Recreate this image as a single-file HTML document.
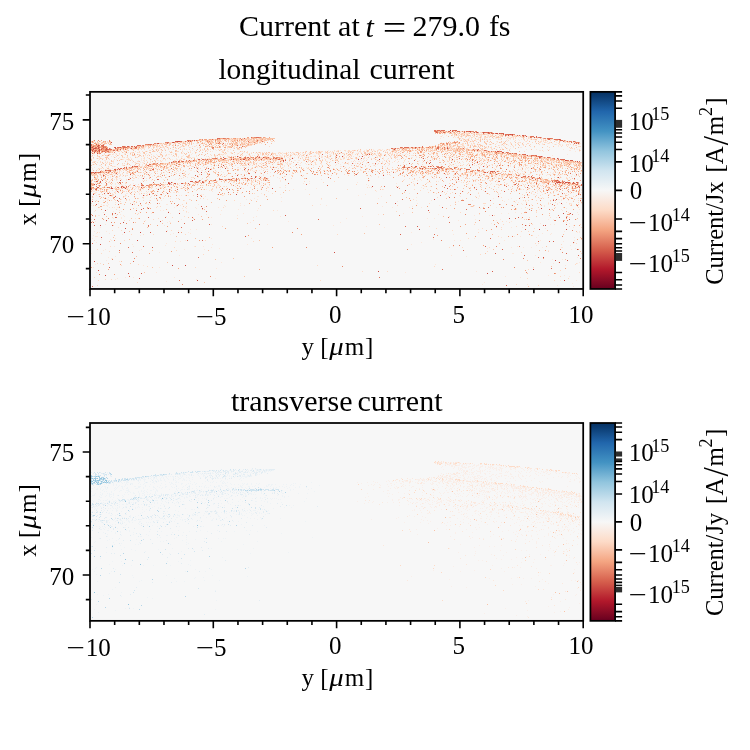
<!DOCTYPE html>
<html lang="en"><head><meta charset="utf-8"><title>Current at t = 279.0 fs</title>
<style>html,body{margin:0;padding:0;background:#fff}body{width:750px;height:750px;overflow:hidden}</style></head>
<body>
<svg width="750" height="750" viewBox="0 0 750 750" style="display:block;font-family:'Liberation Serif', 'DejaVu Serif', serif">
<rect width="750" height="750" fill="#fff"/>
<defs><linearGradient id="rdbu" x1="0" y1="1" x2="0" y2="0">
<stop offset="0.0" stop-color="#67001f"/>
<stop offset="0.1" stop-color="#b2182b"/>
<stop offset="0.2" stop-color="#d6604d"/>
<stop offset="0.3" stop-color="#f4a582"/>
<stop offset="0.4" stop-color="#fddbc7"/>
<stop offset="0.5" stop-color="#f7f7f7"/>
<stop offset="0.6" stop-color="#d1e5f0"/>
<stop offset="0.7" stop-color="#92c5de"/>
<stop offset="0.8" stop-color="#4393c3"/>
<stop offset="0.9" stop-color="#2166ac"/>
<stop offset="1.0" stop-color="#053061"/>
</linearGradient></defs>
<text><tspan x="238.97" y="36.00" font-size="30.00">Current at</tspan> <tspan x="365.58" y="36.70" font-size="30.00" font-style="italic">t</tspan> <tspan x="382.72" y="39.40" font-size="33.00" textLength="23.51" lengthAdjust="spacingAndGlyphs">=</tspan> <tspan x="412.38" y="36.00" font-size="30.00">279.0</tspan> <tspan x="488.88" y="36.00" font-size="30.00">fs</tspan></text>
<g>
<rect x="90.00" y="91.85" width="493.20" height="197.10" fill="#f7f7f7"/>
<path d="M165 143.5h1M190 140.5h1.5M134 146.5h3M187 140.5h3M181 141.5h1M150 145.5h3M135 146.5h2M131 147.5h1M180 141.5h1M198 140.5h1M126 147.5h3M163 143.5h3M112 149.5h1M155 144.5h1M150 144.5h2M165 143.5h2M109 150.5h1M170 142.5h3M131 146.5h2.5M188 141.5h2M175 141.5h2M115 148.5h3M157 143.5h1.5M153 144.5h3M187 140.5h2.5M142 145.5h1M161 143.5h3M129 147.5h3M144 145.5h2.5M169 142.5h1.5M185 141.5h1M191 140.5h1M120 148.5h2M158 143.5h2M141 145.5h3M129 147.5h2.5M187 141.5h2.5M157 143.5h2.5M176 142.5h2.5M110 150.5h1M141 145.5h3M162 143.5h1M190 140.5h3M193 140.5h2M107 150.5h3M109 150.5h1M155 143.5h1M138 146.5h2M195 140.5h1.5M189 141.5h3M114 149.5h1M155 144.5h2.5M195 140.5h1.5M126 147.5h2.5M191 140.5h2.5M184 141.5h2.5M118 148.5h1M151 144.5h3M168 142.5h1.5M231 138.5h1M252 138.5h1.5M237 138.5h3M262 138.5h2M205 140.5h3M228 139.5h1.5M219 138.5h3M234 138.5h1.5M215 139.5h3M242 139.5h1.5M204 139.5h1M244 138.5h1.5M239 138.5h1M219 139.5h2.5M260 138.5h1M135 147.5h1M120 149.5h2.5M118 150.5h1.5M115 150.5h1M127 148.5h2M107 151.5h1.5M129 147.5h2.5M115 150.5h2.5M132 146.5h2M119 149.5h1M106 151.5h2M106 152.5h3M114 150.5h3M122 149.5h3M117 149.5h1.5M108 150.5h1.5M138 146.5h2M127 146.5h2.5M123 147.5h1M133 147.5h2.5M136 147.5h1M136 147.5h2M138 146.5h2M132 148.5h2M137 146.5h1M118 148.5h2.5M122 149.5h1.5M125 149.5h1M102 151.5h1M91 145.5h1M95 148.5h1M97 145.5h1M98 147.5h1M93 148.5h1M92 148.5h1M106 151.5h1M97 149.5h1M94 149.5h1M101 146.5h1M103 147.5h1M91 145.5h1M98 146.5h1M93 146.5h1M93 148.5h1M93 152.5h1M95 150.5h1M106 149.5h1M97 147.5h1M103 145.5h1M98 146.5h1M103 149.5h1M106 150.5h1M93 145.5h1M101 149.5h1M106 147.5h1M105 151.5h1M93 149.5h1M99 145.5h1M105 147.5h1M95 147.5h1M97 146.5h1M103 150.5h1M97 147.5h1M102 149.5h1M104 150.5h1M96 144.5h1M103 147.5h1M101 151.5h1M91 146.5h1M93 149.5h1M105 149.5h1M91 152.5h1M97 152.5h1M96 150.5h1M95 151.5h1M94 149.5h1M92 149.5h1M105 151.5h1M98 146.5h1M106 149.5h1M94 149.5h1M96 148.5h1M95 146.5h1M96 146.5h1M111 142.5h1M115 149.5h3M123 147.5h1.5M114 149.5h2M113 150.5h2M121 148.5h1.5M124 149.5h1M104 149.5h2M117 147.5h1.5M113 150.5h1M125 149.5h1.5M124 147.5h1M120 148.5h2M121 149.5h1M104 151.5h1M114 147.5h2M107 151.5h1.5M116 150.5h2M105 150.5h2M103 151.5h2M121 148.5h1M112 149.5h1M114 149.5h2M107 149.5h1.5M109 151.5h2.5M113 149.5h1M127 147.5h2.5M122 149.5h1.5M107 151.5h1M120 147.5h3M136 166.5h2M100 171.5h1M125 168.5h1.5M93 173.5h3M132 168.5h1M132 166.5h2M117 170.5h1M118 169.5h2.5M125 167.5h1M94 173.5h2M129 167.5h2M122 169.5h1M101 172.5h3M108 170.5h2.5M132 167.5h2.5M104 171.5h3M136 166.5h2.5M95 172.5h2M92 174.5h1M125 167.5h1M93 172.5h1.5M123 168.5h1M114 169.5h3M118 169.5h1.5M133 166.5h3M269 158.5h3M165 164.5h1M266 157.5h2M187 161.5h1M254 158.5h3M269 158.5h3M198 159.5h2.5M211 159.5h1M223 159.5h3M259 157.5h1.5M142 166.5h1M281 158.5h1.5M206 159.5h1M164 163.5h3M188 160.5h2M240 157.5h1M249 158.5h3M244 157.5h2.5M183 161.5h3M220 158.5h1M187 161.5h2M251 157.5h2M265 158.5h3M207 159.5h2.5M196 160.5h1M223 159.5h2M148 165.5h2M245 158.5h1M176 162.5h2.5M185 161.5h1M171 162.5h1.5M193 160.5h2M276 157.5h1M251 158.5h1M192 160.5h1M192 161.5h3M232 158.5h1M249 157.5h1M255 157.5h1M280 158.5h1.5M271 158.5h1M280 158.5h1.5M281 159.5h1M249 159.5h2M257 158.5h1M252 159.5h2M243 158.5h2.5M258 158.5h1M273 158.5h1M260 158.5h3M261 158.5h1M261 158.5h2M242 159.5h2.5M258 158.5h2M255 159.5h1M238 158.5h3M257 156.5h2.5M253 159.5h2.5M247 158.5h3M253 158.5h1M255 159.5h3M249 158.5h2M253 158.5h1.5M266 158.5h2.5M262 158.5h2M262 158.5h2.5M248 158.5h2M275 159.5h1.5M266 159.5h3M255 159.5h1M263 158.5h2M268 158.5h2.5M249 159.5h3M239 158.5h2M261 158.5h1M241 158.5h1M240 159.5h2.5M240 159.5h3M257 158.5h1M267 158.5h1M255 158.5h1.5M278 159.5h2M255 159.5h1.5M247 158.5h2M265 158.5h1M250 158.5h2.5M264 158.5h2.5M260 158.5h2.5M245 159.5h2.5M278 159.5h1M267 159.5h3M255 159.5h3M273 158.5h1.5M240 158.5h3M253 157.5h1M247 160.5h1M282 159.5h1M270 159.5h1M240 158.5h3M259 158.5h2M266 158.5h1M280 159.5h2M278 159.5h1M274 159.5h1M278 158.5h1M269 159.5h2.5M256 157.5h1M274 159.5h2M238 158.5h2M268 158.5h3M245 159.5h2.5M240 158.5h2M244 159.5h1M253 159.5h1M230 179.5h3M173 183.5h3M98 188.5h1M118 189.5h1.5M259 178.5h2.5M264 177.5h1.5M209 181.5h1M181 183.5h2.5M198 181.5h1M221 179.5h1M188 183.5h1M265 178.5h2.5M109 187.5h1M190 181.5h3M102 187.5h1M228 179.5h2M168 183.5h1M202 182.5h2M245 178.5h3M230 180.5h3M97 187.5h2M168 182.5h1.5M156 185.5h2.5M199 180.5h1.5M96 188.5h1M224 179.5h1.5M195 181.5h1.5M96 189.5h1M91 189.5h1M96 181.5h1M100 182.5h1M490 132.5h1M488 132.5h2M452 131.5h1.5M547 138.5h2M571 142.5h2M480 132.5h1.5M522 135.5h2.5M578 142.5h1.5M488 133.5h1.5M542 138.5h1.5M491 133.5h1M490 133.5h1M502 134.5h2.5M501 133.5h3M536 137.5h1M578 143.5h1M562 140.5h2.5M561 140.5h2.5M535 137.5h1M549 139.5h2.5M515 135.5h1.5M516 135.5h3M556 139.5h1M439 130.5h1M551 139.5h1.5M489 133.5h2.5M492 133.5h1M453 131.5h2.5M554 139.5h2.5M530 137.5h2M505 135.5h1.5M510 134.5h3M456 131.5h2M435 130.5h3M513 135.5h2.5M435 130.5h2.5M498 133.5h1M540 137.5h1.5M531 136.5h2M556 139.5h1M511 135.5h2M544 138.5h1.5M513 135.5h1.5M553 139.5h1M529 136.5h3M561 140.5h3M466 131.5h2.5M480 132.5h2.5M509 134.5h3M526 136.5h1M533 137.5h3M537 137.5h1.5M484 132.5h1.5M496 133.5h2M465 132.5h1M560 140.5h2M536 136.5h1M513 135.5h2.5M438 130.5h2.5M498 133.5h2M438 130.5h2M515 135.5h2M511 134.5h3M506 134.5h2M454 130.5h3M574 143.5h2M515 135.5h2M484 132.5h1.5M496 133.5h2M439 131.5h1M526 136.5h2M517 135.5h2M517 135.5h1M474 132.5h2.5M566 141.5h2.5M519 135.5h1M443 131.5h1M455 131.5h1M439 132.5h1M446 131.5h1M437 132.5h1M434 131.5h1M455 132.5h1M444 132.5h1M437 132.5h1M442 133.5h1M443 131.5h1M437 131.5h1M435 131.5h1M436 132.5h1M437 131.5h1M436 131.5h1M435 130.5h1M450 131.5h1M454 132.5h1M455 132.5h1M434 130.5h1M440 131.5h1M439 133.5h1M440 132.5h1M452 131.5h1M456 131.5h1M439 133.5h1M448 131.5h1M434 131.5h1M453 131.5h1M441 130.5h1M445 147.5h1M569 161.5h2M555 159.5h2M540 157.5h2.5M402 148.5h1M564 160.5h2.5M397 148.5h1M554 158.5h1M508 153.5h1.5M422 147.5h1M495 151.5h1M442 147.5h1M578 162.5h1M562 160.5h1M418 147.5h2M454 148.5h2M550 158.5h3M460 148.5h3M536 156.5h1M547 157.5h2M449 148.5h1M523 154.5h3M543 157.5h1M463 149.5h1M570 160.5h3M512 153.5h2.5M441 148.5h1M540 156.5h1.5M443 147.5h1.5M470 149.5h1M503 152.5h1M458 148.5h3M454 148.5h3M579 162.5h1M574 161.5h1M459 149.5h1M408 147.5h2.5M434 148.5h2.5M469 149.5h3M526 155.5h1M476 149.5h1.5M455 148.5h1.5M565 160.5h2.5M431 147.5h1M404 147.5h1M502 152.5h1M457 148.5h1M411 148.5h2M400 148.5h2M449 148.5h2M403 148.5h1M449 148.5h2.5M404 147.5h1M451 148.5h3M529 156.5h2.5M501 152.5h1M578 162.5h1M528 156.5h1.5M546 158.5h3M462 149.5h3M564 160.5h2M520 154.5h1M496 152.5h1M480 150.5h2.5M506 152.5h1M571 161.5h2.5M446 148.5h2.5M431 147.5h2M483 150.5h1.5M549 158.5h1M514 153.5h1M572 161.5h3M497 151.5h3M456 148.5h2M547 157.5h2M395 148.5h3M574 161.5h2M455 148.5h2M414 147.5h1.5M442 148.5h1M551 158.5h2M491 151.5h2.5M439 147.5h1M552 181.5h3M403 167.5h2.5M484 172.5h1M419 168.5h2.5M491 171.5h2.5M481 170.5h1M507 174.5h1M565 182.5h2.5M416 167.5h1M508 174.5h1M482 170.5h1M527 177.5h1M521 177.5h3M531 176.5h1M434 168.5h3M570 184.5h2M573 183.5h3M570 184.5h3M493 171.5h2M466 169.5h1M439 167.5h3M428 166.5h3M485 172.5h3M507 174.5h3M496 174.5h1.5M482 172.5h2.5M455 168.5h1M421 166.5h2.5M528 176.5h1.5M543 179.5h1M415 166.5h2M440 168.5h1M430 168.5h1M567 182.5h3M566 183.5h1M554 180.5h3M568 184.5h2M554 181.5h2M576 184.5h2M557 181.5h1M558 181.5h1M561 182.5h3M565 182.5h2M564 184.5h1M578 186.5h1M557 182.5h2M576 182.5h2.5M560 182.5h1M578 186.5h1.5M568 183.5h1M559 183.5h2.5M573 184.5h1M560 183.5h2.5M528 185.5h1M208 171.5h1M115 213.5h1M149 202.5h1M285 215.5h1M270 157.5h1M444 173.5h1M104 214.5h1M153 182.5h1M574 178.5h1M504 191.5h1M360 208.5h1M116 173.5h1M577 205.5h1M492 271.5h1M573 242.5h1M94 225.5h1M229 189.5h1M226 158.5h1M569 219.5h1M536 183.5h1M244 169.5h1M197 176.5h1M112 225.5h1M485 246.5h1M526 212.5h1M100 181.5h1M400 234.5h1M201 172.5h1M402 181.5h1M440 195.5h1M104 193.5h1M553 241.5h1M449 197.5h1M141 183.5h1M178 232.5h1M167 167.5h1M115 217.5h1M166 231.5h1M566 253.5h1M195 175.5h1M275 171.5h1M409 163.5h1M150 170.5h1M512 175.5h1M209 224.5h1M197 171.5h1M566 174.5h1M417 226.5h1M496 226.5h1M547 190.5h1M197 168.5h1M407 168.5h1M474 187.5h1M227 158.5h1M208 168.5h1M525 229.5h1M506 285.5h1M423 158.5h1M111 187.5h1M502 177.5h1M245 236.5h1M379 156.5h1M175 174.5h1M249 173.5h1M273 167.5h1M536 174.5h1M502 249.5h1M559 217.5h1M157 179.5h1M218 175.5h1M430 162.5h1M562 193.5h1M117 191.5h1M117 200.5h1M118 191.5h1M153 169.5h1M279 159.5h1M119 182.5h1M531 168.5h1M540 178.5h1M524 255.5h1M285 160.5h1M516 175.5h1M175 168.5h1M580 200.5h1M500 164.5h1M455 173.5h1M93 184.5h1M145 171.5h1M141 273.5h1M152 247.5h1M296 164.5h1M485 191.5h1M525 176.5h1M495 253.5h1M177 205.5h1M105 174.5h1M120 180.5h1M567 260.5h1M518 217.5h1M578 194.5h1M480 182.5h1M438 170.5h1M201 206.5h1M579 187.5h1M110 195.5h1M414 160.5h1M216 160.5h1M115 196.5h1M141 209.5h1M444 167.5h1M358 152.5h1M472 164.5h1M150 232.5h1M375 163.5h1M538 170.5h1M160 221.5h1M109 267.5h1M442 207.5h1M539 177.5h1M192 220.5h1M128 179.5h1M565 196.5h1M223 157.5h1M105 224.5h1M447 188.5h1M231 159.5h1M101 237.5h1M336 155.5h1M335 162.5h1" stroke="#d6604d" stroke-width="1" fill="none"/>
<path d="M178 141.5h2.5M108 150.5h1M158 143.5h1M164 143.5h1.5M122 148.5h2M111 150.5h1M152 144.5h3M124 147.5h2.5M141 145.5h1M183 141.5h2.5M122 148.5h1M166 143.5h1.5M121 147.5h1M162 143.5h3M165 142.5h3M147 144.5h2.5M196 140.5h2.5M167 142.5h3M119 148.5h2.5M194 140.5h2.5M124 147.5h1M166 143.5h1.5M159 143.5h3M118 148.5h2.5M139 146.5h1M178 141.5h1.5M120 148.5h3M177 141.5h1M181 141.5h3M124 148.5h1.5M154 143.5h2M147 144.5h1M145 145.5h1M192 140.5h2.5M130 147.5h1.5M169 142.5h1.5M173 142.5h1M143 145.5h2.5M126 147.5h1M112 149.5h1M163 143.5h2M196 140.5h1.5M107 152.5h1M114 149.5h1.5M115 149.5h2.5M128 148.5h2.5M124 149.5h1.5M110 149.5h2.5M123 149.5h1M108 150.5h2M137 146.5h2.5M131 147.5h2.5M120 148.5h1M109 150.5h1M131 148.5h1M109 151.5h2M132 148.5h2M135 147.5h1M121 149.5h2M129 147.5h3M121 149.5h1M121 148.5h1M126 147.5h2.5M117 149.5h1.5M108 152.5h1.5M116 149.5h1M106 151.5h1M111 150.5h2M135 147.5h1M133 148.5h1M92 147.5h1M101 150.5h1M99 147.5h1M91 144.5h1M98 148.5h1M91 149.5h1M94 151.5h1M91 148.5h1M101 151.5h1M91 148.5h1M96 145.5h1M104 149.5h1M95 149.5h1M94 147.5h1M95 147.5h1M100 147.5h1M91 149.5h1M94 150.5h1M93 147.5h1M94 151.5h1M101 147.5h1M98 145.5h1M105 151.5h1M91 146.5h1M92 152.5h1M106 147.5h1M99 148.5h1M99 151.5h1M92 152.5h1M104 147.5h1M92 152.5h1M104 146.5h1M104 148.5h1M101 151.5h1M98 153.5h1M107 151.5h1M101 149.5h1M102 145.5h1M97 153.5h1M106 148.5h1M105 148.5h1M92 150.5h1M100 150.5h1M97 152.5h1M92 150.5h1M103 146.5h1M100 147.5h1M99 146.5h1M98 151.5h1M98 148.5h1M95 148.5h1M106 147.5h1M96 146.5h1M93 149.5h1M96 151.5h1M99 149.5h1M92 144.5h1M98 149.5h1M94 148.5h1M104 146.5h1M93 150.5h1M92 150.5h1M91 149.5h1M95 146.5h1M92 152.5h1M91 147.5h1M98 149.5h1M105 149.5h1M94 151.5h1M94 152.5h1M95 149.5h1M99 150.5h1M96 152.5h1M104 151.5h1M105 149.5h1M105 147.5h1M100 152.5h1M99 148.5h1M101 150.5h1M100 152.5h1M111 142.5h1M107 150.5h1M120 147.5h1M115 147.5h1M114 150.5h1M119 149.5h1M132 166.5h2.5M130 167.5h2.5M121 168.5h3M127 168.5h1M117 169.5h1M95 172.5h1M108 171.5h2M129 168.5h1.5M92 173.5h1M122 168.5h1M124 168.5h1M118 169.5h2.5M109 170.5h1M105 170.5h1M106 171.5h1M109 170.5h1M113 171.5h1.5M122 168.5h2.5M126 167.5h1M128 167.5h1.5M134 166.5h2.5M95 172.5h1M133 167.5h1M157 164.5h2M264 157.5h3M163 164.5h1M255 158.5h2M262 158.5h2.5M258 157.5h1.5M244 157.5h3M146 164.5h1M152 164.5h1M274 158.5h1.5M242 158.5h1M278 159.5h3M258 158.5h1.5M258 158.5h1M247 158.5h1M265 158.5h2M265 158.5h2M268 158.5h1M247 159.5h1.5M274 158.5h1M280 159.5h2M266 159.5h3M274 159.5h1M245 158.5h2.5M280 159.5h1M257 158.5h1M254 158.5h2M280 158.5h1M270 158.5h1.5M241 159.5h1.5M271 158.5h2.5M265 158.5h1M275 158.5h3M278 158.5h1M259 157.5h2.5M247 158.5h1M248 158.5h2M259 158.5h2.5M275 158.5h3M271 158.5h2.5M240 158.5h3M278 158.5h1M248 158.5h2M275 159.5h1M243 159.5h2.5M275 158.5h1.5M243 159.5h2M243 159.5h1M282 160.5h2M245 158.5h3M258 157.5h1M243 158.5h2.5M246 158.5h2M247 158.5h1M267 158.5h2M263 157.5h1M280 159.5h3M259 157.5h1M254 158.5h1M242 159.5h2M265 158.5h2M254 158.5h1M258 158.5h1M265 158.5h1M245 159.5h2M269 158.5h2M281 158.5h2M259 159.5h3M280 159.5h2.5M279 158.5h1M270 158.5h1.5M275 157.5h3M260 157.5h2M263 158.5h2M252 158.5h3M272 158.5h2M256 158.5h2M246 158.5h2.5M238 159.5h2M279 158.5h2M255 158.5h2.5M250 159.5h1M272 158.5h2M238 158.5h2.5M251 158.5h1.5M245 158.5h3M277 158.5h1M255 159.5h2M249 158.5h2M277 158.5h1M252 157.5h2M252 158.5h1M249 158.5h1M268 159.5h1.5M133 185.5h1M171 182.5h2M121 187.5h3M255 177.5h1M111 188.5h3M168 183.5h2.5M234 180.5h1M170 184.5h1.5M193 182.5h2M147 185.5h1.5M159 185.5h2M260 177.5h1M141 187.5h1M250 178.5h2.5M125 188.5h1M480 132.5h1.5M471 131.5h2.5M508 134.5h1M570 141.5h1M531 137.5h1M529 136.5h2.5M501 134.5h1M517 135.5h1M527 136.5h2M523 136.5h1M445 131.5h1M556 139.5h1.5M574 142.5h1M477 132.5h1.5M487 132.5h2.5M499 133.5h1M489 133.5h2.5M435 130.5h3M558 139.5h2.5M557 139.5h2.5M466 132.5h2.5M537 137.5h1.5M492 133.5h2M462 131.5h2.5M556 139.5h2M450 130.5h1M531 137.5h1.5M486 132.5h1.5M455 131.5h1.5M528 136.5h1M512 134.5h2.5M510 134.5h1M519 135.5h1M529 136.5h2.5M534 137.5h1.5M458 131.5h1.5M508 135.5h3M524 136.5h2.5M527 136.5h1M550 138.5h1M489 133.5h1.5M533 137.5h1M483 132.5h1M576 143.5h2.5M471 132.5h1.5M456 131.5h2.5M488 133.5h1M552 139.5h3M491 133.5h2M525 136.5h1M497 133.5h3M460 131.5h1.5M573 142.5h1.5M564 140.5h1M470 132.5h1.5M492 133.5h3M466 132.5h1M483 133.5h3M564 141.5h2M526 136.5h3M527 136.5h1.5M439 131.5h2M539 137.5h1M469 131.5h2.5M555 139.5h1M455 131.5h2M507 134.5h2.5M564 141.5h3M575 142.5h2M496 133.5h3M480 132.5h1M545 138.5h3M493 133.5h3M579 143.5h1M557 139.5h1.5M554 139.5h2.5M506 134.5h1M496 133.5h1.5M506 134.5h2M556 140.5h2M440 133.5h1M437 132.5h1M448 132.5h1M451 132.5h1M440 133.5h1M443 131.5h1M454 132.5h1M441 131.5h1M443 132.5h1M532 155.5h1M560 159.5h3M510 153.5h2M565 160.5h1.5M484 151.5h2.5M392 148.5h2.5M543 157.5h1.5M400 148.5h1M496 151.5h1M495 151.5h1M392 149.5h3M415 147.5h1.5M557 158.5h1.5M533 156.5h1.5M537 157.5h2.5M566 161.5h1M575 161.5h1M500 152.5h1M410 147.5h1.5M445 148.5h1M502 152.5h1M426 147.5h1M422 148.5h1M472 149.5h3M539 157.5h1M527 155.5h2M428 148.5h1M510 153.5h1.5M458 148.5h2M576 161.5h2M537 157.5h2M458 148.5h1M422 147.5h2M501 152.5h1M550 158.5h1M496 151.5h3M429 147.5h1.5M535 156.5h1M416 147.5h1.5M518 154.5h2M543 158.5h1M435 147.5h2M412 147.5h2.5M441 148.5h3M447 148.5h1M473 149.5h1.5M571 161.5h2M531 156.5h1.5M410 148.5h1M567 160.5h2M417 147.5h2M435 147.5h1.5M519 155.5h3M538 157.5h2M522 155.5h2M558 159.5h1M396 148.5h2.5M573 161.5h3M540 156.5h2.5M417 147.5h2M536 156.5h2.5M501 152.5h1M406 147.5h2M576 162.5h1M477 150.5h1M530 155.5h1M536 156.5h3M462 148.5h2M480 150.5h3M472 149.5h2M404 147.5h2.5M476 150.5h1.5M417 147.5h1M484 150.5h1.5M553 158.5h1.5M543 158.5h3M557 180.5h1.5M532 178.5h3M524 176.5h1M422 168.5h1.5M570 185.5h1M557 181.5h1M559 182.5h1M577 185.5h1.5M560 182.5h1M566 182.5h1M563 183.5h1M565 182.5h1M574 184.5h1M561 182.5h1.5M567 182.5h1.5M574 184.5h1M577 185.5h2M569 184.5h1M567 181.5h1M562 183.5h2.5M574 184.5h3M555 183.5h2.5M573 182.5h1M569 182.5h1.5M556 182.5h3M577 249.5h1M570 213.5h1M103 175.5h1M520 197.5h1M106 220.5h1M342 156.5h1M378 271.5h1M553 200.5h1M105 275.5h1M541 208.5h1M564 181.5h1M456 167.5h1M272 188.5h1M225 168.5h1M137 240.5h1M566 217.5h1M514 167.5h1M149 194.5h1M525 225.5h1M539 229.5h1M202 208.5h1M498 196.5h1M130 174.5h1M334 252.5h1M559 262.5h1M446 170.5h1M445 185.5h1M379 159.5h1M94 261.5h1M358 159.5h1M140 232.5h1M98 270.5h1M533 269.5h1M139 278.5h1M143 195.5h1M292 158.5h1M237 175.5h1M94 184.5h1M237 156.5h1M125 170.5h1M100 225.5h1M336 159.5h1M433 158.5h1M123 222.5h1M108 193.5h1M434 199.5h1M236 194.5h1M563 213.5h1M172 265.5h1M362 156.5h1M568 191.5h1M452 159.5h1M558 177.5h1M233 159.5h1M419 229.5h1M545 225.5h1M195 184.5h1M477 162.5h1M124 232.5h1M197 194.5h1M132 204.5h1M515 184.5h1M96 204.5h1M561 203.5h1M561 196.5h1M556 199.5h1M543 257.5h1M483 166.5h1M564 280.5h1M501 207.5h1M429 163.5h1M168 212.5h1M223 165.5h1M125 228.5h1M117 174.5h1M100 244.5h1M93 194.5h1M210 169.5h1M270 166.5h1M405 190.5h1M533 194.5h1M281 153.5h1M566 229.5h1M92 201.5h1M575 186.5h1M128 273.5h1M178 161.5h1M112 215.5h1M509 218.5h1M527 187.5h1M369 154.5h1M143 178.5h1M458 179.5h1M148 208.5h1M239 160.5h1M149 170.5h1M397 187.5h1M492 215.5h1M105 210.5h1M395 203.5h1M356 174.5h1M452 179.5h1M158 189.5h1M487 273.5h1M555 260.5h1M236 158.5h1M270 159.5h1M162 167.5h1M291 155.5h1M428 210.5h1M132 177.5h1M372 186.5h1M167 193.5h1M446 177.5h1M274 159.5h1M197 280.5h1M226 161.5h1M179 213.5h1M383 175.5h1M185 265.5h1" stroke="#cc4c42" stroke-width="1" fill="none"/>
<path d="M128 147.5h1M182 141.5h3M133 146.5h1M154 143.5h2.5M116 149.5h1M188 140.5h3M145 144.5h1M156 144.5h1M139 146.5h2.5M165 142.5h2M174 142.5h1M127 147.5h3M139 146.5h2.5M160 143.5h1M132 147.5h2.5M148 144.5h2.5M188 140.5h1.5M146 144.5h3M165 143.5h1M138 146.5h2M135 146.5h1.5M263 138.5h1.5M255 137.5h2.5M224 138.5h2.5M205 139.5h1.5M213 139.5h1M222 139.5h1.5M264 137.5h1M259 138.5h1M210 139.5h1M259 137.5h2.5M260 138.5h1.5M202 139.5h1M246 138.5h2.5M233 138.5h3M227 138.5h3M201 140.5h2M254 137.5h1M221 138.5h1.5M254 137.5h2M268 138.5h1.5M235 138.5h1.5M234 138.5h2M164 143.5h1M201 140.5h1M234 141.5h1M240 138.5h1M210 140.5h1M175 145.5h1M252 138.5h1M159 145.5h1M138 149.5h1M161 144.5h1M254 144.5h1M162 144.5h1M124 148.5h1M208 140.5h1M266 138.5h1M245 140.5h1M216 139.5h1M136 146.5h1M199 145.5h1M197 141.5h1M246 138.5h1M143 146.5h1M142 145.5h1M109 151.5h1M150 145.5h1M228 141.5h1M265 140.5h1M171 143.5h1M274 141.5h1M175 143.5h1M184 141.5h1M241 140.5h1M250 141.5h1M114 152.5h1M247 143.5h1M108 155.5h1M126 152.5h1M251 139.5h1M134 154.5h1M143 147.5h1M239 143.5h1M209 144.5h1M228 139.5h1M247 140.5h1M273 138.5h1M237 140.5h1M244 143.5h1M237 141.5h1M259 138.5h1M252 140.5h1M264 138.5h1M273 138.5h1M224 145.5h1M253 140.5h1M244 144.5h1M263 141.5h1M216 145.5h1M269 138.5h1M207 140.5h1M268 138.5h1M257 141.5h1M240 141.5h1M235 143.5h1M219 146.5h1M225 141.5h1M223 139.5h1M256 139.5h1M244 143.5h1M225 144.5h1M243 144.5h1M216 145.5h1M274 138.5h1M255 143.5h1M209 141.5h1M254 140.5h1M210 146.5h1M214 139.5h1M268 140.5h1M233 143.5h1M233 142.5h1M265 140.5h1M238 145.5h1M225 143.5h1M239 140.5h1M269 139.5h1M235 140.5h1M243 138.5h1M269 139.5h1M239 143.5h1M207 141.5h1M250 143.5h1M272 138.5h1M225 141.5h1M255 143.5h1M262 141.5h1M270 138.5h1M239 147.5h1M208 142.5h1M212 148.5h1M255 140.5h1M231 145.5h1M222 144.5h1M243 143.5h1M266 139.5h1M212 147.5h1M252 143.5h1M242 139.5h1M218 142.5h1M266 138.5h1M252 139.5h1M262 139.5h1M213 142.5h1M208 141.5h1M257 139.5h1M262 140.5h1M254 142.5h1M273 138.5h1M250 143.5h1M220 147.5h1M248 144.5h1M258 139.5h1M234 144.5h1M233 140.5h1M206 145.5h1M272 138.5h1M215 140.5h1M222 146.5h1M257 141.5h1M264 140.5h1M221 141.5h1M273 138.5h1M211 146.5h1M232 144.5h1M215 147.5h1M215 141.5h1M135 148.5h3M117 148.5h1M93 147.5h1M101 146.5h1M100 153.5h1M96 146.5h1M96 152.5h1M96 149.5h1M100 152.5h1M101 147.5h1M93 148.5h1M93 147.5h1M94 151.5h1M98 149.5h1M100 147.5h1M105 147.5h1M92 146.5h1M96 152.5h1M94 150.5h1M93 152.5h1M105 147.5h1M102 147.5h1M103 146.5h1M95 147.5h1M107 150.5h1M104 147.5h1M101 145.5h1M91 145.5h1M102 150.5h1M97 145.5h1M105 149.5h1M101 145.5h1M104 147.5h1M91 148.5h1M102 147.5h1M91 145.5h1M105 147.5h1M99 153.5h1M95 147.5h1M99 148.5h1M105 151.5h1M92 146.5h1M92 152.5h1M101 147.5h1M91 144.5h1M93 144.5h1M98 150.5h1M92 149.5h1M103 148.5h1M104 146.5h1M97 148.5h1M103 148.5h1M106 146.5h1M104 149.5h1M99 152.5h1M99 152.5h1M101 148.5h1M103 149.5h1M91 144.5h1M105 146.5h1M97 151.5h1M103 148.5h1M110 141.5h1M95 142.5h1M103 144.5h1M91 144.5h1M107 142.5h1M98 144.5h1M108 142.5h1M92 144.5h1M98 142.5h1M105 143.5h1M95 142.5h1M109 142.5h1M106 143.5h1M109 140.5h1M109 141.5h1M94 141.5h1M94 140.5h1M96 143.5h1M95 143.5h1M98 140.5h1M101 143.5h1M99 141.5h1M108 142.5h1M108 143.5h1M92 141.5h1M91 142.5h1M108 149.5h3M116 149.5h1M105 151.5h1.5M126 148.5h3M103 151.5h2.5M108 151.5h1.5M121 149.5h3M117 149.5h1.5M103 150.5h2M123 147.5h3M106 150.5h1M121 148.5h2.5M124 149.5h1.5M113 149.5h1M115 149.5h2M108 149.5h1.5M106 150.5h3M119 149.5h1M125 147.5h3M122 147.5h1M122 148.5h1M113 149.5h3M109 149.5h2M104 150.5h2M120 150.5h1M108 149.5h2M119 148.5h2M110 151.5h3M112 151.5h2M115 149.5h1M122 148.5h2M116 149.5h1M126 168.5h1.5M96 172.5h3M93 174.5h2M96 172.5h1.5M138 166.5h2M111 170.5h2.5M106 170.5h2.5M101 172.5h2.5M91 173.5h1.5M132 167.5h1.5M128 167.5h2M113 170.5h2M130 167.5h1.5M108 169.5h2.5M131 168.5h1M131 167.5h1M99 172.5h1M177 162.5h2M201 160.5h1M212 158.5h3M149 165.5h2M274 158.5h3M175 162.5h1M190 161.5h3M234 158.5h2.5M245 158.5h1M276 157.5h3M153 163.5h2.5M181 161.5h2M246 157.5h2M271 158.5h2.5M177 162.5h1.5M235 158.5h1M153 164.5h2M277 158.5h1M206 160.5h2.5M273 157.5h2.5M151 164.5h1.5M175 161.5h1M246 157.5h1.5M186 160.5h2M160 163.5h3M220 158.5h2M235 158.5h3M192 161.5h3M176 161.5h1M182 161.5h1M225 158.5h1.5M243 157.5h1M156 164.5h1M277 158.5h2.5M145 166.5h1M244 158.5h2M270 158.5h2M230 157.5h3M264 157.5h2.5M227 159.5h2.5M264 159.5h1M135 171.5h1M176 163.5h1M185 161.5h1M237 163.5h1M197 162.5h1M120 170.5h1M234 161.5h1M267 159.5h1M211 159.5h1M186 162.5h1M205 162.5h1M280 161.5h1M146 172.5h1M134 172.5h1M142 166.5h1M205 159.5h1M228 159.5h1M222 162.5h1M274 160.5h1M255 158.5h1M262 158.5h1M263 158.5h1M240 158.5h1M167 164.5h1M127 168.5h1M109 170.5h1M129 171.5h1M246 159.5h1M214 160.5h1M244 162.5h1M108 187.5h1.5M126 187.5h1.5M164 184.5h1.5M103 187.5h2M160 183.5h1M146 185.5h2M223 180.5h1M222 179.5h1M211 180.5h1M151 184.5h3M106 187.5h1M128 186.5h1M161 184.5h1M92 187.5h2M214 180.5h1M109 188.5h1.5M241 178.5h2.5M219 178.5h1M106 184.5h1M101 183.5h1M102 180.5h1M92 187.5h1M96 186.5h1M91 183.5h1M99 183.5h1M120 182.5h1M400 173.5h1M422 169.5h1M314 174.5h1M328 167.5h1M437 172.5h1M365 169.5h1M354 173.5h1M286 171.5h1M316 172.5h1M312 173.5h1M407 175.5h1M417 171.5h1M425 168.5h1M330 170.5h1M296 171.5h1M303 170.5h1M431 170.5h1M301 175.5h1M349 170.5h1M371 171.5h1M280 170.5h1M354 171.5h1M379 173.5h1M366 173.5h1M343 166.5h1M372 170.5h1M324 171.5h1M347 172.5h1M365 171.5h1M352 171.5h1M425 172.5h1M318 168.5h1M372 172.5h1M439 169.5h1M370 175.5h1M324 171.5h1M274 169.5h1M410 171.5h1M313 171.5h1M332 173.5h1M422 172.5h1M283 172.5h1M347 173.5h1M310 170.5h1M422 171.5h1M338 163.5h1M410 172.5h1M348 173.5h1M367 175.5h1M333 169.5h1M416 172.5h1M403 172.5h1M428 170.5h1M470 132.5h2M568 141.5h3M564 140.5h1.5M510 135.5h1.5M546 138.5h1.5M435 130.5h2.5M437 130.5h1M513 134.5h1.5M480 132.5h2.5M485 132.5h1M545 138.5h3M515 135.5h2.5M551 138.5h1.5M577 143.5h1M515 135.5h3M514 135.5h1M574 142.5h2M553 139.5h1M475 131.5h2M499 134.5h3M528 137.5h2.5M531 137.5h1M530 136.5h1M455 131.5h2M491 132.5h1.5M544 138.5h1M451 131.5h1M480 132.5h2.5M514 134.5h1M506 134.5h3M576 142.5h2.5M454 131.5h2.5M458 131.5h2M471 131.5h3M554 139.5h2M551 139.5h1M550 138.5h3M570 141.5h2M492 133.5h1M436 130.5h3M493 133.5h1.5M462 131.5h2M489 132.5h2.5M453 131.5h1.5M455 134.5h1M453 132.5h1M444 131.5h1M442 133.5h1M453 132.5h1M447 132.5h1M450 131.5h1M453 131.5h1M438 131.5h1M453 132.5h1M443 132.5h1M448 131.5h1M438 130.5h1M442 131.5h1M437 131.5h1M455 133.5h1M447 132.5h1M434 131.5h1M434 131.5h1M444 131.5h1M437 132.5h1M450 132.5h1M440 131.5h1M454 132.5h1M454 132.5h1M452 133.5h1M444 131.5h1M465 141.5h1M455 142.5h1M447 143.5h1M429 146.5h1M454 142.5h1M434 146.5h1M435 146.5h1M437 146.5h1M442 144.5h1M458 143.5h1M466 140.5h1M459 142.5h1M447 144.5h1M450 143.5h1M438 145.5h1M468 140.5h1M440 144.5h1M468 139.5h1M438 146.5h1M449 144.5h1M443 143.5h1M457 141.5h1M446 143.5h1M399 148.5h3M460 148.5h1M549 158.5h1.5M491 151.5h1M455 149.5h2.5M416 148.5h2.5M514 153.5h1M513 153.5h3M523 154.5h1M514 153.5h1.5M534 156.5h1M431 147.5h2.5M562 160.5h1M513 153.5h1M563 160.5h1M474 149.5h2M525 155.5h1M552 158.5h2.5M532 155.5h3M573 161.5h1M568 160.5h1M480 150.5h3M428 147.5h1M428 147.5h2.5M517 154.5h2M550 158.5h2M457 148.5h2M549 158.5h3M499 151.5h3M559 160.5h1M483 149.5h1M430 147.5h1M518 154.5h1.5M532 155.5h2M495 152.5h1M450 147.5h1.5M481 150.5h1.5M416 147.5h1M561 159.5h1.5M542 157.5h3M486 151.5h1M423 147.5h1M456 148.5h2.5M538 156.5h1.5M562 160.5h2.5M415 148.5h1M544 157.5h1.5M485 150.5h1.5M548 158.5h2M400 148.5h1M553 159.5h2.5M554 159.5h1M420 147.5h1M554 159.5h3M447 147.5h1.5M506 152.5h3M407 148.5h2.5M570 162.5h2.5M489 151.5h1M529 155.5h1.5M455 148.5h3M404 148.5h1M400 147.5h3M491 151.5h1M393 149.5h1M436 147.5h3M439 146.5h2M446 147.5h1.5M426 147.5h3M442 148.5h2.5M507 153.5h1M442 147.5h2.5M514 155.5h1M464 151.5h1M511 155.5h1M449 148.5h1M406 148.5h1M554 161.5h1M420 151.5h1M569 161.5h1M424 160.5h1M461 149.5h1M444 149.5h1M486 152.5h1M523 157.5h1M406 148.5h1M466 150.5h1M459 150.5h1M520 158.5h1M536 157.5h1M569 164.5h1M471 159.5h1M543 157.5h1M486 152.5h1M414 147.5h1M529 158.5h1M495 152.5h1M455 150.5h1M514 154.5h1M426 149.5h1M496 154.5h1M531 158.5h1M428 148.5h1M413 150.5h1M580 164.5h1M439 148.5h1M578 164.5h1M430 148.5h1M438 148.5h1M516 155.5h1M516 157.5h1M477 153.5h1M456 152.5h1M436 149.5h1M491 172.5h2.5M511 174.5h1M553 181.5h3M475 170.5h1M537 178.5h2M497 173.5h3M477 171.5h2.5M466 170.5h1M474 171.5h1M493 171.5h1M451 168.5h1M454 167.5h3M579 185.5h1M509 174.5h3M470 171.5h3M441 168.5h2.5M472 170.5h2.5M477 169.5h1M430 168.5h3M414 167.5h2M549 181.5h1.5M538 178.5h3M489 172.5h2.5M441 166.5h2M436 166.5h3M408 167.5h2M522 177.5h2.5M531 177.5h3M560 183.5h2M575 185.5h1M561 182.5h2M453 169.5h1M402 167.5h1.5M477 171.5h2M564 181.5h1M558 181.5h1.5M577 183.5h1.5M541 181.5h1M572 190.5h2.5M561 186.5h1M559 186.5h3M571 188.5h2.5M564 188.5h3M483 208.5h2M468 204.5h3M461 200.5h3M515 208.5h1M499 204.5h1.5M558 215.5h1M531 210.5h1M153 212.5h1M455 193.5h1M92 196.5h1M529 209.5h1M297 228.5h1M159 197.5h1M456 182.5h1M575 219.5h1M156 198.5h1M221 160.5h1M330 178.5h1M479 220.5h1M519 181.5h1M158 168.5h1M259 224.5h1M99 274.5h1M540 200.5h1M559 188.5h1M132 172.5h1M120 190.5h1M506 177.5h1M375 153.5h1M232 176.5h1M460 193.5h1M504 179.5h1M130 175.5h1M117 187.5h1M174 203.5h1M99 185.5h1M514 167.5h1M271 154.5h1M148 174.5h1M402 173.5h1M134 258.5h1M512 236.5h1M306 247.5h1M513 174.5h1M475 160.5h1M458 177.5h1M188 188.5h1M293 170.5h1M101 191.5h1M398 165.5h1M214 165.5h1M312 161.5h1M529 205.5h1M182 284.5h1M306 155.5h1M449 186.5h1M560 249.5h1M578 193.5h1M489 165.5h1M496 246.5h1M519 246.5h1M264 177.5h1M254 162.5h1M254 188.5h1M130 209.5h1M554 205.5h1M157 191.5h1M407 249.5h1M450 168.5h1M112 259.5h1M162 175.5h1M562 252.5h1M120 223.5h1M485 211.5h1M150 174.5h1M206 206.5h1M451 162.5h1M547 192.5h1M179 164.5h1M111 222.5h1M420 155.5h1M526 219.5h1M230 162.5h1M578 175.5h1M469 165.5h1M514 184.5h1M156 168.5h1M264 162.5h1M503 259.5h1M221 166.5h1M580 258.5h1M467 159.5h1M384 155.5h1M174 174.5h1M362 164.5h1M518 184.5h1M554 273.5h1M522 217.5h1M568 191.5h1M407 185.5h1M375 157.5h1M169 172.5h1M554 220.5h1M178 221.5h1M120 243.5h1M224 156.5h1M148 226.5h1M572 230.5h1M256 160.5h1M136 167.5h1M262 187.5h1M567 220.5h1M577 187.5h1M188 169.5h1M453 169.5h1M522 224.5h1M244 157.5h1M514 267.5h1M91 267.5h1M182 173.5h1M160 170.5h1M249 191.5h1M487 166.5h1M200 160.5h1M563 198.5h1M367 162.5h1M454 197.5h1M118 201.5h1M459 245.5h1M342 266.5h1M562 236.5h1M566 187.5h1M249 193.5h1M492 180.5h1M580 194.5h1M510 171.5h1M194 219.5h1M516 183.5h1M500 168.5h1M133 222.5h1M534 189.5h1M324 173.5h1M132 229.5h1M452 179.5h1M479 207.5h1M572 189.5h1M114 240.5h1M548 189.5h1M454 161.5h1M341 152.5h1M125 182.5h1M453 245.5h1M472 159.5h1M278 157.5h1M178 204.5h1M417 193.5h1M434 178.5h1M150 177.5h1M150 170.5h1M94 177.5h1M233 185.5h1M173 167.5h1M210 276.5h1M399 215.5h1M306 178.5h1M537 171.5h1M126 223.5h1M108 218.5h1M503 171.5h1M572 187.5h1M143 170.5h1M421 157.5h1M164 166.5h1M492 178.5h1M292 232.5h1M242 178.5h1M516 190.5h1M148 189.5h1M502 165.5h1M460 175.5h1M197 185.5h1M244 175.5h1M498 181.5h1M444 187.5h1M503 207.5h1M486 183.5h1M465 214.5h1M237 190.5h1M291 153.5h1M179 175.5h1M106 184.5h1M218 165.5h1M441 240.5h1M523 258.5h1M526 272.5h1M559 199.5h1" stroke="#e88a6b" stroke-width="1" fill="none"/>
<path d="M148 144.5h1.5M153 144.5h2.5M199 140.5h2M191 140.5h3M155 144.5h1.5M130 147.5h1M126 147.5h1M107 151.5h2M185 141.5h2M141 145.5h1M162 143.5h3M113 149.5h1.5M143 145.5h1M137 145.5h1M182 141.5h1.5M197 140.5h2M170 142.5h1M121 148.5h1M127 147.5h2M135 146.5h1.5M187 140.5h2M160 143.5h1.5M124 147.5h3M193 140.5h1M110 150.5h2.5M150 144.5h3M136 146.5h3M110 150.5h2.5M195 140.5h3M167 142.5h2.5M147 145.5h1.5M188 140.5h1M170 142.5h2.5M155 144.5h1M119 148.5h3M146 145.5h2M183 141.5h1M180 141.5h1M126 148.5h1.5M140 145.5h2M195 140.5h1M197 140.5h2.5M155 144.5h2.5M176 142.5h1M161 143.5h1.5M181 141.5h2.5M196 140.5h2M161 143.5h2.5M251 137.5h2.5M208 139.5h3M232 138.5h3M267 138.5h1M251 138.5h1M229 138.5h3M217 138.5h2.5M251 139.5h1M215 139.5h1M269 138.5h3M241 139.5h1.5M256 137.5h3M245 138.5h2M223 138.5h1.5M255 138.5h3M252 138.5h2.5M264 137.5h1M212 139.5h2.5M238 139.5h1M204 140.5h2.5M209 139.5h1M260 138.5h1.5M264 137.5h1M264 138.5h1.5M204 139.5h2.5M223 143.5h1M224 147.5h1M223 139.5h1M225 146.5h1M269 138.5h1M255 143.5h1M256 141.5h1M233 143.5h1M240 144.5h1M269 138.5h1M242 146.5h1M252 143.5h1M218 143.5h1M223 145.5h1M228 140.5h1M252 138.5h1M234 143.5h1M225 141.5h1M219 144.5h1M270 138.5h1M233 145.5h1M210 142.5h1M257 140.5h1M224 144.5h1M266 138.5h1M219 142.5h1M260 140.5h1M273 138.5h1M259 142.5h1M243 142.5h1M237 145.5h1M259 139.5h1M230 139.5h1M235 142.5h1M212 145.5h1M248 141.5h1M205 144.5h1M261 141.5h1M262 141.5h1M259 138.5h1M218 139.5h1M225 144.5h1M244 146.5h1M229 146.5h1M265 139.5h1M256 141.5h1M213 147.5h1M214 144.5h1M246 146.5h1M257 141.5h1M229 147.5h1M242 140.5h1M225 146.5h1M266 138.5h1M108 151.5h2M132 146.5h1.5M118 149.5h2M118 148.5h2.5M105 152.5h2.5M130 147.5h2.5M126 148.5h3M116 149.5h1M124 148.5h3M138 146.5h1M125 148.5h2.5M109 151.5h1M118 148.5h3M106 150.5h1M118 149.5h1.5M109 150.5h2M115 150.5h2.5M124 147.5h3M111 150.5h1M136 147.5h3M129 148.5h1M111 151.5h3M122 148.5h1M119 149.5h1M108 149.5h1M138 145.5h2.5M125 148.5h1M107 150.5h1M123 147.5h1M122 148.5h1M112 149.5h2.5M109 151.5h2M96 148.5h1M99 145.5h1M96 150.5h1M100 152.5h1M105 151.5h1M91 145.5h1M97 152.5h1M106 151.5h1M105 149.5h1M105 149.5h1M102 145.5h1M91 149.5h1M92 153.5h1M101 145.5h1M91 147.5h1M100 147.5h1M99 148.5h1M100 152.5h1M95 145.5h1M99 147.5h1M102 146.5h1M102 148.5h1M97 147.5h1M95 144.5h1M93 148.5h1M96 151.5h1M97 151.5h1M91 150.5h1M91 150.5h1M101 151.5h1M92 151.5h1M106 146.5h1M100 150.5h1M106 151.5h1M91 144.5h1M96 149.5h1M105 150.5h1M97 147.5h1M91 149.5h1M93 148.5h1M107 150.5h1M106 147.5h1M96 147.5h1M95 149.5h1M98 152.5h1M102 147.5h1M91 149.5h1M97 151.5h1M97 152.5h1M92 151.5h1M105 147.5h1M103 146.5h1M106 146.5h1M98 146.5h1M102 148.5h1M95 147.5h1M93 144.5h1M94 145.5h1M101 151.5h1M92 152.5h1M104 151.5h1M92 144.5h1M107 147.5h1M93 151.5h1M97 151.5h1M98 150.5h1M110 142.5h1M122 146.5h3M115 149.5h1M109 148.5h1.5M115 149.5h1M105 152.5h2M124 147.5h3M113 150.5h2.5M122 148.5h1M110 149.5h3M108 150.5h1M117 147.5h3M123 148.5h2.5M119 148.5h3M105 150.5h3M123 148.5h3M117 149.5h1M123 147.5h2.5M106 151.5h1.5M105 151.5h3M107 151.5h2.5M124 148.5h3M122 147.5h1M112 149.5h2M111 152.5h1.5M104 151.5h1M109 150.5h1.5M124 149.5h2M119 148.5h2M114 149.5h3M116 149.5h1M121 148.5h1M126 148.5h1M109 149.5h1M117 169.5h2M134 166.5h3M109 170.5h3M91 172.5h2M134 166.5h3M134 167.5h3M118 168.5h3M124 168.5h1.5M121 168.5h2.5M124 167.5h2.5M138 166.5h3M118 168.5h1.5M133 167.5h2M126 168.5h1M116 169.5h1M138 166.5h1M98 172.5h3M108 171.5h3M106 172.5h3M98 172.5h1.5M106 171.5h1.5M107 171.5h2.5M105 171.5h2.5M120 168.5h1.5M248 157.5h1.5M236 158.5h1.5M280 159.5h1.5M235 158.5h1M253 158.5h1M179 161.5h1M237 158.5h3M259 158.5h2M268 157.5h1.5M182 161.5h3M240 158.5h1M202 159.5h2.5M239 157.5h2.5M212 159.5h2M269 157.5h1M157 163.5h1M149 164.5h3M166 163.5h1.5M173 161.5h1.5M227 158.5h1M225 158.5h2M229 158.5h1.5M145 165.5h3M215 158.5h2.5M224 158.5h2M245 157.5h1M239 158.5h2.5M145 166.5h1M280 158.5h1M241 158.5h1M282 158.5h1M260 158.5h1M247 159.5h1M278 158.5h1M253 158.5h1.5M280 158.5h1.5M277 159.5h2.5M243 157.5h1M244 158.5h2M262 158.5h1.5M245 158.5h3M258 158.5h1M277 159.5h2.5M252 158.5h2.5M262 157.5h1M281 158.5h1M241 158.5h3M255 158.5h1M252 158.5h1M266 158.5h3M250 158.5h3M241 159.5h2M257 159.5h1M248 158.5h2M259 159.5h1.5M253 158.5h2M259 158.5h2M259 158.5h1M242 158.5h1.5M259 159.5h2.5M249 159.5h3M268 157.5h1M273 158.5h3M239 158.5h3M274 158.5h2.5M278 159.5h1M250 159.5h3M273 158.5h1.5M271 158.5h2.5M276 158.5h2M250 159.5h3M261 158.5h1M270 159.5h1M270 158.5h1.5M245 157.5h1M246 158.5h1.5M272 159.5h1.5M270 158.5h1.5M250 158.5h1M279 158.5h2M246 157.5h1.5M272 159.5h2M267 158.5h1M279 159.5h1M268 158.5h1.5M267 158.5h2.5M271 159.5h1M266 159.5h3M268 159.5h2M248 159.5h2.5M241 158.5h1M268 159.5h1M254 158.5h1M257 159.5h1.5M261 158.5h2M252 158.5h2M251 157.5h3M264 158.5h3M279 158.5h2M101 189.5h1.5M219 179.5h2.5M259 178.5h2M236 178.5h1M202 181.5h1.5M152 185.5h1M148 186.5h1M141 185.5h3M265 180.5h3M223 180.5h3M133 185.5h2M260 178.5h2.5M230 180.5h3M126 186.5h1M235 179.5h2.5M169 184.5h1M155 184.5h1M121 186.5h2M163 184.5h1M228 178.5h1M121 186.5h2.5M124 187.5h1M158 184.5h1M247 179.5h2M214 180.5h2M196 182.5h2.5M91 188.5h1M251 178.5h1M107 187.5h1M91 183.5h1M97 180.5h1M94 188.5h1M118 187.5h1M106 183.5h1M91 183.5h1M91 188.5h1M102 180.5h1M95 189.5h1M93 184.5h1M97 180.5h1M95 183.5h1M92 180.5h1M96 184.5h1M97 181.5h1M93 189.5h1M90 188.5h1M100 185.5h1M435 130.5h3M439 130.5h1M475 132.5h1.5M484 133.5h1M483 133.5h1.5M494 133.5h1M549 138.5h2.5M546 138.5h2M485 132.5h3M547 138.5h1M472 132.5h1.5M547 139.5h2.5M452 130.5h3M536 137.5h2M517 136.5h1.5M464 131.5h1M434 130.5h2.5M455 131.5h1M532 136.5h1.5M523 136.5h1.5M456 131.5h1M552 139.5h1M456 131.5h2M566 141.5h2M531 136.5h1M500 133.5h1M460 131.5h1.5M554 139.5h2.5M528 136.5h1M555 139.5h1M490 133.5h1M490 133.5h2.5M442 131.5h1.5M437 130.5h2M519 135.5h1M493 133.5h1M573 141.5h2.5M563 141.5h1M548 138.5h1M488 133.5h2M528 136.5h2.5M527 136.5h1M442 130.5h3M533 136.5h1M467 131.5h2M493 133.5h3M516 135.5h1.5M517 135.5h3M528 136.5h1.5M556 139.5h3M560 139.5h1M547 138.5h1M485 133.5h2.5M561 140.5h2.5M441 130.5h1.5M504 134.5h3M458 131.5h2M476 132.5h1M548 138.5h3M449 131.5h2M505 134.5h1M515 135.5h2.5M471 132.5h2M491 132.5h1M489 133.5h1M446 131.5h2M539 137.5h1.5M492 133.5h1M507 134.5h2.5M525 135.5h1M516 135.5h3M562 140.5h1.5M464 132.5h3M447 131.5h2.5M571 142.5h3M448 132.5h1M450 133.5h1M445 133.5h1M446 131.5h1M445 131.5h1M443 132.5h1M435 130.5h1M441 131.5h1M455 131.5h1M450 131.5h1M453 131.5h1M436 131.5h1M455 131.5h1M453 132.5h1M439 131.5h1M442 132.5h1M437 132.5h1M445 131.5h1M444 131.5h1M439 132.5h1M442 131.5h1M449 132.5h1M434 130.5h1M438 130.5h1M454 133.5h1M450 132.5h1M455 131.5h1M435 132.5h1M446 131.5h1M440 131.5h1M439 147.5h1M522 154.5h2.5M526 155.5h1M428 147.5h1M417 148.5h1.5M505 152.5h1M437 147.5h1.5M443 147.5h3M553 159.5h1M575 161.5h2M573 161.5h1.5M508 153.5h2M498 152.5h3M490 151.5h3M567 160.5h1.5M499 152.5h2M536 156.5h2M437 147.5h2.5M483 150.5h1M464 148.5h2M530 156.5h2M404 147.5h3M470 149.5h2M470 149.5h2M458 148.5h1M567 161.5h1M474 150.5h3M548 157.5h2.5M493 151.5h1.5M411 147.5h1M421 147.5h2.5M535 155.5h2M576 162.5h1.5M478 149.5h1M462 148.5h2.5M486 151.5h3M471 149.5h1M528 155.5h2M579 162.5h1.5M485 151.5h2.5M391 148.5h2M478 150.5h1M485 150.5h1.5M422 148.5h1M459 148.5h3M479 150.5h1M486 151.5h2M531 155.5h2.5M412 147.5h1M556 159.5h2.5M457 148.5h2M562 159.5h1M515 153.5h2M579 161.5h1M510 153.5h1M495 152.5h1.5M540 157.5h3M473 149.5h1M455 148.5h1M457 148.5h1.5M422 146.5h1M438 147.5h1.5M400 147.5h2M558 159.5h1M513 154.5h1.5M551 159.5h1.5M538 156.5h3M506 152.5h1.5M570 161.5h2.5M492 151.5h2.5M404 147.5h1M499 152.5h2M446 147.5h2M483 150.5h2.5M483 151.5h2M509 153.5h2M413 148.5h2.5M533 155.5h1M406 147.5h3M559 159.5h3M452 148.5h1.5M459 148.5h2.5M446 147.5h1.5M559 159.5h3M499 152.5h1M536 156.5h1M410 148.5h1M523 154.5h1M491 151.5h2.5M545 158.5h1M563 159.5h2M494 151.5h2M571 161.5h1M500 151.5h2M531 155.5h2M436 148.5h3M502 174.5h3M408 167.5h2.5M517 175.5h2.5M432 168.5h1.5M581 185.5h1M474 170.5h1M458 169.5h3M526 177.5h1.5M499 173.5h1.5M479 172.5h1M566 183.5h2.5M510 175.5h2.5M437 167.5h2.5M546 179.5h1M495 172.5h1M526 177.5h1M452 169.5h1.5M454 168.5h1M448 169.5h2M490 171.5h1M541 179.5h1M556 181.5h2.5M446 169.5h2M423 167.5h2.5M558 181.5h2M547 179.5h1M467 169.5h3M562 183.5h1.5M523 176.5h3M533 177.5h1M569 184.5h1.5M477 170.5h3M411 166.5h2M562 183.5h2.5M493 173.5h1.5M529 177.5h2M554 180.5h2.5M571 183.5h1M572 184.5h1.5M575 184.5h2M556 182.5h1M579 185.5h1M555 180.5h2M571 183.5h3M567 184.5h3M561 181.5h2.5M562 180.5h1M568 183.5h1M573 184.5h1M570 183.5h1M581 184.5h1M568 185.5h1.5M561 181.5h1M561 181.5h1M567 182.5h1M563 183.5h2.5M567 187.5h1M543 182.5h1M548 183.5h1M561 185.5h2M535 179.5h2.5M544 181.5h2.5M552 184.5h2M405 226.5h1M499 181.5h1M484 169.5h1M415 159.5h1M322 154.5h1M169 189.5h1M169 191.5h1M222 176.5h1M417 183.5h1M551 268.5h1M283 161.5h1M360 159.5h1M514 165.5h1M222 188.5h1M233 157.5h1M416 175.5h1M555 220.5h1M157 203.5h1M282 165.5h1M179 280.5h1M144 173.5h1M218 167.5h1M459 158.5h1M250 158.5h1M515 218.5h1M368 180.5h1M318 219.5h1M112 214.5h1M552 204.5h1M202 240.5h1M476 189.5h1M236 180.5h1M578 255.5h1M472 160.5h1M524 197.5h1M156 195.5h1M255 176.5h1M361 158.5h1M363 161.5h1M286 174.5h1M273 158.5h1M177 189.5h1M272 159.5h1M561 181.5h1M248 164.5h1M92 243.5h1M197 196.5h1M368 162.5h1M91 222.5h1M508 165.5h1M105 198.5h1M119 250.5h1M248 173.5h1M560 189.5h1M404 165.5h1M94 219.5h1M209 174.5h1M367 154.5h1M166 167.5h1M120 183.5h1M143 208.5h1M540 169.5h1M256 165.5h1M433 166.5h1M285 179.5h1M181 227.5h1M92 286.5h1M400 153.5h1M115 170.5h1M442 269.5h1M194 167.5h1M218 194.5h1M158 179.5h1M572 214.5h1M148 217.5h1M201 174.5h1M448 217.5h1M490 200.5h1M255 172.5h1M192 217.5h1M92 215.5h1M205 169.5h1M169 176.5h1M352 163.5h1M506 169.5h1M129 276.5h1M506 186.5h1M490 173.5h1M119 184.5h1M136 210.5h1M125 198.5h1M93 222.5h1M176 165.5h1M165 217.5h1M490 238.5h1M206 211.5h1M112 213.5h1M512 205.5h1M306 161.5h1M176 162.5h1M526 204.5h1M549 209.5h1M187 240.5h1M272 169.5h1M336 157.5h1M128 247.5h1M570 173.5h1M404 166.5h1M153 193.5h1M327 185.5h1M119 198.5h1M288 183.5h1M137 171.5h1M449 222.5h1M384 186.5h1M566 224.5h1M117 177.5h1M240 188.5h1M138 166.5h1M161 170.5h1M201 196.5h1M189 184.5h1M555 174.5h1M576 174.5h1M504 185.5h1M247 160.5h1M466 209.5h1M143 246.5h1M519 198.5h1M543 225.5h1M433 237.5h1M529 225.5h1M171 168.5h1M470 194.5h1M116 217.5h1M458 165.5h1M306 184.5h1M257 158.5h1M402 199.5h1M527 194.5h1M140 203.5h1M564 193.5h1M549 241.5h1M152 169.5h1M528 219.5h1M285 162.5h1M130 178.5h1M497 171.5h1M462 191.5h1M434 234.5h1M463 250.5h1M556 191.5h1M241 159.5h1M499 165.5h1M251 176.5h1M264 172.5h1M538 257.5h1M471 174.5h1M294 154.5h1M248 169.5h1M393 172.5h1M538 241.5h1M319 158.5h1M260 177.5h1M161 194.5h1M132 252.5h1M328 177.5h1M245 168.5h1M563 221.5h1M442 191.5h1M198 257.5h1M148 225.5h1M426 162.5h1M133 261.5h1M470 167.5h1M118 204.5h1M454 189.5h1M228 192.5h1M95 181.5h1M488 207.5h1M291 168.5h1M114 197.5h1M379 277.5h1M184 223.5h1" stroke="#de6f58" stroke-width="1" fill="none"/>
<path d="M269 137.5h1M220 138.5h2.5M199 140.5h3M219 139.5h3M220 139.5h1M208 139.5h3M208 139.5h2M220 139.5h1.5M263 137.5h2.5M221 138.5h2M247 137.5h2M255 138.5h1M253 138.5h2.5M252 137.5h1.5M271 138.5h2.5M214 139.5h3M233 138.5h1M222 139.5h1M204 139.5h3M216 139.5h1.5M219 139.5h3M204 139.5h1.5M234 138.5h1.5M219 139.5h2.5M266 138.5h1.5M199 139.5h2.5M227 139.5h1M257 138.5h1M119 148.5h1M186 141.5h1M142 147.5h1M132 148.5h1M127 148.5h1M132 147.5h1M177 142.5h1M252 138.5h1M249 143.5h1M272 139.5h1M115 150.5h1M258 139.5h1M239 140.5h1M267 142.5h1M216 142.5h1M218 139.5h1M219 140.5h1M269 138.5h1M264 139.5h1M133 147.5h1M207 140.5h1M265 144.5h1M200 141.5h1M233 138.5h1M169 143.5h1M204 142.5h1M187 142.5h1M252 139.5h1M226 139.5h1M121 148.5h1M244 143.5h1M129 147.5h1M215 141.5h1M120 150.5h1M116 149.5h1M142 146.5h1M112 151.5h1M116 150.5h1M156 144.5h1M128 147.5h1M160 144.5h1M156 145.5h1M155 144.5h1M134 148.5h1M155 144.5h1M176 142.5h1M232 138.5h1M198 142.5h1M239 139.5h1M269 139.5h1M127 148.5h1M134 148.5h1M122 148.5h1M161 143.5h1M215 139.5h1M125 148.5h1M212 143.5h1M108 152.5h1M139 147.5h1M273 140.5h1M232 141.5h1M149 152.5h1M175 143.5h1M244 139.5h1M170 144.5h1M202 143.5h1M230 139.5h1M150 145.5h1M171 143.5h1M177 142.5h1M126 148.5h1M179 142.5h1M233 140.5h1M129 147.5h1M182 144.5h1M217 141.5h1M197 142.5h1M192 141.5h1M183 141.5h1M267 138.5h1M148 147.5h1M202 140.5h1M242 142.5h1M191 141.5h1M219 144.5h1M186 145.5h1M175 142.5h1M255 142.5h1M268 138.5h1M223 142.5h1M246 139.5h1M234 138.5h1M267 138.5h1M132 147.5h1M261 138.5h1M133 147.5h1M210 141.5h1M259 138.5h1M197 140.5h1M261 140.5h1M197 141.5h1M165 149.5h1M141 147.5h1M156 147.5h1M129 147.5h1M164 144.5h1M231 139.5h1M217 147.5h1M254 140.5h1M219 143.5h1M210 141.5h1M255 143.5h1M220 143.5h1M232 143.5h1M244 141.5h1M207 145.5h1M256 141.5h1M244 146.5h1M255 142.5h1M254 140.5h1M262 139.5h1M272 138.5h1M242 140.5h1M264 141.5h1M217 141.5h1M244 144.5h1M264 140.5h1M205 147.5h1M244 141.5h1M244 144.5h1M264 140.5h1M272 138.5h1M254 144.5h1M250 139.5h1M251 142.5h1M231 147.5h1M270 138.5h1M249 142.5h1M249 145.5h1M248 144.5h1M207 148.5h1M253 139.5h1M271 139.5h1M270 138.5h1M261 138.5h1M215 139.5h1M231 141.5h1M228 142.5h1M273 138.5h1M263 139.5h1M205 146.5h1M218 145.5h1M211 144.5h1M259 140.5h1M208 142.5h1M250 139.5h1M214 144.5h1M239 140.5h1M217 146.5h1M220 139.5h1M255 141.5h1M243 144.5h1M224 147.5h1M209 146.5h1M271 138.5h1M255 143.5h1M236 142.5h1M234 140.5h1M258 139.5h1M262 139.5h1M213 148.5h1M219 147.5h1M265 138.5h1M249 138.5h1M220 139.5h1M248 143.5h1M241 147.5h1M257 138.5h1M262 140.5h1M245 140.5h1M231 145.5h1M272 138.5h1M232 146.5h1M257 143.5h1M263 139.5h1M273 138.5h1M259 140.5h1M219 141.5h1M205 142.5h1M261 140.5h1M250 144.5h1M257 141.5h1M219 140.5h1M247 138.5h1M234 144.5h1M216 143.5h1M226 139.5h1M267 140.5h1M271 138.5h1M210 143.5h1M225 147.5h1M240 144.5h1M225 140.5h1M250 140.5h1M231 145.5h1M96 146.5h1M96 145.5h1M98 149.5h1M102 149.5h1M97 152.5h1M97 147.5h1M96 146.5h1M93 150.5h1M102 147.5h1M101 151.5h1M93 152.5h1M93 151.5h1M98 152.5h1M95 149.5h1M96 149.5h1M95 152.5h1M106 146.5h1M104 149.5h1M101 152.5h1M99 148.5h1M102 149.5h1M107 150.5h1M100 149.5h1M97 145.5h1M97 152.5h1M101 147.5h1M104 148.5h1M94 146.5h1M91 146.5h1M104 150.5h1M99 146.5h1M98 151.5h1M95 146.5h1M101 150.5h1M97 152.5h1M100 147.5h1M93 147.5h1M97 147.5h1M97 149.5h1M97 147.5h1M105 148.5h1M107 147.5h1M100 149.5h1M95 145.5h1M107 148.5h1M101 151.5h1M94 145.5h1M97 150.5h1M97 152.5h1M97 150.5h1M100 150.5h1M103 150.5h1M102 150.5h1M92 148.5h1M93 144.5h1M94 145.5h1M106 147.5h1M91 148.5h1M93 150.5h1M93 145.5h1M104 148.5h1M91 146.5h1M91 150.5h1M97 141.5h1M94 143.5h1M91 142.5h1M95 144.5h1M104 143.5h1M104 141.5h1M98 144.5h1M101 140.5h1M105 141.5h1M97 143.5h1M95 143.5h1M91 142.5h1M97 141.5h1M100 144.5h1M110 143.5h1M94 141.5h1M104 144.5h1M92 142.5h1M98 143.5h1M108 143.5h1M99 143.5h1M103 141.5h1M99 141.5h1M101 142.5h1M108 150.5h3M116 148.5h3M121 147.5h2M105 151.5h2M109 150.5h1.5M105 151.5h1M122 149.5h2.5M109 150.5h3M125 146.5h1M107 150.5h3M127 147.5h1M278 157.5h3M232 158.5h3M151 164.5h2M250 157.5h1.5M180 162.5h2.5M179 160.5h1M279 158.5h2M231 158.5h2.5M173 162.5h3M255 157.5h1.5M159 164.5h2M146 164.5h1M173 162.5h2M235 158.5h1.5M203 160.5h1.5M191 160.5h2M262 158.5h2.5M265 157.5h3M167 163.5h1.5M261 158.5h3M274 158.5h1M146 165.5h1.5M186 161.5h2.5M162 163.5h2M253 158.5h2M246 158.5h3M169 162.5h1M201 160.5h1M258 157.5h1M154 164.5h3M194 160.5h1M252 157.5h1.5M209 159.5h2.5M233 161.5h1M120 184.5h1M227 170.5h1M218 160.5h1M93 175.5h1M104 175.5h1M147 168.5h1M136 171.5h1M155 173.5h1M191 168.5h1M238 162.5h1M195 164.5h1M266 163.5h1M113 197.5h1M225 161.5h1M122 182.5h1M235 173.5h1M172 171.5h1M120 187.5h1M265 162.5h1M149 175.5h1M242 160.5h1M108 175.5h1M207 176.5h1M201 162.5h1M101 177.5h1M145 167.5h1M103 172.5h1M153 168.5h1M97 183.5h1M183 166.5h1M184 166.5h1M272 162.5h1M138 168.5h1M116 176.5h1M244 158.5h1M221 164.5h1M169 166.5h1M173 169.5h1M206 162.5h1M133 169.5h1M265 167.5h1M267 166.5h1M138 168.5h1M225 161.5h1M205 160.5h1M263 165.5h1M198 162.5h1M117 174.5h1M136 177.5h1M234 159.5h1M195 165.5h1M122 174.5h1M153 170.5h1M126 175.5h1M208 159.5h1M143 168.5h1M231 164.5h1M112 176.5h1M234 163.5h1M274 160.5h1M232 168.5h1M277 162.5h1M271 159.5h1M280 158.5h1M96 179.5h1M212 160.5h1M195 161.5h1M166 163.5h1M164 167.5h1M189 161.5h1M93 183.5h1M246 160.5h1M217 174.5h1M189 168.5h1M278 161.5h1M251 169.5h1M265 171.5h1M105 176.5h1M206 168.5h1M222 162.5h1M112 174.5h1M274 172.5h1M218 175.5h1M256 170.5h1M187 163.5h1M254 167.5h1M242 163.5h1M151 168.5h1M150 165.5h1M265 159.5h1M103 176.5h1M245 165.5h1M236 160.5h1M112 180.5h1M168 170.5h1M105 178.5h1M156 166.5h1M221 161.5h1M183 165.5h1M114 173.5h1M207 160.5h1M161 167.5h1M210 161.5h1M148 168.5h1M122 169.5h1M224 160.5h1M272 167.5h1M162 164.5h1M200 164.5h1M190 170.5h1M93 185.5h1M233 158.5h1M163 163.5h1M255 167.5h1M161 168.5h1M227 162.5h1M144 167.5h1M138 178.5h1M226 162.5h1M135 172.5h1M127 169.5h1M161 166.5h1M157 165.5h1M92 179.5h1M282 173.5h1M179 162.5h1M218 164.5h1M130 170.5h1M206 177.5h1M101 172.5h1M106 191.5h1M133 173.5h1M99 173.5h1M210 160.5h1M261 173.5h1M134 168.5h1M109 171.5h1M167 179.5h1M265 158.5h1M220 160.5h1M178 171.5h1M209 159.5h1M130 173.5h1M156 165.5h1M245 171.5h1M144 169.5h1M235 169.5h1M119 170.5h1M171 163.5h1M183 163.5h1M278 164.5h1M110 174.5h1M119 170.5h1M216 160.5h1M270 158.5h1M152 167.5h1M158 166.5h1M112 172.5h1M161 163.5h1M211 159.5h1M187 162.5h1M117 172.5h1M163 164.5h1M168 162.5h1M150 166.5h1M219 161.5h1M138 167.5h1M175 164.5h1M234 159.5h1M137 167.5h1M261 158.5h1M107 179.5h1M141 167.5h1M155 164.5h1M177 162.5h1M169 162.5h1M161 164.5h1M194 161.5h1M260 158.5h1M201 160.5h1M249 160.5h1M266 159.5h1M211 161.5h1M244 165.5h1M178 164.5h1M256 160.5h1M105 171.5h1M102 171.5h1M181 162.5h1M129 172.5h1M236 159.5h1M114 170.5h1M109 181.5h1M248 158.5h1M137 167.5h1M156 164.5h1M280 160.5h1M260 159.5h1M205 164.5h1M232 164.5h1M154 164.5h1M161 167.5h1M114 172.5h1M270 161.5h1M193 161.5h1M240 163.5h1M151 165.5h1M243 158.5h1M244 163.5h1M271 159.5h1M221 160.5h1M155 165.5h1M111 172.5h1M150 166.5h1M189 162.5h1M232 158.5h1M183 162.5h1M126 169.5h1M240 161.5h1M115 174.5h1M178 166.5h1M146 165.5h1M124 168.5h1M165 163.5h1M241 159.5h1M265 158.5h1M218 159.5h1M214 162.5h1M213 162.5h1M280 160.5h1M196 161.5h1M222 161.5h1M278 162.5h1M134 167.5h1M222 159.5h1M216 161.5h1M249 178.5h1M244 178.5h1M238 178.5h1M141 184.5h2M215 179.5h1M149 186.5h1M208 182.5h2M197 181.5h3M263 178.5h2M204 180.5h3M154 184.5h3M156 184.5h2.5M206 179.5h1.5M210 180.5h1.5M211 180.5h3M226 179.5h1.5M150 185.5h2M133 185.5h1M150 185.5h2M149 184.5h2M232 178.5h2.5M160 194.5h1M164 187.5h1M210 183.5h1M114 188.5h1M104 202.5h1M130 193.5h1M101 189.5h1M184 185.5h1M140 212.5h1M98 194.5h1M106 190.5h1M120 191.5h1M261 189.5h1M200 195.5h1M106 191.5h1M160 188.5h1M152 191.5h1M215 182.5h1M163 191.5h1M233 181.5h1M204 180.5h1M194 183.5h1M99 196.5h1M175 190.5h1M214 182.5h1M235 180.5h1M192 185.5h1M220 186.5h1M102 191.5h1M176 195.5h1M162 186.5h1M206 184.5h1M243 182.5h1M115 188.5h1M186 195.5h1M171 203.5h1M226 189.5h1M199 181.5h1M131 192.5h1M232 180.5h1M230 183.5h1M149 185.5h1M192 191.5h1M257 190.5h1M262 178.5h1M113 198.5h1M185 190.5h1M96 190.5h1M101 209.5h1M247 180.5h1M129 192.5h1M122 192.5h1M185 183.5h1M173 185.5h1M219 199.5h1M177 187.5h1M221 190.5h1M107 193.5h1M106 191.5h1M128 191.5h1M135 188.5h1M268 180.5h1M100 206.5h1M267 199.5h1M222 193.5h1M144 187.5h1M160 187.5h1M208 183.5h1M263 179.5h1M263 185.5h1M230 194.5h1M153 190.5h1M142 188.5h1M152 185.5h1M259 183.5h1M224 181.5h1M171 187.5h1M141 191.5h1M185 182.5h1M116 188.5h1M126 188.5h1M101 206.5h1M253 179.5h1M241 187.5h1M220 194.5h1M118 192.5h1M201 183.5h1M227 188.5h1M232 180.5h1M230 179.5h1M244 196.5h1M132 188.5h1M152 212.5h1M239 179.5h1M159 185.5h1M146 187.5h1M264 179.5h1M115 191.5h1M183 187.5h1M234 180.5h1M255 180.5h1M194 185.5h1M219 192.5h1M162 192.5h1M168 196.5h1M140 189.5h1M134 201.5h1M143 187.5h1M254 186.5h1M138 188.5h1M268 180.5h1M106 189.5h1M201 183.5h1M100 188.5h1M106 205.5h1M151 185.5h1M157 200.5h1M233 190.5h1M216 188.5h1M265 178.5h1M168 186.5h1M149 186.5h1M256 181.5h1M174 186.5h1M241 183.5h1M232 189.5h1M138 205.5h1M216 182.5h1M245 184.5h1M264 178.5h1M246 191.5h1M201 189.5h1M237 188.5h1M167 184.5h1M237 185.5h1M196 200.5h1M242 192.5h1M154 195.5h1M92 184.5h1M100 185.5h1M91 184.5h1M99 186.5h1M103 188.5h1M91 183.5h1M93 185.5h1M91 187.5h1M92 187.5h1M98 179.5h1M103 188.5h1M93 184.5h1M106 185.5h1M92 185.5h1M101 179.5h1M289 171.5h1M412 171.5h1M392 169.5h1M320 171.5h1M387 172.5h1M282 177.5h1M389 172.5h1M421 169.5h1M277 170.5h1M408 173.5h1M319 170.5h1M341 171.5h1M329 168.5h1M408 173.5h1M413 171.5h1M317 170.5h1M280 173.5h1M337 169.5h1M284 173.5h1M278 172.5h1M299 167.5h1M320 172.5h1M346 169.5h1M357 173.5h1M277 171.5h1M278 170.5h1M419 170.5h1M361 167.5h1M403 166.5h1M354 167.5h1M349 173.5h1M348 171.5h1M435 174.5h1M417 171.5h1M399 170.5h1M289 170.5h1M379 169.5h1M434 174.5h1M280 174.5h1M329 166.5h1M296 170.5h1M327 170.5h1M300 171.5h1M363 172.5h1M380 171.5h1M418 170.5h1M375 169.5h1M315 174.5h1M375 174.5h1M317 174.5h1M382 168.5h1M400 174.5h1M369 169.5h1M355 174.5h1M411 170.5h1M294 170.5h1M354 165.5h1M382 170.5h1M327 167.5h1M285 170.5h1M302 169.5h1M442 131.5h1M456 134.5h1M455 133.5h1M439 133.5h1M451 131.5h1M450 131.5h1M435 132.5h1M450 131.5h1M439 131.5h1M455 132.5h1M454 133.5h1M441 132.5h1M446 131.5h1M455 131.5h1M442 131.5h1M439 132.5h1M453 131.5h1M445 132.5h1M450 131.5h1M450 131.5h1M450 131.5h1M451 132.5h1M441 131.5h1M437 133.5h1M454 132.5h1M440 133.5h1M444 131.5h1M443 131.5h1M438 132.5h1M445 132.5h1M439 132.5h1M443 131.5h1M443 131.5h1M449 132.5h1M446 132.5h1M436 130.5h1M466 141.5h1M429 146.5h1M449 144.5h1M457 142.5h1M456 142.5h1M437 146.5h1M450 144.5h1M442 144.5h1M441 145.5h1M429 146.5h1M432 146.5h1M453 142.5h1M450 142.5h1M440 143.5h1M431 147.5h1M467 140.5h1M454 143.5h1M433 146.5h1M465 140.5h1M455 143.5h1M467 140.5h1M457 142.5h1M443 144.5h1M448 142.5h1M457 141.5h1M454 141.5h1M441 143.5h1M535 161.5h1M565 172.5h1M481 153.5h1M427 147.5h1M455 151.5h1M457 159.5h1M432 157.5h1M537 163.5h1M543 163.5h1M561 163.5h1M471 154.5h1M507 157.5h1M568 164.5h1M423 152.5h1M556 166.5h1M533 167.5h1M431 166.5h1M530 158.5h1M492 157.5h1M402 152.5h1M521 165.5h1M491 152.5h1M570 161.5h1M482 169.5h1M454 161.5h1M551 163.5h1M421 151.5h1M528 161.5h1M497 158.5h1M505 155.5h1M515 155.5h1M474 151.5h1M423 154.5h1M574 171.5h1M502 153.5h1M530 158.5h1M562 166.5h1M532 175.5h1M540 162.5h1M573 164.5h1M522 155.5h1M472 150.5h1M571 169.5h1M518 158.5h1M562 171.5h1M537 160.5h1M472 156.5h1M489 165.5h1M469 152.5h1M487 151.5h1M409 151.5h1M542 166.5h1M548 160.5h1M548 159.5h1M450 157.5h1M535 171.5h1M568 167.5h1M537 167.5h1M528 163.5h1M547 159.5h1M449 148.5h1M527 156.5h1M453 154.5h1M562 168.5h1M396 148.5h1M580 180.5h1M508 163.5h1M445 153.5h1M419 150.5h1M556 165.5h1M422 148.5h1M434 152.5h1M542 164.5h1M539 168.5h1M558 165.5h1M481 154.5h1M548 159.5h1M426 163.5h1M568 161.5h1M473 159.5h1M575 173.5h1M514 161.5h1M552 161.5h1M489 151.5h1M580 168.5h1M566 170.5h1M537 157.5h1M538 163.5h1M568 172.5h1M573 162.5h1M472 154.5h1M561 166.5h1M436 148.5h1M519 165.5h1M561 163.5h1M463 159.5h1M483 174.5h1M447 151.5h1M551 164.5h1M521 157.5h1M487 153.5h1M405 154.5h1M481 155.5h1M488 152.5h1M544 160.5h1M434 152.5h1M535 163.5h1M568 162.5h1M429 181.5h1M522 161.5h1M535 158.5h1M576 161.5h1M538 162.5h1M459 152.5h1M572 171.5h1M531 162.5h1M529 160.5h1M521 162.5h1M471 152.5h1M484 154.5h1M457 149.5h1M477 161.5h1M525 161.5h1M490 151.5h1M549 161.5h1M472 162.5h1M488 159.5h1M472 153.5h1M460 152.5h1M574 169.5h1M578 162.5h1M515 155.5h1M398 155.5h1M424 152.5h1M470 158.5h1M469 150.5h1M537 161.5h1M568 163.5h1M579 164.5h1M467 152.5h1M397 149.5h1M475 155.5h1M448 152.5h1M439 151.5h1M444 154.5h1M474 163.5h1M399 152.5h1M575 164.5h1M489 153.5h1M578 171.5h1M471 156.5h1M406 153.5h1M560 164.5h1M441 152.5h1M488 157.5h1M519 163.5h1M545 161.5h1M525 172.5h1M570 161.5h1M558 164.5h1M466 177.5h1M415 155.5h1M421 152.5h1M468 150.5h1M546 161.5h1M491 174.5h1M470 154.5h1M460 149.5h1M508 154.5h1M469 153.5h1M554 163.5h1M544 167.5h1M496 156.5h1M470 150.5h1M556 167.5h1M476 154.5h1M487 152.5h1M474 149.5h1M467 149.5h1M393 149.5h1M467 150.5h1M549 168.5h1M508 153.5h1M561 160.5h1M452 152.5h1M443 151.5h1M514 154.5h1M489 155.5h1M562 160.5h1M422 150.5h1M569 180.5h1M460 152.5h1M494 163.5h1M559 160.5h1M551 178.5h1M545 158.5h1M447 153.5h1M576 165.5h1M426 150.5h1M466 158.5h1M519 164.5h1M401 158.5h1M459 156.5h1M444 156.5h1M501 156.5h1M395 149.5h1M431 148.5h1M558 162.5h1M513 158.5h1M484 155.5h1M401 158.5h1M525 160.5h1M404 155.5h1M419 157.5h1M552 160.5h1M429 160.5h1M492 158.5h1M533 160.5h1M482 154.5h1M402 149.5h1M515 159.5h1M557 169.5h1M510 163.5h1M500 152.5h1M515 160.5h1M545 159.5h1M410 150.5h1M521 164.5h1M522 156.5h1M577 167.5h1M448 152.5h1M493 156.5h1M504 161.5h1M504 156.5h1M466 151.5h1M498 152.5h1M427 149.5h1M505 153.5h1M573 161.5h1M545 166.5h1M452 156.5h1M580 168.5h1M479 151.5h1M456 152.5h1M442 149.5h1M536 160.5h1M545 162.5h1M519 162.5h1M571 167.5h1M428 149.5h1M438 149.5h1M553 165.5h1M519 162.5h1M524 156.5h1M472 155.5h1M457 157.5h1M399 149.5h1M576 166.5h1M516 154.5h1M581 170.5h1M479 161.5h1M539 161.5h1M483 154.5h1M537 157.5h1M495 152.5h1M505 171.5h1M476 155.5h1M556 159.5h1M487 162.5h1M576 169.5h1M560 162.5h1M525 158.5h1M423 148.5h1M426 149.5h1M564 163.5h1M537 156.5h1M417 149.5h1M434 159.5h1M513 159.5h1M520 155.5h1M570 162.5h1M484 152.5h1M485 151.5h1M453 150.5h1M445 164.5h1M540 158.5h1M495 153.5h1M571 164.5h1M469 153.5h1M419 155.5h1M496 153.5h1M418 152.5h1M554 174.5h1M392 151.5h1M551 162.5h1M535 169.5h1M493 159.5h1M494 159.5h1M482 180.5h1M408 158.5h1M575 163.5h1M471 152.5h1M438 156.5h1M483 155.5h1M570 162.5h1M474 156.5h1M423 156.5h1M433 147.5h1M564 165.5h1M539 170.5h1M394 156.5h1M522 159.5h1M472 155.5h1M578 165.5h1M567 175.5h1M540 161.5h1M482 153.5h1M532 156.5h1M461 151.5h1M576 168.5h1M472 153.5h1M459 153.5h1M435 148.5h1M545 162.5h1M490 160.5h1M463 151.5h1M493 157.5h1M432 158.5h1M472 150.5h1M561 160.5h1M520 156.5h1M421 149.5h1M444 148.5h1M521 154.5h1M497 156.5h1M566 166.5h1M518 158.5h1M422 149.5h1M528 158.5h1M548 163.5h1M458 148.5h1M494 161.5h1M484 153.5h1M535 158.5h1M541 167.5h1M402 148.5h1M556 160.5h1M545 159.5h1M518 157.5h1M510 158.5h1M521 160.5h1M412 148.5h1M559 172.5h1M486 152.5h1M541 172.5h1M496 157.5h1M479 154.5h1M569 163.5h1M520 164.5h1M535 156.5h1M570 166.5h1M474 160.5h1M548 159.5h1M549 161.5h1M461 159.5h1M430 148.5h1M457 150.5h1M517 156.5h1M576 164.5h1M450 148.5h1M516 174.5h1M443 160.5h1M568 162.5h1M537 167.5h1M580 173.5h1M507 165.5h1M467 150.5h1M426 147.5h1M471 152.5h1M418 153.5h1M549 163.5h1M579 165.5h1M481 153.5h1M501 168.5h1M511 161.5h1M402 157.5h1M470 157.5h1M554 167.5h1M485 156.5h1M507 158.5h1M428 153.5h1M410 151.5h1M545 167.5h1M427 157.5h1M444 153.5h1M540 166.5h1M409 158.5h1M426 150.5h1M554 162.5h1M424 155.5h1M572 162.5h1M567 168.5h1M537 158.5h1M401 156.5h1M459 151.5h1M565 162.5h1M414 148.5h1M419 149.5h1M393 148.5h1M491 152.5h1M572 161.5h1M478 151.5h1M553 159.5h1M445 157.5h1M445 149.5h1M531 158.5h1M513 159.5h1M458 151.5h1M579 163.5h1M421 148.5h1M556 160.5h1M529 158.5h1M429 148.5h1M476 150.5h1M514 154.5h1M520 160.5h1M397 149.5h1M510 155.5h1M517 156.5h1M420 152.5h1M458 149.5h1M429 148.5h1M530 156.5h1M488 153.5h1M455 152.5h1M499 153.5h1M528 156.5h1M407 151.5h1M397 148.5h1M499 152.5h1M446 148.5h1M445 148.5h1M483 151.5h1M407 148.5h1M525 157.5h1M450 148.5h1M513 156.5h1M562 160.5h1M442 149.5h1M463 154.5h1M433 147.5h1M499 152.5h1M446 148.5h1M525 155.5h1M530 155.5h1M565 161.5h1M418 147.5h1M539 158.5h1M537 160.5h1M419 150.5h1M511 154.5h1M460 154.5h1M514 156.5h1M507 154.5h1M527 156.5h1M452 149.5h1M424 150.5h1M546 158.5h1M420 147.5h1M571 162.5h1M576 164.5h1M456 148.5h1M524 156.5h1M543 159.5h1M571 163.5h1M552 158.5h1M521 156.5h1M460 148.5h1M498 153.5h1M551 159.5h1M433 153.5h1M563 160.5h1M534 157.5h1M553 169.5h1M520 156.5h1M432 150.5h1M483 154.5h1M392 149.5h1M497 154.5h1M448 149.5h1M440 149.5h1M418 152.5h1M565 164.5h1M480 151.5h1M412 150.5h1M556 160.5h1M541 161.5h1M436 147.5h1M545 159.5h1M547 159.5h1M564 164.5h1M406 148.5h1M435 149.5h1M454 150.5h1M489 151.5h1M466 150.5h1M468 149.5h1M408 150.5h1M453 150.5h1M430 148.5h1M424 148.5h1M399 148.5h1M432 150.5h1M545 158.5h1M516 155.5h1M506 155.5h1M525 156.5h1M535 158.5h1M558 160.5h1M469 150.5h1M421 150.5h1M493 151.5h1M481 170.5h2.5M573 184.5h3M542 179.5h1.5M438 168.5h2.5M567 184.5h2.5M553 180.5h1.5M546 179.5h1.5M440 168.5h1M564 184.5h2.5M460 168.5h2.5M516 175.5h1.5M443 167.5h1M458 168.5h1M530 177.5h3M450 169.5h2M510 174.5h1.5M444 167.5h1M442 169.5h2M471 170.5h2.5M413 168.5h1.5M497 173.5h1M525 177.5h1.5M547 181.5h2.5M572 184.5h2M518 174.5h1.5M535 178.5h1.5M428 168.5h2.5M438 168.5h3M569 183.5h3M423 166.5h2.5M464 168.5h1.5M526 177.5h2.5M447 168.5h3M419 167.5h1.5M457 169.5h3M471 170.5h1M578 187.5h1M562 190.5h1M561 182.5h1M527 189.5h1M547 180.5h1M509 177.5h1M575 185.5h1M515 181.5h1M439 173.5h1M576 195.5h1M413 171.5h1M571 186.5h1M543 191.5h1M491 183.5h1M491 176.5h1M569 184.5h1M407 169.5h1M527 195.5h1M478 177.5h1M519 188.5h1M429 168.5h1M455 189.5h1M540 180.5h1M536 181.5h1M489 173.5h1M417 168.5h1M548 180.5h1M516 177.5h1M567 184.5h1M513 182.5h1M546 190.5h1M574 188.5h1M547 183.5h1M575 185.5h1M511 177.5h1M549 187.5h1M429 169.5h1M579 190.5h1M564 198.5h1M442 170.5h1M519 193.5h1M515 177.5h1M553 181.5h1M522 180.5h1M551 189.5h1M463 182.5h1M466 170.5h1M546 185.5h1M576 204.5h1M449 168.5h1M576 190.5h1M422 173.5h1M462 173.5h1M555 184.5h1M507 176.5h1M450 169.5h1M551 180.5h1M529 179.5h1M451 169.5h1M558 194.5h1M533 180.5h1M466 174.5h1M524 181.5h1M445 169.5h1M536 182.5h1M517 204.5h1M436 188.5h1M466 171.5h1M487 193.5h1M534 182.5h1M488 176.5h1M432 177.5h1M507 176.5h1M510 178.5h1M563 184.5h1M540 179.5h1M485 182.5h1M568 189.5h1M442 180.5h1M494 177.5h1M549 181.5h1M472 185.5h1M575 187.5h1M558 193.5h1M434 168.5h1M408 170.5h1M488 178.5h1M475 173.5h1M473 175.5h1M556 184.5h1M420 173.5h1M504 179.5h1M486 172.5h1M449 177.5h1M483 171.5h1M478 177.5h1M507 175.5h1M430 171.5h1M528 197.5h1M419 171.5h1M439 177.5h1M564 207.5h1M508 174.5h1M529 192.5h1M500 184.5h1M550 181.5h1M473 180.5h1M466 186.5h1M412 208.5h1M474 173.5h1M416 172.5h1M553 199.5h1M531 183.5h1M517 187.5h1M543 190.5h1M454 173.5h1M457 173.5h1M531 180.5h1M455 174.5h1M434 169.5h1M480 179.5h1M548 184.5h1M536 184.5h1M428 170.5h1M460 175.5h1M530 179.5h1M532 199.5h1M579 190.5h1M450 185.5h1M466 172.5h1M568 199.5h1M453 171.5h1M512 175.5h1M502 178.5h1M509 176.5h1M511 178.5h1M455 177.5h1M512 178.5h1M561 183.5h1M517 185.5h1M456 172.5h1M515 180.5h1M502 174.5h1M448 171.5h1M443 170.5h1M560 196.5h1M520 188.5h1M471 170.5h1M424 176.5h1M540 181.5h1M467 174.5h1M539 188.5h1M571 204.5h1M486 176.5h1M578 191.5h1M511 209.5h1M485 182.5h1M431 170.5h1M527 177.5h1M492 176.5h1M511 178.5h1M502 177.5h1M495 174.5h1M485 188.5h1M453 175.5h1M515 177.5h1M541 179.5h1M575 188.5h1M521 185.5h1M474 172.5h1M447 168.5h1M572 190.5h1M452 183.5h1M519 189.5h1M437 173.5h1M427 179.5h1M481 182.5h1M557 188.5h1M571 198.5h1M518 181.5h1M503 176.5h1M419 168.5h1M554 185.5h2.5M544 182.5h3M543 182.5h2M572 186.5h1M536 180.5h2.5M579 188.5h1M567 187.5h1M576 191.5h1M567 214.5h3M506 204.5h1M514 209.5h2.5M524 212.5h2.5M542 214.5h1M215 179.5h1M269 182.5h1M397 157.5h1M445 171.5h1M123 209.5h1M543 188.5h1M135 172.5h1M225 228.5h1M445 157.5h1M163 179.5h1M160 198.5h1M545 250.5h1M104 189.5h1M211 157.5h1M103 219.5h1M548 195.5h1M574 225.5h1M555 273.5h1M577 239.5h1M196 161.5h1M437 235.5h1M202 170.5h1M328 165.5h1M554 195.5h1M150 208.5h1M511 180.5h1M198 163.5h1M114 274.5h1M256 176.5h1M339 156.5h1M529 234.5h1M571 192.5h1M467 175.5h1M102 218.5h1M557 177.5h1M226 200.5h1M427 206.5h1M91 214.5h1M311 164.5h1M212 159.5h1M275 191.5h1M178 268.5h1M273 159.5h1M454 184.5h1M135 198.5h1M257 157.5h1M134 194.5h1M497 222.5h1M208 161.5h1M218 172.5h1M401 155.5h1M202 219.5h1M236 181.5h1M104 194.5h1M132 173.5h1M368 178.5h1M275 161.5h1M493 189.5h1M105 182.5h1M149 253.5h1M170 201.5h1M173 167.5h1M486 230.5h1M436 184.5h1M460 226.5h1M171 251.5h1M572 198.5h1M272 247.5h1M249 203.5h1M187 187.5h1M409 198.5h1M154 184.5h1M402 193.5h1M147 207.5h1M148 186.5h1M430 160.5h1M555 200.5h1M416 205.5h1M91 267.5h1M552 180.5h1M228 173.5h1M479 175.5h1M469 188.5h1M208 217.5h1M371 154.5h1M239 180.5h1M581 238.5h1M233 192.5h1M345 162.5h1M431 156.5h1M163 169.5h1M259 269.5h1M465 224.5h1M151 165.5h1M379 156.5h1M566 183.5h1M129 170.5h1M433 192.5h1M525 270.5h1M311 171.5h1M120 264.5h1M573 209.5h1M508 236.5h1M570 172.5h1M164 175.5h1M492 167.5h1M548 186.5h1M531 178.5h1M423 177.5h1M397 159.5h1M493 220.5h1M568 185.5h1M137 168.5h1M174 164.5h1M330 171.5h1M450 180.5h1M339 153.5h1M565 268.5h1M109 200.5h1M199 240.5h1M568 180.5h1M475 236.5h1M167 226.5h1M579 225.5h1M511 191.5h1M501 207.5h1M329 170.5h1M129 179.5h1M522 168.5h1M146 168.5h1M400 155.5h1M411 175.5h1M194 159.5h1M404 175.5h1M483 245.5h1M434 158.5h1M466 233.5h1M171 164.5h1M409 155.5h1M110 193.5h1M566 211.5h1M119 207.5h1M491 229.5h1M146 212.5h1M531 223.5h1M558 180.5h1M377 203.5h1M98 201.5h1M111 195.5h1M399 188.5h1M566 218.5h1M498 223.5h1M119 252.5h1M233 170.5h1M469 159.5h1M181 232.5h1M509 171.5h1M152 193.5h1M114 222.5h1M521 181.5h1M134 196.5h1M530 179.5h1M105 201.5h1M168 176.5h1M483 207.5h1M149 187.5h1M517 234.5h1M301 234.5h1M142 175.5h1M528 195.5h1M218 174.5h1M248 235.5h1M151 192.5h1M255 181.5h1M311 168.5h1M207 173.5h1M232 166.5h1M463 182.5h1M247 171.5h1M285 159.5h1M543 258.5h1M110 177.5h1M563 220.5h1M566 174.5h1M111 182.5h1M157 225.5h1M126 182.5h1M529 219.5h1M448 166.5h1M259 166.5h1M529 177.5h1M534 177.5h1M438 192.5h1M547 172.5h1M222 167.5h1M498 171.5h1M545 179.5h1M393 177.5h1M245 183.5h1M454 208.5h1M518 186.5h1M432 165.5h1M498 163.5h1M562 180.5h1M381 163.5h1M139 218.5h1M410 200.5h1M494 224.5h1M205 163.5h1M559 184.5h1M553 210.5h1M537 186.5h1M540 204.5h1M108 269.5h1M132 228.5h1M95 205.5h1M578 249.5h1M508 162.5h1M548 187.5h1M547 180.5h1" stroke="#f4a582" stroke-width="1" fill="none"/>
<path d="M122 164.5h1M96 158.5h1M247 139.5h1M135 163.5h1M147 161.5h1M91 159.5h1M126 150.5h1M221 142.5h1M250 139.5h1M148 145.5h1M141 160.5h1M263 138.5h1M183 148.5h1M273 138.5h1M184 158.5h1M183 155.5h1M265 140.5h1M265 139.5h1M205 154.5h1M225 153.5h1M196 143.5h1M92 164.5h1M125 153.5h1M177 159.5h1M100 157.5h1M100 165.5h1M160 155.5h1M183 141.5h1M144 163.5h1M257 138.5h1M181 146.5h1M143 160.5h1M223 150.5h1M261 138.5h1M100 168.5h1M239 148.5h1M190 151.5h1M160 161.5h1M154 156.5h1M102 162.5h1M213 142.5h1M254 138.5h1M122 152.5h1M269 139.5h1M127 162.5h1M252 142.5h1M127 153.5h1M143 163.5h1M113 151.5h1M116 159.5h1M92 168.5h1M197 147.5h1M168 154.5h1M128 160.5h1M212 142.5h1M143 158.5h1M175 148.5h1M162 155.5h1M214 156.5h1M107 152.5h1M115 166.5h1M273 138.5h1M267 139.5h1M105 160.5h1M115 157.5h1M190 150.5h1M206 156.5h1M249 145.5h1M162 160.5h1M231 141.5h1M225 149.5h1M137 149.5h1M223 141.5h1M234 154.5h1M208 150.5h1M142 165.5h1M260 140.5h1M265 139.5h1M273 138.5h1M103 158.5h1M181 156.5h1M99 168.5h1M191 154.5h1M158 160.5h1M146 153.5h1M263 140.5h1M195 146.5h1M91 158.5h1M158 146.5h1M267 138.5h1M250 142.5h1M255 142.5h1M105 165.5h1M112 168.5h1M173 147.5h1M117 167.5h1M227 139.5h1M248 145.5h1M199 148.5h1M271 139.5h1M232 157.5h1M251 139.5h1M100 152.5h1M139 156.5h1M230 141.5h1M211 139.5h1M143 148.5h1M106 156.5h1M175 148.5h1M197 158.5h1M265 140.5h1M152 151.5h1M203 144.5h1M177 159.5h1M240 140.5h1M179 142.5h1M142 162.5h1M113 154.5h1M145 155.5h1M102 152.5h1M252 140.5h1M146 146.5h1M113 166.5h1M253 144.5h1M178 156.5h1M113 153.5h1M135 155.5h1M165 152.5h1M259 143.5h1M119 153.5h1M181 142.5h1M184 142.5h1M138 150.5h1M192 153.5h1M261 138.5h1M221 151.5h1M263 138.5h1M137 148.5h1M268 139.5h1M259 141.5h1M222 142.5h1M245 143.5h1M108 167.5h1M115 168.5h1M161 155.5h1M274 138.5h1M193 149.5h1M258 140.5h1M113 162.5h1M124 153.5h1M225 145.5h1M106 155.5h1M99 158.5h1M183 143.5h1M211 158.5h1M133 146.5h1M188 152.5h1M222 154.5h1M263 139.5h1M226 141.5h1M154 146.5h1M122 165.5h1M203 150.5h1M273 138.5h1M217 146.5h1M222 146.5h1M166 145.5h1M157 148.5h1M181 157.5h1M134 162.5h1M144 146.5h1M246 143.5h1M204 155.5h1M156 144.5h1M172 145.5h1M267 140.5h1M213 149.5h1M251 144.5h1M220 157.5h1M138 160.5h1M239 143.5h1M196 141.5h1M172 149.5h1M175 160.5h1M157 160.5h1M106 157.5h1M138 154.5h1M218 140.5h1M160 146.5h1M218 142.5h1M161 150.5h1M215 144.5h1M194 151.5h1M182 153.5h1M103 170.5h1M255 138.5h1M155 151.5h1M109 164.5h1M113 160.5h1M111 156.5h1M148 147.5h1M140 162.5h1M221 143.5h1M272 138.5h1M197 143.5h1M242 140.5h1M228 149.5h1M114 157.5h1M273 138.5h1M251 139.5h1M227 155.5h1M130 152.5h1M163 159.5h1M94 164.5h1M218 141.5h1M172 159.5h1M237 142.5h1M212 140.5h1M214 146.5h1M124 148.5h1M175 147.5h1M238 145.5h1M241 141.5h1M224 145.5h1M228 151.5h1M219 144.5h1M145 151.5h1M214 139.5h1M150 160.5h1M158 162.5h1M247 145.5h1M216 150.5h1M215 149.5h1M272 138.5h1M130 157.5h1M183 148.5h1M162 146.5h1M230 152.5h1M237 153.5h1M183 152.5h1M126 157.5h1M146 151.5h1M272 138.5h1M263 138.5h1M115 155.5h1M169 154.5h1M165 156.5h1M223 146.5h1M117 151.5h1M192 146.5h1M119 154.5h1M97 169.5h1M264 139.5h1M152 145.5h1M125 160.5h1M92 169.5h1M222 155.5h1M234 145.5h1M180 142.5h1M174 143.5h1M215 155.5h1M102 163.5h1M126 148.5h1M135 149.5h1M227 148.5h1M148 154.5h1M171 154.5h1M167 147.5h1M232 138.5h1M104 160.5h1M178 148.5h1M273 138.5h1M216 150.5h1M96 171.5h1M145 155.5h1M238 144.5h1M200 150.5h1M155 149.5h1M153 155.5h1M115 153.5h1M205 141.5h1M102 158.5h1M157 149.5h1M164 149.5h1M124 154.5h1M222 146.5h1M188 155.5h1M104 153.5h1M157 149.5h1M241 145.5h1M93 161.5h1M190 147.5h1M145 164.5h1M211 145.5h1M245 144.5h1M244 140.5h1M141 158.5h1M148 158.5h1M132 149.5h1M193 140.5h1M230 138.5h1M160 149.5h1M165 149.5h1M151 148.5h1M182 145.5h1M237 154.5h1M247 138.5h1M240 141.5h1M223 142.5h1M119 168.5h1M219 153.5h1M233 147.5h1M113 162.5h1M139 146.5h1M175 142.5h1M153 145.5h1M211 155.5h1M188 146.5h1M216 155.5h1M135 156.5h1M220 149.5h1M225 145.5h1M223 150.5h1M102 155.5h1M265 138.5h1M196 156.5h1M135 151.5h1M139 163.5h1M92 156.5h1M270 139.5h1M144 160.5h1M99 154.5h1M256 142.5h1M124 150.5h1M167 145.5h1M212 145.5h1M230 149.5h1M93 154.5h1M132 148.5h1M161 161.5h1M94 164.5h1M273 138.5h1M98 158.5h1M210 154.5h1M245 142.5h1M126 164.5h1M220 150.5h1M127 150.5h1M107 168.5h1M182 156.5h1M234 152.5h1M119 150.5h1M144 159.5h1M135 146.5h1M234 147.5h1M111 156.5h1M134 149.5h1M159 152.5h1M182 150.5h1M214 139.5h1M269 138.5h1M247 140.5h1M173 145.5h1M134 165.5h1M266 139.5h1M127 161.5h1M212 151.5h1M141 145.5h1M263 141.5h1M200 142.5h1M254 141.5h1M162 147.5h1M253 144.5h1M243 142.5h1M95 152.5h1M173 153.5h1M101 158.5h1M182 158.5h1M104 154.5h1M204 142.5h1M154 151.5h1M250 140.5h1M194 157.5h1M126 159.5h1M97 154.5h1M153 150.5h1M91 158.5h1M144 148.5h1M261 141.5h1M116 153.5h1M192 150.5h1M161 151.5h1M144 149.5h1M141 147.5h1M268 139.5h1M141 159.5h1M186 145.5h1M129 160.5h1M171 143.5h1M234 156.5h1M93 162.5h1M144 147.5h1M255 143.5h1M151 145.5h1M238 149.5h1M176 159.5h1M188 143.5h1M202 154.5h1M264 141.5h1M113 156.5h1M221 139.5h1M189 158.5h1M99 165.5h1M258 141.5h1M235 143.5h1M251 144.5h1M155 149.5h1M165 160.5h1M151 159.5h1M91 167.5h1M132 162.5h1M151 163.5h1M142 164.5h1M156 154.5h1M229 138.5h1M168 157.5h1M193 157.5h1M106 152.5h1M182 149.5h1M230 140.5h1M206 143.5h1M259 140.5h1M227 156.5h1M259 142.5h1M208 158.5h1M195 152.5h1M192 157.5h1M257 138.5h1M226 153.5h1M260 138.5h1M229 147.5h1M143 162.5h1M252 142.5h1M252 142.5h1M136 157.5h1M256 143.5h1M178 157.5h1M259 141.5h1M198 143.5h1M227 151.5h1M258 138.5h1M182 146.5h1M157 145.5h1M172 147.5h1M160 144.5h1M218 149.5h1M253 141.5h1M256 139.5h1M172 156.5h1M187 151.5h1M243 145.5h1M94 155.5h1M145 147.5h1M196 159.5h1M247 138.5h1M224 156.5h1M186 154.5h1M205 142.5h1M98 170.5h1M191 143.5h1M138 152.5h1M231 138.5h1M128 152.5h1M164 143.5h1M244 142.5h1M193 143.5h1M123 152.5h1M213 143.5h1M225 154.5h1M147 151.5h1M249 141.5h1M128 163.5h1M168 145.5h1M209 157.5h1M202 150.5h1M219 155.5h1M172 161.5h1M227 150.5h1M186 141.5h1M262 142.5h1M224 144.5h1M210 140.5h1M143 156.5h1M205 154.5h1M252 138.5h1M113 163.5h1M217 155.5h1M152 146.5h1M270 138.5h1M207 158.5h1M102 162.5h1M247 146.5h1M227 140.5h1M196 155.5h1M151 148.5h1M212 143.5h1M129 148.5h1M94 167.5h1M106 167.5h1M123 157.5h1M248 140.5h1M222 150.5h1M172 152.5h1M109 164.5h1M176 158.5h1M249 143.5h1M184 149.5h1M178 142.5h1M222 143.5h1M161 144.5h1M255 141.5h1M211 143.5h1M243 144.5h1M225 148.5h1M272 138.5h1M238 139.5h1M116 154.5h1M134 155.5h1M267 139.5h1M274 138.5h1M229 144.5h1M157 147.5h1M107 161.5h1M206 145.5h1M157 155.5h1M144 163.5h1M263 138.5h1M259 141.5h1M249 140.5h1M220 154.5h1M183 142.5h1M119 157.5h1M232 157.5h1M124 149.5h1M150 153.5h1M233 148.5h1M179 142.5h1M201 158.5h1M121 149.5h1M231 139.5h1M121 149.5h1M260 138.5h1M252 139.5h1M101 156.5h1M272 138.5h1M131 147.5h1M179 159.5h1M155 144.5h1M135 146.5h1M144 146.5h1M235 143.5h1M164 147.5h1M180 146.5h1M269 139.5h1M140 153.5h1M264 138.5h1M209 142.5h1M255 143.5h1M271 138.5h1M188 158.5h1M125 151.5h1M247 141.5h1M105 161.5h1M273 138.5h1M222 151.5h1M203 144.5h1M106 169.5h1M153 156.5h1M239 145.5h1M108 169.5h1M133 149.5h1M268 139.5h1M248 139.5h1M144 159.5h1M272 138.5h1M168 147.5h1M131 152.5h1M109 155.5h1M226 140.5h1M182 142.5h1M150 161.5h1M205 147.5h1M166 147.5h1M115 155.5h1M265 138.5h1M92 164.5h1M246 142.5h1M211 157.5h1M261 138.5h1M98 160.5h1M136 157.5h1M123 159.5h1M131 158.5h1M268 138.5h1M231 140.5h1M173 145.5h1M223 151.5h1M93 152.5h1M144 152.5h1M249 138.5h1M216 139.5h1M155 160.5h1M256 138.5h1M233 142.5h1M144 148.5h1M162 143.5h1M141 148.5h1M93 152.5h1M231 153.5h1M245 141.5h1M177 146.5h1M200 159.5h1M250 141.5h1M256 143.5h1M251 143.5h1M241 160.5h1M253 163.5h1M178 171.5h1M96 174.5h1M121 171.5h1M157 164.5h1M97 182.5h1M126 180.5h1M217 159.5h1M213 172.5h1M268 162.5h1M235 160.5h1M116 170.5h1M126 183.5h1M259 170.5h1M265 165.5h1M95 174.5h1M191 166.5h1M148 168.5h1M139 176.5h1M116 174.5h1M151 173.5h1M173 163.5h1M139 169.5h1M175 179.5h1M182 171.5h1M110 174.5h1M103 178.5h1M169 169.5h1M137 169.5h1M258 178.5h1M103 179.5h1M274 167.5h1M115 186.5h1M175 172.5h1M224 167.5h1M126 172.5h1M100 174.5h1M122 174.5h1M268 160.5h1M238 167.5h1M107 171.5h1M234 160.5h1M152 183.5h1M214 166.5h1M173 163.5h1M220 166.5h1M261 162.5h1M251 163.5h1M94 191.5h1M272 164.5h1M212 159.5h1M257 162.5h1M282 168.5h1M190 170.5h1M272 158.5h1M262 165.5h1M242 179.5h1M117 176.5h1M277 163.5h1M180 168.5h1M227 167.5h1M114 173.5h1M156 169.5h1M274 158.5h1M133 183.5h1M119 175.5h1M142 166.5h1M246 159.5h1M239 161.5h1M94 178.5h1M142 180.5h1M164 172.5h1M266 167.5h1M248 163.5h1M166 167.5h1M117 174.5h1M158 167.5h1M163 165.5h1M240 165.5h1M196 163.5h1M189 161.5h1M243 167.5h1M241 164.5h1M282 163.5h1M199 161.5h1M144 171.5h1M257 158.5h1M133 176.5h1M152 170.5h1M98 188.5h1M162 170.5h1M134 167.5h1M277 159.5h1M113 170.5h1M280 160.5h1M181 195.5h1M174 163.5h1M166 174.5h1M123 170.5h1M257 188.5h1M94 175.5h1M166 163.5h1M165 166.5h1M120 178.5h1M185 163.5h1M208 163.5h1M267 160.5h1M179 185.5h1M109 173.5h1M224 164.5h1M183 166.5h1M164 189.5h1M134 178.5h1M171 166.5h1M225 162.5h1M262 178.5h1M189 165.5h1M282 162.5h1M260 163.5h1M189 173.5h1M120 169.5h1M256 165.5h1M206 163.5h1M135 171.5h1M221 163.5h1M207 166.5h1M119 173.5h1M196 163.5h1M147 167.5h1M120 184.5h1M176 164.5h1M226 158.5h1M119 172.5h1M128 172.5h1M157 170.5h1M252 159.5h1M165 168.5h1M279 187.5h1M240 162.5h1M272 159.5h1M252 165.5h1M205 160.5h1M175 167.5h1M242 160.5h1M108 175.5h1M191 170.5h1M185 162.5h1M246 164.5h1M169 166.5h1M271 159.5h1M184 162.5h1M115 183.5h1M110 177.5h1M184 161.5h1M241 158.5h1M95 182.5h1M138 178.5h1M244 162.5h1M280 163.5h1M106 180.5h1M234 160.5h1M156 168.5h1M147 173.5h1M95 178.5h1M220 169.5h1M236 158.5h1M266 162.5h1M271 158.5h1M156 167.5h1M234 162.5h1M261 160.5h1M206 164.5h1M201 162.5h1M206 163.5h1M229 164.5h1M234 162.5h1M267 159.5h1M273 163.5h1M158 175.5h1M116 180.5h1M278 161.5h1M96 177.5h1M166 171.5h1M161 168.5h1M221 165.5h1M214 160.5h1M273 176.5h1M211 166.5h1M242 170.5h1M256 177.5h1M170 164.5h1M163 167.5h1M274 160.5h1M212 159.5h1M227 159.5h1M252 158.5h1M91 175.5h1M157 164.5h1M184 165.5h1M279 164.5h1M222 161.5h1M164 174.5h1M160 170.5h1M117 171.5h1M105 171.5h1M161 173.5h1M264 169.5h1M148 167.5h1M169 166.5h1M132 189.5h1M171 163.5h1M95 177.5h1M118 173.5h1M140 170.5h1M143 172.5h1M199 163.5h1M245 171.5h1M94 175.5h1M166 177.5h1M232 158.5h1M234 158.5h1M262 159.5h1M168 164.5h1M96 182.5h1M197 163.5h1M228 178.5h1M127 168.5h1M136 170.5h1M265 159.5h1M207 168.5h1M112 178.5h1M102 173.5h1M197 167.5h1M168 172.5h1M251 169.5h1M182 164.5h1M243 176.5h1M227 174.5h1M272 160.5h1M256 166.5h1M248 163.5h1M130 175.5h1M204 172.5h1M269 160.5h1M141 177.5h1M280 160.5h1M195 161.5h1M264 162.5h1M209 162.5h1M154 167.5h1M107 184.5h1M95 175.5h1M258 159.5h1M272 158.5h1M192 188.5h1M204 167.5h1M252 170.5h1M140 166.5h1M248 162.5h1M135 176.5h1M225 161.5h1M97 173.5h1M179 168.5h1M275 159.5h1M179 166.5h1M135 188.5h1M141 186.5h1M202 187.5h1M206 181.5h1M107 206.5h1M201 185.5h1M246 182.5h1M268 191.5h1M97 190.5h1M161 187.5h1M118 189.5h1M128 188.5h1M226 188.5h1M264 180.5h1M181 186.5h1M186 188.5h1M106 198.5h1M119 189.5h1M139 193.5h1M108 199.5h1M267 187.5h1M187 190.5h1M113 195.5h1M205 196.5h1M199 188.5h1M131 194.5h1M212 189.5h1M197 185.5h1M267 180.5h1M103 200.5h1M139 191.5h1M101 189.5h1M104 205.5h1M95 192.5h1M268 178.5h1M103 212.5h1M158 188.5h1M152 194.5h1M267 186.5h1M174 190.5h1M128 187.5h1M107 189.5h1M174 192.5h1M126 189.5h1M258 196.5h1M138 189.5h1M186 183.5h1M261 193.5h1M189 189.5h1M120 189.5h1M115 192.5h1M224 194.5h1M177 186.5h1M265 183.5h1M161 195.5h1M187 192.5h1M112 193.5h1M138 192.5h1M115 191.5h1M178 184.5h1M91 190.5h1M143 198.5h1M259 182.5h1M188 185.5h1M108 189.5h1M143 188.5h1M226 181.5h1M254 198.5h1M106 198.5h1M155 186.5h1M120 191.5h1M266 190.5h1M162 187.5h1M253 179.5h1M166 184.5h1M253 182.5h1M209 190.5h1M175 188.5h1M151 187.5h1M264 184.5h1M139 190.5h1M96 195.5h1M231 181.5h1M127 188.5h1M178 192.5h1M261 187.5h1M107 190.5h1M234 179.5h1M166 204.5h1M157 193.5h1M251 179.5h1M257 184.5h1M223 180.5h1M250 183.5h1M223 195.5h1M173 183.5h1M203 194.5h1M141 191.5h1M95 193.5h1M93 191.5h1M190 187.5h1M236 187.5h1M182 188.5h1M159 186.5h1M241 193.5h1M119 210.5h1M204 181.5h1M143 186.5h1M219 180.5h1M232 179.5h1M235 179.5h1M211 183.5h1M192 182.5h1M143 189.5h1M134 197.5h1M250 199.5h1M234 182.5h1M249 178.5h1M223 186.5h1M134 193.5h1M208 182.5h1M107 203.5h1M247 185.5h1M102 194.5h1M224 182.5h1M230 180.5h1M216 180.5h1M151 188.5h1M163 198.5h1M162 186.5h1M163 190.5h1M179 195.5h1M157 189.5h1M221 189.5h1M224 180.5h1M229 180.5h1M96 192.5h1M143 193.5h1M91 191.5h1M199 188.5h1M98 203.5h1M269 185.5h1M113 188.5h1M241 182.5h1M245 180.5h1M190 199.5h1M260 179.5h1M127 187.5h1M124 196.5h1M211 181.5h1M261 178.5h1M122 187.5h1M250 187.5h1M188 195.5h1M295 160.5h1M300 175.5h1M313 156.5h1M303 183.5h1M293 154.5h1M380 187.5h1M379 152.5h1M262 160.5h1M332 152.5h1M266 154.5h1M380 153.5h1M369 156.5h1M346 156.5h1M256 156.5h1M377 151.5h1M382 161.5h1M399 154.5h1M372 169.5h1M366 163.5h1M373 150.5h1M267 156.5h1M304 156.5h1M260 157.5h1M361 170.5h1M297 168.5h1M244 151.5h1M306 167.5h1M306 164.5h1M321 163.5h1M336 156.5h1M309 153.5h1M282 155.5h1M272 164.5h1M246 157.5h1M257 154.5h1M356 159.5h1M347 153.5h1M375 153.5h1M251 158.5h1M378 149.5h1M322 156.5h1M337 150.5h1M346 163.5h1M392 150.5h1M263 175.5h1M286 155.5h1M301 155.5h1M261 164.5h1M391 154.5h1M392 150.5h1M385 151.5h1M240 151.5h1M246 172.5h1M314 156.5h1M284 157.5h1M244 152.5h1M260 153.5h1M380 157.5h1M393 155.5h1M279 154.5h1M357 151.5h1M330 154.5h1M397 157.5h1M290 157.5h1M278 152.5h1M369 156.5h1M329 158.5h1M285 187.5h1M255 156.5h1M338 154.5h1M301 156.5h1M287 153.5h1M386 150.5h1M250 156.5h1M290 163.5h1M353 172.5h1M396 152.5h1M395 151.5h1M321 155.5h1M331 152.5h1M347 151.5h1M360 152.5h1M276 167.5h1M271 158.5h1M326 152.5h1M394 151.5h1M293 152.5h1M348 162.5h1M248 154.5h1M337 151.5h1M340 153.5h1M278 163.5h1M392 150.5h1M283 162.5h1M373 149.5h1M238 153.5h1M241 160.5h1M256 171.5h1M278 168.5h1M385 169.5h1M308 156.5h1M353 163.5h1M258 158.5h1M382 149.5h1M372 153.5h1M243 152.5h1M397 155.5h1M399 174.5h1M338 150.5h1M302 152.5h1M288 168.5h1M366 151.5h1M369 152.5h1M292 172.5h1M348 163.5h1M238 153.5h1M325 153.5h1M309 154.5h1M377 164.5h1M282 165.5h1M353 156.5h1M269 152.5h1M314 160.5h1M254 155.5h1M252 182.5h1M396 154.5h1M257 167.5h1M388 160.5h1M319 154.5h1M389 160.5h1M364 160.5h1M315 152.5h1M353 171.5h1M264 155.5h1M347 153.5h1M298 160.5h1M368 181.5h1M351 155.5h1M332 152.5h1M255 153.5h1M280 216.5h1M282 155.5h1M321 152.5h1M320 151.5h1M373 163.5h1M318 152.5h1M351 151.5h1M340 152.5h1M255 185.5h1M257 153.5h1M345 170.5h1M294 160.5h1M328 158.5h1M313 165.5h1M374 154.5h1M275 155.5h1M375 166.5h1M377 153.5h1M326 152.5h1M333 160.5h1M266 169.5h1M251 153.5h1M295 152.5h1M383 158.5h1M386 156.5h1M330 161.5h1M273 156.5h1M358 158.5h1M303 155.5h1M267 156.5h1M363 159.5h1M256 164.5h1M242 161.5h1M294 157.5h1M243 157.5h1M258 155.5h1M369 164.5h1M306 159.5h1M388 165.5h1M270 172.5h1M331 152.5h1M346 154.5h1M338 151.5h1M262 154.5h1M358 149.5h1M382 162.5h1M280 155.5h1M316 151.5h1M285 158.5h1M250 164.5h1M302 153.5h1M280 180.5h1M300 165.5h1M270 157.5h1M315 155.5h1M255 163.5h1M300 154.5h1M388 149.5h1M316 164.5h1M357 153.5h1M248 167.5h1M302 153.5h1M378 150.5h1M383 159.5h1M347 151.5h1M346 157.5h1M329 152.5h1M314 162.5h1M325 153.5h1M319 155.5h1M343 156.5h1M350 152.5h1M358 152.5h1M360 170.5h1M309 152.5h1M357 155.5h1M239 181.5h1M377 152.5h1M381 153.5h1M340 164.5h1M341 166.5h1M303 152.5h1M396 152.5h1M378 177.5h1M329 152.5h1M241 163.5h1M322 157.5h1M336 164.5h1M277 166.5h1M387 162.5h1M329 156.5h1M325 156.5h1M340 150.5h1M334 151.5h1M355 163.5h1M268 152.5h1M331 153.5h1M298 162.5h1M321 151.5h1M311 151.5h1M371 152.5h1M324 158.5h1M282 154.5h1M241 156.5h1M374 150.5h1M298 156.5h1M247 152.5h1M337 153.5h1M344 166.5h1M348 158.5h1M371 176.5h1M289 161.5h1M240 174.5h1M261 169.5h1M336 154.5h1M369 153.5h1M240 205.5h1M391 157.5h1M280 155.5h1M261 157.5h1M329 164.5h1M290 155.5h1M376 159.5h1M324 156.5h1M265 164.5h1M302 158.5h1M377 156.5h1M386 150.5h1M285 155.5h1M396 153.5h1M360 149.5h1M328 157.5h1M284 166.5h1M293 166.5h1M249 165.5h1M270 167.5h1M257 154.5h1M365 165.5h1M272 153.5h1M394 152.5h1M325 152.5h1M298 158.5h1M387 167.5h1M344 155.5h1M339 157.5h1M310 154.5h1M356 165.5h1M342 162.5h1M249 153.5h1M327 161.5h1M367 152.5h1M353 161.5h1M368 185.5h1M300 154.5h1M372 153.5h1M386 152.5h1M239 152.5h1M383 157.5h1M358 163.5h1M242 155.5h1M338 152.5h1M340 158.5h1M282 152.5h1M361 152.5h1M353 151.5h1M326 170.5h1M359 151.5h1M377 160.5h1M387 153.5h1M329 170.5h1M394 151.5h1M380 150.5h1M388 154.5h1M328 150.5h1M356 158.5h1M299 160.5h1M378 198.5h1M319 153.5h1M291 158.5h1M241 162.5h1M348 150.5h1M241 151.5h1M362 154.5h1M286 155.5h1M257 155.5h1M342 157.5h1M272 154.5h1M367 159.5h1M327 161.5h1M347 151.5h1M247 153.5h1M278 168.5h1M321 199.5h1M383 170.5h1M239 152.5h1M280 153.5h1M370 154.5h1M273 154.5h1M371 149.5h1M291 163.5h1M249 174.5h1M386 149.5h1M308 158.5h1M291 153.5h1M357 158.5h1M267 155.5h1M269 153.5h1M388 163.5h1M291 153.5h1M368 171.5h1M321 156.5h1M396 151.5h1M342 157.5h1M399 159.5h1M248 170.5h1M242 154.5h1M295 155.5h1M249 163.5h1M289 164.5h1M361 160.5h1M366 153.5h1M307 157.5h1M289 163.5h1M336 154.5h1M343 159.5h1M337 162.5h1M306 156.5h1M356 153.5h1M314 155.5h1M358 161.5h1M365 155.5h1M339 157.5h1M340 166.5h1M238 153.5h1M281 163.5h1M366 149.5h1M399 150.5h1M371 150.5h1M282 159.5h1M321 151.5h1M277 177.5h1M266 164.5h1M270 157.5h1M288 157.5h1M366 150.5h1M368 165.5h1M280 164.5h1M299 156.5h1M367 153.5h1M349 150.5h1M308 153.5h1M271 153.5h1M239 152.5h1M260 172.5h1M289 174.5h1M251 152.5h1M331 152.5h1M344 153.5h1M331 155.5h1M280 156.5h1M384 154.5h1M293 189.5h1M247 161.5h1M329 154.5h1M380 149.5h1M240 154.5h1M385 151.5h1M359 161.5h1M306 159.5h1M332 158.5h1M263 180.5h1M298 164.5h1M343 157.5h1M283 159.5h1M297 155.5h1M377 151.5h1M397 162.5h1M338 151.5h1M352 154.5h1M310 158.5h1M335 159.5h1M244 168.5h1M372 163.5h1M257 154.5h1M262 157.5h1M322 151.5h1M300 152.5h1M317 153.5h1M298 160.5h1M249 157.5h1M284 165.5h1M288 170.5h1M361 156.5h1M349 153.5h1M368 155.5h1M245 170.5h1M258 156.5h1M246 159.5h1M260 154.5h1M328 152.5h1M396 155.5h1M343 155.5h1M293 158.5h1M350 158.5h1M325 174.5h1M337 173.5h1M246 155.5h1M345 151.5h1M373 165.5h1M303 169.5h1M280 152.5h1M358 165.5h1M397 169.5h1M337 151.5h1M280 181.5h1M347 159.5h1M295 154.5h1M344 154.5h1M364 150.5h1M335 165.5h1M270 155.5h1M373 150.5h1M252 165.5h1M392 149.5h1M285 153.5h1M351 161.5h1M393 151.5h1M284 156.5h1M387 151.5h1M314 155.5h1M567 154.5h1M497 136.5h1M490 135.5h1M535 141.5h1M516 136.5h1M547 141.5h1M518 139.5h1M453 133.5h1M504 134.5h1M579 144.5h1M504 134.5h1M546 142.5h1M485 133.5h1M529 138.5h1M567 144.5h1M466 134.5h1M492 136.5h1M499 139.5h1M515 137.5h1M493 138.5h1M498 134.5h1M482 138.5h1M522 137.5h1M464 133.5h1M477 134.5h1M519 142.5h1M498 133.5h1M450 133.5h1M569 143.5h1M446 135.5h1M455 132.5h1M447 131.5h1M573 145.5h1M440 132.5h1M532 139.5h1M508 136.5h1M485 133.5h1M493 134.5h1M519 137.5h1M488 136.5h1M560 141.5h1M466 132.5h1M525 136.5h1M446 132.5h1M540 138.5h1M459 133.5h1M542 138.5h1M453 132.5h1M508 145.5h1M482 134.5h1M497 134.5h1M530 138.5h1M489 134.5h1M440 136.5h1M568 145.5h1M576 145.5h1M454 131.5h1M555 140.5h1M552 143.5h1M527 139.5h1M466 139.5h1M449 132.5h1M527 136.5h1M531 138.5h1M476 134.5h1M541 138.5h1M569 150.5h1M460 131.5h1M441 142.5h1M550 139.5h1M521 137.5h1M487 135.5h1M512 137.5h1M579 151.5h1M564 141.5h1M556 140.5h1M556 140.5h1M544 144.5h1M546 138.5h1M544 142.5h1M473 133.5h1M552 139.5h1M556 142.5h1M573 144.5h1M461 137.5h1M494 136.5h1M534 138.5h1M465 132.5h1M504 146.5h1M535 140.5h1M444 134.5h1M498 138.5h1M468 132.5h1M492 136.5h1M534 138.5h1M529 136.5h1M455 133.5h1M562 144.5h1M524 140.5h1M518 136.5h1M471 132.5h1M528 137.5h1M580 143.5h1M568 142.5h1M452 134.5h1M549 143.5h1M558 146.5h1M486 133.5h1M513 135.5h1M560 144.5h1M572 142.5h1M510 137.5h1M552 155.5h1M485 138.5h1M507 141.5h1M467 132.5h1M469 138.5h1M533 137.5h1M488 134.5h1M574 149.5h1M472 132.5h1M487 134.5h1M495 138.5h1M460 134.5h1M466 139.5h1M454 133.5h1M523 139.5h1M509 136.5h1M553 139.5h1M479 140.5h1M541 140.5h1M529 136.5h1M450 131.5h1M534 138.5h1M512 137.5h1M504 138.5h1M530 138.5h1M560 145.5h1M554 144.5h1M469 132.5h1M451 131.5h1M492 135.5h1M526 138.5h1M573 142.5h1M542 138.5h1M556 142.5h1M536 140.5h1M506 138.5h1M517 136.5h1M500 134.5h1M454 131.5h1M440 138.5h1M442 135.5h1M559 143.5h1M532 137.5h1M518 135.5h1M488 136.5h1M481 133.5h1M510 137.5h1M478 134.5h1M453 132.5h1M535 142.5h1M496 138.5h1M485 137.5h1M508 138.5h1M521 136.5h1M544 140.5h1M459 132.5h1M496 135.5h1M514 136.5h1M501 138.5h1M550 142.5h1M443 137.5h1M507 135.5h1M484 133.5h1M499 134.5h1M547 143.5h1M474 133.5h1M487 139.5h1M528 136.5h1M455 133.5h1M534 147.5h1M465 135.5h1M467 139.5h1M519 140.5h1M457 144.5h1M485 148.5h1M510 146.5h1M468 134.5h1M487 148.5h1M499 145.5h1M449 133.5h1M472 145.5h1M485 143.5h1M513 147.5h1M497 150.5h1M462 136.5h1M444 146.5h1M476 139.5h1M456 144.5h1M507 150.5h1M457 146.5h1M455 133.5h1M480 135.5h1M473 147.5h1M542 144.5h1M454 146.5h1M486 141.5h1M577 149.5h1M466 140.5h1M481 148.5h1M467 141.5h1M476 134.5h1M442 145.5h1M547 149.5h1M469 137.5h1M501 138.5h1M451 146.5h1M496 141.5h1M540 150.5h1M482 138.5h1M463 138.5h1M463 141.5h1M481 137.5h1M469 140.5h1M489 136.5h1M487 136.5h1M458 136.5h1M488 136.5h1M467 147.5h1M484 147.5h1M523 142.5h1M479 135.5h1M563 149.5h1M478 138.5h1M493 148.5h1M570 150.5h1M491 148.5h1M539 150.5h1M463 144.5h1M485 136.5h1M474 144.5h1M501 144.5h1M460 136.5h1M462 146.5h1M522 144.5h1M507 148.5h1M473 136.5h1M445 145.5h1M501 145.5h1M454 136.5h1M517 143.5h1M507 139.5h1M460 144.5h1M545 141.5h1M471 138.5h1M478 137.5h1M496 136.5h1M458 147.5h1M477 139.5h1M458 138.5h1M473 142.5h1M465 133.5h1M456 144.5h1M445 145.5h1M465 139.5h1M501 147.5h1M497 147.5h1M471 141.5h1M526 149.5h1M507 144.5h1M474 136.5h1M470 135.5h1M452 147.5h1M487 134.5h1M448 146.5h1M504 144.5h1M520 147.5h1M502 148.5h1M452 133.5h1M469 133.5h1M503 141.5h1M444 146.5h1M510 148.5h1M497 142.5h1M495 137.5h1M500 139.5h1M477 147.5h1M498 136.5h1M477 143.5h1M478 133.5h1M496 137.5h1M465 141.5h1M501 144.5h1M462 135.5h1M549 149.5h1M478 144.5h1M448 147.5h1M501 145.5h1M466 139.5h1M471 144.5h1M466 133.5h1M478 146.5h1M463 140.5h1M543 151.5h1M463 134.5h1M501 145.5h1M496 143.5h1M504 151.5h1M521 147.5h1M466 133.5h1M481 136.5h1M496 149.5h1M482 134.5h1M470 147.5h1M536 149.5h1M530 139.5h1M510 143.5h1M491 146.5h1M525 141.5h1M457 133.5h1M460 136.5h1M451 145.5h1M468 138.5h1M486 146.5h1M472 145.5h1M483 149.5h1M453 146.5h1M455 137.5h1M474 145.5h1M467 139.5h1M465 148.5h1M496 146.5h1M556 144.5h1M472 144.5h1M464 135.5h1M475 139.5h1M465 139.5h1M486 146.5h1M478 134.5h1M462 144.5h1M529 137.5h1M449 132.5h1M479 133.5h1M447 146.5h1M478 142.5h1M463 144.5h1M441 146.5h1M474 137.5h1M446 146.5h1M467 140.5h1M461 139.5h1M462 145.5h1M518 143.5h1M467 147.5h1M491 144.5h1M510 137.5h1M446 145.5h1M449 146.5h1M451 147.5h1M462 144.5h1M469 142.5h1M457 144.5h1M531 149.5h1M454 133.5h1M458 135.5h1M477 135.5h1M454 145.5h1M468 136.5h1M499 147.5h1M491 142.5h1M460 144.5h1M457 135.5h1M495 138.5h1M516 136.5h1M452 148.5h1M462 135.5h1M491 149.5h1M455 135.5h1M510 151.5h1M496 146.5h1M564 142.5h1M498 137.5h1M469 135.5h1M443 146.5h1M448 146.5h1M510 139.5h1M576 145.5h1M446 147.5h1M521 139.5h1M542 143.5h1M575 151.5h1M503 149.5h1M482 138.5h1M571 148.5h1M558 145.5h1M496 137.5h1M548 162.5h1M494 157.5h1M501 157.5h1M476 150.5h1M565 165.5h1M477 153.5h1M566 163.5h1M479 150.5h1M532 161.5h1M466 160.5h1M478 157.5h1M562 161.5h1M427 149.5h1M462 161.5h1M569 161.5h1M517 157.5h1M467 150.5h1M544 163.5h1M497 166.5h1M568 167.5h1M555 169.5h1M557 168.5h1M506 162.5h1M575 165.5h1M422 151.5h1M561 166.5h1M514 155.5h1M471 151.5h1M473 150.5h1M538 157.5h1M491 158.5h1M571 164.5h1M570 171.5h1M493 154.5h1M575 173.5h1M514 154.5h1M568 165.5h1M523 155.5h1M514 155.5h1M433 152.5h1M553 173.5h1M539 161.5h1M546 166.5h1M531 161.5h1M564 162.5h1M518 164.5h1M579 169.5h1M401 155.5h1M430 186.5h1M504 154.5h1M554 162.5h1M436 154.5h1M542 160.5h1M451 158.5h1M561 166.5h1M478 152.5h1M479 184.5h1M571 168.5h1M551 160.5h1M474 158.5h1M569 165.5h1M453 155.5h1M578 164.5h1M454 155.5h1M519 155.5h1M555 166.5h1M483 154.5h1M463 162.5h1M547 158.5h1M563 162.5h1M580 171.5h1M411 148.5h1M523 173.5h1M450 148.5h1M521 155.5h1M515 159.5h1M475 179.5h1M522 183.5h1M543 160.5h1M514 155.5h1M504 155.5h1M485 152.5h1M495 165.5h1M452 152.5h1M490 151.5h1M472 151.5h1M521 154.5h1M546 160.5h1M552 164.5h1M514 157.5h1M542 157.5h1M488 153.5h1M506 156.5h1M502 157.5h1M424 149.5h1M468 155.5h1M492 153.5h1M458 163.5h1M544 162.5h1M577 165.5h1M416 157.5h1M491 152.5h1M417 151.5h1M579 167.5h1M458 165.5h1M507 160.5h1M464 149.5h1M434 150.5h1M571 163.5h1M469 157.5h1M561 170.5h1M509 160.5h1M438 151.5h1M522 156.5h1M479 155.5h1M503 158.5h1M517 158.5h1M476 165.5h1M508 166.5h1M484 163.5h1M395 160.5h1M530 165.5h1M515 159.5h1M554 164.5h1M495 157.5h1M510 155.5h1M443 148.5h1M546 161.5h1M551 158.5h1M418 163.5h1M536 159.5h1M536 158.5h1M514 156.5h1M519 160.5h1M525 163.5h1M526 158.5h1M538 170.5h1M397 154.5h1M474 157.5h1M537 185.5h1M536 200.5h1M546 161.5h1M552 161.5h1M537 157.5h1M544 170.5h1M446 155.5h1M558 170.5h1M439 147.5h1M545 172.5h1M475 162.5h1M545 162.5h1M479 157.5h1M547 163.5h1M574 170.5h1M480 165.5h1M510 165.5h1M434 148.5h1M566 166.5h1M492 155.5h1M428 162.5h1M451 149.5h1M401 151.5h1M545 158.5h1M395 149.5h1M464 154.5h1M419 154.5h1M504 164.5h1M574 182.5h1M521 155.5h1M517 155.5h1M514 155.5h1M497 153.5h1M540 158.5h1M521 179.5h1M576 171.5h1M532 161.5h1M554 175.5h1M479 158.5h1M416 156.5h1M404 150.5h1M576 165.5h1M525 171.5h1M490 152.5h1M552 169.5h1M408 170.5h1M434 157.5h1M447 160.5h1M568 162.5h1M403 150.5h1M529 156.5h1M472 153.5h1M450 148.5h1M409 152.5h1M503 153.5h1M407 154.5h1M422 149.5h1M525 166.5h1M418 152.5h1M572 169.5h1M536 164.5h1M497 152.5h1M467 155.5h1M410 148.5h1M557 172.5h1M418 149.5h1M439 148.5h1M533 164.5h1M422 151.5h1M519 160.5h1M411 150.5h1M492 154.5h1M575 164.5h1M466 178.5h1M399 152.5h1M581 163.5h1M479 154.5h1M541 158.5h1M536 157.5h1M480 151.5h1M460 163.5h1M476 150.5h1M480 158.5h1M536 158.5h1M431 152.5h1M511 154.5h1M568 170.5h1M565 173.5h1M522 171.5h1M577 179.5h1M418 161.5h1M581 165.5h1M436 150.5h1M446 159.5h1M538 164.5h1M470 149.5h1M553 165.5h1M455 148.5h1M568 164.5h1M580 170.5h1M472 158.5h1M423 148.5h1M481 150.5h1M466 150.5h1M540 161.5h1M533 161.5h1M464 155.5h1M562 160.5h1M469 155.5h1M520 158.5h1M419 148.5h1M523 166.5h1M439 148.5h1M440 162.5h1M451 156.5h1M566 165.5h1M503 155.5h1M547 160.5h1M419 148.5h1M541 157.5h1M417 147.5h1M498 152.5h1M529 163.5h1M570 162.5h1M513 157.5h1M538 162.5h1M574 166.5h1M501 161.5h1M528 174.5h1M538 163.5h1M536 157.5h1M538 157.5h1M531 160.5h1M412 155.5h1M508 153.5h1M451 150.5h1M416 200.5h1M505 153.5h1M542 173.5h1M407 154.5h1M528 157.5h1M546 175.5h1M404 148.5h1M483 160.5h1M486 159.5h1M554 160.5h1M476 151.5h1M462 149.5h1M557 164.5h1M411 157.5h1M497 156.5h1M528 155.5h1M577 166.5h1M526 157.5h1M414 147.5h1M472 152.5h1M480 153.5h1M508 160.5h1M419 154.5h1M493 159.5h1M458 151.5h1M545 159.5h1M513 158.5h1M494 170.5h1M542 159.5h1M564 171.5h1M558 173.5h1M520 169.5h1M493 157.5h1M445 150.5h1M406 153.5h1M422 148.5h1M561 165.5h1M574 175.5h1M459 159.5h1M569 171.5h1M431 153.5h1M487 154.5h1M552 173.5h1M532 159.5h1M522 155.5h1M420 150.5h1M553 161.5h1M448 169.5h1M520 166.5h1M418 148.5h1M422 162.5h1M473 150.5h1M503 153.5h1M510 166.5h1M527 168.5h1M423 148.5h1M424 149.5h1M578 167.5h1M564 160.5h1M430 148.5h1M526 156.5h1M399 149.5h1M414 152.5h1M462 150.5h1M513 159.5h1M471 159.5h1M436 150.5h1M480 163.5h1M518 154.5h1M545 160.5h1M557 167.5h1M468 157.5h1M461 165.5h1M502 157.5h1M426 149.5h1M400 151.5h1M519 166.5h1M491 157.5h1M489 161.5h1M443 148.5h1M471 149.5h1M444 150.5h1M560 164.5h1M446 152.5h1M557 160.5h1M470 156.5h1M534 157.5h1M521 167.5h1M436 155.5h1M500 156.5h1M525 159.5h1M478 151.5h1M544 166.5h1M544 166.5h1M557 175.5h1M446 153.5h1M510 161.5h1M485 151.5h1M561 181.5h1M570 168.5h1M565 174.5h1M522 156.5h1M490 153.5h1M540 174.5h1M554 163.5h1M419 154.5h1M536 174.5h1M556 167.5h1M486 155.5h1M567 166.5h1M507 159.5h1M404 148.5h1M451 152.5h1M476 151.5h1M486 193.5h1M550 174.5h1M570 172.5h1M568 169.5h1M532 164.5h1M559 159.5h1M553 162.5h1M544 166.5h1M468 152.5h1M559 163.5h1M456 159.5h1M456 156.5h1M404 161.5h1M433 164.5h1M488 152.5h1M512 173.5h1M401 149.5h1M541 189.5h1M562 166.5h1M519 158.5h1M541 176.5h1M465 150.5h1M521 170.5h1M500 152.5h1M535 157.5h1M563 163.5h1M512 172.5h1M510 161.5h1M562 168.5h1M432 159.5h1M444 153.5h1M563 164.5h1M468 183.5h1M472 173.5h1M517 178.5h1M508 179.5h1M544 193.5h1M578 187.5h1M563 186.5h1M476 172.5h1M556 190.5h1M533 179.5h1M522 178.5h1M427 189.5h1M458 181.5h1M568 184.5h1M567 183.5h1M430 182.5h1M557 181.5h1M568 194.5h1M520 188.5h1M490 180.5h1M456 169.5h1M491 183.5h1M536 180.5h1M519 178.5h1M503 175.5h1M545 228.5h1M424 186.5h1M419 169.5h1M429 169.5h1M568 184.5h1M547 185.5h1M449 173.5h1M426 170.5h1M491 172.5h1M498 177.5h1M536 179.5h1M473 171.5h1M550 193.5h1M543 184.5h1M475 175.5h1M447 191.5h1M561 199.5h1M480 176.5h1M575 191.5h1M453 169.5h1M511 175.5h1M489 175.5h1M530 182.5h1M494 173.5h1M542 182.5h1M506 183.5h1M556 187.5h1M537 183.5h1M548 182.5h1M485 179.5h1M496 176.5h1M509 175.5h1M534 194.5h1M445 174.5h1M542 183.5h1M541 186.5h1M514 191.5h1M518 183.5h1M468 172.5h1M537 183.5h1M495 173.5h1M528 187.5h1M454 171.5h1M492 174.5h1M539 187.5h1M492 173.5h1M416 175.5h1M410 167.5h1M525 181.5h1M548 181.5h1M427 171.5h1M480 175.5h1M510 177.5h1M520 197.5h1M448 172.5h1M546 180.5h1M477 173.5h1M511 176.5h1M512 175.5h1M551 182.5h1M561 183.5h1M460 171.5h1M461 182.5h1M510 181.5h1M496 177.5h1M522 178.5h1M546 184.5h1M581 189.5h1M459 169.5h1M564 186.5h1M510 187.5h1M529 177.5h1M537 190.5h1M552 184.5h1M438 181.5h1M436 176.5h1M507 183.5h1M461 176.5h1M437 170.5h1M498 180.5h1M494 172.5h1M537 193.5h1M581 190.5h1M523 189.5h1M556 183.5h1M540 180.5h1M493 178.5h1M539 181.5h1M559 185.5h1M561 188.5h1M521 189.5h1M579 188.5h1M489 194.5h1M474 170.5h1M454 179.5h1M573 200.5h1M551 193.5h1M470 170.5h1M482 172.5h1M491 179.5h1M526 182.5h1M571 187.5h1M431 169.5h1M410 173.5h1M463 174.5h1M427 174.5h1M426 167.5h1M537 191.5h1M493 179.5h1M555 185.5h1M472 172.5h1M512 178.5h1M469 172.5h1M432 169.5h1M439 173.5h1M526 177.5h1M427 182.5h1M520 181.5h1M570 185.5h1M549 189.5h1M549 190.5h1M423 173.5h1M562 196.5h1M467 184.5h1M546 180.5h1M574 184.5h1M548 186.5h1M475 184.5h1M513 190.5h1M432 170.5h1M420 179.5h1M478 183.5h1M561 184.5h1M425 186.5h1M512 179.5h1M538 180.5h1M567 187.5h1M551 186.5h1M440 170.5h1M451 171.5h1M491 172.5h1M482 180.5h1M573 186.5h1M566 183.5h1M489 172.5h1M555 182.5h1M515 176.5h1M498 179.5h1M565 196.5h1M477 172.5h1M413 181.5h1M434 178.5h1M531 184.5h1M570 203.5h1M494 177.5h1M539 209.5h1M558 193.5h1M506 175.5h1M556 191.5h1M545 184.5h1M448 168.5h1M538 185.5h1M565 194.5h1M494 175.5h1M514 175.5h1M422 172.5h1M475 180.5h1M554 188.5h1M505 174.5h1M422 174.5h1M406 169.5h1M412 179.5h1M580 195.5h1M484 180.5h1M547 181.5h1M528 189.5h1M467 170.5h1M456 169.5h1M420 167.5h1M516 181.5h1M474 174.5h1M510 175.5h1M566 222.5h1M425 170.5h1M559 199.5h1M466 176.5h1M449 169.5h1M533 179.5h1M453 170.5h1M427 172.5h1M512 175.5h1M474 180.5h1M484 205.5h1M576 188.5h1M415 173.5h1M566 184.5h1M461 173.5h1M494 175.5h1M489 174.5h1M501 177.5h1M505 174.5h1M533 178.5h1M581 192.5h1M531 183.5h1M493 175.5h1M484 173.5h1M251 238.5h1M446 157.5h1M256 184.5h1M561 200.5h1M206 179.5h1M151 213.5h1M122 168.5h1M501 174.5h1M168 162.5h1M513 201.5h1M109 191.5h1M454 159.5h1M201 170.5h1M549 194.5h1M250 222.5h1M165 168.5h1M563 241.5h1M181 188.5h1M521 208.5h1M144 177.5h1M103 173.5h1M542 181.5h1M335 172.5h1M550 210.5h1M419 160.5h1M221 262.5h1M110 180.5h1M292 154.5h1M255 170.5h1M471 169.5h1M91 253.5h1M573 286.5h1M558 174.5h1M579 180.5h1M240 168.5h1M149 176.5h1M267 224.5h1M557 285.5h1M539 181.5h1M99 173.5h1M129 275.5h1M484 173.5h1M185 240.5h1M566 197.5h1M96 175.5h1M522 167.5h1M309 183.5h1M206 189.5h1M455 163.5h1M215 278.5h1M369 187.5h1M186 208.5h1M181 160.5h1M459 181.5h1M561 209.5h1M268 155.5h1M174 207.5h1M577 257.5h1M474 165.5h1M557 203.5h1M548 204.5h1M371 152.5h1M151 196.5h1M498 185.5h1M569 223.5h1M321 179.5h1M530 166.5h1M201 179.5h1M535 197.5h1M235 157.5h1M203 246.5h1M561 192.5h1M518 202.5h1M466 256.5h1M568 200.5h1M110 176.5h1M460 196.5h1M486 186.5h1M533 191.5h1M103 250.5h1M184 167.5h1M93 267.5h1M246 199.5h1M476 271.5h1M566 208.5h1M196 279.5h1M99 232.5h1M524 173.5h1M228 168.5h1M340 222.5h1M470 206.5h1M335 156.5h1M562 247.5h1M134 203.5h1M548 250.5h1M170 187.5h1M550 224.5h1M477 171.5h1M178 230.5h1M348 164.5h1M186 212.5h1M360 163.5h1M403 180.5h1M197 159.5h1M122 176.5h1M351 153.5h1M486 164.5h1M496 189.5h1M490 184.5h1M170 198.5h1M196 168.5h1M105 187.5h1M309 164.5h1M99 215.5h1M180 188.5h1M170 234.5h1M256 216.5h1M305 189.5h1M147 174.5h1M196 229.5h1M463 159.5h1M577 212.5h1M214 163.5h1M118 207.5h1M182 208.5h1M139 194.5h1M190 165.5h1M577 263.5h1M246 167.5h1M516 191.5h1M224 205.5h1M441 192.5h1M400 170.5h1M512 253.5h1M184 200.5h1M259 160.5h1M215 159.5h1M437 189.5h1M120 187.5h1M417 203.5h1M97 175.5h1M261 178.5h1M362 216.5h1M527 208.5h1M460 240.5h1M404 179.5h1M250 162.5h1M190 170.5h1M247 244.5h1M95 183.5h1M107 209.5h1M575 176.5h1M529 223.5h1M409 207.5h1M238 209.5h1M363 155.5h1M315 159.5h1M502 171.5h1M211 247.5h1M403 213.5h1M216 186.5h1M560 176.5h1M152 170.5h1M360 162.5h1M176 206.5h1M187 160.5h1M97 201.5h1M541 182.5h1M210 164.5h1M165 182.5h1M503 165.5h1M566 193.5h1M232 170.5h1M539 171.5h1M300 163.5h1M160 210.5h1M536 211.5h1M412 206.5h1M305 163.5h1M404 175.5h1M116 215.5h1M558 199.5h1M503 179.5h1M243 164.5h1M209 177.5h1M117 179.5h1M215 259.5h1M575 248.5h1M125 175.5h1M513 253.5h1M175 174.5h1M479 214.5h1M179 183.5h1M579 231.5h1M211 217.5h1M200 160.5h1M427 189.5h1M94 231.5h1M280 164.5h1M409 159.5h1M264 195.5h1M111 240.5h1M159 184.5h1M348 168.5h1M517 175.5h1M405 272.5h1M123 215.5h1M269 185.5h1M245 179.5h1M109 174.5h1M192 177.5h1M488 193.5h1M463 177.5h1M192 184.5h1M554 190.5h1M517 178.5h1M541 178.5h1M553 193.5h1M164 225.5h1M135 218.5h1M396 183.5h1M105 195.5h1M487 185.5h1M237 215.5h1M477 179.5h1M451 255.5h1M506 176.5h1M458 220.5h1M383 189.5h1M201 194.5h1M474 215.5h1M288 154.5h1M581 203.5h1M167 222.5h1M133 180.5h1M497 165.5h1M474 173.5h1M548 219.5h1M547 174.5h1M155 165.5h1M96 236.5h1M480 186.5h1M510 164.5h1M147 192.5h1M233 181.5h1M392 162.5h1M137 175.5h1M321 164.5h1M243 213.5h1M520 277.5h1M169 163.5h1M212 244.5h1M346 218.5h1M457 162.5h1M494 168.5h1M427 218.5h1M483 190.5h1M569 192.5h1M505 276.5h1M515 212.5h1M93 235.5h1M565 196.5h1M387 159.5h1M455 201.5h1M531 204.5h1M504 171.5h1M180 205.5h1M416 197.5h1M404 191.5h1M475 179.5h1M571 186.5h1M562 259.5h1M142 187.5h1M571 204.5h1M531 192.5h1M151 180.5h1M554 224.5h1M427 159.5h1M421 187.5h1M480 208.5h1M484 175.5h1M572 283.5h1M255 166.5h1M538 235.5h1M293 169.5h1M452 189.5h1M195 207.5h1M105 187.5h1M510 172.5h1M540 240.5h1M569 276.5h1M433 239.5h1M95 179.5h1M125 277.5h1M468 187.5h1M115 238.5h1M135 184.5h1M472 200.5h1M101 175.5h1M560 180.5h1M503 176.5h1M115 256.5h1M265 165.5h1M557 172.5h1M222 164.5h1M491 172.5h1M100 227.5h1M188 232.5h1M487 178.5h1M101 188.5h1M174 168.5h1M318 171.5h1M280 194.5h1M127 193.5h1M553 263.5h1M522 227.5h1M114 213.5h1M403 155.5h1M208 162.5h1M562 204.5h1M566 202.5h1M163 210.5h1M260 166.5h1M333 225.5h1M97 236.5h1M412 172.5h1M501 237.5h1M530 173.5h1M245 159.5h1M268 163.5h1M106 221.5h1M144 186.5h1M391 154.5h1M107 191.5h1M271 168.5h1M140 235.5h1M91 203.5h1M133 172.5h1M574 237.5h1M167 180.5h1M531 204.5h1M315 158.5h1M123 170.5h1M484 165.5h1M550 201.5h1M500 219.5h1M232 161.5h1M289 159.5h1M202 170.5h1M151 173.5h1M291 168.5h1M471 161.5h1M525 211.5h1M484 282.5h1M105 249.5h1M201 163.5h1M98 215.5h1M125 182.5h1M562 210.5h1M112 175.5h1M157 195.5h1M454 240.5h1M428 182.5h1M517 246.5h1M464 158.5h1M133 201.5h1M117 170.5h1M109 233.5h1M532 185.5h1M574 242.5h1M180 241.5h1M560 280.5h1M203 185.5h1M144 221.5h1M193 164.5h1M129 200.5h1M355 161.5h1M320 161.5h1M409 193.5h1M228 157.5h1M111 258.5h1M120 214.5h1M478 198.5h1M125 196.5h1M250 161.5h1M288 221.5h1M482 177.5h1M241 187.5h1M521 218.5h1M173 233.5h1M405 159.5h1M559 189.5h1M464 181.5h1M208 180.5h1M242 158.5h1M525 201.5h1M263 158.5h1M145 220.5h1M530 185.5h1M184 172.5h1M558 262.5h1M187 183.5h1M479 164.5h1M392 207.5h1M164 191.5h1M95 236.5h1M545 168.5h1M553 172.5h1M165 163.5h1M261 176.5h1M544 191.5h1M573 243.5h1M146 193.5h1M548 194.5h1M124 216.5h1M305 158.5h1M434 218.5h1M139 201.5h1M149 200.5h1M297 162.5h1M550 189.5h1M119 178.5h1M515 202.5h1M476 187.5h1M548 181.5h1M240 203.5h1M99 181.5h1M573 225.5h1M511 198.5h1M105 224.5h1M364 158.5h1M543 186.5h1M202 166.5h1M106 231.5h1M177 183.5h1M90 216.5h1M126 195.5h1M320 161.5h1M159 176.5h1M256 181.5h1M385 154.5h1M217 163.5h1M237 174.5h1M117 207.5h1M411 155.5h1M435 264.5h1M491 223.5h1M390 157.5h1M578 174.5h1M126 173.5h1M533 194.5h1M162 184.5h1M254 155.5h1M422 160.5h1M106 260.5h1M553 184.5h1M166 216.5h1M548 202.5h1M448 157.5h1M504 201.5h1M98 176.5h1M122 234.5h1M316 188.5h1M479 195.5h1M127 172.5h1M221 161.5h1M91 205.5h1M257 210.5h1M506 221.5h1M164 184.5h1M254 163.5h1M497 162.5h1M385 166.5h1M458 201.5h1M152 184.5h1M486 165.5h1M537 177.5h1M493 198.5h1M487 248.5h1M384 227.5h1M474 238.5h1M139 250.5h1M559 202.5h1M218 185.5h1M107 199.5h1M533 185.5h1M256 159.5h1M349 154.5h1M526 177.5h1M518 174.5h1M96 178.5h1M161 200.5h1M121 218.5h1M295 164.5h1M158 185.5h1M472 165.5h1M542 247.5h1M163 179.5h1M548 275.5h1M483 180.5h1M101 239.5h1M128 171.5h1M209 170.5h1M117 278.5h1M537 174.5h1M525 169.5h1M253 217.5h1M390 175.5h1M176 171.5h1M540 223.5h1M331 175.5h1M366 158.5h1M132 244.5h1M100 190.5h1M165 245.5h1M190 229.5h1M107 200.5h1M218 184.5h1M570 197.5h1M366 226.5h1M481 162.5h1M310 163.5h1M536 188.5h1M382 206.5h1M439 171.5h1M542 233.5h1M453 234.5h1M161 167.5h1M283 153.5h1M108 204.5h1M195 182.5h1M204 180.5h1M133 277.5h1M578 214.5h1M194 171.5h1M204 207.5h1M329 152.5h1M497 161.5h1M508 213.5h1M121 217.5h1M103 188.5h1M252 155.5h1M544 206.5h1M283 167.5h1M497 184.5h1M562 174.5h1M542 194.5h1M577 232.5h1M581 198.5h1M407 167.5h1M320 204.5h1M482 284.5h1M136 201.5h1M235 184.5h1M299 153.5h1M132 170.5h1M578 173.5h1M250 155.5h1M433 160.5h1M529 174.5h1M438 214.5h1M459 195.5h1M207 199.5h1M532 181.5h1M248 180.5h1M115 202.5h1M211 238.5h1M559 186.5h1M283 178.5h1M115 174.5h1M497 165.5h1M198 177.5h1M121 211.5h1M179 173.5h1M139 211.5h1M508 199.5h1M126 173.5h1M544 181.5h1M439 168.5h1M508 167.5h1M525 168.5h1M498 193.5h1M224 181.5h1M212 191.5h1M573 227.5h1M514 236.5h1M399 167.5h1M314 160.5h1M571 203.5h1M171 190.5h1M477 163.5h1M204 167.5h1M153 191.5h1M458 163.5h1M114 179.5h1M174 277.5h1M528 195.5h1M188 212.5h1M535 182.5h1M505 173.5h1M571 249.5h1M109 182.5h1M484 191.5h1M411 244.5h1M391 157.5h1M489 170.5h1M451 158.5h1M422 185.5h1M317 152.5h1M242 176.5h1M516 208.5h1M412 157.5h1M95 221.5h1M126 188.5h1M136 187.5h1M378 214.5h1M411 155.5h1M193 161.5h1M116 197.5h1M539 198.5h1M166 281.5h1M187 166.5h1M520 174.5h1M530 171.5h1M281 156.5h1M579 185.5h1M489 215.5h1M540 262.5h1M460 190.5h1M126 175.5h1M101 204.5h1M281 197.5h1M179 210.5h1M113 211.5h1M430 174.5h1M94 211.5h1M95 264.5h1M548 178.5h1M434 192.5h1M475 219.5h1M541 173.5h1M579 232.5h1M574 240.5h1M244 205.5h1M432 158.5h1M147 172.5h1M522 167.5h1M498 197.5h1M221 210.5h1M289 156.5h1M132 191.5h1M203 189.5h1M561 247.5h1M511 221.5h1M501 213.5h1M326 205.5h1M119 261.5h1M280 187.5h1M279 154.5h1M108 257.5h1M223 172.5h1M558 197.5h1M110 239.5h1M498 170.5h1M280 155.5h1M96 272.5h1M143 265.5h1M133 202.5h1M366 184.5h1M561 177.5h1M564 275.5h1M440 166.5h1M560 180.5h1M158 168.5h1M145 166.5h1M198 204.5h1M522 173.5h1M115 195.5h1M397 201.5h1M133 246.5h1M373 158.5h1M202 178.5h1M93 197.5h1M425 171.5h1M102 174.5h1M479 196.5h1M184 249.5h1M216 268.5h1M170 213.5h1M529 195.5h1M462 165.5h1M168 211.5h1M527 165.5h1M511 247.5h1M187 188.5h1M246 174.5h1M116 197.5h1M109 207.5h1M282 167.5h1M156 199.5h1M569 204.5h1M539 190.5h1M181 219.5h1M550 234.5h1M113 218.5h1M544 205.5h1M220 214.5h1M187 177.5h1M154 198.5h1M496 220.5h1M571 185.5h1M96 233.5h1M220 175.5h1M230 164.5h1M286 163.5h1M124 191.5h1M413 183.5h1M521 203.5h1M402 154.5h1M188 169.5h1M478 229.5h1M527 284.5h1M224 174.5h1M381 196.5h1M96 242.5h1M497 182.5h1M411 232.5h1M158 176.5h1M237 167.5h1M561 174.5h1M378 176.5h1M360 167.5h1M178 179.5h1M406 157.5h1M217 185.5h1M216 171.5h1M565 174.5h1M148 175.5h1M511 227.5h1M369 156.5h1M277 210.5h1M523 247.5h1M528 170.5h1M205 161.5h1M460 212.5h1M433 178.5h1M550 172.5h1M185 161.5h1M488 165.5h1M551 233.5h1M518 167.5h1M258 208.5h1M219 248.5h1M553 219.5h1M446 159.5h1M478 192.5h1M491 164.5h1M198 214.5h1M114 207.5h1M196 208.5h1M579 262.5h1M383 178.5h1M218 207.5h1M155 166.5h1M408 184.5h1M550 181.5h1M336 154.5h1M152 176.5h1M146 178.5h1M542 197.5h1M145 170.5h1M354 167.5h1M565 265.5h1M146 195.5h1M360 159.5h1M564 231.5h1M115 184.5h1M255 163.5h1M456 165.5h1M191 187.5h1M159 252.5h1M498 177.5h1M217 181.5h1M179 255.5h1M523 165.5h1M554 179.5h1M275 157.5h1M140 182.5h1M255 173.5h1M124 186.5h1M91 190.5h1M494 178.5h1M166 243.5h1M522 204.5h1M578 185.5h1M287 163.5h1M536 237.5h1M441 164.5h1M164 189.5h1M106 205.5h1M548 174.5h1M331 155.5h1M572 174.5h1M104 194.5h1M260 166.5h1M309 181.5h1M148 191.5h1M247 179.5h1M500 193.5h1M198 183.5h1M245 156.5h1M500 178.5h1M206 162.5h1M556 217.5h1M237 157.5h1M253 171.5h1M285 176.5h1M513 174.5h1M513 166.5h1M173 192.5h1M552 259.5h1M227 162.5h1M221 171.5h1M179 165.5h1M263 174.5h1M365 194.5h1M421 180.5h1M443 171.5h1M463 191.5h1M299 165.5h1M531 247.5h1M517 170.5h1M287 157.5h1M496 207.5h1M172 163.5h1M94 178.5h1M516 209.5h1M257 166.5h1M257 199.5h1M406 164.5h1M322 160.5h1M117 197.5h1M235 175.5h1M132 180.5h1M92 238.5h1M138 166.5h1M180 172.5h1M557 204.5h1M260 173.5h1M121 199.5h1M167 230.5h1M112 196.5h1M421 242.5h1M130 184.5h1M192 177.5h1M423 178.5h1M115 279.5h1M540 198.5h1M216 188.5h1M484 166.5h1M156 272.5h1M555 195.5h1M576 219.5h1M229 158.5h1M125 194.5h1M216 160.5h1M221 194.5h1M170 222.5h1M489 187.5h1M533 186.5h1M516 200.5h1M261 182.5h1M204 249.5h1M169 221.5h1M536 245.5h1M194 246.5h1M129 170.5h1M281 201.5h1M439 205.5h1M562 194.5h1M553 181.5h1M141 249.5h1M576 280.5h1M532 208.5h1M570 245.5h1M160 187.5h1M532 167.5h1M438 171.5h1M114 246.5h1M225 164.5h1M130 185.5h1M260 186.5h1M524 185.5h1M579 209.5h1M159 267.5h1M376 191.5h1M453 166.5h1M105 192.5h1M434 157.5h1M526 190.5h1M261 160.5h1M236 161.5h1M520 236.5h1M225 206.5h1M157 185.5h1M94 185.5h1M279 174.5h1M571 183.5h1M259 163.5h1M150 174.5h1M170 166.5h1M572 182.5h1M519 185.5h1M167 204.5h1M535 255.5h1M167 172.5h1M478 166.5h1M243 164.5h1M504 240.5h1M416 200.5h1M279 178.5h1M221 157.5h1M567 195.5h1M525 165.5h1M520 176.5h1M296 167.5h1M273 154.5h1M111 196.5h1M409 159.5h1M515 171.5h1M479 174.5h1M257 196.5h1M198 161.5h1M357 182.5h1M452 164.5h1M206 214.5h1M358 195.5h1M546 189.5h1M180 176.5h1M190 233.5h1M145 170.5h1M279 155.5h1M551 209.5h1M107 205.5h1M149 207.5h1M453 246.5h1M233 158.5h1M112 258.5h1M280 158.5h1M350 155.5h1M211 224.5h1M431 200.5h1M126 193.5h1M454 176.5h1M436 159.5h1M421 207.5h1M435 156.5h1M472 173.5h1" stroke="#fbe8dd" stroke-width="1" fill="none"/>
<path d="M270 138.5h1M250 145.5h1M164 148.5h1M171 151.5h1M182 144.5h1M255 140.5h1M107 162.5h1M100 161.5h1M113 161.5h1M118 150.5h1M244 144.5h1M128 163.5h1M219 154.5h1M270 139.5h1M169 151.5h1M189 154.5h1M267 139.5h1M249 139.5h1M238 141.5h1M151 157.5h1M137 152.5h1M268 138.5h1M271 138.5h1M239 141.5h1M205 150.5h1M186 144.5h1M113 149.5h1M238 149.5h1M260 141.5h1M114 166.5h1M257 143.5h1M222 152.5h1M252 142.5h1M145 151.5h1M119 160.5h1M129 159.5h1M177 145.5h1M148 147.5h1M110 165.5h1M240 139.5h1M238 138.5h1M193 143.5h1M184 148.5h1M111 151.5h1M273 138.5h1M168 149.5h1M166 145.5h1M122 159.5h1M222 143.5h1M176 155.5h1M148 147.5h1M218 149.5h1M263 139.5h1M95 161.5h1M124 157.5h1M201 141.5h1M150 150.5h1M210 144.5h1M233 156.5h1M143 156.5h1M184 148.5h1M144 163.5h1M191 142.5h1M197 143.5h1M254 141.5h1M235 145.5h1M222 139.5h1M150 159.5h1M199 147.5h1M206 150.5h1M262 140.5h1M92 152.5h1M125 151.5h1M241 140.5h1M184 149.5h1M252 140.5h1M200 149.5h1M99 159.5h1M171 142.5h1M161 147.5h1M165 155.5h1M220 147.5h1M268 138.5h1M243 138.5h1M202 149.5h1M184 143.5h1M268 140.5h1M182 143.5h1M208 156.5h1M238 148.5h1M178 151.5h1M273 138.5h1M259 138.5h1M163 147.5h1M105 162.5h1M128 159.5h1M144 157.5h1M256 140.5h1M161 145.5h1M231 142.5h1M101 158.5h1M269 138.5h1M249 144.5h1M274 138.5h1M157 144.5h1M254 143.5h1M97 156.5h1M182 144.5h1M226 153.5h1M204 140.5h1M112 150.5h1M263 138.5h1M121 151.5h1M165 155.5h1M220 149.5h1M269 138.5h1M233 145.5h1M175 150.5h1M186 156.5h1M142 151.5h1M117 167.5h1M153 148.5h1M192 141.5h1M210 149.5h1M115 150.5h1M268 138.5h1M237 144.5h1M150 162.5h1M184 141.5h1M216 140.5h1M127 157.5h1M236 139.5h1M213 145.5h1M149 150.5h1M105 155.5h1M212 142.5h1M131 159.5h1M190 152.5h1M260 139.5h1M100 162.5h1M180 160.5h1M188 160.5h1M93 162.5h1M130 165.5h1M161 161.5h1M211 155.5h1M144 149.5h1M203 140.5h1M209 140.5h1M158 146.5h1M227 147.5h1M264 139.5h1M245 144.5h1M209 140.5h1M124 163.5h1M242 144.5h1M243 139.5h1M185 142.5h1M152 151.5h1M167 158.5h1M107 156.5h1M250 141.5h1M171 142.5h1M155 162.5h1M146 160.5h1M152 144.5h1M247 138.5h1M209 158.5h1M126 148.5h1M109 163.5h1M109 159.5h1M154 156.5h1M189 142.5h1M210 154.5h1M189 149.5h1M273 138.5h1M237 149.5h1M181 146.5h1M133 149.5h1M267 138.5h1M141 156.5h1M209 142.5h1M224 153.5h1M109 163.5h1M123 165.5h1M142 148.5h1M229 156.5h1M154 147.5h1M207 145.5h1M249 145.5h1M237 146.5h1M207 151.5h1M217 142.5h1M173 144.5h1M176 148.5h1M101 166.5h1M125 152.5h1M166 155.5h1M109 162.5h1M239 149.5h1M171 151.5h1M139 161.5h1M130 147.5h1M248 139.5h1M242 143.5h1M149 163.5h1M237 147.5h1M138 165.5h1M178 143.5h1M231 153.5h1M116 156.5h1M120 159.5h1M160 147.5h1M175 143.5h1M266 140.5h1M264 138.5h1M215 156.5h1M104 154.5h1M223 154.5h1M255 141.5h1M131 149.5h1M251 144.5h1M184 141.5h1M151 156.5h1M126 151.5h1M184 146.5h1M174 143.5h1M137 163.5h1M163 146.5h1M208 149.5h1M245 138.5h1M189 147.5h1M140 148.5h1M185 145.5h1M157 146.5h1M234 141.5h1M170 159.5h1M173 146.5h1M189 156.5h1M156 146.5h1M263 141.5h1M159 146.5h1M234 146.5h1M214 139.5h1M220 141.5h1M139 165.5h1M143 160.5h1M132 152.5h1M225 141.5h1M245 146.5h1M137 161.5h1M175 144.5h1M181 152.5h1M180 142.5h1M174 160.5h1M165 159.5h1M128 158.5h1M147 157.5h1M166 154.5h1M109 164.5h1M133 147.5h1M267 138.5h1M91 156.5h1M92 155.5h1M256 143.5h1M158 149.5h1M245 144.5h1M261 141.5h1M256 138.5h1M264 138.5h1M260 139.5h1M153 148.5h1M273 138.5h1M130 147.5h1M174 156.5h1M269 139.5h1M244 143.5h1M134 165.5h1M122 155.5h1M257 143.5h1M156 159.5h1M180 147.5h1M145 146.5h1M239 142.5h1M225 143.5h1M221 154.5h1M270 138.5h1M135 151.5h1M244 143.5h1M255 141.5h1M161 157.5h1M228 156.5h1M208 139.5h1M151 154.5h1M189 143.5h1M110 163.5h1M273 138.5h1M268 139.5h1M241 144.5h1M242 142.5h1M218 149.5h1M110 169.5h1M231 146.5h1M168 148.5h1M195 153.5h1M200 147.5h1M139 154.5h1M186 149.5h1M135 162.5h1M240 147.5h1M106 163.5h1M201 140.5h1M144 158.5h1M176 156.5h1M180 159.5h1M139 151.5h1M242 140.5h1M210 151.5h1M227 146.5h1M113 151.5h1M146 163.5h1M116 154.5h1M138 161.5h1M250 142.5h1M181 158.5h1M132 160.5h1M119 148.5h1M177 151.5h1M210 144.5h1M271 139.5h1M200 144.5h1M183 145.5h1M147 155.5h1M93 153.5h1M134 155.5h1M122 157.5h1M137 147.5h1M220 139.5h1M233 143.5h1M112 166.5h1M102 155.5h1M132 153.5h1M264 141.5h1M194 146.5h1M218 154.5h1M152 163.5h1M107 152.5h1M127 159.5h1M234 141.5h1M207 142.5h1M160 160.5h1M261 138.5h1M199 144.5h1M119 153.5h1M103 155.5h1M112 161.5h1M92 162.5h1M274 138.5h1M147 145.5h1M273 138.5h1M156 158.5h1M247 139.5h1M93 158.5h1M214 144.5h1M106 155.5h1M123 150.5h1M231 152.5h1M212 142.5h1M126 166.5h1M139 152.5h1M109 169.5h1M210 151.5h1M162 144.5h1M197 158.5h1M97 162.5h1M258 138.5h1M178 145.5h1M94 161.5h1M98 168.5h1M227 144.5h1M182 151.5h1M112 154.5h1M244 142.5h1M196 152.5h1M225 144.5h1M176 151.5h1M228 157.5h1M206 141.5h1M205 158.5h1M137 157.5h1M148 145.5h1M138 149.5h1M226 145.5h1M152 145.5h1M272 138.5h1M190 157.5h1M179 147.5h1M257 142.5h1M263 139.5h1M118 155.5h1M189 157.5h1M250 143.5h1M256 138.5h1M140 148.5h1M196 145.5h1M141 149.5h1M108 166.5h1M99 157.5h1M247 143.5h1M173 149.5h1M256 139.5h1M190 160.5h1M137 152.5h1M91 165.5h1M224 139.5h1M213 140.5h1M225 146.5h1M125 167.5h1M102 162.5h1M217 157.5h1M220 141.5h1M212 145.5h1M227 143.5h1M103 168.5h1M105 169.5h1M138 163.5h1M188 143.5h1M181 153.5h1M193 140.5h1M160 153.5h1M264 139.5h1M101 168.5h1M143 153.5h1M98 156.5h1M130 154.5h1M183 145.5h1M220 140.5h1M104 153.5h1M176 154.5h1M122 163.5h1M271 138.5h1M242 145.5h1M145 154.5h1M210 144.5h1M222 151.5h1M218 140.5h1M244 139.5h1M255 138.5h1M251 141.5h1M137 149.5h1M115 151.5h1M139 148.5h1M271 138.5h1M159 152.5h1M144 161.5h1M114 159.5h1M254 141.5h1M228 147.5h1M126 149.5h1M171 154.5h1M262 140.5h1M274 138.5h1M211 142.5h1M176 153.5h1M218 147.5h1M118 158.5h1M263 139.5h1M127 156.5h1M267 139.5h1M273 138.5h1M265 139.5h1M171 142.5h1M249 138.5h1M160 143.5h1M122 149.5h1M182 141.5h1M124 148.5h1M139 146.5h1M195 140.5h1M200 140.5h1M153 146.5h1M131 147.5h1M240 139.5h1M173 145.5h1M135 146.5h1M108 154.5h1M112 149.5h1M265 139.5h1M143 148.5h1M156 147.5h1M110 154.5h1M203 143.5h1M216 139.5h1M203 143.5h1M258 139.5h1M229 139.5h1M122 149.5h1M230 139.5h1M113 151.5h1M132 148.5h1M233 140.5h1M139 146.5h1M203 143.5h1M210 141.5h1M232 140.5h1M154 144.5h1M269 146.5h1M135 146.5h1M155 144.5h1M135 151.5h1M131 149.5h1M230 141.5h1M202 142.5h1M272 141.5h1M183 141.5h1M159 143.5h1M161 147.5h1M268 138.5h1M142 147.5h1M176 142.5h1M127 150.5h1M146 145.5h1M205 141.5h1M169 142.5h1M176 142.5h1M252 138.5h1M144 145.5h1M259 139.5h1M133 147.5h1M233 139.5h1M206 141.5h1M124 148.5h1M170 142.5h1M216 139.5h1M259 139.5h1M148 148.5h1M166 146.5h1M127 149.5h1M250 140.5h1M188 143.5h1M156 145.5h1M112 151.5h1M111 150.5h1M126 151.5h1M117 151.5h1M271 141.5h1M200 142.5h1M274 141.5h1M168 143.5h1M189 144.5h1M219 140.5h1M166 144.5h1M119 151.5h1M268 140.5h1M246 138.5h1M145 146.5h1M251 140.5h1M270 140.5h1M187 143.5h1M117 151.5h1M222 140.5h1M211 140.5h1M231 139.5h1M187 141.5h1M194 141.5h1M218 142.5h1M122 149.5h1M261 143.5h1M111 152.5h1M180 144.5h1M255 138.5h1M256 143.5h1M249 138.5h1M210 146.5h1M268 139.5h1M250 141.5h1M253 139.5h1M248 140.5h1M212 141.5h1M273 138.5h1M236 140.5h1M241 141.5h1M210 140.5h1M215 146.5h1M268 139.5h1M252 143.5h1M251 138.5h1M270 138.5h1M210 141.5h1M220 139.5h1M231 139.5h1M250 140.5h1M243 143.5h1M242 144.5h1M271 139.5h1M243 143.5h1M223 145.5h1M243 139.5h1M269 139.5h1M241 144.5h1M268 139.5h1M252 138.5h1M242 145.5h1M266 138.5h1M264 138.5h1M236 138.5h1M239 138.5h1M246 145.5h1M250 140.5h1M252 141.5h1M223 139.5h1M246 143.5h1M251 145.5h1M267 138.5h1M251 140.5h1M223 146.5h1M259 140.5h1M250 142.5h1M251 140.5h1M237 142.5h1M266 138.5h1M240 147.5h1M246 139.5h1M249 140.5h1M245 145.5h1M251 139.5h1M216 147.5h1M215 144.5h1M222 139.5h1M243 140.5h1M257 139.5h1M245 146.5h1M269 138.5h1M245 142.5h1M250 140.5h1M216 142.5h1M228 142.5h1M252 144.5h1M235 144.5h1M259 139.5h1M215 143.5h1M242 138.5h1M229 146.5h1M237 141.5h1M269 139.5h1M264 139.5h1M249 144.5h1M222 139.5h1M218 145.5h1M249 144.5h1M109 144.5h1M97 143.5h1M99 144.5h1M108 143.5h1M98 143.5h1M94 141.5h1M98 143.5h1M91 142.5h1M102 144.5h1M104 143.5h1M104 142.5h1M100 141.5h1M102 143.5h1M107 142.5h1M103 142.5h1M110 144.5h1M99 143.5h1M101 142.5h1M95 144.5h1M93 141.5h1M104 142.5h1M110 144.5h1M98 142.5h1M101 142.5h1M95 142.5h1M107 141.5h1M109 142.5h1M108 142.5h1M93 140.5h1M138 184.5h1M214 168.5h1M101 176.5h1M191 160.5h1M136 170.5h1M203 164.5h1M100 175.5h1M200 168.5h1M136 171.5h1M167 165.5h1M134 167.5h1M107 175.5h1M233 162.5h1M169 170.5h1M127 175.5h1M235 165.5h1M129 171.5h1M273 161.5h1M228 161.5h1M247 159.5h1M128 169.5h1M172 163.5h1M247 161.5h1M106 171.5h1M147 168.5h1M112 174.5h1M245 163.5h1M261 158.5h1M93 173.5h1M244 167.5h1M124 169.5h1M276 160.5h1M271 158.5h1M274 158.5h1M188 174.5h1M239 160.5h1M251 168.5h1M259 159.5h1M199 163.5h1M122 173.5h1M239 158.5h1M156 166.5h1M134 168.5h1M218 164.5h1M242 183.5h1M220 161.5h1M191 162.5h1M179 163.5h1M135 171.5h1M223 162.5h1M154 172.5h1M240 165.5h1M128 171.5h1M93 175.5h1M182 162.5h1M116 177.5h1M270 162.5h1M230 159.5h1M211 168.5h1M111 184.5h1M181 165.5h1M245 165.5h1M104 179.5h1M228 163.5h1M119 172.5h1M132 168.5h1M120 174.5h1M184 165.5h1M248 160.5h1M138 175.5h1M246 158.5h1M213 165.5h1M234 161.5h1M181 178.5h1M202 162.5h1M190 162.5h1M151 165.5h1M214 160.5h1M228 172.5h1M139 187.5h1M125 176.5h1M108 171.5h1M253 164.5h1M280 160.5h1M200 161.5h1M270 176.5h1M210 163.5h1M227 168.5h1M108 177.5h1M146 166.5h1M236 158.5h1M164 168.5h1M148 169.5h1M240 158.5h1M163 164.5h1M146 168.5h1M133 178.5h1M202 178.5h1M169 164.5h1M237 170.5h1M129 168.5h1M263 163.5h1M197 181.5h1M131 170.5h1M264 165.5h1M176 173.5h1M171 164.5h1M280 162.5h1M101 191.5h1M109 181.5h1M166 167.5h1M250 170.5h1M201 162.5h1M117 177.5h1M150 168.5h1M264 167.5h1M94 179.5h1M226 161.5h1M120 175.5h1M268 159.5h1M194 161.5h1M161 164.5h1M236 162.5h1M105 185.5h1M215 170.5h1M221 163.5h1M281 161.5h1M247 158.5h1M120 170.5h1M119 176.5h1M187 166.5h1M185 162.5h1M135 167.5h1M232 163.5h1M115 177.5h1M275 159.5h1M226 164.5h1M204 167.5h1M95 179.5h1M213 163.5h1M273 161.5h1M125 175.5h1M112 175.5h1M263 159.5h1M146 169.5h1M139 172.5h1M256 164.5h1M197 175.5h1M198 169.5h1M95 175.5h1M238 159.5h1M247 163.5h1M128 168.5h1M125 168.5h1M244 162.5h1M113 173.5h1M153 170.5h1M173 166.5h1M247 159.5h1M267 173.5h1M175 165.5h1M226 167.5h1M171 165.5h1M171 173.5h1M123 170.5h1M186 165.5h1M256 164.5h1M209 173.5h1M133 171.5h1M134 168.5h1M199 161.5h1M208 176.5h1M101 175.5h1M191 162.5h1M257 158.5h1M206 172.5h1M96 178.5h1M230 162.5h1M250 158.5h1M181 167.5h1M232 159.5h1M164 163.5h1M177 162.5h1M276 159.5h1M247 159.5h1M220 159.5h1M111 174.5h1M202 161.5h1M197 162.5h1M225 159.5h1M216 159.5h1M206 164.5h1M115 171.5h1M168 169.5h1M188 162.5h1M150 165.5h1M182 162.5h1M152 167.5h1M117 170.5h1M156 166.5h1M128 167.5h1M193 161.5h1M244 165.5h1M274 162.5h1M254 167.5h1M146 169.5h1M196 170.5h1M92 173.5h1M116 179.5h1M203 163.5h1M219 159.5h1M177 166.5h1M162 167.5h1M198 176.5h1M104 179.5h1M97 178.5h1M272 167.5h1M168 167.5h1M266 161.5h1M101 183.5h1M143 172.5h1M216 165.5h1M149 178.5h1M237 158.5h1M272 164.5h1M188 166.5h1M179 166.5h1M137 167.5h1M161 172.5h1M240 162.5h1M157 169.5h1M125 170.5h1M129 177.5h1M227 160.5h1M265 159.5h1M266 159.5h1M227 171.5h1M181 162.5h1M146 168.5h1M110 174.5h1M91 182.5h1M167 168.5h1M159 165.5h1M186 165.5h1M165 166.5h1M242 163.5h1M145 173.5h1M199 160.5h1M163 165.5h1M256 158.5h1M226 164.5h1M113 176.5h1M134 169.5h1M172 169.5h1M133 172.5h1M252 167.5h1M180 170.5h1M112 183.5h1M194 161.5h1M192 160.5h1M119 170.5h1M241 158.5h1M177 170.5h1M125 185.5h1M151 166.5h1M254 171.5h1M280 167.5h1M244 177.5h1M107 172.5h1M227 158.5h1M191 179.5h1M259 158.5h1M189 163.5h1M237 159.5h1M247 170.5h1M278 162.5h1M203 165.5h1M233 162.5h1M161 177.5h1M248 160.5h1M140 169.5h1M117 176.5h1M242 161.5h1M146 180.5h1M135 177.5h1M144 176.5h1M211 162.5h1M241 164.5h1M166 171.5h1M278 168.5h1M161 164.5h1M144 176.5h1M104 171.5h1M170 169.5h1M104 172.5h1M190 164.5h1M146 165.5h1M239 158.5h1M235 159.5h1M269 163.5h1M184 173.5h1M105 180.5h1M138 167.5h1M214 160.5h1M252 165.5h1M108 175.5h1M248 158.5h1M187 161.5h1M225 159.5h1M255 161.5h1M169 164.5h1M237 161.5h1M214 159.5h1M93 174.5h1M217 159.5h1M242 159.5h1M277 162.5h1M103 171.5h1M212 160.5h1M264 158.5h1M104 173.5h1M198 160.5h1M149 165.5h1M164 164.5h1M259 159.5h1M253 158.5h1M254 159.5h1M205 160.5h1M135 168.5h1M263 159.5h1M203 160.5h1M143 167.5h1M177 162.5h1M127 168.5h1M151 164.5h1M166 163.5h1M141 166.5h1M100 173.5h1M175 164.5h1M130 167.5h1M260 158.5h1M148 166.5h1M96 173.5h1M94 174.5h1M205 161.5h1M118 169.5h1M274 159.5h1M278 158.5h1M129 169.5h1M92 174.5h1M116 169.5h1M233 160.5h1M259 158.5h1M99 174.5h1M247 159.5h1M146 167.5h1M173 164.5h1M186 162.5h1M265 158.5h1M269 161.5h1M185 162.5h1M257 159.5h1M177 162.5h1M224 161.5h1M125 169.5h1M152 165.5h1M125 168.5h1M157 173.5h1M238 161.5h1M129 169.5h1M137 167.5h1M192 163.5h1M245 160.5h1M228 159.5h1M277 159.5h1M203 163.5h1M183 162.5h1M271 158.5h1M130 172.5h1M228 160.5h1M193 166.5h1M234 161.5h1M144 167.5h1M115 172.5h1M122 169.5h1M141 166.5h1M207 160.5h1M230 158.5h1M105 171.5h1M241 158.5h1M259 158.5h1M278 158.5h1M198 167.5h1M239 159.5h1M159 184.5h1M140 188.5h1M143 197.5h1M235 186.5h1M93 205.5h1M179 185.5h1M92 197.5h1M139 186.5h1M92 190.5h1M264 179.5h1M255 179.5h1M115 188.5h1M146 187.5h1M245 180.5h1M164 185.5h1M213 181.5h1M104 191.5h1M247 179.5h1M194 183.5h1M269 180.5h1M177 184.5h1M266 190.5h1M134 189.5h1M123 191.5h1M142 197.5h1M254 184.5h1M151 186.5h1M118 191.5h1M247 185.5h1M124 188.5h1M129 192.5h1M138 218.5h1M145 186.5h1M133 187.5h1M258 180.5h1M160 187.5h1M238 179.5h1M165 184.5h1M139 189.5h1M226 186.5h1M211 190.5h1M257 180.5h1M150 197.5h1M233 182.5h1M130 187.5h1M238 188.5h1M165 187.5h1M135 192.5h1M125 195.5h1M182 188.5h1M134 204.5h1M134 191.5h1M184 189.5h1M114 188.5h1M163 186.5h1M111 200.5h1M108 197.5h1M162 185.5h1M185 195.5h1M176 187.5h1M212 189.5h1M185 186.5h1M176 198.5h1M126 189.5h1M168 193.5h1M261 188.5h1M195 183.5h1M177 184.5h1M166 189.5h1M107 192.5h1M202 185.5h1M251 183.5h1M123 197.5h1M121 188.5h1M231 185.5h1M212 188.5h1M163 185.5h1M107 202.5h1M195 184.5h1M204 182.5h1M212 180.5h1M219 185.5h1M147 194.5h1M234 200.5h1M218 184.5h1M259 184.5h1M156 188.5h1M224 182.5h1M94 188.5h1M253 180.5h1M112 195.5h1M170 184.5h1M146 191.5h1M193 218.5h1M217 183.5h1M152 187.5h1M121 193.5h1M100 196.5h1M137 191.5h1M216 186.5h1M149 193.5h1M142 186.5h1M131 194.5h1M140 204.5h1M122 191.5h1M163 193.5h1M251 182.5h1M193 195.5h1M124 191.5h1M184 183.5h1M109 188.5h1M252 181.5h1M203 198.5h1M118 188.5h1M95 190.5h1M217 181.5h1M187 184.5h1M126 200.5h1M152 190.5h1M126 191.5h1M213 183.5h1M184 187.5h1M152 186.5h1M116 189.5h1M157 189.5h1M186 183.5h1M212 186.5h1M227 190.5h1M115 200.5h1M112 194.5h1M251 181.5h1M249 179.5h1M241 187.5h1M211 189.5h1M187 188.5h1M138 187.5h1M161 188.5h1M268 187.5h1M167 186.5h1M150 191.5h1M121 203.5h1M120 189.5h1M235 179.5h1M150 200.5h1M125 187.5h1M98 194.5h1M158 191.5h1M141 188.5h1M114 192.5h1M254 187.5h1M185 184.5h1M267 182.5h1M153 219.5h1M163 184.5h1M263 178.5h1M187 185.5h1M223 207.5h1M165 186.5h1M95 181.5h1M247 151.5h1M315 162.5h1M289 158.5h1M280 153.5h1M299 155.5h1M278 153.5h1M292 157.5h1M315 156.5h1M390 153.5h1M391 171.5h1M240 155.5h1M338 150.5h1M335 157.5h1M280 153.5h1M265 158.5h1M315 163.5h1M258 152.5h1M282 159.5h1M350 151.5h1M330 155.5h1M288 152.5h1M376 157.5h1M245 177.5h1M251 153.5h1M387 174.5h1M350 157.5h1M260 152.5h1M377 157.5h1M349 156.5h1M391 151.5h1M364 155.5h1M309 152.5h1M273 153.5h1M287 162.5h1M260 163.5h1M339 170.5h1M336 160.5h1M322 151.5h1M285 180.5h1M372 155.5h1M316 153.5h1M377 151.5h1M260 153.5h1M376 161.5h1M306 173.5h1M362 162.5h1M284 153.5h1M263 168.5h1M254 162.5h1M288 171.5h1M257 157.5h1M315 162.5h1M267 153.5h1M389 174.5h1M313 161.5h1M359 151.5h1M333 168.5h1M315 159.5h1M391 155.5h1M251 162.5h1M313 167.5h1M255 179.5h1M298 152.5h1M246 183.5h1M351 151.5h1M319 160.5h1M244 170.5h1M353 152.5h1M257 153.5h1M292 173.5h1M325 159.5h1M378 163.5h1M385 155.5h1M254 159.5h1M325 152.5h1M397 153.5h1M279 174.5h1M370 152.5h1M334 150.5h1M297 162.5h1M242 151.5h1M389 150.5h1M300 154.5h1M243 165.5h1M303 160.5h1M345 167.5h1M286 152.5h1M364 157.5h1M336 159.5h1M344 150.5h1M321 157.5h1M344 150.5h1M281 153.5h1M309 160.5h1M389 149.5h1M377 150.5h1M396 150.5h1M264 156.5h1M381 150.5h1M363 158.5h1M369 180.5h1M301 168.5h1M303 154.5h1M359 156.5h1M266 154.5h1M291 155.5h1M264 160.5h1M363 151.5h1M267 158.5h1M305 178.5h1M399 174.5h1M262 155.5h1M308 160.5h1M383 174.5h1M316 152.5h1M344 158.5h1M350 155.5h1M355 154.5h1M284 176.5h1M273 154.5h1M375 171.5h1M258 152.5h1M392 152.5h1M348 150.5h1M242 155.5h1M273 166.5h1M284 157.5h1M262 163.5h1M318 152.5h1M383 151.5h1M382 173.5h1M321 167.5h1M332 151.5h1M321 198.5h1M396 157.5h1M247 152.5h1M355 150.5h1M324 170.5h1M288 154.5h1M241 157.5h1M373 154.5h1M366 160.5h1M374 158.5h1M378 154.5h1M387 171.5h1M278 153.5h1M327 155.5h1M378 153.5h1M238 170.5h1M380 153.5h1M389 164.5h1M288 155.5h1M363 161.5h1M260 157.5h1M267 159.5h1M378 160.5h1M315 152.5h1M276 155.5h1M290 154.5h1M269 161.5h1M294 153.5h1M272 156.5h1M320 163.5h1M347 159.5h1M351 156.5h1M321 151.5h1M390 152.5h1M349 150.5h1M293 153.5h1M379 149.5h1M305 153.5h1M348 157.5h1M380 155.5h1M246 157.5h1M334 181.5h1M284 155.5h1M342 153.5h1M269 157.5h1M311 156.5h1M310 151.5h1M285 162.5h1M374 151.5h1M348 151.5h1M399 154.5h1M344 163.5h1M310 152.5h1M357 170.5h1M307 154.5h1M372 163.5h1M310 152.5h1M238 153.5h1M259 152.5h1M256 152.5h1M345 150.5h1M377 150.5h1M275 153.5h1M356 166.5h1M375 154.5h1M387 162.5h1M371 152.5h1M275 157.5h1M335 153.5h1M352 150.5h1M391 154.5h1M337 151.5h1M292 172.5h1M307 155.5h1M296 154.5h1M310 156.5h1M326 157.5h1M319 159.5h1M304 170.5h1M354 160.5h1M395 149.5h1M360 149.5h1M352 153.5h1M376 155.5h1M349 159.5h1M387 153.5h1M267 169.5h1M371 187.5h1M255 160.5h1M349 167.5h1M380 150.5h1M384 160.5h1M371 153.5h1M394 155.5h1M275 154.5h1M286 156.5h1M309 160.5h1M285 153.5h1M303 168.5h1M308 160.5h1M348 155.5h1M294 154.5h1M248 172.5h1M302 155.5h1M310 161.5h1M252 158.5h1M246 165.5h1M390 156.5h1M395 158.5h1M353 150.5h1M313 160.5h1M272 155.5h1M344 157.5h1M336 151.5h1M277 158.5h1M304 181.5h1M304 154.5h1M329 152.5h1M378 155.5h1M351 165.5h1M239 160.5h1M356 165.5h1M282 167.5h1M249 162.5h1M329 166.5h1M353 161.5h1M292 175.5h1M327 162.5h1M357 170.5h1M336 159.5h1M381 155.5h1M327 173.5h1M368 150.5h1M273 159.5h1M300 152.5h1M368 150.5h1M266 154.5h1M391 154.5h1M288 166.5h1M287 170.5h1M360 151.5h1M387 149.5h1M307 168.5h1M305 151.5h1M351 151.5h1M310 160.5h1M377 150.5h1M370 152.5h1M290 156.5h1M375 190.5h1M335 156.5h1M254 187.5h1M381 154.5h1M327 152.5h1M338 158.5h1M366 160.5h1M292 152.5h1M272 152.5h1M243 180.5h1M370 152.5h1M389 153.5h1M305 158.5h1M349 151.5h1M269 158.5h1M355 158.5h1M359 164.5h1M338 151.5h1M320 153.5h1M270 166.5h1M265 183.5h1M261 164.5h1M249 155.5h1M323 182.5h1M308 167.5h1M337 155.5h1M275 161.5h1M396 155.5h1M280 157.5h1M250 169.5h1M266 179.5h1M262 152.5h1M266 153.5h1M256 159.5h1M260 166.5h1M277 155.5h1M280 164.5h1M325 160.5h1M267 182.5h1M244 167.5h1M340 159.5h1M374 165.5h1M250 159.5h1M343 158.5h1M347 155.5h1M367 168.5h1M284 156.5h1M265 154.5h1M318 151.5h1M303 159.5h1M256 152.5h1M249 165.5h1M393 148.5h1M318 157.5h1M384 150.5h1M341 159.5h1M263 160.5h1M247 152.5h1M312 152.5h1M371 150.5h1M289 159.5h1M272 193.5h1M371 158.5h1M366 175.5h1M335 154.5h1M389 163.5h1M388 158.5h1M364 151.5h1M351 155.5h1M245 162.5h1M368 151.5h1M338 163.5h1M360 150.5h1M351 151.5h1M386 150.5h1M267 155.5h1M242 159.5h1M280 162.5h1M305 153.5h1M344 168.5h1M264 152.5h1M386 160.5h1M277 162.5h1M301 162.5h1M375 151.5h1M318 154.5h1M249 153.5h1M319 155.5h1M316 151.5h1M322 159.5h1M382 163.5h1M308 161.5h1M246 152.5h1M373 154.5h1M299 153.5h1M304 160.5h1M287 164.5h1M303 175.5h1M274 153.5h1M325 151.5h1M352 158.5h1M318 153.5h1M280 165.5h1M348 152.5h1M331 175.5h1M374 153.5h1M330 151.5h1M379 156.5h1M258 158.5h1M328 171.5h1M279 152.5h1M354 167.5h1M333 154.5h1M364 152.5h1M392 154.5h1M371 149.5h1M298 153.5h1M329 156.5h1M393 169.5h1M322 165.5h1M439 171.5h1M421 172.5h1M308 168.5h1M275 167.5h1M387 171.5h1M397 171.5h1M407 170.5h1M417 171.5h1M336 168.5h1M414 175.5h1M360 169.5h1M392 167.5h1M366 169.5h1M417 171.5h1M320 168.5h1M300 172.5h1M431 168.5h1M300 170.5h1M353 168.5h1M382 167.5h1M362 167.5h1M327 174.5h1M389 169.5h1M325 173.5h1M323 170.5h1M398 169.5h1M436 172.5h1M297 172.5h1M393 171.5h1M388 169.5h1M274 169.5h1M396 171.5h1M279 171.5h1M339 170.5h1M434 167.5h1M431 171.5h1M419 171.5h1M395 172.5h1M335 170.5h1M291 175.5h1M434 170.5h1M540 142.5h1M510 138.5h1M562 145.5h1M445 133.5h1M564 141.5h1M545 139.5h1M473 134.5h1M574 148.5h1M547 139.5h1M500 136.5h1M499 135.5h1M535 137.5h1M547 141.5h1M484 136.5h1M454 143.5h1M465 131.5h1M524 136.5h1M485 136.5h1M475 132.5h1M444 143.5h1M506 140.5h1M500 135.5h1M518 136.5h1M475 140.5h1M548 143.5h1M463 135.5h1M523 139.5h1M528 137.5h1M553 139.5h1M567 146.5h1M550 140.5h1M498 145.5h1M524 137.5h1M540 141.5h1M524 140.5h1M460 134.5h1M458 133.5h1M570 148.5h1M574 142.5h1M460 132.5h1M477 134.5h1M479 134.5h1M466 135.5h1M545 142.5h1M511 137.5h1M462 134.5h1M539 142.5h1M518 135.5h1M451 135.5h1M463 132.5h1M463 133.5h1M549 142.5h1M526 141.5h1M513 146.5h1M494 133.5h1M565 141.5h1M481 135.5h1M462 134.5h1M480 136.5h1M478 133.5h1M567 146.5h1M568 142.5h1M486 134.5h1M472 140.5h1M575 145.5h1M514 135.5h1M484 133.5h1M468 132.5h1M580 146.5h1M466 134.5h1M500 137.5h1M568 142.5h1M477 133.5h1M572 148.5h1M516 135.5h1M481 132.5h1M480 134.5h1M555 140.5h1M460 132.5h1M541 139.5h1M442 132.5h1M537 138.5h1M509 135.5h1M575 143.5h1M507 137.5h1M490 133.5h1M444 131.5h1M472 135.5h1M441 136.5h1M566 145.5h1M550 139.5h1M510 142.5h1M493 136.5h1M491 135.5h1M573 142.5h1M459 135.5h1M565 142.5h1M476 133.5h1M490 134.5h1M543 140.5h1M569 147.5h1M472 137.5h1M561 146.5h1M485 134.5h1M559 144.5h1M515 135.5h1M474 133.5h1M449 132.5h1M578 146.5h1M553 139.5h1M520 135.5h1M531 138.5h1M576 145.5h1M539 144.5h1M536 143.5h1M472 133.5h1M513 136.5h1M466 135.5h1M578 144.5h1M513 137.5h1M501 142.5h1M569 142.5h1M533 137.5h1M490 136.5h1M456 141.5h1M507 135.5h1M487 140.5h1M568 141.5h1M479 135.5h1M462 133.5h1M510 135.5h1M543 144.5h1M570 144.5h1M474 133.5h1M498 134.5h1M466 133.5h1M514 141.5h1M566 144.5h1M543 141.5h1M470 135.5h1M500 134.5h1M551 139.5h1M448 132.5h1M568 144.5h1M453 137.5h1M567 142.5h1M501 134.5h1M563 140.5h1M524 139.5h1M469 135.5h1M463 131.5h1M497 134.5h1M480 132.5h1M465 136.5h1M466 132.5h1M451 132.5h1M580 150.5h1M577 143.5h1M569 142.5h1M456 131.5h1M509 138.5h1M545 140.5h1M515 138.5h1M449 141.5h1M555 144.5h1M579 146.5h1M498 139.5h1M515 140.5h1M543 139.5h1M527 140.5h1M502 134.5h1M464 135.5h1M462 134.5h1M533 139.5h1M534 139.5h1M579 149.5h1M491 136.5h1M500 136.5h1M461 131.5h1M471 137.5h1M513 139.5h1M493 136.5h1M522 137.5h1M579 143.5h1M493 138.5h1M478 134.5h1M490 139.5h1M486 134.5h1M467 144.5h1M464 146.5h1M460 134.5h1M461 146.5h1M519 151.5h1M465 136.5h1M464 146.5h1M447 145.5h1M512 145.5h1M480 144.5h1M511 137.5h1M459 139.5h1M460 136.5h1M442 147.5h1M489 137.5h1M467 133.5h1M470 141.5h1M473 147.5h1M473 141.5h1M487 137.5h1M440 147.5h1M530 144.5h1M464 147.5h1M460 140.5h1M454 133.5h1M477 136.5h1M515 137.5h1M522 144.5h1M486 147.5h1M514 136.5h1M454 148.5h1M462 134.5h1M528 143.5h1M446 145.5h1M505 143.5h1M528 138.5h1M467 145.5h1M489 144.5h1M467 141.5h1M464 141.5h1M454 136.5h1M474 148.5h1M526 144.5h1M515 145.5h1M470 136.5h1M488 135.5h1M487 150.5h1M457 144.5h1M462 143.5h1M463 139.5h1M462 133.5h1M484 137.5h1M476 146.5h1M555 140.5h1M485 142.5h1M471 133.5h1M515 136.5h1M461 135.5h1M520 142.5h1M460 136.5h1M524 151.5h1M460 138.5h1M468 133.5h1M476 141.5h1M452 146.5h1M454 136.5h1M497 141.5h1M486 137.5h1M457 137.5h1M549 147.5h1M476 134.5h1M473 143.5h1M511 143.5h1M462 138.5h1M462 133.5h1M485 136.5h1M465 140.5h1M496 149.5h1M451 147.5h1M463 139.5h1M517 143.5h1M443 146.5h1M478 145.5h1M457 133.5h1M482 145.5h1M446 145.5h1M495 144.5h1M479 137.5h1M450 145.5h1M464 148.5h1M445 147.5h1M480 146.5h1M484 139.5h1M463 146.5h1M492 151.5h1M467 135.5h1M501 142.5h1M500 142.5h1M457 144.5h1M457 148.5h1M463 132.5h1M511 137.5h1M452 135.5h1M467 148.5h1M467 139.5h1M463 133.5h1M530 146.5h1M457 132.5h1M460 146.5h1M472 149.5h1M457 145.5h1M541 141.5h1M452 146.5h1M496 151.5h1M442 145.5h1M465 143.5h1M475 145.5h1M480 145.5h1M464 133.5h1M473 136.5h1M503 145.5h1M454 135.5h1M469 147.5h1M491 148.5h1M463 133.5h1M493 138.5h1M450 146.5h1M484 138.5h1M558 143.5h1M546 140.5h1M527 143.5h1M501 136.5h1M461 144.5h1M509 149.5h1M466 134.5h1M452 134.5h1M472 141.5h1M515 148.5h1M441 146.5h1M532 142.5h1M493 143.5h1M456 147.5h1M445 145.5h1M472 137.5h1M492 143.5h1M457 148.5h1M499 137.5h1M466 148.5h1M480 144.5h1M468 144.5h1M515 144.5h1M492 149.5h1M503 135.5h1M518 142.5h1M485 137.5h1M547 146.5h1M469 135.5h1M472 145.5h1M489 142.5h1M490 147.5h1M462 145.5h1M443 147.5h1M462 138.5h1M478 139.5h1M489 139.5h1M488 147.5h1M493 138.5h1M542 150.5h1M463 143.5h1M491 147.5h1M462 147.5h1M463 145.5h1M523 144.5h1M470 147.5h1M471 143.5h1M518 144.5h1M440 146.5h1M501 139.5h1M512 136.5h1M463 133.5h1M450 147.5h1M461 133.5h1M480 146.5h1M463 143.5h1M461 148.5h1M508 137.5h1M482 134.5h1M457 146.5h1M513 138.5h1M477 139.5h1M508 140.5h1M504 143.5h1M544 142.5h1M454 136.5h1M471 139.5h1M458 134.5h1M486 139.5h1M455 134.5h1M470 135.5h1M464 139.5h1M449 133.5h1M465 137.5h1M481 136.5h1M484 139.5h1M499 137.5h1M464 135.5h1M480 138.5h1M484 137.5h1M480 141.5h1M477 139.5h1M462 144.5h1M449 132.5h1M479 137.5h1M458 136.5h1M481 134.5h1M523 145.5h1M499 150.5h1M519 145.5h1M468 145.5h1M480 148.5h1M474 143.5h1M439 146.5h1M448 143.5h1M444 144.5h1M439 144.5h1M450 143.5h1M455 144.5h1M465 140.5h1M458 142.5h1M465 140.5h1M467 139.5h1M440 144.5h1M431 146.5h1M434 146.5h1M430 146.5h1M453 143.5h1M484 160.5h1M506 155.5h1M558 168.5h1M457 159.5h1M526 165.5h1M558 168.5h1M422 158.5h1M510 156.5h1M399 148.5h1M414 148.5h1M562 167.5h1M450 164.5h1M513 169.5h1M520 173.5h1M424 152.5h1M432 149.5h1M442 151.5h1M501 155.5h1M542 164.5h1M560 170.5h1M396 148.5h1M515 156.5h1M493 159.5h1M491 160.5h1M496 151.5h1M487 152.5h1M464 174.5h1M435 148.5h1M554 166.5h1M458 153.5h1M414 148.5h1M549 165.5h1M502 157.5h1M499 153.5h1M410 148.5h1M497 154.5h1M505 155.5h1M519 158.5h1M571 176.5h1M426 148.5h1M557 162.5h1M549 174.5h1M447 151.5h1M566 161.5h1M482 152.5h1M508 155.5h1M482 163.5h1M403 151.5h1M506 155.5h1M470 160.5h1M487 160.5h1M564 164.5h1M428 150.5h1M423 152.5h1M524 160.5h1M544 158.5h1M545 158.5h1M486 164.5h1M576 162.5h1M463 156.5h1M519 155.5h1M550 160.5h1M512 156.5h1M456 152.5h1M431 164.5h1M414 148.5h1M432 151.5h1M489 157.5h1M487 151.5h1M581 166.5h1M437 154.5h1M450 153.5h1M535 161.5h1M518 155.5h1M485 155.5h1M565 163.5h1M479 163.5h1M463 154.5h1M418 150.5h1M463 164.5h1M483 169.5h1M484 151.5h1M541 167.5h1M412 166.5h1M408 148.5h1M537 160.5h1M550 160.5h1M448 149.5h1M522 161.5h1M436 150.5h1M519 158.5h1M524 171.5h1M450 157.5h1M555 164.5h1M548 162.5h1M503 159.5h1M574 165.5h1M551 162.5h1M531 163.5h1M493 154.5h1M475 150.5h1M515 155.5h1M549 166.5h1M536 160.5h1M574 164.5h1M423 153.5h1M573 163.5h1M457 161.5h1M499 160.5h1M474 149.5h1M572 162.5h1M515 155.5h1M495 157.5h1M451 152.5h1M484 151.5h1M567 166.5h1M427 148.5h1M513 154.5h1M441 148.5h1M424 154.5h1M551 160.5h1M470 150.5h1M524 174.5h1M497 165.5h1M480 158.5h1M561 166.5h1M510 158.5h1M526 157.5h1M486 167.5h1M430 148.5h1M481 155.5h1M434 153.5h1M539 170.5h1M556 159.5h1M419 148.5h1M497 155.5h1M442 159.5h1M517 163.5h1M556 160.5h1M514 162.5h1M433 152.5h1M397 150.5h1M517 154.5h1M569 165.5h1M399 149.5h1M485 157.5h1M453 154.5h1M468 171.5h1M514 155.5h1M406 148.5h1M412 150.5h1M509 158.5h1M446 154.5h1M484 152.5h1M494 158.5h1M460 155.5h1M480 153.5h1M494 153.5h1M424 148.5h1M409 147.5h1M573 164.5h1M425 147.5h1M540 158.5h1M458 153.5h1M483 154.5h1M469 149.5h1M577 166.5h1M466 153.5h1M549 161.5h1M479 159.5h1M566 177.5h1M548 165.5h1M461 156.5h1M459 148.5h1M467 160.5h1M442 160.5h1M552 159.5h1M558 164.5h1M453 149.5h1M580 164.5h1M573 167.5h1M555 171.5h1M403 150.5h1M409 155.5h1M567 181.5h1M559 175.5h1M492 152.5h1M407 148.5h1M402 150.5h1M509 159.5h1M563 161.5h1M511 156.5h1M470 153.5h1M510 154.5h1M567 163.5h1M473 150.5h1M532 156.5h1M479 151.5h1M466 156.5h1M401 150.5h1M492 165.5h1M542 171.5h1M543 158.5h1M451 148.5h1M476 157.5h1M486 151.5h1M525 159.5h1M489 180.5h1M446 148.5h1M479 154.5h1M579 162.5h1M547 158.5h1M464 170.5h1M403 164.5h1M547 160.5h1M543 158.5h1M434 149.5h1M515 164.5h1M470 156.5h1M565 165.5h1M489 153.5h1M471 155.5h1M408 161.5h1M512 155.5h1M397 159.5h1M537 160.5h1M394 161.5h1M507 165.5h1M503 171.5h1M552 160.5h1M433 152.5h1M555 165.5h1M579 166.5h1M466 165.5h1M565 174.5h1M550 158.5h1M463 151.5h1M570 164.5h1M576 162.5h1M548 158.5h1M547 162.5h1M454 151.5h1M448 152.5h1M580 165.5h1M507 154.5h1M534 156.5h1M488 161.5h1M469 164.5h1M569 163.5h1M529 158.5h1M474 160.5h1M537 159.5h1M520 159.5h1M540 163.5h1M577 170.5h1M412 150.5h1M571 188.5h1M430 150.5h1M495 158.5h1M507 162.5h1M548 168.5h1M574 166.5h1M470 152.5h1M417 153.5h1M534 168.5h1M481 160.5h1M501 155.5h1M424 152.5h1M416 150.5h1M466 161.5h1M577 168.5h1M562 167.5h1M469 153.5h1M555 161.5h1M558 161.5h1M434 149.5h1M532 156.5h1M451 158.5h1M501 158.5h1M556 160.5h1M551 167.5h1M516 156.5h1M486 158.5h1M446 151.5h1M471 154.5h1M563 161.5h1M557 162.5h1M430 151.5h1M429 160.5h1M544 160.5h1M497 157.5h1M397 156.5h1M432 150.5h1M556 167.5h1M557 162.5h1M537 160.5h1M418 152.5h1M517 154.5h1M568 166.5h1M559 166.5h1M501 152.5h1M565 164.5h1M488 152.5h1M567 178.5h1M579 167.5h1M536 163.5h1M557 167.5h1M531 161.5h1M467 154.5h1M456 159.5h1M554 171.5h1M465 158.5h1M580 167.5h1M518 155.5h1M482 156.5h1M445 149.5h1M509 159.5h1M423 152.5h1M565 168.5h1M503 156.5h1M457 166.5h1M456 150.5h1M444 150.5h1M508 163.5h1M561 160.5h1M570 184.5h1M479 150.5h1M454 149.5h1M533 156.5h1M468 157.5h1M548 158.5h1M492 164.5h1M551 161.5h1M429 154.5h1M553 159.5h1M393 151.5h1M476 162.5h1M430 149.5h1M496 167.5h1M560 162.5h1M488 153.5h1M482 150.5h1M448 155.5h1M405 159.5h1M561 164.5h1M527 158.5h1M566 163.5h1M580 168.5h1M517 172.5h1M447 172.5h1M574 161.5h1M515 158.5h1M550 163.5h1M543 165.5h1M454 157.5h1M488 152.5h1M472 155.5h1M570 169.5h1M534 161.5h1M451 165.5h1M449 148.5h1M448 161.5h1M481 159.5h1M433 150.5h1M405 154.5h1M519 156.5h1M536 163.5h1M463 151.5h1M514 156.5h1M429 151.5h1M425 151.5h1M473 153.5h1M538 164.5h1M430 154.5h1M538 160.5h1M555 174.5h1M504 155.5h1M509 161.5h1M575 172.5h1M447 149.5h1M578 175.5h1M477 153.5h1M483 151.5h1M523 156.5h1M512 163.5h1M512 160.5h1M392 153.5h1M477 154.5h1M546 159.5h1M422 148.5h1M527 156.5h1M534 163.5h1M395 157.5h1M435 149.5h1M435 150.5h1M578 174.5h1M574 161.5h1M499 171.5h1M524 158.5h1M458 150.5h1M432 159.5h1M557 159.5h1M513 157.5h1M531 157.5h1M528 162.5h1M411 151.5h1M412 149.5h1M571 162.5h1M524 162.5h1M477 155.5h1M458 149.5h1M565 161.5h1M545 164.5h1M500 154.5h1M462 158.5h1M500 162.5h1M536 169.5h1M454 160.5h1M570 163.5h1M517 156.5h1M508 166.5h1M479 150.5h1M413 153.5h1M487 159.5h1M516 157.5h1M542 166.5h1M459 152.5h1M514 156.5h1M542 157.5h1M515 154.5h1M581 171.5h1M515 154.5h1M460 153.5h1M545 163.5h1M573 168.5h1M579 176.5h1M532 168.5h1M462 165.5h1M427 149.5h1M401 148.5h1M456 151.5h1M543 159.5h1M474 171.5h1M481 154.5h1M433 147.5h1M537 165.5h1M421 150.5h1M436 147.5h1M545 159.5h1M483 159.5h1M534 161.5h1M544 165.5h1M543 179.5h1M419 157.5h1M481 152.5h1M405 156.5h1M542 161.5h1M518 173.5h1M413 155.5h1M554 161.5h1M447 161.5h1M531 163.5h1M466 149.5h1M515 156.5h1M552 165.5h1M576 161.5h1M428 151.5h1M405 150.5h1M565 170.5h1M484 159.5h1M505 161.5h1M457 151.5h1M482 152.5h1M429 148.5h1M492 157.5h1M538 162.5h1M574 170.5h1M452 153.5h1M422 154.5h1M552 165.5h1M465 153.5h1M519 160.5h1M575 162.5h1M449 156.5h1M534 166.5h1M559 160.5h1M442 156.5h1M415 150.5h1M472 153.5h1M427 161.5h1M500 155.5h1M403 150.5h1M439 160.5h1M537 157.5h1M552 164.5h1M559 164.5h1M559 164.5h1M522 160.5h1M501 161.5h1M526 167.5h1M565 162.5h1M432 153.5h1M454 150.5h1M524 157.5h1M566 164.5h1M442 154.5h1M439 151.5h1M556 159.5h1M419 149.5h1M483 150.5h1M561 160.5h1M453 149.5h1M428 148.5h1M440 148.5h1M397 149.5h1M520 156.5h1M432 148.5h1M492 152.5h1M492 152.5h1M512 156.5h1M432 149.5h1M478 151.5h1M491 152.5h1M392 149.5h1M418 149.5h1M549 158.5h1M493 155.5h1M445 151.5h1M392 150.5h1M500 156.5h1M463 149.5h1M542 158.5h1M430 148.5h1M458 149.5h1M498 152.5h1M446 148.5h1M453 148.5h1M577 163.5h1M455 149.5h1M549 158.5h1M416 148.5h1M473 150.5h1M505 152.5h1M490 152.5h1M421 148.5h1M413 150.5h1M535 157.5h1M454 151.5h1M436 152.5h1M426 151.5h1M417 148.5h1M513 157.5h1M480 153.5h1M422 149.5h1M527 156.5h1M424 148.5h1M517 156.5h1M492 151.5h1M541 157.5h1M572 161.5h1M487 154.5h1M440 148.5h1M570 163.5h1M492 152.5h1M428 148.5h1M423 148.5h1M395 150.5h1M450 150.5h1M417 147.5h1M461 152.5h1M478 150.5h1M551 158.5h1M523 156.5h1M431 147.5h1M476 150.5h1M548 159.5h1M492 153.5h1M443 149.5h1M453 148.5h1M509 154.5h1M392 149.5h1M459 149.5h1M574 161.5h1M559 160.5h1M555 159.5h1M399 155.5h1M412 149.5h1M444 150.5h1M467 150.5h1M578 163.5h1M446 148.5h1M448 150.5h1M562 160.5h1M442 149.5h1M480 150.5h1M494 153.5h1M410 147.5h1M520 155.5h1M529 156.5h1M484 153.5h1M429 148.5h1M416 148.5h1M408 148.5h1M551 158.5h1M428 151.5h1M450 149.5h1M459 148.5h1M519 155.5h1M403 149.5h1M449 148.5h1M432 149.5h1M472 176.5h1M460 170.5h1M538 185.5h1M410 171.5h1M445 170.5h1M556 187.5h1M481 175.5h1M428 171.5h1M414 185.5h1M563 197.5h1M518 176.5h1M450 180.5h1M445 168.5h1M492 179.5h1M512 180.5h1M450 169.5h1M520 185.5h1M449 169.5h1M563 184.5h1M496 180.5h1M573 196.5h1M502 200.5h1M464 173.5h1M543 183.5h1M433 169.5h1M579 193.5h1M565 184.5h1M525 178.5h1M443 173.5h1M466 174.5h1M425 175.5h1M419 177.5h1M461 173.5h1M479 172.5h1M547 182.5h1M421 168.5h1M471 174.5h1M501 179.5h1M426 168.5h1M487 178.5h1M534 180.5h1M469 178.5h1M532 191.5h1M544 181.5h1M412 176.5h1M550 184.5h1M555 186.5h1M486 172.5h1M467 193.5h1M502 175.5h1M428 172.5h1M441 171.5h1M438 171.5h1M528 178.5h1M531 178.5h1M543 180.5h1M571 188.5h1M414 178.5h1M531 193.5h1M429 173.5h1M499 185.5h1M501 176.5h1M536 181.5h1M472 184.5h1M470 174.5h1M555 186.5h1M544 183.5h1M418 170.5h1M543 198.5h1M518 178.5h1M440 168.5h1M577 206.5h1M441 178.5h1M415 169.5h1M548 190.5h1M475 172.5h1M556 186.5h1M573 196.5h1M513 176.5h1M576 185.5h1M573 185.5h1M511 175.5h1M480 176.5h1M449 170.5h1M531 180.5h1M508 175.5h1M495 176.5h1M536 180.5h1M531 179.5h1M516 189.5h1M467 172.5h1M512 188.5h1M420 190.5h1M436 175.5h1M505 185.5h1M490 181.5h1M565 185.5h1M455 169.5h1M463 175.5h1M531 183.5h1M443 169.5h1M456 171.5h1M544 179.5h1M523 189.5h1M528 188.5h1M518 189.5h1M578 198.5h1M481 173.5h1M482 180.5h1M556 189.5h1M575 191.5h1M550 203.5h1M448 168.5h1M572 189.5h1M552 182.5h1M498 184.5h1M421 169.5h1M555 207.5h1M464 172.5h1M497 173.5h1M474 172.5h1M487 179.5h1M446 172.5h1M578 207.5h1M579 191.5h1M431 176.5h1M534 178.5h1M460 176.5h1M453 175.5h1M448 174.5h1M487 175.5h1M466 174.5h1M480 171.5h1M443 169.5h1M466 175.5h1M537 185.5h1M571 185.5h1M416 172.5h1M492 180.5h1M548 187.5h1M570 191.5h1M471 170.5h1M425 169.5h1M426 183.5h1M437 171.5h1M559 183.5h1M531 199.5h1M441 169.5h1M480 180.5h1M526 178.5h1M492 173.5h1M436 193.5h1M459 169.5h1M543 186.5h1M421 174.5h1M482 171.5h1M522 176.5h1M449 173.5h1M563 199.5h1M563 183.5h1M475 181.5h1M454 171.5h1M528 178.5h1M491 188.5h1M471 173.5h1M502 176.5h1M538 187.5h1M577 185.5h1M412 169.5h1M525 184.5h1M565 188.5h1M556 190.5h1M484 171.5h1M470 173.5h1M503 174.5h1M549 180.5h1M476 173.5h1M560 183.5h1M531 182.5h1M465 178.5h1M471 173.5h1M508 175.5h1M578 202.5h1M489 177.5h1M416 167.5h1M464 170.5h1M522 181.5h1M570 205.5h1M542 179.5h1M498 179.5h1M525 200.5h1M417 180.5h1M447 173.5h1M470 172.5h1M481 185.5h1M534 185.5h1M547 181.5h1M457 176.5h1M505 174.5h1M580 201.5h1M519 180.5h1M556 184.5h1M542 180.5h1M573 189.5h1M413 170.5h1M542 185.5h1M506 184.5h1M550 181.5h1M573 192.5h1M541 192.5h1M527 182.5h1M463 174.5h1M547 182.5h1M577 185.5h1M535 180.5h1M494 173.5h1M428 192.5h1M504 175.5h1M561 186.5h1M462 199.5h1M420 169.5h1M570 193.5h1M579 192.5h1M447 169.5h1M537 187.5h1M575 185.5h1M469 172.5h1M509 176.5h1M511 178.5h1M504 182.5h1M501 175.5h1M549 182.5h1M413 167.5h1M429 168.5h1M409 173.5h1M459 169.5h1M518 178.5h1M465 172.5h1M441 170.5h1M559 183.5h1M578 200.5h1M422 172.5h1M472 179.5h1M454 173.5h1M455 180.5h1M507 174.5h1M402 175.5h1M436 176.5h1M421 171.5h1M413 199.5h1M483 203.5h3M560 187.5h1M138 213.5h1M90 242.5h1M515 171.5h1M380 156.5h1M434 266.5h1M100 263.5h1M113 194.5h1M552 189.5h1M538 243.5h1M106 187.5h1M581 239.5h1M284 173.5h1M523 166.5h1M553 185.5h1M231 176.5h1M286 153.5h1M436 173.5h1M131 234.5h1M449 247.5h1M138 168.5h1M579 194.5h1M523 181.5h1M97 285.5h1M98 280.5h1M470 187.5h1M246 178.5h1M305 157.5h1M522 194.5h1M568 278.5h1M494 178.5h1M218 161.5h1M185 207.5h1M520 189.5h1M132 189.5h1M532 224.5h1M478 232.5h1M95 210.5h1M220 167.5h1M267 155.5h1M494 215.5h1M397 205.5h1M496 227.5h1M195 246.5h1M367 187.5h1M489 194.5h1M418 164.5h1M450 205.5h1M559 186.5h1M495 175.5h1M144 180.5h1M510 171.5h1M460 212.5h1M160 206.5h1M576 243.5h1M539 170.5h1M120 201.5h1M452 186.5h1M396 211.5h1M528 167.5h1M467 164.5h1M480 254.5h1M91 219.5h1M129 220.5h1M309 194.5h1M403 180.5h1M512 171.5h1M459 175.5h1M121 179.5h1M555 202.5h1M435 158.5h1M529 178.5h1M155 171.5h1M157 171.5h1M505 179.5h1M124 220.5h1M560 270.5h1M186 202.5h1M482 228.5h1M513 184.5h1M406 164.5h1M398 161.5h1M144 195.5h1M470 188.5h1M126 179.5h1M468 163.5h1M254 193.5h1M496 184.5h1M344 174.5h1M576 188.5h1M512 177.5h1M158 218.5h1M429 180.5h1M485 183.5h1M249 155.5h1M111 279.5h1M487 251.5h1M302 176.5h1M112 207.5h1M267 169.5h1M528 231.5h1M425 166.5h1M110 186.5h1M501 229.5h1M201 195.5h1M407 171.5h1M536 195.5h1M116 178.5h1M193 177.5h1M449 163.5h1M119 206.5h1M94 277.5h1M567 179.5h1M426 172.5h1M222 226.5h1M115 204.5h1M121 230.5h1M144 193.5h1M183 210.5h1M356 184.5h1M121 184.5h1M176 205.5h1M165 170.5h1M428 174.5h1M195 267.5h1M171 230.5h1M223 189.5h1M422 164.5h1M560 276.5h1M530 173.5h1M561 244.5h1M534 228.5h1M444 192.5h1M179 178.5h1M528 200.5h1M521 213.5h1M462 247.5h1M95 174.5h1M155 194.5h1M481 187.5h1M358 166.5h1M217 194.5h1M105 197.5h1M536 200.5h1M565 195.5h1M157 206.5h1M456 179.5h1M232 157.5h1M554 177.5h1M581 253.5h1M196 166.5h1M404 160.5h1M223 161.5h1M149 177.5h1M550 217.5h1M164 196.5h1M137 214.5h1M222 195.5h1M273 210.5h1M548 188.5h1M551 179.5h1M449 216.5h1M153 234.5h1M548 203.5h1M498 236.5h1M539 174.5h1M524 164.5h1M151 188.5h1M149 172.5h1M130 184.5h1M526 225.5h1M93 189.5h1M315 164.5h1M186 211.5h1M127 173.5h1M554 280.5h1M472 165.5h1M570 179.5h1M226 175.5h1M502 221.5h1M115 193.5h1M307 162.5h1M176 250.5h1M142 178.5h1M121 265.5h1M524 186.5h1M189 199.5h1M111 173.5h1M502 177.5h1M448 196.5h1M575 196.5h1M524 219.5h1M347 189.5h1M579 188.5h1M548 251.5h1M302 157.5h1M115 173.5h1M261 157.5h1M501 197.5h1M558 170.5h1M234 162.5h1M468 238.5h1M518 169.5h1M147 266.5h1M495 169.5h1M327 174.5h1M260 179.5h1M184 216.5h1M452 192.5h1M485 160.5h1M237 218.5h1M579 272.5h1M535 243.5h1M351 156.5h1M476 179.5h1M450 193.5h1M409 178.5h1M451 160.5h1M200 198.5h1M259 182.5h1M345 163.5h1M521 231.5h1M119 188.5h1M433 158.5h1M569 217.5h1M541 180.5h1M266 156.5h1M523 184.5h1M205 171.5h1M97 263.5h1M253 220.5h1M446 193.5h1M96 200.5h1M514 206.5h1M429 203.5h1M180 168.5h1M146 203.5h1M477 175.5h1M362 271.5h1M99 207.5h1M403 162.5h1M514 185.5h1M437 197.5h1M199 174.5h1M563 207.5h1M568 192.5h1M360 166.5h1M260 178.5h1M291 178.5h1M449 183.5h1M195 164.5h1M138 198.5h1M528 269.5h1M436 228.5h1M102 187.5h1M212 181.5h1M317 265.5h1M234 169.5h1M186 206.5h1M337 234.5h1M148 204.5h1M182 204.5h1M559 178.5h1M157 199.5h1M174 172.5h1M116 209.5h1M537 171.5h1M396 169.5h1M403 158.5h1M500 163.5h1M536 212.5h1M453 184.5h1M112 215.5h1M263 163.5h1M222 176.5h1M119 171.5h1M203 254.5h1M275 154.5h1M282 157.5h1M289 190.5h1M132 170.5h1M452 160.5h1M492 180.5h1M245 161.5h1M479 177.5h1M220 160.5h1M571 204.5h1M97 249.5h1M170 189.5h1M445 194.5h1M337 159.5h1M224 186.5h1M170 192.5h1M162 220.5h1M162 166.5h1M185 171.5h1M112 230.5h1M423 185.5h1M261 185.5h1M576 263.5h1M229 163.5h1M478 193.5h1M298 157.5h1M124 240.5h1M580 224.5h1M440 179.5h1M143 234.5h1M285 185.5h1M196 190.5h1M171 173.5h1M496 171.5h1M248 170.5h1M112 179.5h1M578 184.5h1M424 166.5h1M414 189.5h1M343 153.5h1M199 160.5h1M365 166.5h1M538 189.5h1M457 167.5h1M501 227.5h1M150 169.5h1M113 225.5h1M395 157.5h1M97 177.5h1M129 199.5h1M569 203.5h1M566 178.5h1M503 171.5h1M474 224.5h1M387 271.5h1M569 226.5h1M150 203.5h1M190 184.5h1M539 183.5h1M509 170.5h1M533 183.5h1M132 187.5h1M384 160.5h1M104 178.5h1M132 175.5h1M136 208.5h1M183 177.5h1M525 179.5h1M512 181.5h1M191 177.5h1M511 205.5h1M105 279.5h1M348 175.5h1M553 195.5h1M475 196.5h1M101 253.5h1M436 181.5h1M225 176.5h1M532 235.5h1M485 176.5h1M143 200.5h1M414 184.5h1M266 165.5h1M489 247.5h1M116 186.5h1M194 189.5h1M97 232.5h1M452 230.5h1M320 280.5h1M122 185.5h1M538 285.5h1M243 188.5h1M268 163.5h1M479 168.5h1M581 227.5h1M451 160.5h1M119 184.5h1M125 183.5h1M463 182.5h1M144 221.5h1M526 202.5h1M515 174.5h1M445 156.5h1M103 191.5h1M138 188.5h1M183 200.5h1M527 278.5h1M253 241.5h1M574 182.5h1M483 203.5h1M481 171.5h1M521 252.5h1M154 171.5h1M109 251.5h1M143 167.5h1M141 172.5h1M156 207.5h1M459 170.5h1M548 169.5h1M112 217.5h1M461 174.5h1M138 186.5h1M498 187.5h1M326 161.5h1M429 166.5h1M137 282.5h1M237 160.5h1M429 226.5h1M226 158.5h1M281 159.5h1M498 194.5h1M203 183.5h1M530 177.5h1M219 160.5h1M571 197.5h1M509 222.5h1M523 200.5h1M432 157.5h1M217 176.5h1M108 182.5h1M503 224.5h1M290 164.5h1M149 188.5h1M525 207.5h1M425 158.5h1M449 165.5h1M542 178.5h1M174 247.5h1M175 241.5h1M482 169.5h1M112 179.5h1M204 164.5h1M172 217.5h1M493 203.5h1M394 156.5h1M147 195.5h1M382 189.5h1M355 157.5h1M192 166.5h1M557 179.5h1M211 164.5h1M423 188.5h1M312 205.5h1M568 212.5h1M359 156.5h1M529 217.5h1M129 189.5h1M168 176.5h1M540 185.5h1M229 165.5h1M110 246.5h1M414 179.5h1M422 166.5h1M182 188.5h1M481 170.5h1M91 203.5h1M540 195.5h1M358 153.5h1M171 188.5h1M112 190.5h1M118 227.5h1M526 203.5h1M398 186.5h1M185 234.5h1M575 264.5h1M529 180.5h1M197 164.5h1M575 191.5h1M491 180.5h1M205 240.5h1M569 177.5h1M330 165.5h1M103 205.5h1M178 198.5h1M94 240.5h1M516 226.5h1M568 194.5h1M199 164.5h1M135 175.5h1M389 169.5h1M138 264.5h1M263 170.5h1M449 160.5h1M533 267.5h1M502 170.5h1M522 197.5h1M516 284.5h1" stroke="#fddbc7" stroke-width="1" fill="none"/>
<path d="M183 146.5h1M98 153.5h1M197 149.5h1M170 143.5h1M165 150.5h1M241 143.5h1M189 155.5h1M212 141.5h1M136 163.5h1M93 153.5h1M211 146.5h1M122 152.5h1M176 150.5h1M143 155.5h1M201 143.5h1M205 144.5h1M108 158.5h1M250 142.5h1M186 156.5h1M138 156.5h1M124 151.5h1M169 145.5h1M163 158.5h1M135 157.5h1M147 145.5h1M255 138.5h1M183 159.5h1M95 163.5h1M92 155.5h1M199 140.5h1M169 158.5h1M194 158.5h1M185 143.5h1M251 144.5h1M176 155.5h1M165 146.5h1M201 154.5h1M242 140.5h1M111 150.5h1M144 152.5h1M228 139.5h1M100 158.5h1M175 144.5h1M107 157.5h1M250 144.5h1M126 149.5h1M156 163.5h1M191 158.5h1M198 140.5h1M253 140.5h1M246 145.5h1M106 157.5h1M235 142.5h1M106 152.5h1M149 145.5h1M105 164.5h1M255 142.5h1M219 154.5h1M156 150.5h1M224 150.5h1M186 153.5h1M265 140.5h1M142 146.5h1M150 159.5h1M259 142.5h1M91 159.5h1M200 146.5h1M214 154.5h1M98 152.5h1M256 143.5h1M99 156.5h1M191 140.5h1M103 163.5h1M93 157.5h1M162 155.5h1M176 154.5h1M171 152.5h1M244 144.5h1M256 140.5h1M207 146.5h1M101 170.5h1M211 143.5h1M204 148.5h1M224 149.5h1M227 143.5h1M205 154.5h1M254 140.5h1M232 139.5h1M149 155.5h1M208 141.5h1M215 147.5h1M153 158.5h1M202 152.5h1M175 151.5h1M204 143.5h1M254 138.5h1M112 152.5h1M156 149.5h1M181 142.5h1M157 158.5h1M236 147.5h1M115 149.5h1M170 152.5h1M143 147.5h1M241 143.5h1M272 138.5h1M205 151.5h1M261 141.5h1M145 145.5h1M133 161.5h1M175 150.5h1M124 165.5h1M164 158.5h1M106 158.5h1M133 166.5h1M118 151.5h1M180 149.5h1M265 138.5h1M105 157.5h1M184 143.5h1M132 155.5h1M268 139.5h1M260 142.5h1M273 138.5h1M108 158.5h1M175 142.5h1M137 146.5h1M108 168.5h1M247 140.5h1M219 140.5h1M162 156.5h1M144 153.5h1M215 157.5h1M147 162.5h1M261 138.5h1M125 161.5h1M247 145.5h1M273 138.5h1M212 146.5h1M102 159.5h1M268 138.5h1M133 152.5h1M127 163.5h1M149 145.5h1M188 152.5h1M94 162.5h1M254 139.5h1M248 139.5h1M249 140.5h1M180 142.5h1M175 154.5h1M152 161.5h1M243 139.5h1M268 138.5h1M225 145.5h1M140 155.5h1M158 150.5h1M149 158.5h1M91 160.5h1M248 145.5h1M206 144.5h1M119 149.5h1M129 164.5h1M101 164.5h1M173 155.5h1M143 152.5h1M161 152.5h1M159 143.5h1M204 149.5h1M221 149.5h1M229 147.5h1M213 149.5h1M137 154.5h1M112 150.5h1M93 170.5h1M211 147.5h1M228 140.5h1M96 152.5h1M125 154.5h1M121 159.5h1M170 148.5h1M185 154.5h1M97 155.5h1M127 164.5h1M120 150.5h1M185 144.5h1M173 147.5h1M245 139.5h1M167 147.5h1M118 163.5h1M119 160.5h1M253 139.5h1M198 155.5h1M178 148.5h1M139 161.5h1M187 157.5h1M169 144.5h1M102 162.5h1M199 151.5h1M165 144.5h1M106 159.5h1M264 139.5h1M257 142.5h1M150 146.5h1M127 155.5h1M217 155.5h1M237 148.5h1M150 152.5h1M246 145.5h1M155 161.5h1M105 155.5h1M212 146.5h1M132 154.5h1M147 162.5h1M241 143.5h1M107 155.5h1M199 154.5h1M218 140.5h1M146 151.5h1M254 140.5h1M218 140.5h1M154 160.5h1M153 147.5h1M197 141.5h1M264 139.5h1M111 163.5h1M239 139.5h1M244 140.5h1M270 138.5h1M105 165.5h1M223 152.5h1M264 140.5h1M243 144.5h1M226 141.5h1M175 147.5h1M156 149.5h1M234 152.5h1M96 164.5h1M188 157.5h1M170 144.5h1M243 144.5h1M139 155.5h1M176 142.5h1M256 139.5h1M217 140.5h1M267 139.5h1M187 142.5h1M161 154.5h1M243 139.5h1M102 152.5h1M232 139.5h1M175 153.5h1M242 138.5h1M96 170.5h1M247 144.5h1M135 164.5h1M146 151.5h1M192 148.5h1M207 153.5h1M161 149.5h1M233 141.5h1M120 148.5h1M231 156.5h1M181 152.5h1M116 149.5h1M229 144.5h1M238 148.5h1M122 156.5h1M101 171.5h1M270 139.5h1M207 149.5h1M237 141.5h1M142 147.5h1M235 140.5h1M264 139.5h1M160 154.5h1M130 153.5h1M181 158.5h1M237 139.5h1M256 138.5h1M241 148.5h1M205 140.5h1M214 155.5h1M201 158.5h1M155 157.5h1M114 157.5h1M178 143.5h1M184 159.5h1M128 148.5h1M236 144.5h1M97 158.5h1M133 150.5h1M149 152.5h1M235 139.5h1M102 155.5h1M111 165.5h1M182 145.5h1M225 139.5h1M111 160.5h1M111 161.5h1M158 156.5h1M128 150.5h1M273 138.5h1M154 151.5h1M242 139.5h1M109 154.5h1M246 143.5h1M234 144.5h1M217 143.5h1M187 156.5h1M183 143.5h1M188 155.5h1M181 160.5h1M159 156.5h1M117 164.5h1M179 143.5h1M153 145.5h1M218 154.5h1M196 150.5h1M229 157.5h1M159 148.5h1M261 141.5h1M245 140.5h1M113 149.5h1M196 150.5h1M231 143.5h1M117 155.5h1M153 151.5h1M106 159.5h1M233 150.5h1M219 150.5h1M245 147.5h1M157 151.5h1M126 151.5h1M134 153.5h1M93 153.5h1M144 163.5h1M257 139.5h1M273 138.5h1M178 145.5h1M162 150.5h1M184 153.5h1M218 145.5h1M99 169.5h1M266 140.5h1M200 147.5h1M130 160.5h1M220 156.5h1M250 139.5h1M195 152.5h1M216 145.5h1M143 155.5h1M109 164.5h1M110 151.5h1M231 138.5h1M160 147.5h1M152 151.5h1M248 143.5h1M94 162.5h1M228 146.5h1M232 153.5h1M91 165.5h1M228 141.5h1M107 168.5h1M234 139.5h1M216 145.5h1M152 145.5h1M225 152.5h1M207 142.5h1M133 155.5h1M263 138.5h1M210 142.5h1M241 142.5h1M138 148.5h1M121 155.5h1M93 164.5h1M260 139.5h1M230 146.5h1M188 145.5h1M261 139.5h1M188 156.5h1M117 160.5h1M204 155.5h1M102 155.5h1M153 150.5h1M234 148.5h1M203 145.5h1M139 164.5h1M161 143.5h1M122 148.5h1M94 153.5h1M230 143.5h1M236 145.5h1M102 167.5h1M220 146.5h1M272 138.5h1M175 142.5h1M133 161.5h1M200 150.5h1M165 143.5h1M138 146.5h1M235 156.5h1M225 139.5h1M213 142.5h1M258 140.5h1M132 149.5h1M242 144.5h1M265 138.5h1M232 139.5h1M133 148.5h1M163 143.5h1M115 149.5h1M221 141.5h1M224 140.5h1M166 143.5h1M239 138.5h1M202 142.5h1M253 142.5h1M118 149.5h1M186 144.5h1M191 142.5h1M160 143.5h1M141 147.5h1M114 149.5h1M237 139.5h1M205 144.5h1M162 145.5h1M189 141.5h1M215 142.5h1M164 144.5h1M110 151.5h1M169 143.5h1M218 139.5h1M186 141.5h1M138 147.5h1M243 141.5h1M148 145.5h1M241 140.5h1M239 139.5h1M160 143.5h1M206 140.5h1M131 147.5h1M237 141.5h1M189 143.5h1M220 141.5h1M152 149.5h1M148 146.5h1M212 142.5h1M109 150.5h1M166 143.5h1M250 139.5h1M157 145.5h1M184 143.5h1M211 139.5h1M159 145.5h1M170 144.5h1M191 143.5h1M149 147.5h1M197 142.5h1M259 138.5h1M261 141.5h1M264 142.5h1M261 138.5h1M110 152.5h1M176 142.5h1M180 144.5h1M166 144.5h1M140 146.5h1M132 147.5h1M224 139.5h1M250 139.5h1M228 140.5h1M109 151.5h1M237 143.5h1M251 139.5h1M189 142.5h1M235 140.5h1M271 138.5h1M183 142.5h1M191 144.5h1M156 146.5h1M219 141.5h1M229 138.5h1M128 148.5h1M138 149.5h1M134 147.5h1M252 138.5h1M154 145.5h1M259 138.5h1M220 139.5h1M263 138.5h1M112 150.5h1M172 145.5h1M176 142.5h1M271 143.5h1M206 141.5h1M213 139.5h1M139 146.5h1M114 149.5h1M229 138.5h1M237 139.5h1M233 142.5h1M256 138.5h1M155 145.5h1M220 140.5h1M251 144.5h1M274 138.5h1M235 143.5h1M260 140.5h1M218 141.5h1M252 141.5h1M244 140.5h1M229 143.5h1M248 142.5h1M229 139.5h1M240 145.5h1M261 141.5h1M270 139.5h1M220 147.5h1M207 142.5h1M272 138.5h1M269 139.5h1M230 147.5h1M258 140.5h1M267 138.5h1M246 145.5h1M211 141.5h1M272 138.5h1M251 138.5h1M211 140.5h1M229 144.5h1M265 139.5h1M246 141.5h1M266 140.5h1M208 140.5h1M270 138.5h1M259 142.5h1M235 141.5h1M226 145.5h1M272 138.5h1M231 145.5h1M235 141.5h1M272 138.5h1M231 140.5h1M230 144.5h1M265 140.5h1M251 142.5h1M219 144.5h1M263 141.5h1M234 143.5h1M241 142.5h1M269 138.5h1M251 139.5h1M262 138.5h1M268 138.5h1M246 139.5h1M242 143.5h1M215 146.5h1M271 138.5h1M253 141.5h1M264 140.5h1M257 142.5h1M235 141.5h1M260 138.5h1M223 145.5h1M232 143.5h1M254 138.5h1M237 138.5h1M254 138.5h1M244 143.5h1M261 138.5h1M235 144.5h1M217 141.5h1M270 139.5h1M255 143.5h1M236 143.5h1M247 138.5h1M221 141.5h1M244 141.5h1M269 139.5h1M232 145.5h1M266 138.5h1M273 138.5h1M243 146.5h1M253 141.5h1M274 138.5h1M212 142.5h1M208 145.5h1M246 146.5h1M250 142.5h1M216 139.5h1M229 146.5h1M207 148.5h1M226 145.5h1M208 143.5h1M206 146.5h1M207 142.5h1M97 147.5h1M96 146.5h1M92 145.5h1M94 147.5h1M91 152.5h1M97 150.5h1M100 146.5h1M96 151.5h1M91 152.5h1M94 149.5h1M104 144.5h1M110 141.5h1M110 144.5h1M97 144.5h1M105 143.5h1M95 142.5h1M104 141.5h1M105 142.5h1M104 143.5h1M92 144.5h1M97 141.5h1M103 142.5h1M91 141.5h1M101 143.5h1M110 144.5h1M109 144.5h1M108 143.5h1M111 144.5h1M104 144.5h1M97 142.5h1M110 142.5h1M93 142.5h1M102 142.5h1M110 141.5h1M93 142.5h1M96 143.5h1M97 142.5h1M106 143.5h1M102 142.5h1M93 144.5h1M98 143.5h1M159 164.5h1M237 158.5h1M115 187.5h1M245 164.5h1M160 167.5h1M180 164.5h1M251 180.5h1M248 160.5h1M155 168.5h1M176 169.5h1M177 168.5h1M137 170.5h1M111 172.5h1M177 191.5h1M224 160.5h1M159 169.5h1M126 169.5h1M131 170.5h1M144 166.5h1M245 159.5h1M203 165.5h1M223 160.5h1M227 162.5h1M245 164.5h1M239 163.5h1M236 162.5h1M139 168.5h1M196 167.5h1M238 160.5h1M198 165.5h1M206 167.5h1M254 164.5h1M190 165.5h1M142 176.5h1M170 165.5h1M207 174.5h1M237 170.5h1M118 183.5h1M175 162.5h1M220 160.5h1M108 173.5h1M263 160.5h1M96 173.5h1M115 173.5h1M136 177.5h1M230 160.5h1M160 165.5h1M242 163.5h1M251 159.5h1M163 163.5h1M249 180.5h1M173 167.5h1M158 164.5h1M213 171.5h1M151 170.5h1M158 176.5h1M273 160.5h1M229 173.5h1M208 163.5h1M131 168.5h1M192 161.5h1M191 161.5h1M117 182.5h1M209 161.5h1M282 159.5h1M270 167.5h1M151 168.5h1M265 158.5h1M149 166.5h1M199 162.5h1M91 174.5h1M106 174.5h1M240 163.5h1M180 169.5h1M256 170.5h1M230 173.5h1M145 171.5h1M132 177.5h1M138 169.5h1M274 158.5h1M214 159.5h1M255 159.5h1M114 175.5h1M244 174.5h1M117 174.5h1M99 182.5h1M261 160.5h1M147 167.5h1M140 172.5h1M110 174.5h1M166 168.5h1M258 158.5h1M247 160.5h1M163 168.5h1M175 162.5h1M123 172.5h1M136 167.5h1M191 161.5h1M215 162.5h1M227 162.5h1M208 162.5h1M174 170.5h1M267 158.5h1M96 174.5h1M231 165.5h1M265 167.5h1M184 175.5h1M92 175.5h1M272 159.5h1M170 166.5h1M208 159.5h1M213 171.5h1M124 169.5h1M275 159.5h1M203 161.5h1M180 162.5h1M163 172.5h1M185 176.5h1M281 164.5h1M241 163.5h1M238 169.5h1M252 158.5h1M214 161.5h1M253 163.5h1M167 167.5h1M204 160.5h1M250 158.5h1M253 162.5h1M281 160.5h1M241 160.5h1M105 174.5h1M268 161.5h1M262 167.5h1M140 169.5h1M93 174.5h1M280 159.5h1M130 173.5h1M95 173.5h1M219 159.5h1M250 162.5h1M259 176.5h1M187 162.5h1M166 167.5h1M273 160.5h1M116 172.5h1M205 163.5h1M107 173.5h1M242 165.5h1M215 173.5h1M280 163.5h1M226 166.5h1M113 171.5h1M94 175.5h1M98 183.5h1M127 171.5h1M231 164.5h1M95 178.5h1M146 174.5h1M134 174.5h1M195 164.5h1M133 174.5h1M114 170.5h1M244 167.5h1M135 167.5h1M241 163.5h1M211 160.5h1M228 160.5h1M166 166.5h1M154 175.5h1M274 162.5h1M171 175.5h1M225 164.5h1M207 163.5h1M206 162.5h1M143 181.5h1M116 172.5h1M256 166.5h1M94 176.5h1M94 179.5h1M242 158.5h1M151 166.5h1M103 174.5h1M271 158.5h1M237 159.5h1M245 159.5h1M231 163.5h1M242 158.5h1M91 180.5h1M97 175.5h1M228 163.5h1M207 163.5h1M208 174.5h1M160 165.5h1M100 174.5h1M117 172.5h1M143 170.5h1M238 159.5h1M153 170.5h1M198 172.5h1M248 172.5h1M195 160.5h1M282 164.5h1M103 179.5h1M242 165.5h1M230 159.5h1M176 168.5h1M214 160.5h1M144 173.5h1M209 161.5h1M123 175.5h1M259 166.5h1M221 160.5h1M194 178.5h1M165 164.5h1M224 160.5h1M146 169.5h1M95 174.5h1M156 166.5h1M221 159.5h1M139 166.5h1M279 164.5h1M130 173.5h1M221 174.5h1M162 164.5h1M258 160.5h1M261 166.5h1M130 167.5h1M146 166.5h1M249 160.5h1M129 171.5h1M111 174.5h1M275 159.5h1M152 179.5h1M273 161.5h1M175 168.5h1M224 166.5h1M111 179.5h1M266 165.5h1M202 163.5h1M126 169.5h1M270 162.5h1M152 166.5h1M224 162.5h1M190 163.5h1M197 164.5h1M169 163.5h1M256 159.5h1M160 174.5h1M97 176.5h1M212 162.5h1M238 174.5h1M219 163.5h1M195 163.5h1M265 164.5h1M109 172.5h1M171 163.5h1M259 160.5h1M254 160.5h1M95 177.5h1M220 175.5h1M165 163.5h1M102 172.5h1M277 159.5h1M129 171.5h1M175 184.5h1M129 170.5h1M104 173.5h1M138 169.5h1M94 176.5h1M114 175.5h1M213 159.5h1M183 170.5h1M95 179.5h1M232 161.5h1M242 159.5h1M96 173.5h1M226 158.5h1M276 159.5h1M140 167.5h1M160 164.5h1M145 165.5h1M182 162.5h1M180 164.5h1M96 174.5h1M149 170.5h1M112 170.5h1M199 160.5h1M126 170.5h1M145 165.5h1M114 171.5h1M185 162.5h1M250 161.5h1M182 162.5h1M269 158.5h1M129 168.5h1M146 166.5h1M199 161.5h1M234 158.5h1M260 159.5h1M185 161.5h1M196 160.5h1M230 160.5h1M270 158.5h1M167 163.5h1M163 167.5h1M111 170.5h1M218 159.5h1M269 159.5h1M108 171.5h1M222 160.5h1M137 167.5h1M234 158.5h1M157 169.5h1M246 158.5h1M225 160.5h1M253 158.5h1M232 161.5h1M184 165.5h1M175 167.5h1M249 160.5h1M115 171.5h1M93 174.5h1M206 161.5h1M268 158.5h1M98 173.5h1M234 159.5h1M120 169.5h1M177 163.5h1M204 160.5h1M233 158.5h1M172 164.5h1M160 166.5h1M217 159.5h1M275 159.5h1M141 167.5h1M211 164.5h1M282 160.5h1M211 160.5h1M215 159.5h1M159 165.5h1M207 162.5h1M133 167.5h1M176 162.5h1M122 169.5h1M254 158.5h1M148 166.5h1M113 170.5h1M264 159.5h1M149 168.5h1M235 159.5h1M131 169.5h1M133 169.5h1M171 163.5h1M206 159.5h1M238 158.5h1M105 172.5h1M112 178.5h1M98 173.5h1M156 166.5h1M194 161.5h1M163 163.5h1M193 161.5h1M92 173.5h1M256 163.5h1M158 164.5h1M226 158.5h1M200 182.5h1M103 197.5h1M135 186.5h1M151 185.5h1M266 180.5h1M206 185.5h1M166 192.5h1M193 184.5h1M171 190.5h1M229 181.5h1M220 186.5h1M101 188.5h1M93 193.5h1M221 181.5h1M137 191.5h1M150 187.5h1M92 196.5h1M170 196.5h1M122 188.5h1M224 179.5h1M109 192.5h1M92 199.5h1M90 191.5h1M148 187.5h1M94 188.5h1M263 183.5h1M177 183.5h1M226 180.5h1M187 185.5h1M115 189.5h1M202 187.5h1M224 181.5h1M264 194.5h1M251 184.5h1M163 184.5h1M214 184.5h1M117 189.5h1M234 180.5h1M213 186.5h1M239 179.5h1M176 191.5h1M141 193.5h1M231 180.5h1M221 194.5h1M256 201.5h1M238 183.5h1M116 188.5h1M191 187.5h1M253 185.5h1M244 184.5h1M185 188.5h1M195 183.5h1M173 184.5h1M252 189.5h1M251 200.5h1M101 197.5h1M234 181.5h1M135 213.5h1M101 192.5h1M126 199.5h1M209 183.5h1M205 181.5h1M236 183.5h1M124 204.5h1M173 185.5h1M193 185.5h1M179 199.5h1M155 186.5h1M219 187.5h1M176 192.5h1M247 181.5h1M127 189.5h1M197 184.5h1M216 181.5h1M265 184.5h1M252 193.5h1M200 185.5h1M230 180.5h1M237 192.5h1M154 191.5h1M223 180.5h1M121 193.5h1M151 191.5h1M140 190.5h1M136 202.5h1M233 190.5h1M168 195.5h1M239 186.5h1M94 188.5h1M200 187.5h1M260 179.5h1M98 190.5h1M254 178.5h1M99 194.5h1M129 190.5h1M239 182.5h1M238 190.5h1M261 180.5h1M257 182.5h1M94 193.5h1M116 189.5h1M199 188.5h1M265 178.5h1M128 190.5h1M216 187.5h1M131 189.5h1M241 183.5h1M137 186.5h1M100 189.5h1M193 182.5h1M163 188.5h1M217 198.5h1M122 190.5h1M214 185.5h1M104 190.5h1M228 182.5h1M266 188.5h1M206 185.5h1M269 184.5h1M98 207.5h1M195 182.5h1M99 188.5h1M267 179.5h1M233 180.5h1M210 185.5h1M102 194.5h1M97 188.5h1M177 184.5h1M100 198.5h1M118 189.5h1M198 188.5h1M137 198.5h1M260 205.5h1M176 186.5h1M185 184.5h1M210 183.5h1M231 184.5h1M263 180.5h1M187 189.5h1M104 198.5h1M248 183.5h1M228 194.5h1M116 190.5h1M265 179.5h1M95 188.5h1M183 183.5h1M194 182.5h1M100 191.5h1M146 195.5h1M111 186.5h1M91 185.5h1M92 179.5h1M102 187.5h1M92 183.5h1M93 185.5h1M94 181.5h1M98 185.5h1M98 180.5h1M91 186.5h1M91 181.5h1M107 189.5h1M91 185.5h1M104 186.5h1M92 180.5h1M92 188.5h1M93 188.5h1M103 187.5h1M106 181.5h1M93 183.5h1M293 162.5h1M288 165.5h1M359 156.5h1M320 160.5h1M240 158.5h1M309 154.5h1M335 160.5h1M301 167.5h1M304 160.5h1M290 159.5h1M365 152.5h1M372 153.5h1M321 175.5h1M249 159.5h1M250 157.5h1M348 152.5h1M297 152.5h1M269 152.5h1M263 153.5h1M240 155.5h1M306 151.5h1M335 153.5h1M238 162.5h1M310 152.5h1M375 164.5h1M388 154.5h1M290 167.5h1M338 177.5h1M310 153.5h1M269 163.5h1M385 163.5h1M327 155.5h1M303 152.5h1M398 150.5h1M305 152.5h1M261 167.5h1M350 154.5h1M245 156.5h1M306 157.5h1M393 148.5h1M379 155.5h1M244 151.5h1M365 153.5h1M256 152.5h1M383 151.5h1M371 159.5h1M242 153.5h1M281 160.5h1M336 198.5h1M330 156.5h1M313 152.5h1M337 160.5h1M336 154.5h1M308 159.5h1M349 156.5h1M319 151.5h1M316 160.5h1M368 150.5h1M284 156.5h1M366 168.5h1M338 151.5h1M247 158.5h1M270 155.5h1M331 158.5h1M253 161.5h1M281 163.5h1M283 169.5h1M290 152.5h1M266 154.5h1M371 149.5h1M327 153.5h1M258 165.5h1M379 152.5h1M330 159.5h1M310 151.5h1M289 160.5h1M238 156.5h1M348 159.5h1M354 150.5h1M276 167.5h1M272 153.5h1M368 157.5h1M271 162.5h1M322 166.5h1M377 160.5h1M370 166.5h1M377 171.5h1M266 152.5h1M255 180.5h1M286 153.5h1M326 163.5h1M368 153.5h1M298 153.5h1M304 178.5h1M319 166.5h1M337 153.5h1M325 156.5h1M247 171.5h1M349 154.5h1M347 159.5h1M380 154.5h1M360 163.5h1M393 150.5h1M395 156.5h1M338 161.5h1M303 155.5h1M241 163.5h1M298 154.5h1M367 150.5h1M275 160.5h1M327 156.5h1M313 152.5h1M280 166.5h1M366 154.5h1M361 153.5h1M273 175.5h1M307 159.5h1M371 170.5h1M290 155.5h1M357 154.5h1M335 156.5h1M243 161.5h1M347 163.5h1M394 157.5h1M326 152.5h1M362 154.5h1M240 151.5h1M277 164.5h1M332 160.5h1M298 157.5h1M333 152.5h1M380 189.5h1M350 152.5h1M258 155.5h1M268 152.5h1M347 159.5h1M375 151.5h1M295 165.5h1M247 158.5h1M262 153.5h1M258 154.5h1M386 161.5h1M253 152.5h1M384 164.5h1M286 154.5h1M280 158.5h1M256 163.5h1M248 160.5h1M364 153.5h1M379 161.5h1M265 156.5h1M320 169.5h1M369 153.5h1M263 160.5h1M385 152.5h1M262 154.5h1M273 156.5h1M241 164.5h1M250 157.5h1M322 160.5h1M374 153.5h1M250 156.5h1M357 150.5h1M379 153.5h1M265 153.5h1M344 154.5h1M250 159.5h1M259 181.5h1M346 153.5h1M288 165.5h1M329 162.5h1M316 159.5h1M311 162.5h1M252 168.5h1M259 152.5h1M311 153.5h1M389 161.5h1M366 155.5h1M327 151.5h1M367 162.5h1M369 149.5h1M305 159.5h1M300 158.5h1M268 154.5h1M367 150.5h1M351 158.5h1M389 155.5h1M277 158.5h1M366 154.5h1M281 157.5h1M356 158.5h1M360 149.5h1M352 152.5h1M321 162.5h1M381 186.5h1M318 151.5h1M333 153.5h1M246 159.5h1M249 154.5h1M382 166.5h1M245 160.5h1M267 159.5h1M308 157.5h1M367 151.5h1M399 155.5h1M271 153.5h1M327 157.5h1M386 202.5h1M296 167.5h1M319 156.5h1M335 156.5h1M391 158.5h1M387 149.5h1M268 182.5h1M294 171.5h1M263 163.5h1M281 160.5h1M327 164.5h1M296 152.5h1M357 163.5h1M372 151.5h1M241 154.5h1M266 161.5h1M319 152.5h1M365 154.5h1M335 158.5h1M396 186.5h1M321 161.5h1M364 152.5h1M242 184.5h1M313 172.5h1M408 169.5h1M436 170.5h1M427 170.5h1M402 169.5h1M422 177.5h1M320 171.5h1M320 173.5h1M402 172.5h1M309 169.5h1M373 170.5h1M284 170.5h1M307 173.5h1M367 175.5h1M370 175.5h1M415 172.5h1M277 173.5h1M355 168.5h1M277 171.5h1M340 168.5h1M364 171.5h1M292 176.5h1M281 168.5h1M383 172.5h1M281 171.5h1M365 171.5h1M301 168.5h1M403 171.5h1M363 171.5h1M358 172.5h1M438 173.5h1M428 171.5h1M317 172.5h1M397 170.5h1M427 172.5h1M338 170.5h1M397 167.5h1M371 169.5h1M346 171.5h1M378 172.5h1M328 171.5h1M293 173.5h1M336 174.5h1M348 170.5h1M397 170.5h1M295 170.5h1M428 173.5h1M295 172.5h1M345 170.5h1M317 170.5h1M387 168.5h1M413 172.5h1M372 171.5h1M386 170.5h1M334 172.5h1M334 169.5h1M336 173.5h1M372 171.5h1M279 171.5h1M317 172.5h1M416 171.5h1M399 168.5h1M412 174.5h1M536 139.5h1M447 132.5h1M453 131.5h1M573 144.5h1M494 136.5h1M487 133.5h1M469 135.5h1M511 135.5h1M576 147.5h1M566 141.5h1M540 138.5h1M440 132.5h1M564 141.5h1M501 134.5h1M535 141.5h1M476 136.5h1M557 140.5h1M522 136.5h1M492 135.5h1M571 147.5h1M531 139.5h1M556 140.5h1M545 140.5h1M468 135.5h1M538 143.5h1M559 140.5h1M444 133.5h1M451 135.5h1M547 139.5h1M493 136.5h1M445 131.5h1M485 136.5h1M483 134.5h1M456 135.5h1M537 137.5h1M559 141.5h1M523 138.5h1M553 146.5h1M451 135.5h1M448 136.5h1M497 137.5h1M559 142.5h1M466 136.5h1M495 135.5h1M535 139.5h1M523 137.5h1M456 135.5h1M529 141.5h1M515 142.5h1M454 133.5h1M445 131.5h1M448 132.5h1M453 132.5h1M447 132.5h1M447 132.5h1M450 133.5h1M442 131.5h1M436 130.5h1M439 131.5h1M442 131.5h1M438 131.5h1M438 131.5h1M442 133.5h1M441 131.5h1M438 132.5h1M435 133.5h1M461 136.5h1M455 145.5h1M456 132.5h1M447 146.5h1M455 145.5h1M479 147.5h1M484 139.5h1M464 147.5h1M506 144.5h1M554 141.5h1M509 150.5h1M500 149.5h1M453 145.5h1M501 135.5h1M453 145.5h1M471 133.5h1M462 133.5h1M490 136.5h1M470 145.5h1M484 142.5h1M444 145.5h1M459 146.5h1M457 146.5h1M478 142.5h1M474 145.5h1M450 133.5h1M501 138.5h1M450 144.5h1M486 144.5h1M480 140.5h1M503 143.5h1M474 140.5h1M474 134.5h1M496 137.5h1M482 146.5h1M487 141.5h1M499 142.5h1M542 147.5h1M464 134.5h1M485 147.5h1M516 136.5h1M459 139.5h1M490 141.5h1M480 139.5h1M492 137.5h1M458 147.5h1M444 145.5h1M470 146.5h1M442 147.5h1M459 147.5h1M470 147.5h1M522 143.5h1M495 146.5h1M475 146.5h1M531 149.5h1M579 150.5h1M474 146.5h1M525 146.5h1M481 149.5h1M461 140.5h1M505 136.5h1M459 143.5h1M468 135.5h1M476 149.5h1M502 135.5h1M502 136.5h1M505 141.5h1M473 146.5h1M496 149.5h1M536 143.5h1M458 143.5h1M506 148.5h1M450 146.5h1M451 133.5h1M461 134.5h1M467 142.5h1M457 145.5h1M459 138.5h1M493 143.5h1M529 145.5h1M548 150.5h1M503 149.5h1M498 136.5h1M505 141.5h1M518 144.5h1M485 136.5h1M470 145.5h1M449 145.5h1M480 140.5h1M458 146.5h1M480 137.5h1M476 134.5h1M449 147.5h1M464 139.5h1M505 147.5h1M480 148.5h1M474 135.5h1M469 133.5h1M519 145.5h1M477 144.5h1M482 139.5h1M479 144.5h1M440 145.5h1M475 149.5h1M491 142.5h1M504 142.5h1M454 134.5h1M473 141.5h1M520 136.5h1M440 147.5h1M511 135.5h1M454 134.5h1M449 133.5h1M531 149.5h1M470 141.5h1M515 148.5h1M544 144.5h1M538 141.5h1M466 141.5h1M480 141.5h1M484 148.5h1M485 143.5h1M511 144.5h1M467 134.5h1M481 145.5h1M468 139.5h1M461 148.5h1M480 145.5h1M468 145.5h1M459 132.5h1M441 146.5h1M454 145.5h1M534 146.5h1M459 146.5h1M458 137.5h1M484 141.5h1M519 151.5h1M551 142.5h1M502 144.5h1M482 148.5h1M453 146.5h1M494 148.5h1M457 144.5h1M490 144.5h1M463 135.5h1M484 146.5h1M468 145.5h1M467 135.5h1M478 146.5h1M502 149.5h1M488 146.5h1M455 133.5h1M501 141.5h1M451 148.5h1M482 149.5h1M467 143.5h1M465 143.5h1M518 147.5h1M492 134.5h1M455 145.5h1M459 133.5h1M484 134.5h1M499 147.5h1M498 137.5h1M475 138.5h1M486 143.5h1M457 142.5h1M452 142.5h1M466 141.5h1M446 144.5h1M442 143.5h1M452 143.5h1M464 141.5h1M442 145.5h1M446 142.5h1M464 139.5h1M442 145.5h1M451 143.5h1M449 143.5h1M438 144.5h1M450 142.5h1M429 147.5h1M429 147.5h1M441 145.5h1M433 146.5h1M438 145.5h1M468 140.5h1M465 140.5h1M437 146.5h1M444 144.5h1M435 145.5h1M465 159.5h1M542 174.5h1M415 159.5h1M550 158.5h1M564 163.5h1M531 157.5h1M442 154.5h1M460 165.5h1M568 165.5h1M466 149.5h1M567 163.5h1M467 151.5h1M398 152.5h1M428 149.5h1M474 161.5h1M410 170.5h1M562 160.5h1M406 150.5h1M550 160.5h1M526 157.5h1M562 160.5h1M558 168.5h1M436 159.5h1M437 151.5h1M541 159.5h1M543 157.5h1M561 162.5h1M501 155.5h1M515 155.5h1M491 175.5h1M526 160.5h1M469 161.5h1M473 150.5h1M576 166.5h1M543 164.5h1M403 150.5h1M555 172.5h1M490 154.5h1M445 149.5h1M408 148.5h1M495 160.5h1M431 150.5h1M516 155.5h1M448 149.5h1M513 155.5h1M436 158.5h1M508 153.5h1M575 163.5h1M466 152.5h1M534 156.5h1M526 155.5h1M496 161.5h1M489 152.5h1M449 150.5h1M479 167.5h1M531 162.5h1M503 153.5h1M566 165.5h1M440 162.5h1M407 148.5h1M467 152.5h1M542 165.5h1M529 163.5h1M467 149.5h1M535 158.5h1M405 169.5h1M547 162.5h1M518 155.5h1M505 153.5h1M566 164.5h1M561 165.5h1M487 167.5h1M423 147.5h1M499 152.5h1M441 149.5h1M439 162.5h1M517 172.5h1M515 173.5h1M402 181.5h1M516 161.5h1M551 163.5h1M485 157.5h1M480 160.5h1M469 150.5h1M504 157.5h1M542 162.5h1M456 150.5h1M461 149.5h1M557 160.5h1M466 156.5h1M453 155.5h1M539 169.5h1M533 171.5h1M508 153.5h1M409 153.5h1M401 148.5h1M536 158.5h1M502 160.5h1M579 162.5h1M429 148.5h1M468 154.5h1M574 165.5h1M440 149.5h1M564 161.5h1M488 160.5h1M455 153.5h1M396 155.5h1M404 148.5h1M476 157.5h1M504 157.5h1M579 169.5h1M459 162.5h1M482 155.5h1M567 163.5h1M494 152.5h1M567 162.5h1M512 156.5h1M394 150.5h1M458 156.5h1M415 153.5h1M527 158.5h1M525 165.5h1M396 151.5h1M460 168.5h1M505 160.5h1M562 165.5h1M540 164.5h1M537 160.5h1M451 148.5h1M474 157.5h1M534 169.5h1M422 156.5h1M501 172.5h1M508 173.5h1M451 154.5h1M471 155.5h1M503 173.5h1M453 151.5h1M459 154.5h1M572 161.5h1M462 156.5h1M430 151.5h1M564 161.5h1M464 185.5h1M437 153.5h1M431 157.5h1M484 160.5h1M442 150.5h1M468 156.5h1M570 182.5h1M514 170.5h1M578 164.5h1M412 150.5h1M562 168.5h1M447 149.5h1M491 154.5h1M504 153.5h1M453 150.5h1M560 164.5h1M449 158.5h1M403 152.5h1M456 155.5h1M569 161.5h1M465 174.5h1M424 152.5h1M500 165.5h1M450 157.5h1M452 149.5h1M511 155.5h1M497 161.5h1M403 150.5h1M455 168.5h1M442 150.5h1M406 174.5h1M501 154.5h1M553 167.5h1M413 148.5h1M442 151.5h1M496 161.5h1M453 154.5h1M579 166.5h1M545 165.5h1M460 152.5h1M561 162.5h1M433 154.5h1M508 157.5h1M412 163.5h1M426 149.5h1M462 148.5h1M401 148.5h1M537 161.5h1M535 159.5h1M552 159.5h1M559 161.5h1M404 149.5h1M518 157.5h1M400 165.5h1M450 153.5h1M506 157.5h1M575 183.5h1M535 170.5h1M506 157.5h1M455 151.5h1M544 161.5h1M501 154.5h1M456 157.5h1M506 158.5h1M443 151.5h1M560 165.5h1M394 154.5h1M417 152.5h1M481 152.5h1M530 158.5h1M469 154.5h1M450 155.5h1M408 148.5h1M481 164.5h1M558 160.5h1M556 166.5h1M506 158.5h1M466 177.5h1M436 150.5h1M499 153.5h1M513 159.5h1M533 168.5h1M565 162.5h1M478 164.5h1M507 159.5h1M540 160.5h1M574 165.5h1M483 152.5h1M462 154.5h1M437 155.5h1M413 147.5h1M556 161.5h1M560 167.5h1M579 176.5h1M514 160.5h1M464 151.5h1M542 161.5h1M469 181.5h1M482 158.5h1M512 155.5h1M575 165.5h1M552 159.5h1M550 175.5h1M528 156.5h1M409 149.5h1M440 150.5h1M540 158.5h1M579 169.5h1M560 164.5h1M439 158.5h1M530 155.5h1M439 147.5h1M518 162.5h1M489 165.5h1M398 175.5h1M562 160.5h1M531 157.5h1M478 180.5h1M406 156.5h1M506 155.5h1M407 152.5h1M400 153.5h1M533 162.5h1M524 157.5h1M570 161.5h1M579 168.5h1M492 151.5h1M560 177.5h1M487 154.5h1M570 161.5h1M568 187.5h1M433 156.5h1M574 168.5h1M521 158.5h1M560 166.5h1M514 166.5h1M392 169.5h1M426 149.5h1M480 150.5h1M551 162.5h1M419 148.5h1M459 149.5h1M554 170.5h1M400 151.5h1M548 159.5h1M571 162.5h1M499 153.5h1M423 173.5h1M523 155.5h1M578 169.5h1M442 151.5h1M421 148.5h1M500 167.5h1M491 154.5h1M567 166.5h1M522 159.5h1M535 178.5h1M553 162.5h1M547 163.5h1M479 157.5h1M486 151.5h1M548 160.5h1M530 163.5h1M497 152.5h1M519 159.5h1M395 152.5h1M562 173.5h1M464 149.5h1M404 151.5h1M500 164.5h1M513 155.5h1M419 157.5h1M541 171.5h1M394 155.5h1M564 174.5h1M548 160.5h1M497 155.5h1M510 154.5h1M567 186.5h1M529 155.5h1M568 173.5h1M467 149.5h1M575 168.5h1M534 159.5h1M548 158.5h1M513 162.5h1M513 160.5h1M454 154.5h1M525 164.5h1M567 186.5h1M543 165.5h1M543 159.5h1M528 160.5h1M454 151.5h1M547 160.5h1M473 155.5h1M523 158.5h1M409 172.5h1M479 157.5h1M449 150.5h1M450 150.5h1M418 152.5h1M557 160.5h1M558 160.5h1M406 149.5h1M545 161.5h1M487 157.5h1M422 148.5h1M451 148.5h1M457 157.5h1M424 148.5h1M484 156.5h1M432 148.5h1M443 162.5h1M460 149.5h1M520 154.5h1M511 154.5h1M500 153.5h1M477 151.5h1M505 161.5h1M489 157.5h1M569 162.5h1M525 159.5h1M405 150.5h1M396 151.5h1M559 160.5h1M540 162.5h1M579 165.5h1M495 169.5h1M567 164.5h1M544 158.5h1M459 150.5h1M546 162.5h1M415 150.5h1M433 152.5h1M417 161.5h1M522 162.5h1M536 174.5h1M527 159.5h1M513 154.5h1M399 149.5h1M506 155.5h1M497 165.5h1M442 150.5h1M483 154.5h1M553 159.5h1M421 155.5h1M482 155.5h1M445 148.5h1M505 155.5h1M572 167.5h1M525 179.5h1M459 150.5h1M580 163.5h1M556 164.5h1M467 149.5h1M407 167.5h1M495 155.5h1M449 152.5h1M449 148.5h1M518 157.5h1M527 159.5h1M539 175.5h1M437 157.5h1M551 168.5h1M453 150.5h1M436 153.5h1M462 149.5h1M534 165.5h1M480 182.5h1M551 168.5h1M481 152.5h1M513 158.5h1M405 148.5h1M497 153.5h1M428 149.5h1M568 166.5h1M534 161.5h1M393 151.5h1M553 174.5h1M504 153.5h1M401 168.5h1M476 154.5h1M535 160.5h1M535 171.5h1M441 151.5h1M411 158.5h1M563 161.5h1M483 155.5h1M565 171.5h1M433 154.5h1M422 149.5h1M501 159.5h1M579 166.5h1M544 170.5h1M531 172.5h1M580 164.5h1M428 156.5h1M402 148.5h1M559 162.5h1M545 166.5h1M484 169.5h1M569 167.5h1M576 175.5h1M484 163.5h1M547 163.5h1M556 162.5h1M495 159.5h1M451 150.5h1M518 155.5h1M435 148.5h1M530 156.5h1M467 153.5h1M498 152.5h1M494 154.5h1M431 148.5h1M414 147.5h1M448 150.5h1M573 162.5h1M545 161.5h1M481 153.5h1M561 160.5h1M405 149.5h1M550 159.5h1M556 160.5h1M551 159.5h1M432 148.5h1M442 150.5h1M439 147.5h1M501 153.5h1M456 148.5h1M537 161.5h1M423 149.5h1M422 149.5h1M548 159.5h1M541 158.5h1M579 166.5h1M462 150.5h1M461 151.5h1M490 154.5h1M526 157.5h1M498 152.5h1M535 157.5h1M494 151.5h1M440 147.5h1M541 157.5h1M407 150.5h1M566 162.5h1M494 152.5h1M534 158.5h1M404 149.5h1M413 148.5h1M515 156.5h1M581 165.5h1M561 162.5h1M455 150.5h1M447 150.5h1M521 155.5h1M525 155.5h1M535 160.5h1M473 150.5h1M515 155.5h1M513 153.5h1M467 151.5h1M406 148.5h1M434 150.5h1M543 167.5h1M435 147.5h1M462 150.5h1M479 150.5h1M476 149.5h1M487 151.5h1M478 150.5h1M514 155.5h1M487 153.5h1M400 148.5h1M561 160.5h1M546 158.5h1M463 150.5h1M414 148.5h1M576 165.5h1M502 154.5h1M565 162.5h1M541 160.5h1M523 156.5h1M567 161.5h1M553 160.5h1M420 147.5h1M461 149.5h1M529 156.5h1M511 153.5h1M536 158.5h1M462 152.5h1M497 152.5h1M570 162.5h1M421 147.5h1M574 162.5h1M477 154.5h1M421 148.5h1M492 151.5h1M519 159.5h1M417 148.5h1M404 148.5h1M472 149.5h1M489 154.5h1M454 148.5h1M419 149.5h1M466 151.5h1M456 149.5h1M570 163.5h1M568 161.5h1M514 154.5h1M417 151.5h1M524 155.5h1M405 148.5h1M563 162.5h1M409 150.5h1M407 151.5h1M426 149.5h1M553 166.5h1M535 156.5h1M395 149.5h1M413 148.5h1M579 164.5h1M471 150.5h1M506 154.5h1M486 154.5h1M556 162.5h1M395 150.5h1M467 149.5h1M515 154.5h1M571 161.5h1M460 150.5h1M466 150.5h1M438 151.5h1M481 151.5h1M541 158.5h1M549 163.5h1M458 151.5h1M463 151.5h1M524 158.5h1M581 162.5h1M457 169.5h2M421 168.5h1M579 185.5h2M406 167.5h1.5M505 173.5h1M549 181.5h2M484 174.5h1M499 175.5h1M553 182.5h1M464 180.5h1M500 178.5h1M555 189.5h1M404 176.5h1M545 186.5h1M411 182.5h1M458 174.5h1M546 189.5h1M472 172.5h1M535 192.5h1M475 172.5h1M543 180.5h1M458 178.5h1M558 186.5h1M454 174.5h1M466 198.5h1M560 183.5h1M491 175.5h1M462 174.5h1M524 178.5h1M475 180.5h1M498 178.5h1M443 181.5h1M434 176.5h1M555 187.5h1M426 168.5h1M508 185.5h1M515 181.5h1M562 184.5h1M409 184.5h1M513 176.5h1M525 180.5h1M461 180.5h1M475 174.5h1M491 173.5h1M468 192.5h1M415 173.5h1M452 171.5h1M479 174.5h1M537 203.5h1M548 181.5h1M423 176.5h1M516 178.5h1M538 184.5h1M549 188.5h1M522 181.5h1M447 174.5h1M545 193.5h1M430 190.5h1M414 170.5h1M581 202.5h1M427 170.5h1M403 169.5h1M439 172.5h1M548 180.5h1M532 187.5h1M517 175.5h1M548 182.5h1M486 175.5h1M414 178.5h1M446 170.5h1M435 169.5h1M470 190.5h1M531 186.5h1M517 179.5h1M526 178.5h1M492 175.5h1M578 185.5h1M495 173.5h1M478 171.5h1M449 173.5h1M411 171.5h1M500 178.5h1M578 204.5h1M529 181.5h1M532 205.5h1M550 200.5h1M514 182.5h1M405 167.5h1M451 169.5h1M423 185.5h1M518 183.5h1M580 198.5h1M448 169.5h1M413 168.5h1M424 169.5h1M495 174.5h1M564 184.5h1M527 183.5h1M423 167.5h1M581 198.5h1M517 188.5h1M487 176.5h1M481 171.5h1M559 185.5h1M420 172.5h1M579 189.5h1M511 189.5h1M563 234.5h1M508 189.5h1M506 174.5h1M526 180.5h1M479 171.5h1M538 197.5h1M550 188.5h1M426 173.5h1M561 196.5h1M501 184.5h1M566 195.5h1M495 174.5h1M480 186.5h1M467 178.5h1M480 184.5h1M558 184.5h1M547 187.5h1M573 184.5h1M545 180.5h1M465 173.5h1M544 179.5h1M455 202.5h1M525 187.5h1M432 172.5h1M506 174.5h1M564 186.5h1M473 181.5h1M439 168.5h1M517 177.5h1M446 198.5h1M449 168.5h1M447 169.5h1M470 175.5h1M432 173.5h1M485 178.5h1M578 192.5h1M529 188.5h1M543 186.5h1M476 197.5h1M577 218.5h1M557 190.5h1M489 173.5h1M423 168.5h1M431 186.5h1M565 195.5h1M504 184.5h1M495 181.5h1M501 174.5h1M543 181.5h1M403 168.5h1M523 177.5h1M545 187.5h1M465 172.5h1M545 181.5h1M562 190.5h1M499 173.5h1M429 171.5h1M465 178.5h1M541 179.5h1M562 188.5h1M499 178.5h1M540 191.5h1M433 172.5h1M421 171.5h1M537 181.5h1M546 186.5h1M411 168.5h1M436 177.5h1M456 181.5h1M561 196.5h1M571 184.5h1M503 180.5h1M532 180.5h1M412 167.5h1M446 171.5h1M423 172.5h1M475 174.5h1M437 169.5h1M529 178.5h1M481 189.5h1M493 173.5h1M574 199.5h1M463 188.5h1M466 182.5h1M550 192.5h1M571 205.5h1M504 174.5h1M418 172.5h1M483 172.5h1M544 181.5h1M482 177.5h1M488 177.5h1M458 174.5h1M416 174.5h1M497 174.5h1M567 190.5h1M457 171.5h1M455 204.5h1M489 187.5h1M550 184.5h1M439 171.5h1M553 191.5h1M494 186.5h1M512 186.5h1M563 183.5h1M486 176.5h1M553 184.5h1M446 168.5h1M427 168.5h1M552 182.5h1M554 182.5h1M529 182.5h1M576 187.5h1M559 191.5h1M574 185.5h1M430 173.5h1M559 183.5h1M560 187.5h1M569 197.5h1M467 176.5h1M426 171.5h1M557 181.5h1M546 181.5h1M549 182.5h1M566 187.5h1.5M542 182.5h2.5M560 185.5h1M567 187.5h1M562 185.5h1M473 205.5h1.5M549 215.5h1M531 208.5h1.5M536 210.5h1M471 206.5h2.5M566 216.5h2M395 169.5h1M113 237.5h1M479 213.5h1M172 182.5h1M145 186.5h1M183 175.5h1M423 161.5h1M208 175.5h1M580 251.5h1M352 168.5h1M146 202.5h1M565 259.5h1M166 165.5h1M154 183.5h1M576 231.5h1M208 250.5h1M105 185.5h1M173 175.5h1M576 205.5h1M411 164.5h1M165 195.5h1M448 168.5h1M204 209.5h1M214 164.5h1M406 197.5h1M431 157.5h1M213 168.5h1M130 263.5h1M356 157.5h1M445 174.5h1M536 216.5h1M95 201.5h1M526 192.5h1M226 160.5h1M147 208.5h1M128 196.5h1M151 166.5h1M103 202.5h1M129 171.5h1M176 236.5h1M131 169.5h1M514 165.5h1M244 276.5h1M547 179.5h1M123 196.5h1M131 170.5h1M467 181.5h1M237 169.5h1M138 172.5h1M514 201.5h1M526 219.5h1M493 249.5h1M239 183.5h1M160 197.5h1M385 154.5h1M539 250.5h1M141 205.5h1M233 258.5h1M163 182.5h1M125 202.5h1M412 212.5h1M263 154.5h1M552 209.5h1M453 164.5h1M247 223.5h1M248 172.5h1M161 173.5h1M572 178.5h1M422 175.5h1M357 166.5h1M220 189.5h1M159 203.5h1M160 176.5h1M201 216.5h1M188 217.5h1M540 167.5h1M426 186.5h1M173 184.5h1M443 216.5h1M475 222.5h1M103 174.5h1M114 199.5h1M110 183.5h1M135 213.5h1M527 273.5h1M136 256.5h1M213 167.5h1M549 213.5h1M499 243.5h1M285 190.5h1M129 239.5h1M447 169.5h1M545 181.5h1M168 170.5h1M320 152.5h1M535 196.5h1M482 163.5h1M553 192.5h1M294 154.5h1M449 157.5h1M538 207.5h1M564 193.5h1M214 172.5h1M522 169.5h1M574 179.5h1M241 174.5h1M97 180.5h1M364 233.5h1M145 203.5h1M483 161.5h1M166 209.5h1M547 230.5h1M140 175.5h1M483 207.5h1M224 159.5h1M121 261.5h1M143 223.5h1M417 163.5h1M524 195.5h1M551 266.5h1M492 234.5h1M466 184.5h1M119 212.5h1M291 161.5h1M564 220.5h1M450 189.5h1M135 222.5h1M195 238.5h1M559 173.5h1M134 172.5h1M267 171.5h1M170 223.5h1M525 175.5h1M189 185.5h1M250 178.5h1M412 172.5h1M576 185.5h1M185 174.5h1M457 159.5h1M259 240.5h1M156 177.5h1M108 263.5h1M162 223.5h1M496 166.5h1M496 191.5h1M449 167.5h1M210 162.5h1M457 187.5h1M382 158.5h1M494 191.5h1M569 213.5h1M144 174.5h1M422 156.5h1M131 173.5h1M152 250.5h1M224 176.5h1M103 264.5h1M554 175.5h1M95 215.5h1M287 155.5h1M557 194.5h1M157 176.5h1M109 195.5h1M541 198.5h1M429 212.5h1M523 174.5h1M497 192.5h1M255 228.5h1M130 203.5h1M501 190.5h1M404 192.5h1M541 205.5h1M170 166.5h1M144 272.5h1M534 186.5h1M453 177.5h1M548 197.5h1M191 200.5h1M419 157.5h1M120 203.5h1M328 174.5h1M530 172.5h1M272 164.5h1M154 180.5h1M449 159.5h1M129 185.5h1M546 246.5h1M510 193.5h1M131 218.5h1M165 177.5h1M546 180.5h1M476 159.5h1M490 205.5h1M202 209.5h1M106 216.5h1M215 259.5h1M92 221.5h1M172 201.5h1M530 183.5h1M96 173.5h1M398 168.5h1M474 188.5h1M554 208.5h1M169 190.5h1M211 169.5h1M248 163.5h1M211 202.5h1M204 282.5h1M208 185.5h1M114 235.5h1M186 203.5h1M167 262.5h1M181 188.5h1M133 208.5h1M554 179.5h1M241 158.5h1M162 184.5h1M144 221.5h1M224 193.5h1M204 189.5h1M527 260.5h1M228 170.5h1M565 197.5h1M379 224.5h1M527 195.5h1M191 186.5h1M129 231.5h1M548 187.5h1M442 186.5h1M528 286.5h1M369 153.5h1M567 198.5h1M541 177.5h1M183 173.5h1M147 227.5h1M387 152.5h1M485 253.5h1M215 172.5h1M154 172.5h1M183 166.5h1M209 237.5h1M283 171.5h1M212 160.5h1M105 177.5h1M493 189.5h1M531 235.5h1M488 171.5h1M444 161.5h1M197 189.5h1M580 237.5h1M241 163.5h1M120 199.5h1M446 208.5h1M552 186.5h1M271 158.5h1M117 214.5h1M354 175.5h1M533 231.5h1M348 154.5h1M354 167.5h1M95 216.5h1M283 192.5h1M573 201.5h1M505 177.5h1M149 178.5h1M150 224.5h1M164 180.5h1M425 184.5h1M383 214.5h1M375 159.5h1M152 267.5h1M558 174.5h1M266 196.5h1M308 164.5h1M109 241.5h1M390 195.5h1M183 206.5h1M91 191.5h1M560 174.5h1M188 192.5h1M177 168.5h1" stroke="#f9c4a8" stroke-width="1" fill="none"/>
<path d="M90.00 288.95v7.3M114.66 288.95v4.2M139.32 288.95v4.2M163.98 288.95v4.2M188.64 288.95v4.2M213.30 288.95v7.3M237.96 288.95v4.2M262.62 288.95v4.2M287.28 288.95v4.2M311.94 288.95v4.2M336.60 288.95v7.3M361.26 288.95v4.2M385.92 288.95v4.2M410.58 288.95v4.2M435.24 288.95v4.2M459.90 288.95v7.3M484.56 288.95v4.2M509.22 288.95v4.2M533.88 288.95v4.2M558.54 288.95v4.2M583.20 288.95v7.3M90.00 268.59h-4.2M90.00 243.80h-7.3M90.00 219.01h-4.2M90.00 194.22h-4.2M90.00 169.43h-4.2M90.00 144.64h-4.2M90.00 119.85h-7.3M90.00 95.06h-4.2" stroke="#000" stroke-width="1.60" fill="none"/>
<rect x="90.00" y="91.85" width="493.20" height="197.10" fill="none" stroke="#000" stroke-width="1.75"/>
<rect x="590.40" y="91.85" width="24.70" height="197.10" fill="url(#rdbu)" stroke="#000" stroke-width="1.75"/>
<rect x="615.60" y="119.90" width="6.5" height="7.88" fill="#2e2e2e"/>
<rect x="615.60" y="253.02" width="6.5" height="7.88" fill="#2e2e2e"/>
<path d="M615.10 161.85h7M615.10 149.45h7M615.10 142.19h7M615.10 137.04h7M615.10 133.05h7M615.10 129.79h7M615.10 108.25h7M615.10 100.99h7M615.10 95.84h7M615.10 91.85h7M615.10 218.95h7M615.10 231.35h7M615.10 238.61h7M615.10 243.76h7M615.10 247.75h7M615.10 251.01h7M615.10 272.55h7M615.10 279.81h7M615.10 284.96h7M615.10 288.95h7M615.10 190.40h7" stroke="#000" stroke-width="1.60" fill="none"/>
<text><tspan x="628.70" y="130.00" font-size="25.00">10</tspan><tspan x="651.20" y="120.40" font-size="18.20">15</tspan></text>
<text><tspan x="628.70" y="171.60" font-size="25.00">10</tspan><tspan x="651.20" y="162.00" font-size="18.20">14</tspan></text>
<text><tspan x="629.65" y="199.10" font-size="25.00">0</tspan></text>
<text><tspan x="628.49" y="230.90" font-size="25.00" textLength="18.18" lengthAdjust="spacingAndGlyphs">−</tspan><tspan x="647.90" y="230.90" font-size="25.00">10</tspan><tspan x="671.70" y="220.90" font-size="18.20">14</tspan></text>
<text><tspan x="628.49" y="271.80" font-size="25.00" textLength="18.18" lengthAdjust="spacingAndGlyphs">−</tspan><tspan x="647.90" y="271.80" font-size="25.00">10</tspan><tspan x="671.70" y="261.80" font-size="18.20">15</tspan></text>
<text transform="translate(723 283.70) rotate(-90)"><tspan x="-1.00" y="0.00" font-size="25.00" textLength="103.30" lengthAdjust="spacingAndGlyphs">Current/Jx</tspan> <tspan x="111.14" y="0.00" font-size="25.00">[</tspan><tspan x="119.46" y="0.00" font-size="25.00">A</tspan><tspan x="138.40" y="5.00" font-size="36.20" textLength="9.30" lengthAdjust="spacingAndGlyphs">/</tspan><tspan x="148.48" y="0.00" font-size="25.00">m</tspan><tspan x="167.60" y="-10.60" font-size="18.20">2</tspan><tspan x="178.00" y="0.00" font-size="25.00">]</tspan></text>
<text><tspan x="66.36" y="324.80" font-size="25.00" textLength="18.54" lengthAdjust="spacingAndGlyphs">−</tspan><tspan x="85.80" y="324.80" font-size="25.00">10</tspan></text>
<text><tspan x="195.81" y="324.80" font-size="25.00" textLength="18.06" lengthAdjust="spacingAndGlyphs">−</tspan><tspan x="214.05" y="324.80" font-size="25.00">5</tspan></text>
<text><tspan x="329.05" y="322.90" font-size="25.00">0</tspan></text>
<text><tspan x="452.45" y="322.90" font-size="25.00">5</tspan></text>
<text><tspan x="568.40" y="322.90" font-size="25.00">10</tspan></text>
<text><tspan x="49.35" y="129.55" font-size="25.00">75</tspan></text>
<text><tspan x="49.35" y="252.70" font-size="25.00">70</tspan></text>
<text><tspan x="301.39" y="354.70" font-size="25.00">y</tspan> <tspan x="320.14" y="354.70" font-size="25.00">[</tspan><tspan x="329.33" y="354.70" font-size="25.00" font-style="italic" textLength="14.43" lengthAdjust="spacingAndGlyphs">μ</tspan><tspan x="344.78" y="354.70" font-size="25.00">m</tspan><tspan x="365.10" y="354.70" font-size="25.00">]</tspan></text>
<text transform="translate(35.8 225.20) rotate(-90)"><tspan x="-0.22" y="0.00" font-size="25.00">x</tspan> <tspan x="18.54" y="0.00" font-size="25.00">[</tspan><tspan x="27.43" y="0.00" font-size="25.00" font-style="italic" textLength="14.53" lengthAdjust="spacingAndGlyphs">μ</tspan><tspan x="43.48" y="0.00" font-size="25.00">m</tspan><tspan x="63.90" y="0.00" font-size="25.00">]</tspan></text>
<text><tspan x="218.41" y="78.70" font-size="30.00" textLength="142.08" lengthAdjust="spacingAndGlyphs">longitudinal</tspan> <tspan x="369.56" y="78.70" font-size="30.00">current</tspan></text>
</g>
<g>
<rect x="90.00" y="423.00" width="493.20" height="197.85" fill="#f7f7f7"/>
<path d="M122 495.5h1M96 489.5h1M250 476.5h1M164 479.5h1M147 492.5h1M183 478.5h1M171 483.5h1M126 481.5h1M255 472.5h1M141 491.5h1M263 469.5h1M183 479.5h1M107 493.5h1M100 492.5h1M184 489.5h1M183 486.5h1M265 471.5h1M265 470.5h1M118 482.5h1M205 485.5h1M128 494.5h1M92 495.5h1M219 486.5h1M125 485.5h1M177 490.5h1M100 488.5h1M169 482.5h1M100 497.5h1M189 485.5h1M144 494.5h1M181 477.5h1M176 481.5h1M238 473.5h1M143 491.5h1M223 481.5h1M201 474.5h1M261 469.5h1M100 500.5h1M239 479.5h1M190 483.5h1M205 476.5h1M213 473.5h1M268 470.5h1M122 483.5h1M250 473.5h1M252 473.5h1M205 481.5h1M186 475.5h1M127 484.5h1M113 483.5h1M113 481.5h1M138 487.5h1M124 482.5h1M128 491.5h1M135 488.5h1M222 483.5h1M162 487.5h1M214 487.5h1M119 491.5h1M177 476.5h1M199 471.5h1M148 478.5h1M110 497.5h1M240 471.5h1M238 470.5h1M115 489.5h1M190 481.5h1M206 487.5h1M169 489.5h1M231 472.5h1M223 472.5h1M166 476.5h1M208 481.5h1M222 474.5h1M185 474.5h1M251 475.5h1M260 471.5h1M265 470.5h1M95 493.5h1M273 469.5h1M201 486.5h1M103 489.5h1M99 499.5h1M150 481.5h1M267 469.5h1M210 475.5h1M143 487.5h1M105 496.5h1M112 499.5h1M173 479.5h1M184 479.5h1M144 495.5h1M191 474.5h1M227 470.5h1M248 476.5h1M100 489.5h1M175 476.5h1M232 488.5h1M107 488.5h1M197 474.5h1M100 483.5h1M222 470.5h1M126 480.5h1M139 487.5h1M150 490.5h1M156 494.5h1M211 470.5h1M143 479.5h1M175 480.5h1M252 471.5h1M171 474.5h1M197 490.5h1M203 475.5h1M177 490.5h1M240 472.5h1M142 493.5h1M113 485.5h1M145 486.5h1M246 476.5h1M235 473.5h1M102 483.5h1M146 477.5h1M113 497.5h1M178 488.5h1M113 484.5h1M182 475.5h1M135 486.5h1M165 484.5h1M208 487.5h1M178 482.5h1M184 473.5h1M163 478.5h1M138 481.5h1M192 484.5h1M128 490.5h1M263 469.5h1M137 480.5h1M161 477.5h1M219 485.5h1M156 482.5h1M224 482.5h1M115 500.5h1M186 484.5h1M142 477.5h1M113 493.5h1M259 474.5h1M200 477.5h1M225 476.5h1M97 488.5h1M183 474.5h1M226 485.5h1M211 489.5h1M256 475.5h1M121 482.5h1M165 486.5h1M191 472.5h1M222 486.5h1M154 478.5h1M122 497.5h1M175 482.5h1M273 469.5h1M217 478.5h1M157 479.5h1M181 489.5h1M134 493.5h1M117 498.5h1M171 483.5h1M144 477.5h1M244 476.5h1M153 479.5h1M204 487.5h1M172 476.5h1M115 481.5h1M213 481.5h1M150 493.5h1M220 488.5h1M138 491.5h1M184 472.5h1M127 488.5h1M236 470.5h1M105 486.5h1M212 473.5h1M196 472.5h1M175 491.5h1M227 474.5h1M157 491.5h1M190 483.5h1M205 485.5h1M100 494.5h1M232 471.5h1M138 486.5h1M149 486.5h1M218 473.5h1M153 489.5h1M202 483.5h1M194 482.5h1M161 493.5h1M255 469.5h1M109 496.5h1M204 475.5h1M181 473.5h1M157 490.5h1M170 484.5h1M242 471.5h1M114 488.5h1M144 480.5h1M241 474.5h1M203 471.5h1M251 470.5h1M227 486.5h1M209 471.5h1M130 483.5h1M145 477.5h1M218 473.5h1M133 492.5h1M214 477.5h1M106 489.5h1M175 478.5h1M133 497.5h1M238 476.5h1M245 476.5h1M124 494.5h1M242 475.5h1M219 476.5h1M145 482.5h1M214 471.5h1M152 482.5h1M216 482.5h1M183 479.5h1M265 469.5h1M105 488.5h1M230 483.5h1M155 493.5h1M126 488.5h1M146 482.5h1M146 491.5h1M263 470.5h1M126 480.5h1M154 487.5h1M165 487.5h1M117 482.5h1M192 477.5h1M119 485.5h1M264 470.5h1M125 492.5h1M210 485.5h1M175 473.5h1M92 500.5h1M234 477.5h1M189 480.5h1M215 487.5h1M102 494.5h1M181 477.5h1M126 479.5h1M227 479.5h1M167 478.5h1M104 491.5h1M178 479.5h1M209 473.5h1M109 494.5h1M123 496.5h1M96 502.5h1M145 486.5h1M261 469.5h1M155 481.5h1M207 476.5h1M153 486.5h1M247 476.5h1M205 472.5h1M273 470.5h1M102 490.5h1M164 480.5h1M124 486.5h1M222 478.5h1M188 486.5h1M104 484.5h1M101 497.5h1M125 484.5h1M166 486.5h1M149 476.5h1M241 477.5h1M109 493.5h1M188 483.5h1M171 482.5h1M139 493.5h1M248 471.5h1M149 494.5h1M94 494.5h1M145 496.5h1M248 470.5h1M180 474.5h1M178 474.5h1M231 484.5h1M116 488.5h1M120 490.5h1M160 479.5h1M175 474.5h1M225 476.5h1M215 487.5h1M140 486.5h1M158 481.5h1M104 486.5h1M91 491.5h1M193 472.5h1M251 476.5h1M119 481.5h1M160 480.5h1M101 495.5h1M165 481.5h1M143 484.5h1M161 483.5h1M159 474.5h1M182 476.5h1M126 482.5h1M221 480.5h1M229 478.5h1M247 469.5h1M119 499.5h1M163 477.5h1M93 501.5h1M211 478.5h1M228 472.5h1M113 494.5h1M121 490.5h1M189 478.5h1M216 486.5h1M135 488.5h1M223 481.5h1M196 488.5h1M140 479.5h1M185 485.5h1M139 494.5h1M173 478.5h1M92 488.5h1M144 492.5h1M189 487.5h1M99 486.5h1M120 481.5h1M212 477.5h1M234 477.5h1M214 471.5h1M94 495.5h1M139 496.5h1M132 483.5h1M220 481.5h1M253 470.5h1M127 482.5h1M225 473.5h1M245 477.5h1M107 499.5h1M182 487.5h1M178 479.5h1M181 484.5h1M180 473.5h1M174 492.5h1M119 481.5h1M135 478.5h1M128 489.5h1M147 489.5h1M134 480.5h1M247 471.5h1M173 476.5h1M134 496.5h1M127 492.5h1M212 482.5h1M165 476.5h1M257 474.5h1M243 473.5h1M173 484.5h1M267 470.5h1M91 488.5h1M150 478.5h1M182 489.5h1M158 480.5h1M246 476.5h1M155 492.5h1M256 469.5h1M154 483.5h1M105 487.5h1M147 494.5h1M126 490.5h1M153 481.5h1M174 487.5h1M144 479.5h1M116 484.5h1M218 471.5h1M146 482.5h1M144 481.5h1M122 486.5h1M254 471.5h1M156 490.5h1M153 478.5h1M111 494.5h1M225 474.5h1M239 470.5h1M270 469.5h1M221 485.5h1M141 490.5h1M186 477.5h1M129 491.5h1M223 483.5h1M144 478.5h1M243 476.5h1M151 477.5h1M234 484.5h1M255 472.5h1M161 488.5h1M208 471.5h1M189 475.5h1M110 494.5h1M268 470.5h1M264 472.5h1M170 476.5h1M243 476.5h1M189 489.5h1M99 496.5h1M139 486.5h1M235 475.5h1M251 475.5h1M155 480.5h1M151 490.5h1M231 477.5h1M142 495.5h1M176 473.5h1M256 471.5h1M186 480.5h1M106 483.5h1M267 470.5h1M182 480.5h1M206 474.5h1M106 495.5h1M227 488.5h1M208 489.5h1M192 488.5h1M260 470.5h1M175 484.5h1M144 490.5h1M176 488.5h1M143 493.5h1M180 490.5h1M247 475.5h1M139 482.5h1M192 479.5h1M136 488.5h1M161 480.5h1M256 474.5h1M178 488.5h1M259 472.5h1M113 482.5h1M120 480.5h1M231 487.5h1M198 475.5h1M181 483.5h1M229 475.5h1M138 492.5h1M258 469.5h1M122 487.5h1M181 489.5h1M160 475.5h1M101 502.5h1M256 470.5h1M172 487.5h1M93 484.5h1M122 488.5h1M94 487.5h1M145 479.5h1M196 490.5h1M160 485.5h1M247 469.5h1M132 484.5h1M218 486.5h1M205 473.5h1M152 494.5h1M127 490.5h1M207 473.5h1M98 501.5h1M256 469.5h1M261 469.5h1M199 476.5h1M191 474.5h1M241 480.5h1M205 472.5h1M155 488.5h1M138 483.5h1M231 470.5h1M274 469.5h1M147 476.5h1M164 474.5h1M97 489.5h1M193 475.5h1M156 489.5h1M102 486.5h1M225 485.5h1M147 482.5h1M128 494.5h1M168 476.5h1M111 496.5h1M212 473.5h1M225 470.5h1M219 486.5h1M111 491.5h1M111 492.5h1M109 500.5h1M210 482.5h1M227 482.5h1M162 476.5h1M128 482.5h1M197 489.5h1M273 469.5h1M224 475.5h1M242 470.5h1M143 488.5h1M205 485.5h1M178 477.5h1M98 499.5h1M227 475.5h1M217 474.5h1M113 495.5h1M182 483.5h1M227 472.5h1M244 474.5h1M196 483.5h1M196 486.5h1M225 475.5h1M151 479.5h1M176 482.5h1M123 489.5h1M248 471.5h1M228 488.5h1M172 483.5h1M176 489.5h1M184 480.5h1M206 473.5h1M159 487.5h1M117 495.5h1M179 474.5h1M153 476.5h1M137 488.5h1M218 485.5h1M229 489.5h1M178 473.5h1M261 472.5h1M226 476.5h1M245 471.5h1M272 469.5h1M225 479.5h1M113 481.5h1M272 470.5h1M238 471.5h1M116 485.5h1M134 486.5h1M117 487.5h1M267 470.5h1M153 482.5h1M229 476.5h1M179 478.5h1M157 479.5h1M106 491.5h1M157 486.5h1M263 470.5h1M144 494.5h1M118 486.5h1M189 488.5h1M232 489.5h1M140 480.5h1M124 480.5h1M126 483.5h1M150 484.5h1M179 473.5h1M201 489.5h1M273 469.5h1M247 474.5h1M121 480.5h1M231 470.5h1M173 480.5h1M178 477.5h1M101 487.5h1M272 469.5h1M131 478.5h1M218 476.5h1M155 475.5h1M135 478.5h1M144 477.5h1M91 496.5h1M224 471.5h1M130 492.5h1M213 471.5h1M220 487.5h1M225 477.5h1M180 478.5h1M269 470.5h1M195 484.5h1M140 484.5h1M209 473.5h1M109 495.5h1M188 489.5h1M231 470.5h1M102 493.5h1M160 478.5h1M152 482.5h1M217 488.5h1M273 469.5h1M212 476.5h1M103 500.5h1M105 500.5h1M106 500.5h1M153 487.5h1M239 476.5h1M107 499.5h1M181 484.5h1M108 501.5h1M234 470.5h1M216 476.5h1M152 476.5h1M272 469.5h1M225 483.5h1M143 484.5h1M168 479.5h1M131 483.5h1M226 472.5h1M182 473.5h1M210 474.5h1M241 473.5h1M138 479.5h1M176 485.5h1M121 486.5h1M93 495.5h1M115 487.5h1M188 477.5h1M265 469.5h1M188 488.5h1M145 485.5h1M210 476.5h1M204 486.5h1M222 482.5h1M153 481.5h1M203 476.5h1M255 469.5h1M139 495.5h1M136 488.5h1M122 479.5h1M137 480.5h1M173 477.5h1M139 479.5h1M144 492.5h1M114 490.5h1M93 483.5h1M144 483.5h1M216 471.5h1M155 491.5h1M171 486.5h1M233 473.5h1M262 471.5h1M144 480.5h1M162 474.5h1M93 484.5h1M231 484.5h1M218 478.5h1M133 493.5h1M127 487.5h1M200 490.5h1M267 470.5h1M235 487.5h1M160 475.5h1M213 473.5h1M133 480.5h1M163 475.5h1M115 481.5h1M221 472.5h1M153 477.5h1M131 478.5h1M240 471.5h1M108 485.5h1M112 481.5h1M186 475.5h1M143 479.5h1M156 478.5h1M160 474.5h1M203 475.5h1M258 470.5h1M215 474.5h1M122 480.5h1M113 482.5h1M164 475.5h1M132 479.5h1M233 471.5h1M139 477.5h1M138 478.5h1M243 472.5h1M203 474.5h1M210 472.5h1M148 476.5h1M241 471.5h1M154 475.5h1M135 478.5h1M155 476.5h1M131 480.5h1M202 473.5h1M160 474.5h1M206 471.5h1M131 479.5h1M237 472.5h1M183 472.5h1M189 474.5h1M268 469.5h1M142 478.5h1M127 481.5h1M146 476.5h1M205 472.5h1M148 477.5h1M212 473.5h1M176 474.5h1M259 470.5h1M124 479.5h1M211 470.5h1M216 470.5h1M259 470.5h1M159 476.5h1M170 476.5h1M166 477.5h1M127 480.5h1M188 474.5h1M112 482.5h1M176 473.5h1M180 475.5h1M117 482.5h1M200 473.5h1M168 474.5h1M189 475.5h1M251 470.5h1M166 476.5h1M119 482.5h1M156 477.5h1M251 472.5h1M270 471.5h1M219 472.5h1M134 478.5h1M187 472.5h1M252 469.5h1M218 473.5h1M112 481.5h1M229 470.5h1M180 476.5h1M233 474.5h1M256 469.5h1M250 473.5h1M235 474.5h1M212 472.5h1M218 472.5h1M268 471.5h1M220 478.5h1M269 470.5h1M251 469.5h1M270 470.5h1M210 472.5h1M258 471.5h1M231 470.5h1M251 470.5h1M242 475.5h1M265 470.5h1M246 472.5h1M266 471.5h1M208 471.5h1M242 476.5h1M266 470.5h1M231 476.5h1M239 469.5h1M246 476.5h1M272 469.5h1M265 472.5h1M251 476.5h1M223 477.5h1M246 470.5h1M242 475.5h1M259 471.5h1M250 473.5h1M215 477.5h1M237 473.5h1M240 478.5h1M249 472.5h1M245 477.5h1M244 475.5h1M261 470.5h1M215 475.5h1M221 472.5h1M244 472.5h1M216 473.5h1M266 469.5h1M243 478.5h1M212 473.5h1M235 476.5h1M246 477.5h1M215 474.5h1M229 478.5h1M264 471.5h1M249 476.5h1M207 479.5h1M218 476.5h1M226 476.5h1M249 475.5h1M97 475.5h1M102 476.5h1M104 475.5h1M104 474.5h1M107 473.5h1M110 476.5h1M99 475.5h1M104 474.5h1M110 475.5h1M98 473.5h1M107 472.5h1M108 474.5h1M241 491.5h1M178 503.5h1M245 496.5h1M160 498.5h1M138 515.5h1M180 495.5h1M96 505.5h1M155 500.5h1M177 499.5h1M157 495.5h1M126 512.5h1M137 501.5h1M136 502.5h1M213 504.5h1M167 496.5h1M116 501.5h1M134 498.5h1M111 503.5h1M126 514.5h1M107 506.5h1M233 493.5h1M224 491.5h1M235 496.5h1M131 502.5h1M148 499.5h1M139 507.5h1M223 492.5h1M128 500.5h1M172 494.5h1M147 499.5h1M112 506.5h1M245 495.5h1M227 493.5h1M151 504.5h1M173 494.5h1M124 500.5h1M271 490.5h1M239 491.5h1M139 500.5h1M175 510.5h1M206 498.5h1M110 505.5h1M122 504.5h1M103 509.5h1M239 489.5h1M137 501.5h1M258 509.5h1M103 511.5h1M156 497.5h1M274 498.5h1M190 496.5h1M142 507.5h1M115 517.5h1M207 505.5h1M218 495.5h1M220 492.5h1M179 495.5h1M175 494.5h1M126 503.5h1M135 503.5h1M108 504.5h1M223 494.5h1M154 503.5h1M182 493.5h1M107 502.5h1M230 490.5h1M230 492.5h1M214 497.5h1M220 497.5h1M261 493.5h1M251 494.5h1M94 523.5h1M163 495.5h1M249 512.5h1M212 491.5h1M111 515.5h1M181 496.5h1M190 501.5h1M272 490.5h1M158 495.5h1M242 510.5h1M119 504.5h1M117 507.5h1M248 491.5h1M138 506.5h1M227 498.5h1M158 508.5h1M156 500.5h1M208 494.5h1M274 490.5h1M192 493.5h1M119 506.5h1M142 498.5h1M191 492.5h1M202 494.5h1M151 497.5h1M214 492.5h1M228 503.5h1M139 519.5h1M125 507.5h1M94 509.5h1M282 490.5h1M142 512.5h1M108 503.5h1M200 492.5h1M166 499.5h1M108 508.5h1M158 498.5h1M199 493.5h1M146 497.5h1M91 505.5h1M196 494.5h1M148 500.5h1M240 489.5h1M146 499.5h1M133 509.5h1M180 501.5h1M256 501.5h1M282 495.5h1M230 504.5h1M199 492.5h1M145 502.5h1M169 495.5h1M132 508.5h1M129 500.5h1M152 502.5h1M98 519.5h1M263 494.5h1M162 501.5h1M134 498.5h1M197 513.5h1M264 497.5h1M113 501.5h1M171 495.5h1M101 522.5h1M255 491.5h1M109 512.5h1M117 505.5h1M123 501.5h1M257 519.5h1M166 494.5h1M147 498.5h1M165 497.5h1M117 508.5h1M185 494.5h1M208 495.5h1M179 516.5h1M109 504.5h1M194 493.5h1M163 499.5h1M171 497.5h1M123 504.5h1M225 493.5h1M191 492.5h1M262 509.5h1M227 493.5h1M208 494.5h1M189 496.5h1M281 492.5h1M119 507.5h1M267 489.5h1M282 493.5h1M96 505.5h1M185 494.5h1M135 498.5h1M232 495.5h1M115 508.5h1M120 500.5h1M226 495.5h1M213 494.5h1M125 507.5h1M213 503.5h1M135 502.5h1M197 506.5h1M198 500.5h1M95 506.5h1M238 490.5h1M221 494.5h1M203 492.5h1M180 494.5h1M163 504.5h1M185 508.5h1M207 497.5h1M125 500.5h1M241 495.5h1M147 498.5h1M238 501.5h1M247 491.5h1M253 494.5h1M167 498.5h1M175 496.5h1M176 495.5h1M119 504.5h1M226 498.5h1M128 503.5h1M157 502.5h1M171 496.5h1M165 499.5h1M105 505.5h1M240 493.5h1M186 496.5h1M133 502.5h1M262 498.5h1M175 499.5h1M191 501.5h1M208 507.5h1M246 495.5h1M191 493.5h1M257 489.5h1M184 493.5h1M115 515.5h1M184 493.5h1M116 503.5h1M107 505.5h1M232 490.5h1M95 513.5h1M244 493.5h1M220 490.5h1M231 496.5h1M225 491.5h1M220 500.5h1M168 500.5h1M236 490.5h1M150 497.5h1M114 501.5h1M156 498.5h1M156 498.5h1M128 499.5h1M244 498.5h1M234 493.5h1M211 491.5h1M261 491.5h1M206 494.5h1M166 497.5h1M234 493.5h1M154 506.5h1M92 505.5h1M116 510.5h1M116 511.5h1M203 495.5h1M219 491.5h1M207 494.5h1M116 503.5h1M177 498.5h1M162 498.5h1M198 508.5h1M104 510.5h1M256 497.5h1M161 500.5h1M272 498.5h1M221 496.5h1M101 514.5h1M143 503.5h1M216 497.5h1M103 505.5h1M273 508.5h1M237 491.5h1M242 501.5h1M242 489.5h1M91 512.5h1M97 506.5h1M179 498.5h1M163 498.5h1M274 491.5h1M208 505.5h1M212 491.5h1M161 503.5h1M100 506.5h1M252 490.5h1M91 507.5h1M184 497.5h1M129 508.5h1M265 490.5h1M164 505.5h1M227 502.5h1M181 493.5h1M105 503.5h1M153 501.5h1M248 504.5h1M264 501.5h1M169 497.5h1M159 496.5h1M186 497.5h1M132 520.5h1M171 494.5h1M95 508.5h1M242 494.5h1M103 511.5h1M242 497.5h1M163 496.5h1M256 489.5h1M143 503.5h1M113 508.5h1M245 502.5h1M94 506.5h1M133 503.5h1M252 498.5h1M209 493.5h1M234 489.5h1M180 501.5h1M194 509.5h1M112 514.5h1M119 501.5h1M241 489.5h1M197 494.5h1M127 499.5h1M136 502.5h1M177 501.5h1M102 504.5h1M168 503.5h1M280 499.5h1M244 508.5h1M107 503.5h1M189 495.5h1M221 490.5h1M130 504.5h1M251 500.5h1M182 496.5h1M272 492.5h1M161 508.5h1M248 494.5h1M224 498.5h1M248 492.5h1M117 507.5h1M242 492.5h1M204 503.5h1M224 493.5h1M190 494.5h1M197 496.5h1M135 508.5h1M160 505.5h1M97 508.5h1M195 492.5h1M219 494.5h1M154 498.5h1M241 495.5h1M95 506.5h1M166 502.5h1M161 495.5h1M192 519.5h1M204 498.5h1M254 492.5h1M104 503.5h1M170 500.5h1M104 503.5h1M140 497.5h1M248 493.5h1M146 496.5h1M135 507.5h1M235 490.5h1M102 503.5h1M97 504.5h1M184 504.5h1M138 498.5h1M275 491.5h1M175 515.5h1M104 504.5h1M214 492.5h1M94 507.5h1M179 497.5h1M183 501.5h1M248 490.5h1M225 490.5h1M214 491.5h1M93 505.5h1M160 495.5h1M242 490.5h1M180 495.5h1M96 505.5h1M103 502.5h1M212 492.5h1M145 496.5h1M185 493.5h1M198 492.5h1M149 496.5h1M135 499.5h1M143 498.5h1M199 492.5h1M141 497.5h1M163 498.5h1M111 502.5h1M130 499.5h1M148 497.5h1M118 500.5h1M234 489.5h1M157 500.5h1M225 491.5h1M278 490.5h1M253 489.5h1M233 491.5h1M259 489.5h1M99 505.5h1M146 498.5h1M177 494.5h1M173 496.5h1M172 496.5h1M177 493.5h1M125 501.5h1M159 497.5h1M122 501.5h1M137 498.5h1M113 502.5h1M235 490.5h1M133 500.5h1M228 490.5h1M277 491.5h1M171 495.5h1M203 495.5h1M183 493.5h1M130 504.5h1M234 492.5h1M144 498.5h1M98 504.5h1M115 503.5h1M156 497.5h1M141 497.5h1M194 492.5h1M193 492.5h1M241 489.5h1M259 490.5h1M158 495.5h1M226 490.5h1M198 498.5h1M135 520.5h1M103 528.5h1M140 519.5h1M135 518.5h1M206 512.5h1M246 513.5h1M193 515.5h1M229 512.5h1M220 517.5h1M93 524.5h1M146 518.5h1M161 518.5h1M221 512.5h1M128 520.5h1M181 517.5h1M247 510.5h1M224 511.5h1M139 524.5h1M194 514.5h1M108 530.5h1M177 515.5h1M148 518.5h1M177 514.5h1M226 511.5h1M115 521.5h1M134 520.5h1M199 520.5h1M264 525.5h1M212 520.5h1M251 515.5h1M247 517.5h1M267 511.5h1M103 532.5h1M139 522.5h1M234 511.5h1M101 521.5h1M213 518.5h1M239 511.5h1M139 521.5h1M268 510.5h1M158 520.5h1M152 525.5h1M174 521.5h1M226 517.5h1M128 518.5h1M221 525.5h1M257 511.5h1M150 529.5h1M238 514.5h1M165 519.5h1M191 518.5h1M189 521.5h1M244 515.5h1M185 519.5h1M115 524.5h1M114 519.5h1M224 525.5h1M177 517.5h1M265 514.5h1M161 526.5h1M111 531.5h1M112 524.5h1M108 528.5h1M162 517.5h1M101 529.5h1M138 523.5h1M212 520.5h1M178 515.5h1M143 529.5h1M126 520.5h1M126 530.5h1M168 524.5h1M188 517.5h1M108 520.5h1M261 519.5h1M209 514.5h1M166 521.5h1M107 524.5h1M226 513.5h1M236 514.5h1M219 518.5h1M121 520.5h1M231 517.5h1M120 522.5h1M197 515.5h1M162 518.5h1M212 519.5h1M253 510.5h1M195 515.5h1M204 513.5h1M166 515.5h1M253 513.5h1M175 519.5h1M121 524.5h1M212 511.5h1M219 516.5h1M140 521.5h1M147 525.5h1M234 531.5h1M218 516.5h1M156 520.5h1M224 513.5h1M94 519.5h1M233 521.5h1M112 526.5h1M170 515.5h1M146 522.5h1M193 549.5h1M217 514.5h1M96 526.5h1M152 518.5h1M121 524.5h1M127 519.5h1M178 523.5h1M261 518.5h1M107 521.5h1M94 519.5h1M100 527.5h1M234 510.5h1M200 518.5h1M216 518.5h1M142 517.5h1M166 535.5h1M140 536.5h1M98 521.5h1M122 522.5h1M251 511.5h1M254 510.5h1M99 526.5h1M129 522.5h1M257 515.5h1M193 526.5h1M223 511.5h1M223 526.5h1M173 515.5h1M238 521.5h1M203 526.5h1M124 522.5h1M116 520.5h1M182 519.5h1M109 519.5h1M265 510.5h1M241 524.5h1M128 521.5h1M216 518.5h1M131 520.5h1M143 518.5h1M217 512.5h1M241 514.5h1M232 510.5h1M184 519.5h1M152 518.5h1M192 514.5h1M157 520.5h1M250 530.5h1M100 521.5h1M193 513.5h1M163 519.5h1M227 521.5h1M217 530.5h1M115 532.5h1M251 513.5h1M122 521.5h1M241 518.5h1M206 517.5h1M249 509.5h1M195 514.5h1M211 520.5h1M208 514.5h1M107 534.5h1M233 511.5h1M210 516.5h1M216 511.5h1M102 526.5h1M150 522.5h1M151 519.5h1M121 535.5h1M100 529.5h1M118 521.5h1M176 517.5h1M179 526.5h1M120 520.5h1M157 521.5h1M221 520.5h1M141 519.5h1M104 529.5h1M143 524.5h1M91 522.5h1M199 520.5h1M265 510.5h1M113 520.5h1M183 514.5h1M241 513.5h1M245 511.5h1M163 515.5h1M124 527.5h1M223 538.5h1M211 512.5h1M122 518.5h1M250 518.5h1M92 511.5h1M92 515.5h1M94 512.5h1M91 512.5h1M107 520.5h1M91 516.5h1M93 519.5h1M288 496.5h1M290 490.5h1M299 486.5h1M244 483.5h1M306 498.5h1M265 489.5h1M246 488.5h1M240 486.5h1M251 489.5h1M238 493.5h1M263 506.5h1M286 486.5h1M279 486.5h1M290 489.5h1M245 487.5h1M257 489.5h1M242 485.5h1M251 493.5h1M271 489.5h1M255 510.5h1M293 483.5h1M248 486.5h1M283 493.5h1M241 491.5h1M278 499.5h1M247 489.5h1M242 483.5h1M243 484.5h1M266 485.5h1M282 496.5h1M314 491.5h1M252 514.5h1M264 487.5h1M238 487.5h1M276 498.5h1M272 484.5h1M255 485.5h1M267 489.5h1M284 507.5h1M258 484.5h1M242 487.5h1M251 484.5h1M295 483.5h1M273 487.5h1M242 492.5h1M247 484.5h1M258 487.5h1M241 494.5h1M270 503.5h1M238 501.5h1M276 487.5h1M290 485.5h1M293 485.5h1M243 492.5h1M311 488.5h1M239 513.5h1M238 484.5h1M259 483.5h1M256 483.5h1M277 495.5h1M275 484.5h1M241 494.5h1M268 484.5h1M304 501.5h1M298 493.5h1M311 482.5h1M282 486.5h1M241 487.5h1M247 483.5h1M240 505.5h1M267 501.5h1M261 500.5h1M286 486.5h1M261 488.5h1M265 495.5h1M248 491.5h1M284 497.5h1M252 489.5h1M270 498.5h1M246 496.5h1M272 484.5h1M263 491.5h1M249 493.5h1M250 489.5h1M300 484.5h1M266 486.5h1M259 512.5h1M319 485.5h1M254 518.5h1M252 500.5h1M249 505.5h1M243 511.5h1M259 483.5h1M308 489.5h1M265 514.5h1M269 484.5h1M249 486.5h1M291 484.5h1M295 487.5h1M266 510.5h1M306 487.5h1M260 497.5h1M268 485.5h1M238 484.5h1M267 513.5h1M244 498.5h1M270 488.5h1M284 487.5h1M299 487.5h1M271 485.5h1M289 505.5h1M251 483.5h1M263 491.5h1M246 491.5h1M247 492.5h1M245 491.5h1M240 485.5h1M271 484.5h1M245 494.5h1M268 513.5h1M267 486.5h1M284 496.5h1M246 484.5h1M293 489.5h1M241 486.5h1M270 486.5h1M242 515.5h1M281 502.5h1M293 505.5h1M291 507.5h1M138 544.5h1M206 511.5h1M109 522.5h1M201 501.5h1M250 553.5h1M145 517.5h1M255 501.5h1M240 499.5h1M286 484.5h1M131 565.5h1M129 607.5h1M185 571.5h1M96 506.5h1M138 500.5h1M215 609.5h1M186 539.5h1M181 492.5h1M174 538.5h1M98 612.5h1M235 488.5h1M203 577.5h1M110 508.5h1M184 498.5h1M246 530.5h1M95 541.5h1M195 577.5h1M213 499.5h1M178 561.5h1M186 544.5h1M144 511.5h1M122 508.5h1M160 537.5h1M196 500.5h1M120 532.5h1M180 519.5h1M170 565.5h1M305 521.5h1M91 550.5h1M214 495.5h1M118 539.5h1M182 540.5h1M121 511.5h1M151 498.5h1M157 503.5h1M215 490.5h1M120 518.5h1M190 501.5h1M247 576.5h1M95 514.5h1M107 540.5h1M176 537.5h1M165 513.5h1M158 549.5h1M232 502.5h1M249 487.5h1M160 541.5h1M112 538.5h1M243 495.5h1M117 510.5h1M215 590.5h1M125 506.5h1M175 505.5h1M179 515.5h1M211 548.5h1M200 491.5h1M141 536.5h1M111 571.5h1M116 509.5h1M119 538.5h1M94 609.5h1M192 509.5h1M222 557.5h1M192 515.5h1M135 550.5h1M105 527.5h1M121 561.5h1M201 526.5h1M121 516.5h1M155 497.5h1M96 567.5h1M147 524.5h1M165 501.5h1M233 513.5h1M137 507.5h1M243 544.5h1M169 495.5h1M223 520.5h1M212 575.5h1M110 515.5h1M135 544.5h1M142 518.5h1M217 525.5h1M157 537.5h1M195 539.5h1M232 488.5h1M125 608.5h1M115 569.5h1M135 516.5h1M101 507.5h1M196 497.5h1M115 587.5h1M265 497.5h1M149 509.5h1M222 496.5h1M100 558.5h1M188 564.5h1M114 544.5h1M153 565.5h1M163 541.5h1M97 511.5h1M245 490.5h1M151 519.5h1M149 504.5h1M106 552.5h1M144 518.5h1M130 515.5h1M107 522.5h1M271 499.5h1M186 542.5h1M167 511.5h1M232 492.5h1M202 502.5h1M307 493.5h1M176 581.5h1M142 509.5h1M201 494.5h1M125 514.5h1M121 596.5h1M112 507.5h1M121 592.5h1M157 526.5h1M133 532.5h1M189 531.5h1M109 564.5h1M193 495.5h1M129 531.5h1M228 489.5h1M120 545.5h1M125 527.5h1M250 493.5h1M288 552.5h1M242 489.5h1M145 551.5h1M147 597.5h1M184 504.5h1M187 514.5h1M95 568.5h1M165 494.5h1M124 547.5h1M195 569.5h1M139 533.5h1M149 531.5h1M237 549.5h1M99 512.5h1M202 498.5h1M177 514.5h1M90 548.5h1M200 530.5h1M259 513.5h1M267 502.5h1M256 512.5h1M217 494.5h1M237 505.5h1M126 504.5h1M254 486.5h1M119 519.5h1M122 565.5h1M127 504.5h1M108 594.5h1M221 493.5h1M91 537.5h1M205 502.5h1M257 541.5h1M97 594.5h1M164 516.5h1M180 499.5h1M139 581.5h1M146 534.5h1M218 516.5h1M107 530.5h1M99 538.5h1M96 509.5h1M161 531.5h1M158 516.5h1M128 502.5h1M103 595.5h1M209 501.5h1M253 548.5h1M176 502.5h1M132 575.5h1M100 521.5h1M195 496.5h1M190 560.5h1M218 515.5h1M161 499.5h1M283 484.5h1M133 608.5h1M204 538.5h1M186 537.5h1M121 549.5h1M148 535.5h1M182 535.5h1M252 486.5h1M174 503.5h1M116 540.5h1M207 531.5h1M112 547.5h1M115 533.5h1M211 569.5h1M115 505.5h1M119 502.5h1M198 508.5h1M121 543.5h1M139 542.5h1M245 493.5h1M204 498.5h1M153 522.5h1M97 581.5h1M170 520.5h1M188 543.5h1M109 513.5h1M224 518.5h1M162 497.5h1M126 519.5h1M112 561.5h1M136 519.5h1M187 497.5h1M143 565.5h1M196 521.5h1M126 506.5h1M113 542.5h1M112 510.5h1M94 542.5h1M131 549.5h1M147 504.5h1M199 491.5h1M221 541.5h1M150 500.5h1M289 487.5h1M97 508.5h1M132 522.5h1M129 530.5h1M280 518.5h1M172 532.5h1M96 604.5h1M133 534.5h1M132 518.5h1M132 506.5h1M136 539.5h1M115 526.5h1M133 577.5h1M93 528.5h1M191 509.5h1M184 581.5h1M216 600.5h1M170 544.5h1M187 520.5h1M109 539.5h1M181 551.5h1M220 506.5h1M230 496.5h1M122 517.5h1M224 505.5h1M96 574.5h1M158 507.5h1M178 511.5h1M148 506.5h1M119 515.5h1M185 492.5h1M103 523.5h1M219 580.5h1M183 532.5h1M218 538.5h1M152 507.5h1M146 509.5h1M115 515.5h1M255 494.5h1M217 512.5h1M154 502.5h1M275 488.5h1M141 504.5h1M140 513.5h1M255 504.5h1M124 517.5h1M166 575.5h1M112 549.5h1M104 526.5h1M260 498.5h1M148 522.5h1M245 487.5h1M281 491.5h1M203 515.5h1M219 491.5h1M227 493.5h1M221 503.5h1M105 508.5h1M217 507.5h1M108 513.5h1M149 519.5h1M287 488.5h1M257 531.5h1M117 528.5h1M235 507.5h1M92 569.5h1M138 497.5h1M174 578.5h1M172 548.5h1M167 561.5h1M120 531.5h1M130 516.5h1M115 610.5h1M216 519.5h1M271 489.5h1M312 537.5h1M229 489.5h1M125 525.5h1M216 491.5h1M170 554.5h1M129 521.5h1M168 508.5h1M261 513.5h1M204 580.5h1M229 497.5h1M169 553.5h1M194 578.5h1M129 501.5h1M281 533.5h1M95 548.5h1M141 580.5h1M160 518.5h1M182 520.5h1M130 517.5h1M260 517.5h1M261 492.5h1M236 493.5h1M225 538.5h1M170 498.5h1M167 535.5h1M243 496.5h1M197 495.5h1M152 598.5h1M205 571.5h1M178 530.5h1M190 565.5h1M94 571.5h1M107 536.5h1M112 589.5h1M126 524.5h1" stroke="#eef3f6" stroke-width="1" fill="none"/>
<path d="M98 484.5h1M189 486.5h1M93 485.5h1M92 483.5h1M98 483.5h1M176 486.5h1M215 478.5h1M156 481.5h1M219 471.5h1M173 479.5h1M118 495.5h1M187 489.5h1M107 487.5h1M199 486.5h1M197 472.5h1M226 472.5h1M102 483.5h1M135 495.5h1M146 482.5h1M207 480.5h1M142 478.5h1M130 484.5h1M214 486.5h1M187 487.5h1M200 478.5h1M216 476.5h1M110 483.5h1M161 475.5h1M164 474.5h1M186 472.5h1M142 478.5h1M127 479.5h1M132 478.5h1M224 471.5h1M202 473.5h1M115 481.5h1M239 471.5h1M267 473.5h1M216 473.5h1M218 470.5h1M118 480.5h1M175 476.5h1M138 480.5h1M264 470.5h1M161 475.5h1M233 470.5h1M169 474.5h1M204 473.5h1M226 470.5h1M244 474.5h1M116 480.5h1M110 482.5h1M208 471.5h1M116 481.5h1M245 471.5h1M136 477.5h1M128 479.5h1M160 475.5h1M156 476.5h1M155 475.5h1M134 479.5h1M155 476.5h1M197 472.5h1M220 472.5h1M152 480.5h1M198 473.5h1M166 474.5h1M143 477.5h1M127 480.5h1M134 479.5h1M161 474.5h1M215 471.5h1M108 483.5h1M139 478.5h1M184 474.5h1M191 474.5h1M177 474.5h1M261 473.5h1M150 476.5h1M228 472.5h1M179 474.5h1M233 471.5h1M129 478.5h1M217 472.5h1M171 474.5h1M192 472.5h1M175 474.5h1M148 478.5h1M237 474.5h1M191 472.5h1M219 475.5h1M183 473.5h1M175 473.5h1M241 471.5h1M255 473.5h1M191 475.5h1M128 479.5h1M246 470.5h1M154 477.5h1M263 469.5h1M133 478.5h1M251 470.5h1M213 471.5h1M197 472.5h1M261 472.5h1M141 478.5h1M239 475.5h1M209 475.5h1M223 474.5h1M247 472.5h1M244 474.5h1M259 469.5h1M255 475.5h1M220 474.5h1M224 476.5h1M207 476.5h1M253 471.5h1M256 472.5h1M254 472.5h1M240 476.5h1M262 471.5h1M272 469.5h1M233 474.5h1M242 471.5h1M216 476.5h1M207 471.5h1M264 471.5h1M205 478.5h1M244 472.5h1M240 472.5h1M225 473.5h1M223 471.5h1M250 470.5h1M231 478.5h1M228 471.5h1M249 476.5h1M234 474.5h1M248 475.5h1M207 479.5h1M225 476.5h1M270 469.5h1M210 473.5h1M274 469.5h1M215 471.5h1M210 477.5h1M214 470.5h1M272 469.5h1M228 473.5h1M205 477.5h1M273 469.5h1M235 472.5h1M231 471.5h1M239 472.5h1M269 470.5h1M243 474.5h1M243 469.5h1M230 470.5h1M211 475.5h1M250 474.5h1M225 472.5h1M212 476.5h1M262 472.5h1M250 470.5h1M239 472.5h1M217 477.5h1M271 469.5h1M208 473.5h1M271 470.5h1M212 479.5h1M236 473.5h1M266 470.5h1M223 476.5h1M212 478.5h1M218 474.5h1M266 469.5h1M252 471.5h1M217 472.5h1M208 473.5h1M218 471.5h1M255 474.5h1M257 470.5h1M225 476.5h1M262 471.5h1M245 472.5h1M263 470.5h1M273 469.5h1M259 471.5h1M256 473.5h1M250 475.5h1M257 472.5h1M253 473.5h1M213 478.5h1M206 477.5h1M216 475.5h1M215 471.5h1M222 477.5h1M229 478.5h1M225 478.5h1M264 471.5h1M240 475.5h1M225 471.5h1M221 472.5h1M273 469.5h1M215 478.5h1M206 477.5h1M215 472.5h1M266 469.5h1M102 478.5h1M101 482.5h1M91 484.5h1M97 481.5h1M107 478.5h1M107 480.5h1M93 476.5h1M94 480.5h1M93 476.5h1M99 475.5h1M108 474.5h1M110 473.5h1M98 474.5h1M95 473.5h1M104 473.5h1M100 472.5h1M104 474.5h1M92 476.5h1M103 474.5h1M97 472.5h1M91 472.5h1M110 475.5h1M101 473.5h1M108 474.5h1M111 476.5h1M95 475.5h1M104 476.5h1M110 474.5h1M102 473.5h1M93 473.5h1M106 475.5h1M102 473.5h1M93 476.5h1M98 474.5h1M159 496.5h1M115 518.5h1M120 515.5h1M227 501.5h1M177 523.5h1M147 500.5h1M191 499.5h1M238 493.5h1M195 495.5h1M266 495.5h1M113 528.5h1M225 493.5h1M235 505.5h1M172 502.5h1M120 519.5h1M220 492.5h1M149 506.5h1M160 496.5h1M207 507.5h1M101 508.5h1M173 498.5h1M103 504.5h1M153 500.5h1M131 499.5h1M97 515.5h1M117 514.5h1M272 493.5h1M138 499.5h1M209 492.5h1M169 497.5h1M173 500.5h1M206 493.5h1M267 498.5h1M205 491.5h1M198 494.5h1M110 505.5h1M117 505.5h1M195 497.5h1M126 507.5h1M265 499.5h1M92 507.5h1M231 495.5h1M124 500.5h1M274 492.5h1M232 499.5h1M277 493.5h1M96 510.5h1M212 491.5h1M214 492.5h1M195 493.5h1M166 494.5h1M189 492.5h1M246 491.5h1M189 500.5h1M93 506.5h1M95 504.5h1M251 500.5h1M259 507.5h1M105 508.5h1M187 493.5h1M206 499.5h1M222 493.5h1M218 507.5h1M205 494.5h1M187 494.5h1M242 494.5h1M265 490.5h1M103 507.5h1M245 496.5h1M236 492.5h1M168 502.5h1M146 505.5h1M114 504.5h1M274 493.5h1M207 491.5h1M210 492.5h1M122 500.5h1M200 495.5h1M245 490.5h1M228 494.5h1M207 495.5h1M117 503.5h1M233 489.5h1M163 495.5h1M255 498.5h1M161 499.5h1M144 498.5h1M135 503.5h1M176 499.5h1M123 507.5h1M282 504.5h1M206 508.5h1M101 503.5h1M133 504.5h1M99 504.5h1M210 492.5h1M261 505.5h1M111 505.5h1M134 499.5h1M109 502.5h1M202 495.5h1M220 492.5h1M178 502.5h1M238 505.5h1M195 495.5h1M245 502.5h1M138 501.5h1M213 490.5h1M232 492.5h1M135 502.5h1M171 495.5h1M140 498.5h1M183 494.5h1M185 492.5h1M237 495.5h1M182 494.5h1M152 499.5h1M158 497.5h1M149 501.5h1M112 503.5h1M120 501.5h1M211 491.5h1M187 494.5h1M163 495.5h1M168 494.5h1M182 493.5h1M150 497.5h1M175 495.5h1M234 490.5h1M230 491.5h1M211 490.5h1M186 494.5h1M137 498.5h1M107 510.5h1M155 495.5h1M269 490.5h1M177 493.5h1M161 495.5h1M194 492.5h1M201 491.5h1M211 492.5h1M256 491.5h1M146 504.5h1M105 503.5h1M206 492.5h1M98 505.5h1M205 491.5h1M129 503.5h1M228 490.5h1M222 494.5h1M248 489.5h1M137 498.5h1M260 490.5h1M205 495.5h1M114 503.5h1M141 498.5h1M193 492.5h1M240 494.5h1M151 496.5h1M243 489.5h1M133 499.5h1M221 491.5h1M254 490.5h1M111 503.5h1M150 497.5h1M232 490.5h1M240 492.5h1M240 490.5h1M178 498.5h1M105 503.5h1M146 497.5h1M167 495.5h1M124 500.5h1M165 494.5h1M163 494.5h1M218 490.5h1M222 492.5h1M278 494.5h1M134 498.5h1M214 491.5h1M216 493.5h1M160 525.5h1M164 518.5h1M151 516.5h1M101 520.5h1M166 524.5h1M171 521.5h1M140 543.5h1M106 521.5h1M170 528.5h1M120 523.5h1M200 526.5h1M92 530.5h1M215 513.5h1M163 522.5h1M194 514.5h1M99 528.5h1M102 522.5h1M176 526.5h1M117 520.5h1M141 525.5h1M171 534.5h1M199 512.5h1M195 514.5h1M230 515.5h1M113 529.5h1M185 521.5h1M122 523.5h1M155 517.5h1M173 516.5h1M219 531.5h1M107 524.5h1M216 512.5h1M106 522.5h1M252 525.5h1M200 517.5h1M154 522.5h1M100 538.5h1M222 524.5h1M136 533.5h1M208 514.5h1M263 511.5h1M263 516.5h1M230 525.5h1M153 521.5h1M224 512.5h1M171 518.5h1M141 523.5h1M241 518.5h1M118 523.5h1M239 513.5h1M244 527.5h1M132 519.5h1M152 543.5h1M159 517.5h1M146 518.5h1M143 518.5h1M138 519.5h1M106 520.5h1M100 520.5h1M106 536.5h1M151 517.5h1M99 519.5h1M157 531.5h1M216 519.5h1M168 517.5h1M256 513.5h1M231 516.5h1M263 512.5h1M232 520.5h1M138 536.5h1M216 513.5h1M246 522.5h1M201 521.5h1M95 520.5h1M167 516.5h1M196 531.5h1M92 515.5h1M97 511.5h1M93 516.5h1M103 520.5h1M118 518.5h1M91 514.5h1M102 512.5h1M92 519.5h1M97 512.5h1M91 514.5h1M106 517.5h1M92 516.5h1M99 514.5h1M106 512.5h1M93 515.5h1M101 510.5h1M277 503.5h1M280 506.5h1M317 506.5h1M183 472.5h1M116 481.5h1M156 475.5h1M140 477.5h1M165 474.5h1M126 479.5h1M139 477.5h1M195 471.5h1M132 478.5h1M155 475.5h1M147 476.5h1M165 474.5h1M136 477.5h1M225 470.5h1M205 471.5h1M213 470.5h1M269 469.5h1M200 471.5h1M210 470.5h1M220 470.5h1M208 471.5h1M202 471.5h1M234 470.5h1M221 469.5h1M247 469.5h1M252 468.5h1M221 469.5h1M220 470.5h1M204 471.5h1M255 468.5h1M227 471.5h1M257 469.5h1M235 469.5h1M109 480.5h1M116 480.5h1M106 482.5h1M127 479.5h1M121 479.5h1M104 482.5h1M124 479.5h1M123 480.5h1M113 480.5h1M108 480.5h1M110 481.5h1M126 479.5h1M122 479.5h1M122 479.5h1M104 481.5h1M120 481.5h1M127 479.5h1M97 503.5h1M135 498.5h1M139 497.5h1M91 505.5h1M118 499.5h1M131 498.5h1M213 489.5h1M275 489.5h1M152 496.5h1M175 493.5h1M191 492.5h1M235 489.5h1M154 494.5h1M181 492.5h1M250 489.5h1M177 493.5h1M179 492.5h1M154 495.5h1M255 488.5h1M159 495.5h1M146 496.5h1M277 489.5h1M235 489.5h1M203 491.5h1M273 488.5h1M191 491.5h1M262 489.5h1M167 494.5h1M175 493.5h1M161 494.5h1M254 489.5h1M193 492.5h1M194 491.5h1M228 490.5h1M210 490.5h1M126 518.5h1M244 510.5h1M164 515.5h1M238 510.5h1M141 515.5h1M104 518.5h1M208 513.5h1M198 512.5h1M264 509.5h1M205 511.5h1M211 511.5h1M157 515.5h1M152 515.5h1M207 511.5h1M210 511.5h1M226 511.5h1M231 511.5h1M128 518.5h1M150 516.5h1M214 511.5h1M150 516.5h1M242 509.5h1M215 511.5h1M113 568.5h1M215 510.5h1M269 513.5h1M123 540.5h1M135 503.5h1M225 560.5h1M163 511.5h1M104 520.5h1M154 514.5h1M105 517.5h1M165 526.5h1M204 541.5h1M214 495.5h1M130 594.5h1M150 539.5h1M128 527.5h1M226 531.5h1M91 546.5h1M123 527.5h1M138 504.5h1M239 514.5h1M218 503.5h1M202 550.5h1M163 513.5h1M248 503.5h1M173 498.5h1M220 520.5h1M159 535.5h1M160 508.5h1M201 547.5h1M188 548.5h1M171 582.5h1M173 516.5h1M103 505.5h1M136 587.5h1M213 498.5h1M249 534.5h1M187 518.5h1M168 502.5h1M91 599.5h1M214 503.5h1M111 553.5h1M166 540.5h1M208 548.5h1M224 490.5h1M239 512.5h1M119 543.5h1M259 600.5h1M129 502.5h1M170 554.5h1M120 595.5h1M189 516.5h1M250 510.5h1M164 506.5h1M162 554.5h1M210 494.5h1M144 505.5h1M137 500.5h1M152 582.5h1M224 507.5h1M109 526.5h1M199 571.5h1M167 557.5h1M130 535.5h1M129 511.5h1M170 498.5h1M146 499.5h1M120 534.5h1M194 490.5h1M129 516.5h1M165 508.5h1M110 525.5h1M119 538.5h1M106 547.5h1M215 591.5h1M98 532.5h1M96 505.5h1M111 526.5h1M169 521.5h1M181 563.5h1M211 500.5h1M248 494.5h1M211 533.5h1M114 553.5h1M204 614.5h1M134 528.5h1M186 535.5h1M105 533.5h1M168 508.5h1M218 505.5h1M248 567.5h1M144 552.5h1M224 524.5h1M255 512.5h1M207 504.5h1M191 518.5h1M111 513.5h1M183 504.5h1M147 559.5h1M209 568.5h1M212 491.5h1M197 520.5h1M241 494.5h1M164 497.5h1M149 510.5h1M164 511.5h1M266 527.5h1M109 573.5h1M188 523.5h1" stroke="#e3edf3" stroke-width="1" fill="none"/>
<path d="M109 483.5h1M223 476.5h1M225 473.5h1M233 476.5h1M224 475.5h1M237 476.5h1M235 473.5h1M93 478.5h1M96 478.5h1M96 476.5h1M101 479.5h1M102 480.5h1M94 483.5h1M98 480.5h1M96 484.5h1M98 483.5h1M94 481.5h1M95 483.5h1M106 477.5h1M93 483.5h1M105 478.5h1M103 477.5h1M99 479.5h1M104 478.5h1M91 477.5h1M97 484.5h1M104 478.5h1M91 479.5h1M99 477.5h1M98 483.5h1M101 481.5h1M105 479.5h1M99 484.5h1M93 478.5h1M97 478.5h1M97 478.5h1M100 480.5h1M105 482.5h1M95 476.5h1M101 483.5h1M93 476.5h1M97 483.5h1M103 480.5h1M97 481.5h1M100 481.5h1M103 482.5h1M106 477.5h1M102 482.5h1M91 480.5h1M93 482.5h1M99 483.5h1M101 479.5h1M104 479.5h1M91 478.5h1M91 482.5h1M110 473.5h1M95 473.5h1M95 475.5h1M91 475.5h1M104 475.5h1M98 476.5h1M98 473.5h1M98 475.5h1M105 472.5h1M105 474.5h1M95 474.5h1M97 472.5h1M100 475.5h1M110 474.5h1M106 474.5h1M109 472.5h1M109 473.5h1M94 472.5h1M98 475.5h1M96 474.5h1M95 474.5h1M103 473.5h1M99 472.5h1M92 512.5h1M96 516.5h1M91 521.5h1M96 512.5h1M100 514.5h1M100 516.5h1M190 472.5h1M179 473.5h1M181 472.5h1M148 476.5h1M199 471.5h1M165 474.5h1M127 479.5h1M164 474.5h1M111 481.5h1M155 475.5h1M192 472.5h1M165 474.5h1M153 475.5h1M126 479.5h1M108 482.5h1M122 479.5h1M185 472.5h1M166 474.5h1M176 472.5h1M157 475.5h1M154 475.5h1M141 477.5h1M143 476.5h1M183 472.5h1M142 476.5h1M198 471.5h1M197 471.5h1M169 473.5h1M135 477.5h1M191 472.5h1M160 474.5h1M142 476.5h1M130 478.5h1M151 475.5h1M158 475.5h1M137 477.5h1M177 473.5h1M110 481.5h1M196 472.5h1M188 471.5h1M162 475.5h1M155 475.5h1M146 476.5h1M155 474.5h1M141 477.5h1M195 471.5h1M198 471.5h1M176 473.5h1M161 474.5h1M147 476.5h1M192 471.5h1M114 480.5h1M155 475.5h1M195 471.5h1M127 478.5h1M192 472.5h1M118 480.5h1M233 469.5h1M230 469.5h1M238 470.5h1M245 469.5h1M223 470.5h1M253 470.5h1M220 470.5h1M212 470.5h1M216 470.5h1M209 470.5h1M204 471.5h1M239 469.5h1M260 469.5h1M108 482.5h1M135 478.5h1M114 480.5h1M118 481.5h1M115 480.5h1M128 480.5h1M131 479.5h1M107 482.5h1M125 479.5h1M116 481.5h1M133 478.5h1M106 482.5h1M138 477.5h1M132 478.5h1M133 479.5h1M108 482.5h1M127 478.5h1M116 481.5h1M129 479.5h1M112 482.5h1M119 480.5h1M121 479.5h1M139 477.5h1M136 479.5h1M136 478.5h1M109 483.5h1M110 482.5h1M133 479.5h1M119 480.5h1M125 480.5h1M109 480.5h1M116 480.5h1M106 483.5h1M107 482.5h1M125 478.5h1M122 479.5h1M111 480.5h1M105 480.5h1M115 478.5h1M118 479.5h1M114 481.5h1M106 482.5h1M124 479.5h1M124 478.5h1M106 482.5h1M121 480.5h1M122 478.5h1M119 480.5h1M115 479.5h1M116 481.5h1M110 482.5h1M124 480.5h1M104 482.5h1M121 480.5h1M127 478.5h1M123 480.5h1M109 480.5h1M107 482.5h1M121 479.5h1M100 503.5h1M125 500.5h1M135 497.5h1M132 499.5h1M92 503.5h1M130 499.5h1M135 498.5h1M124 500.5h1M92 504.5h1M122 499.5h1M124 499.5h1M119 500.5h1M109 501.5h1M136 497.5h1M96 503.5h1M138 497.5h1M109 502.5h1M107 503.5h1M98 503.5h1M93 504.5h1M95 504.5h1M123 499.5h1M121 500.5h1M134 497.5h1M165 495.5h1M236 489.5h1M187 492.5h1M199 490.5h1M211 490.5h1M206 491.5h1M165 495.5h1M189 492.5h1M240 489.5h1M220 489.5h1M266 489.5h1M208 490.5h1M238 490.5h1M260 490.5h1M240 489.5h1M256 489.5h1M212 490.5h1M223 490.5h1M149 496.5h1M258 489.5h1M174 493.5h1M227 490.5h1M226 489.5h1M193 491.5h1M146 496.5h1M192 491.5h1M145 497.5h1M232 489.5h1M152 496.5h1M249 488.5h1M241 489.5h1M255 488.5h1M265 489.5h1M268 489.5h1M249 490.5h1M274 490.5h1M244 489.5h1M253 490.5h1M261 490.5h1M258 489.5h1M258 489.5h1M253 489.5h1M258 487.5h1M254 490.5h1M276 489.5h1M251 489.5h1M260 488.5h1M241 490.5h1M247 490.5h1M257 490.5h1M272 489.5h1M278 490.5h1M243 490.5h1M260 490.5h1M263 489.5h1M251 490.5h1M264 490.5h1M268 489.5h1M277 489.5h1M251 491.5h1M261 489.5h1M246 490.5h1M255 490.5h1M271 490.5h1M250 489.5h1M268 490.5h1M256 490.5h1M273 489.5h1M273 490.5h1M241 489.5h1M267 489.5h1M270 490.5h1M259 489.5h1M250 490.5h1M281 490.5h1M268 490.5h1M252 489.5h1M252 490.5h1M252 490.5h1M252 489.5h1M246 490.5h1M231 510.5h1M102 520.5h1M174 514.5h1M209 513.5h1M122 518.5h1M182 514.5h1M148 517.5h1M255 508.5h1M266 511.5h1M112 519.5h1M169 514.5h1M224 511.5h1M133 517.5h1M168 514.5h1M147 516.5h1M126 518.5h1M236 510.5h1M169 516.5h1M155 515.5h1M163 516.5h1M260 509.5h1M96 519.5h1M122 518.5h1M224 510.5h1M124 518.5h1M195 512.5h1M92 527.5h1M159 528.5h1M169 522.5h1M222 507.5h1M221 491.5h1M222 519.5h1M233 488.5h1M157 534.5h1M132 504.5h1M232 508.5h1M130 506.5h1M144 504.5h1M117 518.5h1M174 534.5h1M99 517.5h1M250 489.5h1M134 590.5h1M112 545.5h1M188 519.5h1M236 511.5h1M255 507.5h1M286 505.5h1M272 490.5h1M306 486.5h1M197 527.5h1M91 553.5h1M119 582.5h1M94 550.5h1M130 540.5h1M157 522.5h1M209 505.5h1M166 498.5h1M120 555.5h1M120 515.5h1M143 539.5h1M206 538.5h1M179 495.5h1M181 558.5h1M115 502.5h1M264 493.5h1M218 525.5h1M192 548.5h1M92 546.5h1M169 507.5h1M129 608.5h1M165 549.5h1M206 542.5h1M178 553.5h1M120 574.5h1M148 557.5h1M136 499.5h1M262 518.5h1M182 504.5h1M189 515.5h1M247 492.5h1M194 551.5h1M171 499.5h1M132 560.5h1M114 571.5h1M140 534.5h1M152 500.5h1M125 513.5h1M278 489.5h1M178 535.5h1M251 507.5h1M150 508.5h1M260 508.5h1M161 526.5h1M143 501.5h1M198 588.5h1M133 592.5h1M228 524.5h1M179 506.5h1M218 496.5h1M184 554.5h1" stroke="#d1e5f0" stroke-width="1" fill="none"/>
<path d="M99 476.5h1M96 481.5h1M100 484.5h1M105 482.5h1M91 477.5h1M97 476.5h1M97 484.5h1M105 480.5h1M105 480.5h1M93 479.5h1M94 480.5h1M92 484.5h1M101 477.5h1M91 478.5h1M100 479.5h1M103 478.5h1M99 479.5h1M95 478.5h1M95 477.5h1M99 478.5h1M102 477.5h1M102 479.5h1M97 478.5h1M102 481.5h1M97 478.5h1M95 476.5h1M93 479.5h1M103 480.5h1M97 483.5h1M91 482.5h1M92 483.5h1M106 482.5h1M91 475.5h1M96 480.5h1M105 482.5h1M104 481.5h1M91 480.5h1M101 483.5h1M101 479.5h1M91 476.5h1M96 478.5h1M98 481.5h1M91 483.5h1M92 483.5h1M103 477.5h1M106 477.5h1M102 479.5h1M94 476.5h1M101 482.5h1M104 482.5h1M92 476.5h1M107 478.5h1M93 482.5h1M97 482.5h1M98 482.5h1M111 474.5h1M110 473.5h1M108 481.5h1M119 479.5h1M145 476.5h1M126 479.5h1M163 474.5h1M109 482.5h1M127 479.5h1M118 481.5h1M116 480.5h1M133 498.5h1M258 489.5h1M249 490.5h1M260 489.5h1M247 490.5h1M258 490.5h1M245 490.5h1M261 489.5h1M256 489.5h1M238 489.5h1M208 502.5h1M105 607.5h1M225 500.5h1M94 556.5h1M149 526.5h1M229 521.5h1M197 507.5h1M100 512.5h1M201 503.5h1M104 524.5h1M141 515.5h1M166 563.5h1M98 601.5h1M139 609.5h1M150 502.5h1M143 526.5h1M92 617.5h1M209 556.5h1M237 507.5h1M197 502.5h1M94 515.5h1M100 556.5h1M194 499.5h1M158 511.5h1M123 553.5h1M108 525.5h1M236 525.5h1M208 500.5h1M119 515.5h1M125 529.5h1M111 518.5h1M245 568.5h1M124 563.5h1M187 571.5h1M249 504.5h1M157 510.5h1M168 543.5h1M117 531.5h1M118 522.5h1M153 500.5h1M279 491.5h1M100 575.5h1M138 497.5h1M119 513.5h1M285 492.5h1M178 492.5h1M93 515.5h1M141 605.5h1M152 579.5h1M105 505.5h1M110 527.5h1M216 491.5h1M115 527.5h1M141 540.5h1M132 509.5h1M160 552.5h1M109 598.5h1M245 500.5h1M128 510.5h1M167 524.5h1M274 490.5h1M101 568.5h1M185 596.5h1" stroke="#b5d6e8" stroke-width="1" fill="none"/>
<path d="M92 478.5h1M101 481.5h1M91 476.5h1M95 479.5h1M98 480.5h1M94 482.5h1M101 483.5h1M97 480.5h1M94 478.5h1M91 481.5h1M101 478.5h1M98 476.5h1M95 481.5h1M91 478.5h1M99 480.5h1M92 483.5h1M104 478.5h1M92 483.5h1M101 483.5h1M98 484.5h1M107 482.5h1M106 481.5h1M101 481.5h1M106 480.5h1M92 481.5h1M105 482.5h1M93 480.5h1M92 481.5h1M103 478.5h1M100 478.5h1M99 477.5h1M98 482.5h1M103 482.5h1M97 478.5h1M96 476.5h1M103 479.5h1M96 482.5h1M99 480.5h1M98 480.5h1M91 481.5h1M95 478.5h1M105 480.5h1M97 483.5h1M95 480.5h1M106 480.5h1M100 483.5h1M95 478.5h1M99 479.5h1M100 483.5h1M94 592.5h1M140 564.5h1M125 501.5h1M197 525.5h1M125 559.5h1M93 525.5h1M128 604.5h1M112 546.5h1M162 498.5h1" stroke="#92c5de" stroke-width="1" fill="none"/>
<path d="M392 481.5h1M391 483.5h1M388 486.5h1M391 485.5h1M377 482.5h1M357 482.5h1M397 488.5h1M386 481.5h1M393 480.5h1M389 481.5h1M397 487.5h1M399 505.5h1M379 484.5h1M399 505.5h1M368 485.5h1M395 488.5h1M367 482.5h1M388 496.5h1M380 485.5h1M388 480.5h1M390 483.5h1M383 491.5h1M387 493.5h1M371 484.5h1M375 482.5h1M371 519.5h1M390 488.5h1M365 497.5h1M394 484.5h1M357 501.5h1M361 483.5h1M379 484.5h1M387 484.5h1M388 486.5h1M377 482.5h1M389 493.5h1M367 493.5h1M368 502.5h1M396 482.5h1M368 496.5h1M393 480.5h1M388 490.5h1M373 485.5h1M373 481.5h1M374 484.5h1M396 518.5h1M436 501.5h1M392 500.5h1M387 502.5h1M427 501.5h1M408 504.5h1M373 501.5h1M392 499.5h1M415 503.5h1M417 502.5h1M364 503.5h1M398 500.5h1M436 503.5h1M393 502.5h1M434 498.5h1M372 502.5h1M416 502.5h1M399 499.5h1M434 501.5h1M567 486.5h1M540 473.5h1M490 466.5h1M547 472.5h1M518 471.5h1M562 476.5h1M453 462.5h1M546 473.5h1M485 464.5h1M445 464.5h1M567 475.5h1M466 465.5h1M499 470.5h1M515 468.5h1M494 468.5h1M473 465.5h1M574 479.5h1M547 470.5h1M498 465.5h1M469 466.5h1M500 467.5h1M482 470.5h1M522 468.5h1M477 465.5h1M498 465.5h1M499 467.5h1M535 468.5h1M450 464.5h1M576 478.5h1M454 474.5h1M485 467.5h1M440 463.5h1M506 471.5h1M493 465.5h1M440 463.5h1M564 472.5h1M548 474.5h1M463 467.5h1M528 469.5h1M553 470.5h1M567 477.5h1M466 463.5h1M525 467.5h1M498 476.5h1M540 473.5h1M459 464.5h1M535 473.5h1M570 479.5h1M542 469.5h1M574 473.5h1M460 463.5h1M453 463.5h1M508 476.5h1M477 465.5h1M466 467.5h1M497 465.5h1M518 466.5h1M451 466.5h1M568 476.5h1M526 472.5h1M513 477.5h1M492 467.5h1M494 464.5h1M481 466.5h1M462 466.5h1M480 467.5h1M478 464.5h1M567 477.5h1M568 474.5h1M472 472.5h1M514 466.5h1M468 463.5h1M531 470.5h1M527 470.5h1M500 468.5h1M556 471.5h1M527 468.5h1M545 471.5h1M468 467.5h1M569 481.5h1M460 463.5h1M441 473.5h1M550 471.5h1M555 471.5h1M579 482.5h1M538 475.5h1M460 463.5h1M556 471.5h1M541 471.5h1M556 471.5h1M442 463.5h1M509 466.5h1M575 475.5h1M544 475.5h1M546 470.5h1M472 466.5h1M441 467.5h1M552 470.5h1M556 473.5h1M461 468.5h1M510 473.5h1M494 468.5h1M534 469.5h1M491 466.5h1M573 473.5h1M565 473.5h1M490 465.5h1M543 471.5h1M472 468.5h1M561 477.5h1M485 466.5h1M451 466.5h1M474 464.5h1M449 463.5h1M578 477.5h1M553 471.5h1M498 469.5h1M492 467.5h1M534 470.5h1M529 468.5h1M455 464.5h1M562 476.5h1M518 467.5h1M576 476.5h1M536 474.5h1M493 467.5h1M568 473.5h1M452 466.5h1M549 474.5h1M445 463.5h1M572 473.5h1M507 472.5h1M513 468.5h1M467 463.5h1M490 468.5h1M456 472.5h1M487 471.5h1M568 472.5h1M469 469.5h1M479 467.5h1M574 480.5h1M510 467.5h1M570 475.5h1M537 469.5h1M509 467.5h1M553 471.5h1M479 471.5h1M498 465.5h1M523 469.5h1M529 467.5h1M450 462.5h1M553 477.5h1M466 464.5h1M451 466.5h1M530 469.5h1M543 472.5h1M469 463.5h1M451 462.5h1M573 473.5h1M453 468.5h1M559 473.5h1M567 473.5h1M542 469.5h1M556 473.5h1M501 465.5h1M563 472.5h1M524 470.5h1M536 471.5h1M463 463.5h1M480 464.5h1M535 471.5h1M466 463.5h1M451 463.5h1M523 469.5h1M580 481.5h1M577 474.5h1M569 473.5h1M442 466.5h1M545 471.5h1M515 469.5h1M529 472.5h1M481 464.5h1M510 468.5h1M579 478.5h1M535 473.5h1M496 470.5h1M515 471.5h1M485 469.5h1M521 468.5h1M544 472.5h1M459 464.5h1M462 466.5h1M496 467.5h1M514 467.5h1M501 469.5h1M550 473.5h1M443 469.5h1M484 464.5h1M499 465.5h1M500 468.5h1M471 469.5h1M493 467.5h1M522 468.5h1M487 471.5h1M448 464.5h1M447 463.5h1M442 463.5h1M455 462.5h1M451 463.5h1M441 462.5h1M454 463.5h1M438 462.5h1M441 463.5h1M449 464.5h1M446 463.5h1M436 462.5h1M478 465.5h1M534 478.5h1M490 471.5h1M464 477.5h1M519 472.5h1M455 476.5h1M465 467.5h1M479 478.5h1M447 477.5h1M464 479.5h1M506 475.5h1M457 475.5h1M512 476.5h1M510 478.5h1M480 476.5h1M509 481.5h1M468 466.5h1M487 480.5h1M460 468.5h1M499 476.5h1M442 478.5h1M489 469.5h1M501 466.5h1M472 476.5h1M485 474.5h1M473 472.5h1M462 465.5h1M513 478.5h1M490 467.5h1M470 477.5h1M484 473.5h1M487 468.5h1M444 476.5h1M476 470.5h1M530 475.5h1M474 476.5h1M507 481.5h1M455 465.5h1M480 466.5h1M450 475.5h1M480 471.5h1M464 478.5h1M474 471.5h1M474 465.5h1M454 464.5h1M496 469.5h1M482 478.5h1M481 479.5h1M522 476.5h1M476 466.5h1M486 479.5h1M499 473.5h1M501 470.5h1M514 468.5h1M462 466.5h1M485 478.5h1M505 475.5h1M459 470.5h1M540 482.5h1M480 470.5h1M492 468.5h1M489 476.5h1M444 477.5h1M463 472.5h1M464 473.5h1M454 467.5h1M474 479.5h1M459 479.5h1M526 475.5h1M515 476.5h1M488 466.5h1M469 472.5h1M487 481.5h1M489 467.5h1M457 475.5h1M475 478.5h1M463 470.5h1M458 468.5h1M462 464.5h1M488 467.5h1M579 481.5h1M474 478.5h1M570 481.5h1M525 478.5h1M476 478.5h1M491 479.5h1M555 472.5h1M539 481.5h1M461 472.5h1M463 475.5h1M485 473.5h1M485 467.5h1M505 467.5h1M461 466.5h1M520 473.5h1M460 468.5h1M460 469.5h1M501 475.5h1M468 466.5h1M476 473.5h1M452 478.5h1M460 468.5h1M476 480.5h1M502 468.5h1M522 475.5h1M473 468.5h1M476 465.5h1M445 476.5h1M473 474.5h1M454 467.5h1M511 474.5h1M462 465.5h1M485 467.5h1M473 477.5h1M496 468.5h1M465 472.5h1M451 478.5h1M443 477.5h1M456 475.5h1M450 477.5h1M445 477.5h1M451 465.5h1M497 478.5h1M471 472.5h1M482 476.5h1M526 481.5h1M446 477.5h1M495 475.5h1M474 467.5h1M452 478.5h1M479 469.5h1M450 476.5h1M504 475.5h1M520 478.5h1M464 479.5h1M461 465.5h1M480 477.5h1M469 464.5h1M444 477.5h1M493 474.5h1M463 478.5h1M529 476.5h1M501 473.5h1M500 473.5h1M463 464.5h1M511 469.5h1M452 466.5h1M495 468.5h1M505 472.5h1M518 476.5h1M477 478.5h1M467 470.5h1M485 467.5h1M460 477.5h1M480 472.5h1M472 480.5h1M458 477.5h1M477 475.5h1M452 477.5h1M478 465.5h1M496 468.5h1M465 473.5h1M462 467.5h1M465 474.5h1M475 476.5h1M478 475.5h1M448 478.5h1M501 476.5h1M480 477.5h1M464 464.5h1M505 478.5h1M466 470.5h1M466 464.5h1M454 466.5h1M463 471.5h1M501 476.5h1M491 479.5h1M496 474.5h1M521 479.5h1M477 476.5h1M493 469.5h1M482 471.5h1M479 475.5h1M450 477.5h1M440 477.5h1M546 471.5h1M496 481.5h1M454 466.5h1M473 472.5h1M520 467.5h1M501 468.5h1M482 466.5h1M511 467.5h1M449 464.5h1M530 471.5h1M510 474.5h1M466 465.5h1M452 465.5h1M515 480.5h1M472 473.5h1M457 465.5h1M544 475.5h1M538 472.5h1M486 477.5h1M456 478.5h1M492 474.5h1M499 469.5h1M466 473.5h1M480 476.5h1M453 477.5h1M474 477.5h1M503 466.5h1M484 479.5h1M518 474.5h1M465 479.5h1M547 478.5h1M489 473.5h1M490 479.5h1M511 476.5h1M496 477.5h1M464 466.5h1M481 476.5h1M461 480.5h1M462 469.5h1M459 463.5h1M441 477.5h1M454 476.5h1M534 478.5h1M459 477.5h1M458 469.5h1M478 471.5h1M489 471.5h1M462 475.5h1M493 469.5h1M542 481.5h1M449 463.5h1M463 474.5h1M491 478.5h1M463 476.5h1M453 477.5h1M494 480.5h1M463 476.5h1M441 477.5h1M470 479.5h1M471 474.5h1M490 476.5h1M461 470.5h1M518 475.5h1M467 478.5h1M491 475.5h1M440 478.5h1M510 469.5h1M446 476.5h1M449 478.5h1M501 471.5h1M469 474.5h1M457 476.5h1M531 480.5h1M463 464.5h1M454 464.5h1M484 478.5h1M458 467.5h1M480 477.5h1M468 476.5h1M482 465.5h1M460 475.5h1M477 471.5h1M516 467.5h1M478 477.5h1M508 471.5h1M452 479.5h1M455 464.5h1M501 473.5h1M462 466.5h1M454 467.5h1M471 470.5h1M491 480.5h1M458 465.5h1M470 466.5h1M464 470.5h1M449 465.5h1M465 468.5h1M484 470.5h1M510 483.5h1M451 479.5h1M467 474.5h1M464 467.5h1M480 473.5h1M465 474.5h1M479 468.5h1M458 467.5h1M576 476.5h1M446 478.5h1M492 465.5h1M521 471.5h1M459 465.5h1M523 476.5h1M542 475.5h1M498 469.5h1M519 477.5h1M468 477.5h1M558 476.5h1M457 473.5h1M439 477.5h1M446 475.5h1M442 475.5h1M452 474.5h1M442 476.5h1M446 473.5h1M464 471.5h1M451 474.5h1M449 475.5h1M438 475.5h1M458 473.5h1M450 473.5h1M431 478.5h1M429 479.5h1M441 476.5h1M467 470.5h1M431 477.5h1M434 478.5h1M453 474.5h1M454 473.5h1M542 506.5h1M506 487.5h1M501 488.5h1M476 481.5h1M526 496.5h1M477 484.5h1M422 489.5h1M566 494.5h1M564 494.5h1M531 488.5h1M450 496.5h1M532 493.5h1M568 497.5h1M432 480.5h1M501 486.5h1M542 495.5h1M427 480.5h1M568 495.5h1M560 501.5h1M567 494.5h1M569 492.5h1M474 493.5h1M410 502.5h1M562 491.5h1M406 481.5h1M550 492.5h1M493 490.5h1M544 494.5h1M526 489.5h1M496 483.5h1M464 505.5h1M568 499.5h1M458 484.5h1M502 488.5h1M562 492.5h1M557 499.5h1M575 496.5h1M410 480.5h1M497 485.5h1M422 482.5h1M519 489.5h1M571 507.5h1M561 498.5h1M549 506.5h1M471 482.5h1M541 490.5h1M447 483.5h1M566 492.5h1M482 483.5h1M508 486.5h1M482 494.5h1M473 481.5h1M403 482.5h1M538 488.5h1M501 487.5h1M515 486.5h1M506 486.5h1M491 489.5h1M526 491.5h1M469 492.5h1M528 493.5h1M473 481.5h1M487 492.5h1M564 495.5h1M576 497.5h1M543 495.5h1M423 483.5h1M555 504.5h1M545 490.5h1M490 485.5h1M486 496.5h1M463 487.5h1M523 487.5h1M514 486.5h1M519 486.5h1M495 491.5h1M550 492.5h1M512 488.5h1M448 480.5h1M456 483.5h1M431 495.5h1M432 483.5h1M489 488.5h1M508 484.5h1M546 497.5h1M575 494.5h1M518 490.5h1M564 494.5h1M562 502.5h1M526 487.5h1M518 495.5h1M450 485.5h1M518 487.5h1M565 494.5h1M504 485.5h1M554 493.5h1M451 489.5h1M449 481.5h1M463 486.5h1M561 497.5h1M478 483.5h1M479 515.5h1M531 493.5h1M571 499.5h1M474 490.5h1M483 501.5h1M569 497.5h1M484 483.5h1M440 493.5h1M541 498.5h1M542 496.5h1M529 494.5h1M453 486.5h1M467 480.5h1M535 489.5h1M550 491.5h1M578 495.5h1M522 493.5h1M555 498.5h1M483 485.5h1M463 493.5h1M505 484.5h1M519 489.5h1M561 497.5h1M487 499.5h1M580 502.5h1M423 478.5h1M499 483.5h1M441 480.5h1M450 480.5h1M517 503.5h1M548 493.5h1M558 497.5h1M475 511.5h1M548 491.5h1M543 492.5h1M514 486.5h1M531 495.5h1M485 484.5h1M495 496.5h1M485 488.5h1M580 500.5h1M475 482.5h1M452 483.5h1M480 491.5h1M521 486.5h1M504 489.5h1M515 486.5h1M542 488.5h1M542 493.5h1M456 482.5h1M566 501.5h1M568 503.5h1M502 488.5h1M557 492.5h1M573 495.5h1M457 493.5h1M424 481.5h1M499 491.5h1M466 488.5h1M572 494.5h1M453 486.5h1M539 500.5h1M436 480.5h1M492 484.5h1M451 483.5h1M567 497.5h1M513 485.5h1M533 502.5h1M458 494.5h1M577 496.5h1M416 488.5h1M551 491.5h1M470 482.5h1M409 485.5h1M417 482.5h1M579 498.5h1M544 492.5h1M458 496.5h1M507 491.5h1M464 480.5h1M526 488.5h1M502 491.5h1M430 479.5h1M579 493.5h1M468 486.5h1M469 488.5h1M481 486.5h1M561 501.5h1M539 501.5h1M574 496.5h1M438 482.5h1M497 486.5h1M503 489.5h1M514 493.5h1M396 486.5h1M433 483.5h1M476 496.5h1M476 489.5h1M484 494.5h1M399 481.5h1M453 485.5h1M514 486.5h1M554 495.5h1M579 500.5h1M459 493.5h1M482 486.5h1M567 494.5h1M494 484.5h1M472 493.5h1M446 485.5h1M484 483.5h1M546 492.5h1M494 489.5h1M460 486.5h1M551 489.5h1M567 494.5h1M424 479.5h1M512 487.5h1M409 479.5h1M458 487.5h1M536 489.5h1M578 493.5h1M514 488.5h1M519 491.5h1M525 494.5h1M525 496.5h1M526 489.5h1M474 488.5h1M460 499.5h1M537 516.5h1M549 493.5h1M479 491.5h1M566 508.5h1M548 496.5h1M540 495.5h1M546 492.5h1M451 479.5h1M552 492.5h1M544 501.5h1M558 495.5h1M439 482.5h1M422 487.5h1M580 495.5h1M555 502.5h1M508 504.5h1M403 481.5h1M503 504.5h1M446 487.5h1M453 482.5h1M567 512.5h1M559 507.5h1M439 479.5h1M572 492.5h1M545 503.5h1M509 490.5h1M479 488.5h1M563 492.5h1M574 501.5h1M511 487.5h1M564 492.5h1M464 516.5h1M437 485.5h1M431 488.5h1M484 491.5h1M442 481.5h1M473 482.5h1M514 501.5h1M578 495.5h1M562 499.5h1M451 481.5h1M491 485.5h1M401 483.5h1M466 488.5h1M453 481.5h1M492 497.5h1M449 489.5h1M403 484.5h1M542 503.5h1M543 490.5h1M569 492.5h1M465 505.5h1M504 495.5h1M450 488.5h1M466 508.5h1M517 487.5h1M476 488.5h1M486 483.5h1M514 487.5h1M489 512.5h1M532 492.5h1M511 487.5h1M446 479.5h1M497 492.5h1M479 485.5h1M554 506.5h1M455 499.5h1M442 481.5h1M479 490.5h1M579 494.5h1M501 485.5h1M442 482.5h1M547 489.5h1M496 493.5h1M464 502.5h1M576 496.5h1M579 497.5h1M434 481.5h1M515 496.5h1M408 501.5h1M489 484.5h1M408 493.5h1M512 486.5h1M462 480.5h1M537 491.5h1M503 502.5h1M535 491.5h1M433 483.5h1M555 496.5h1M466 496.5h1M565 505.5h1M568 494.5h1M559 493.5h1M463 482.5h1M576 493.5h1M548 489.5h1M472 484.5h1M409 483.5h1M503 484.5h1M422 480.5h1M525 497.5h1M549 500.5h1M448 483.5h1M400 497.5h1M536 495.5h1M580 496.5h1M450 485.5h1M506 489.5h1M575 514.5h1M488 492.5h1M467 487.5h1M569 494.5h1M529 489.5h1M474 492.5h1M537 490.5h1M545 490.5h1M540 494.5h1M577 502.5h1M544 492.5h1M571 519.5h1M506 489.5h1M443 483.5h1M495 489.5h1M507 493.5h1M418 480.5h1M417 483.5h1M530 489.5h1M450 486.5h1M548 499.5h1M574 498.5h1M436 481.5h1M431 479.5h1M499 484.5h1M479 485.5h1M541 489.5h1M536 488.5h1M481 491.5h1M424 483.5h1M533 499.5h1M460 495.5h1M478 495.5h1M507 490.5h1M476 481.5h1M574 496.5h1M480 489.5h1M536 490.5h1M483 483.5h1M511 486.5h1M522 503.5h1M492 490.5h1M560 498.5h1M555 492.5h1M581 496.5h1M436 481.5h1M558 492.5h1M542 492.5h1M455 479.5h1M568 495.5h1M482 490.5h1M512 487.5h1M575 496.5h1M472 489.5h1M423 479.5h1M481 481.5h1M446 482.5h1M466 481.5h1M471 485.5h1M557 493.5h1M533 492.5h1M550 506.5h1M464 486.5h1M430 483.5h1M469 486.5h1M520 489.5h1M440 481.5h1M419 480.5h1M497 488.5h1M504 492.5h1M579 500.5h1M432 482.5h1M556 499.5h1M560 495.5h1M517 486.5h1M451 488.5h1M568 497.5h1M559 497.5h1M501 483.5h1M439 479.5h1M545 498.5h1M518 493.5h1M566 496.5h1M547 491.5h1M562 491.5h1M452 487.5h1M478 511.5h1M488 484.5h1M506 487.5h1M498 483.5h1M567 509.5h1M536 491.5h1M579 499.5h1M570 493.5h1M536 494.5h1M513 488.5h1M557 499.5h1M533 493.5h1M571 498.5h1M467 486.5h1M456 490.5h1M554 502.5h1M574 498.5h1M501 492.5h1M579 500.5h1M580 498.5h1M482 488.5h1M445 480.5h1M560 508.5h1M509 491.5h1M423 483.5h1M487 485.5h1M570 492.5h1M456 481.5h1M444 481.5h1M570 515.5h1M433 487.5h1M538 495.5h1M536 488.5h1M574 500.5h1M538 488.5h1M531 491.5h1M479 481.5h1M412 486.5h1M454 481.5h1M533 487.5h1M539 492.5h1M468 488.5h1M451 481.5h1M392 500.5h1M480 481.5h1M551 494.5h1M542 504.5h1M528 488.5h1M419 479.5h1M554 501.5h1M400 483.5h1M548 491.5h1M483 492.5h1M486 491.5h1M576 500.5h1M476 493.5h1M554 491.5h1M496 498.5h1M523 486.5h1M578 500.5h1M488 484.5h1M482 482.5h1M421 479.5h1M448 486.5h1M491 486.5h1M561 495.5h1M566 494.5h1M580 499.5h1M517 503.5h1M526 488.5h1M567 497.5h1M520 486.5h1M522 491.5h1M515 490.5h1M535 510.5h1M553 493.5h1M484 484.5h1M508 492.5h1M543 497.5h1M479 488.5h1M454 488.5h1M486 482.5h1M488 483.5h1M530 494.5h1M562 504.5h1M495 484.5h1M448 492.5h1M481 490.5h1M500 496.5h1M513 489.5h1M433 481.5h1M513 486.5h1M405 485.5h1M519 488.5h1M541 503.5h1M536 494.5h1M542 491.5h1M463 482.5h1M564 502.5h1M564 505.5h1M548 491.5h1M538 496.5h1M510 485.5h1M529 487.5h1M467 480.5h1M493 488.5h1M575 499.5h1M534 491.5h1M445 482.5h1M548 489.5h1M504 486.5h1M578 507.5h1M477 485.5h1M483 482.5h1M561 496.5h1M523 488.5h1M454 485.5h1M512 495.5h1M525 495.5h1M477 485.5h1M574 506.5h1M459 490.5h1M546 490.5h1M569 502.5h1M422 479.5h1M431 484.5h1M543 497.5h1M487 485.5h1M435 481.5h1M471 483.5h1M578 505.5h1M499 502.5h1M552 504.5h1M454 482.5h1M438 487.5h1M553 492.5h1M458 482.5h1M432 490.5h1M523 490.5h1M520 497.5h1M449 481.5h1M418 479.5h1M473 482.5h1M503 484.5h1M394 487.5h1M513 489.5h1M510 497.5h1M527 499.5h1M418 483.5h1M557 492.5h1M558 491.5h1M545 493.5h1M424 480.5h1M564 492.5h1M487 488.5h1M451 479.5h1M457 488.5h1M462 481.5h1M571 494.5h1M432 480.5h1M513 491.5h1M443 493.5h1M471 491.5h1M500 484.5h1M477 482.5h1M505 493.5h1M489 488.5h1M569 493.5h1M525 490.5h1M405 481.5h1M472 484.5h1M500 485.5h1M518 486.5h1M540 493.5h1M567 495.5h1M490 491.5h1M502 488.5h1M517 488.5h1M508 497.5h1M546 493.5h1M479 481.5h1M415 482.5h1M487 491.5h1M522 494.5h1M519 497.5h1M491 488.5h1M489 492.5h1M542 498.5h1M459 483.5h1M581 502.5h1M443 480.5h1M444 481.5h1M506 487.5h1M532 499.5h1M462 496.5h1M446 484.5h1M456 482.5h1M483 485.5h1M543 491.5h1M556 491.5h1M482 487.5h1M445 480.5h1M572 498.5h1M521 492.5h1M537 496.5h1M483 490.5h1M521 499.5h1M544 497.5h1M543 511.5h1M580 495.5h1M481 483.5h1M525 490.5h1M556 495.5h1M405 488.5h1M542 493.5h1M478 483.5h1M495 487.5h1M544 497.5h1M413 486.5h1M554 492.5h1M447 492.5h1M449 480.5h1M510 492.5h1M531 494.5h1M518 488.5h1M466 480.5h1M561 512.5h1M515 488.5h1M437 489.5h1M551 499.5h1M522 487.5h1M453 481.5h1M436 484.5h1M450 479.5h1M462 480.5h1M554 494.5h1M480 513.5h1M484 490.5h1M536 506.5h1M556 498.5h1M486 487.5h1M429 479.5h1M492 489.5h1M567 497.5h1M538 494.5h1M507 490.5h1M451 483.5h1M476 482.5h1M422 485.5h1M519 491.5h1M471 483.5h1M534 498.5h1M559 491.5h1M476 485.5h1M559 491.5h1M535 502.5h1M544 497.5h1M404 493.5h1M433 495.5h1M488 483.5h1M500 486.5h1M439 492.5h1M552 496.5h1M410 482.5h1M541 507.5h1M559 496.5h1M544 501.5h1M531 503.5h1M580 495.5h1M402 479.5h1M563 494.5h1M559 493.5h1M484 500.5h1M569 499.5h1M501 493.5h1M526 498.5h1M562 499.5h1M432 484.5h1M426 481.5h1M454 481.5h1M556 493.5h1M567 500.5h1M563 495.5h1M566 496.5h1M442 486.5h1M439 483.5h1M518 486.5h1M435 479.5h1M556 490.5h1M483 481.5h1M498 483.5h1M431 479.5h1M428 479.5h1M545 492.5h1M520 488.5h1M561 491.5h1M405 480.5h1M512 487.5h1M556 491.5h1M478 483.5h1M551 490.5h1M421 479.5h1M439 479.5h1M491 483.5h1M422 480.5h1M541 490.5h1M476 481.5h1M418 481.5h1M526 489.5h1M493 486.5h1M498 483.5h1M463 480.5h1M494 483.5h1M542 490.5h1M430 479.5h1M498 484.5h1M407 481.5h1M446 479.5h1M566 493.5h1M577 494.5h1M534 489.5h1M455 480.5h1M404 480.5h1M416 479.5h1M473 481.5h1M515 487.5h1M581 496.5h1M561 494.5h1M455 482.5h1M447 481.5h1M421 479.5h1M521 486.5h1M525 487.5h1M535 491.5h1M515 487.5h1M513 485.5h1M513 488.5h1M480 484.5h1M422 480.5h1M527 487.5h1M424 479.5h1M517 488.5h1M541 488.5h1M572 492.5h1M462 482.5h1M418 479.5h1M476 481.5h1M487 485.5h1M570 494.5h1M487 484.5h1M428 480.5h1M423 480.5h1M561 491.5h1M546 489.5h1M463 481.5h1M502 485.5h1M507 485.5h1M461 483.5h1M478 481.5h1M529 487.5h1M551 490.5h1M536 489.5h1M574 493.5h1M431 479.5h1M477 485.5h1M498 484.5h1M492 482.5h1M519 490.5h1M417 479.5h1M548 490.5h1M492 484.5h1M453 480.5h1M509 485.5h1M459 480.5h1M570 494.5h1M568 492.5h1M514 485.5h1M574 492.5h1M417 483.5h1M559 492.5h1M483 486.5h1M409 481.5h1M467 481.5h1M412 481.5h1M448 481.5h1M553 497.5h1M562 492.5h1M564 495.5h1M579 495.5h1M489 483.5h1M410 479.5h1M520 487.5h1M506 485.5h1M467 480.5h1M571 493.5h1M416 479.5h1M551 490.5h1M460 482.5h1M466 481.5h1M438 482.5h1M541 489.5h1M458 482.5h1M450 481.5h1M524 490.5h1M459 480.5h1M519 486.5h1M449 479.5h1M472 507.5h1M484 506.5h1M460 501.5h1M538 517.5h1M471 502.5h1M553 513.5h1M508 510.5h1M410 502.5h1M544 525.5h1M578 518.5h1M556 521.5h1M414 516.5h1M518 507.5h1M458 512.5h1M568 515.5h1M430 513.5h1M492 510.5h1M569 515.5h1M512 512.5h1M490 511.5h1M545 517.5h1M491 514.5h1M458 505.5h1M536 511.5h1M519 509.5h1M449 500.5h1M563 515.5h1M472 504.5h1M545 559.5h1M535 523.5h1M419 500.5h1M496 512.5h1M429 500.5h1M568 515.5h1M547 516.5h1M502 531.5h1M458 510.5h1M558 517.5h1M449 504.5h1M519 519.5h1M543 514.5h1M466 529.5h1M491 503.5h1M579 524.5h1M560 515.5h1M525 509.5h1M443 504.5h1M543 515.5h1M425 507.5h1M419 508.5h1M462 506.5h1M548 511.5h1M447 522.5h1M575 522.5h1M498 509.5h1M461 505.5h1M434 507.5h1M421 500.5h1M471 505.5h1M489 506.5h1M534 511.5h1M469 509.5h1M426 500.5h1M532 522.5h1M544 513.5h1M515 512.5h1M429 500.5h1M494 505.5h1M562 515.5h1M486 503.5h1M409 515.5h1M525 511.5h1M502 506.5h1M506 514.5h1M461 511.5h1M428 503.5h1M475 505.5h1M556 518.5h1M491 505.5h1M441 502.5h1M485 510.5h1M496 507.5h1M438 502.5h1M509 506.5h1M528 509.5h1M468 523.5h1M534 525.5h1M531 509.5h1M519 525.5h1M571 519.5h1M445 506.5h1M531 524.5h1M429 504.5h1M537 534.5h1M499 516.5h1M548 512.5h1M423 508.5h1M542 515.5h1M501 508.5h1M541 517.5h1M514 523.5h1M516 509.5h1M468 504.5h1M538 515.5h1M537 514.5h1M549 519.5h1M522 512.5h1M472 515.5h1M495 504.5h1M470 505.5h1M544 514.5h1M528 519.5h1M492 506.5h1M449 500.5h1M545 525.5h1M539 518.5h1M543 529.5h1M430 521.5h1M518 509.5h1M577 537.5h1M441 509.5h1M410 498.5h1M475 503.5h1M556 518.5h1M525 512.5h1M573 528.5h1M517 507.5h1M511 506.5h1M510 508.5h1M480 508.5h1M520 528.5h1M449 501.5h1M414 509.5h1M448 503.5h1M546 511.5h1M536 511.5h1M477 504.5h1M531 510.5h1M487 524.5h1M470 521.5h1M512 507.5h1M531 518.5h1M512 519.5h1M420 522.5h1M578 516.5h1M436 506.5h1M495 504.5h1M563 516.5h1M461 514.5h1M478 503.5h1M449 504.5h1M490 512.5h1M565 517.5h1M455 500.5h1M546 515.5h1M550 531.5h1M523 520.5h1M451 500.5h1M510 518.5h1M529 509.5h1M537 522.5h1M436 507.5h1M578 529.5h1M437 502.5h1M498 512.5h1M494 504.5h1M481 504.5h1M482 511.5h1M564 515.5h1M581 521.5h1M523 520.5h1M527 514.5h1M423 499.5h1M493 510.5h1M420 504.5h1M575 522.5h1M559 517.5h1M561 519.5h1M521 520.5h1M517 519.5h1M487 507.5h1M579 520.5h1M559 516.5h1M448 500.5h1M572 521.5h1M552 514.5h1M474 502.5h1M555 538.5h1M464 503.5h1M551 524.5h1M563 565.5h1M482 504.5h1M474 503.5h1M506 506.5h1M491 511.5h1M578 538.5h1M526 513.5h1M571 518.5h1M479 503.5h1M537 522.5h1M493 510.5h1M566 526.5h1M480 518.5h1M467 510.5h1M431 507.5h1M534 509.5h1M573 515.5h1M432 500.5h1M545 511.5h1M455 533.5h1M439 504.5h1M427 513.5h1M432 504.5h1M453 506.5h1M448 505.5h1M520 512.5h1M443 500.5h1M564 518.5h1M466 506.5h1M517 508.5h1M446 529.5h1M570 516.5h1M537 517.5h1M549 520.5h1M570 522.5h1M466 517.5h1M471 501.5h1M432 504.5h1M485 510.5h1M425 500.5h1M543 521.5h1M562 527.5h1M578 524.5h1M437 503.5h1M529 520.5h1M559 514.5h1M531 530.5h1M441 500.5h1M467 516.5h1M546 512.5h1M476 529.5h1M574 516.5h1M557 522.5h1M548 518.5h1M432 502.5h1M565 527.5h1M504 515.5h1M459 500.5h1M421 506.5h1M420 510.5h1M482 502.5h1M478 514.5h1M561 515.5h1M425 517.5h1M522 508.5h1M512 510.5h1M449 505.5h1M455 506.5h1M563 530.5h1M545 518.5h1M545 512.5h1M562 521.5h1M538 512.5h1M440 501.5h1M475 513.5h1M454 502.5h1M528 509.5h1M499 509.5h1M555 513.5h1M498 510.5h1M540 522.5h1M538 519.5h1M577 517.5h1M525 516.5h1M531 516.5h1M537 512.5h1M565 520.5h1M570 534.5h1M546 518.5h1M511 510.5h1M470 504.5h1M558 524.5h1M503 506.5h1M549 511.5h1M476 505.5h1M560 514.5h1M506 506.5h1M503 511.5h1M538 517.5h1M565 526.5h1M412 499.5h1M446 502.5h1M423 503.5h1M465 509.5h1M475 505.5h1M514 506.5h1M471 504.5h1M437 500.5h1M508 507.5h1M578 533.5h1M422 503.5h1M481 521.5h1M489 509.5h1M493 505.5h1M574 531.5h1M463 519.5h1M466 513.5h1M542 511.5h1M422 506.5h1M498 510.5h1M525 531.5h1M550 523.5h1M504 506.5h1M412 510.5h1M484 511.5h1M470 503.5h1M481 516.5h1M483 503.5h1M486 507.5h1M544 512.5h1M457 507.5h1M482 508.5h1M458 505.5h1M580 533.5h1M416 505.5h1M519 511.5h1M420 499.5h1M542 511.5h1M573 521.5h1M413 502.5h1M550 515.5h1M542 517.5h1M573 523.5h1M527 513.5h1M494 518.5h1M463 506.5h1M566 554.5h1M577 516.5h1M425 502.5h1M494 504.5h1M559 531.5h1M428 523.5h1M466 507.5h1M570 524.5h1M447 500.5h1M486 508.5h1M533 510.5h1M575 516.5h1M446 499.5h1M453 502.5h1M509 507.5h1M427 499.5h1M554 514.5h1M459 501.5h1M452 515.5h1M576 518.5h1M512 506.5h1M474 511.5h1M559 522.5h1M576 519.5h1M441 501.5h1M559 514.5h1M430 504.5h1M566 516.5h1M422 503.5h1M559 515.5h1M560 518.5h1M501 509.5h1M569 529.5h1M454 505.5h1M467 507.5h1M505 505.5h1M571 530.5h1M581 524.5h1M507 505.5h1M436 507.5h1M484 504.5h1M421 499.5h1M546 513.5h1M549 514.5h1M560 516.5h1M562 516.5h1M549 546.5h1M536 541.5h1M472 537.5h1M560 518.5h1M561 531.5h1M380 487.5h1M513 532.5h1M550 541.5h1M538 575.5h1M523 497.5h1M558 505.5h1M553 516.5h1M539 513.5h1M449 579.5h1M455 494.5h1M579 525.5h1M523 512.5h1M459 512.5h1M470 519.5h1M577 588.5h1M474 497.5h1M548 535.5h1M498 516.5h1M569 555.5h1M530 498.5h1M522 525.5h1M568 609.5h1M518 533.5h1M466 587.5h1M568 531.5h1M520 521.5h1M486 518.5h1M533 522.5h1M566 540.5h1M524 504.5h1M494 546.5h1M496 558.5h1M470 538.5h1M450 536.5h1M495 506.5h1M486 495.5h1M496 521.5h1M490 516.5h1M510 502.5h1M460 544.5h1M539 501.5h1M467 495.5h1M577 544.5h1M512 503.5h1M516 522.5h1M555 533.5h1M441 523.5h1M435 490.5h1M529 509.5h1M512 584.5h1M560 601.5h1M482 560.5h1M417 534.5h1M513 516.5h1M398 492.5h1M460 571.5h1M514 496.5h1M529 554.5h1M468 494.5h1M576 520.5h1M541 513.5h1M512 509.5h1M503 496.5h1M429 511.5h1M536 542.5h1M526 550.5h1M558 530.5h1M503 510.5h1M425 498.5h1M575 580.5h1M479 545.5h1M579 562.5h1M427 520.5h1M536 527.5h1M517 506.5h1M567 511.5h1M463 508.5h1M517 509.5h1M553 524.5h1M487 516.5h1M451 586.5h1M506 508.5h1M458 552.5h1M474 547.5h1M581 534.5h1M497 496.5h1M548 550.5h1M510 496.5h1M392 494.5h1M422 495.5h1M475 553.5h1M457 493.5h1M494 499.5h1M569 523.5h1M505 608.5h1M534 559.5h1M444 523.5h1M387 490.5h1M455 532.5h1M528 531.5h1M531 535.5h1M416 529.5h1M404 522.5h1M475 510.5h1M571 517.5h1M554 555.5h1M421 519.5h1M481 518.5h1M484 506.5h1M447 500.5h1M536 531.5h1M535 527.5h1M554 509.5h1M510 503.5h1M540 572.5h1M569 607.5h1M581 584.5h1M433 570.5h1M468 518.5h1M472 532.5h1M491 503.5h1M564 524.5h1M550 548.5h1M522 501.5h1M553 594.5h1M522 558.5h1M548 519.5h1M403 486.5h1M449 548.5h1M562 535.5h1M548 534.5h1M501 568.5h1M530 504.5h1M524 496.5h1M526 556.5h1M574 569.5h1M531 536.5h1M484 496.5h1M500 550.5h1M554 612.5h1M484 613.5h1M483 538.5h1M428 513.5h1M517 577.5h1M524 518.5h1M502 509.5h1M560 611.5h1M482 508.5h1M521 550.5h1M492 565.5h1M548 583.5h1M559 521.5h1M464 513.5h1M558 501.5h1M564 551.5h1M450 521.5h1M479 495.5h1M485 492.5h1M515 534.5h1M579 603.5h1M476 519.5h1M548 512.5h1M476 510.5h1M450 525.5h1M451 491.5h1M411 487.5h1M491 554.5h1M521 562.5h1M422 492.5h1M457 491.5h1M433 489.5h1M548 533.5h1M569 548.5h1M541 512.5h1M496 497.5h1M506 552.5h1M449 498.5h1M497 494.5h1M446 525.5h1M486 497.5h1M457 518.5h1M474 570.5h1M494 522.5h1M559 534.5h1M533 517.5h1M514 516.5h1M542 579.5h1M437 528.5h1M548 606.5h1M483 511.5h1M563 538.5h1M554 506.5h1M540 554.5h1M528 600.5h1M536 519.5h1M439 502.5h1M453 566.5h1M562 506.5h1M542 525.5h1M577 564.5h1M581 530.5h1M407 498.5h1M537 502.5h1M578 504.5h1M433 492.5h1M459 526.5h1M536 543.5h1M453 515.5h1M532 513.5h1M497 497.5h1M508 530.5h1M525 500.5h1M452 491.5h1M573 558.5h1M514 567.5h1M399 499.5h1M477 494.5h1M528 526.5h1M535 513.5h1M505 504.5h1M571 580.5h1M484 522.5h1M411 576.5h1M548 528.5h1M422 516.5h1M419 488.5h1M516 539.5h1M576 594.5h1M539 530.5h1M520 505.5h1M478 524.5h1M530 502.5h1M489 546.5h1M460 521.5h1M496 503.5h1M430 506.5h1M548 510.5h1M475 551.5h1M574 572.5h1M432 489.5h1M522 498.5h1M501 559.5h1M395 488.5h1M501 545.5h1M490 536.5h1M474 555.5h1M558 528.5h1M530 514.5h1M569 557.5h1M509 501.5h1M398 499.5h1M533 514.5h1M561 508.5h1M440 498.5h1M560 511.5h1M373 489.5h1M512 512.5h1M479 527.5h1M462 496.5h1M511 578.5h1M475 527.5h1M539 522.5h1M550 565.5h1M544 536.5h1M571 516.5h1M489 578.5h1M554 510.5h1M521 534.5h1M402 485.5h1M478 560.5h1M527 616.5h1M565 505.5h1M511 559.5h1M523 578.5h1M550 503.5h1M488 496.5h1M526 534.5h1M551 565.5h1M553 550.5h1M446 490.5h1M527 610.5h1M550 512.5h1M564 563.5h1M456 496.5h1M521 584.5h1M567 529.5h1M523 496.5h1M554 510.5h1M494 509.5h1M522 535.5h1M578 516.5h1M536 568.5h1M441 495.5h1M548 505.5h1M572 505.5h1M429 497.5h1M500 525.5h1M500 509.5h1M556 549.5h1M530 509.5h1M513 505.5h1M513 498.5h1M421 512.5h1M463 522.5h1M503 555.5h1M531 578.5h1M525 539.5h1M444 492.5h1M482 500.5h1M557 535.5h1M493 534.5h1M552 517.5h1M484 498.5h1M423 520.5h1M568 543.5h1M533 562.5h1M489 519.5h1M516 531.5h1M540 516.5h1M562 526.5h1M414 510.5h1M532 539.5h1M573 532.5h1M481 501.5h1M524 516.5h1M526 521.5h1M520 567.5h1M519 517.5h1M535 586.5h1M478 497.5h1M504 571.5h1M526 535.5h1M398 517.5h1M575 595.5h1M529 511.5h1M567 527.5h1M520 507.5h1M515 502.5h1M491 512.5h1M546 520.5h1M516 557.5h1M568 525.5h1M502 502.5h1M472 504.5h1M516 615.5h1" stroke="#f9efea" stroke-width="1" fill="none"/>
<path d="M412 503.5h1M365 500.5h1M379 504.5h1M403 497.5h1M435 506.5h1M399 502.5h1M422 503.5h1M369 500.5h1M382 502.5h1M456 465.5h1M455 465.5h1M445 465.5h1M439 464.5h1M453 464.5h1M446 463.5h1M445 462.5h1M453 463.5h1M450 463.5h1M435 462.5h1M441 462.5h1M435 463.5h1M450 462.5h1M450 462.5h1M439 462.5h1M455 464.5h1M454 464.5h1M453 463.5h1M438 463.5h1M446 462.5h1M443 462.5h1M438 462.5h1M437 464.5h1M450 463.5h1M445 463.5h1M455 464.5h1M447 464.5h1M443 462.5h1M434 462.5h1M455 464.5h1M439 463.5h1M440 462.5h1M440 462.5h1M454 463.5h1M440 463.5h1M455 463.5h1M453 462.5h1M440 462.5h1M465 472.5h1M447 475.5h1M429 477.5h1M454 473.5h1M456 473.5h1M437 477.5h1M434 477.5h1M429 477.5h1M442 476.5h1M453 473.5h1M466 471.5h1M440 475.5h1M459 473.5h1M467 471.5h1M438 476.5h1M454 474.5h1M433 477.5h1M455 474.5h1M449 476.5h1M467 471.5h1M443 474.5h1M446 475.5h1M448 473.5h1M457 472.5h1M481 484.5h1M457 490.5h1M543 494.5h1M471 485.5h1M507 488.5h1M530 489.5h1M492 488.5h1M521 496.5h1M491 483.5h1M454 493.5h1M551 494.5h1M497 489.5h1M574 502.5h1M562 497.5h1M532 506.5h1M522 486.5h1M472 481.5h1M571 501.5h1M537 491.5h1M472 487.5h1M489 496.5h1M409 482.5h1M548 491.5h1M537 498.5h1M547 490.5h1M396 479.5h1M580 512.5h1M539 499.5h1M481 485.5h1M575 505.5h1M489 482.5h1M573 493.5h1M519 496.5h1M463 490.5h1M447 482.5h1M551 495.5h1M521 488.5h1M481 486.5h1M488 483.5h1M429 512.5h1M522 492.5h1M535 489.5h1M576 493.5h1M538 493.5h1M457 480.5h1M488 491.5h1M472 485.5h1M398 487.5h1M470 489.5h1M469 481.5h1M537 492.5h1M568 495.5h1M579 495.5h1M467 483.5h1M475 486.5h1M448 483.5h1M578 502.5h1M560 495.5h1M570 492.5h1M558 495.5h1M421 483.5h1M546 492.5h1M470 485.5h1M469 484.5h1M470 481.5h1M556 498.5h1M474 481.5h1M467 481.5h1M393 480.5h1M561 492.5h1M452 484.5h1M443 483.5h1M489 486.5h1M494 495.5h1M559 491.5h1M447 485.5h1M466 490.5h1M519 496.5h1M395 480.5h1M484 486.5h1M525 491.5h1M419 489.5h1M402 481.5h1M557 500.5h1M410 481.5h1M493 488.5h1M504 488.5h1M573 493.5h1M580 499.5h1M456 484.5h1M442 480.5h1M545 493.5h1M524 487.5h1M472 486.5h1M457 488.5h1M581 501.5h1M479 493.5h1M505 502.5h1M525 489.5h1M564 494.5h1M434 490.5h1M570 493.5h1M453 482.5h1M571 496.5h1M496 484.5h1M418 483.5h1M535 500.5h1M494 490.5h1M474 488.5h1M564 496.5h1M522 490.5h1M578 496.5h1M567 506.5h1M540 492.5h1M463 483.5h1M432 489.5h1M497 487.5h1M566 497.5h1M422 480.5h1M528 490.5h1M548 495.5h1M484 485.5h1M535 490.5h1M402 479.5h1M545 490.5h1M518 488.5h1M486 483.5h1M569 494.5h1M520 495.5h1M548 491.5h1M549 492.5h1M461 491.5h1M457 481.5h1M568 493.5h1M537 498.5h1M507 496.5h1M467 481.5h1M426 479.5h1M549 494.5h1M579 496.5h1M409 490.5h1M572 494.5h1M565 493.5h1M511 486.5h1M406 480.5h1M554 492.5h1M569 492.5h1M513 490.5h1M579 495.5h1M424 491.5h1M529 490.5h1M520 491.5h1M486 483.5h1M420 483.5h1M530 487.5h1M466 481.5h1M488 484.5h1M499 484.5h1M528 487.5h1M459 481.5h1M397 479.5h1M407 480.5h1M525 488.5h1M562 491.5h1M442 481.5h1M471 490.5h1M543 489.5h1M446 479.5h1M486 484.5h1M525 486.5h1M530 487.5h1M539 489.5h1M511 485.5h1M460 485.5h1M529 489.5h1M495 483.5h1M571 493.5h1M576 495.5h1M543 490.5h1M571 494.5h1M552 490.5h1M563 491.5h1M520 487.5h1M497 485.5h1M531 489.5h1M428 479.5h1M435 481.5h1M468 481.5h1M453 482.5h1M516 487.5h1M430 480.5h1M399 480.5h1M545 489.5h1M516 488.5h1M477 485.5h1M535 489.5h1M558 491.5h1M469 481.5h1M456 483.5h1M421 482.5h1M493 483.5h1M561 513.5h1M439 505.5h1M576 526.5h1M543 522.5h1M407 500.5h1M429 500.5h1M536 512.5h1M489 504.5h1M417 499.5h1M513 513.5h1M574 520.5h1M547 514.5h1M549 518.5h1M564 529.5h1M515 508.5h1M553 512.5h1M551 521.5h1M466 501.5h1M462 504.5h1M450 501.5h1M551 512.5h1M558 525.5h1M517 536.5h1M466 503.5h1M510 509.5h1M568 521.5h1M494 508.5h1M575 518.5h1M475 505.5h1M473 506.5h1M483 502.5h1M507 506.5h1M508 506.5h1M550 512.5h1M457 505.5h1M531 512.5h1M548 515.5h1M536 516.5h1M532 530.5h1M579 522.5h1M450 517.5h1M466 503.5h1M568 530.5h1M453 502.5h1M512 506.5h1M509 507.5h1M455 508.5h1M512 509.5h1M561 515.5h1M515 511.5h1M471 501.5h1M424 507.5h1M540 513.5h1M467 505.5h1M511 540.5h1M527 508.5h1M492 508.5h1M453 506.5h1M575 519.5h1M474 503.5h1M572 521.5h1M427 510.5h1M503 507.5h1M484 464.5h1M569 472.5h1M486 463.5h1M547 469.5h1M472 463.5h1M511 466.5h1M546 469.5h1M536 468.5h1M517 467.5h1M513 466.5h1M546 469.5h1M456 462.5h1M552 470.5h1M457 462.5h1M516 466.5h1M566 472.5h1M460 463.5h1M551 469.5h1M528 467.5h1M577 474.5h1M500 465.5h1M531 468.5h1M563 472.5h1M488 464.5h1M530 468.5h1M527 467.5h1M443 461.5h1M480 464.5h1M518 466.5h1M455 462.5h1M547 470.5h1M441 461.5h1M459 462.5h1M505 465.5h1M492 465.5h1M472 463.5h1M539 468.5h1M508 465.5h1M448 462.5h1M522 486.5h1M428 479.5h1M505 484.5h1M573 493.5h1M499 483.5h1M567 492.5h1M514 484.5h1M523 485.5h1M500 483.5h1M483 481.5h1M513 484.5h1M475 480.5h1M530 487.5h1M553 490.5h1M548 489.5h1M494 482.5h1M481 481.5h1M463 480.5h1M428 478.5h1M551 490.5h1M528 487.5h1M486 482.5h1M478 481.5h1M458 480.5h1M483 481.5h1M532 487.5h1M412 478.5h1M458 479.5h1M562 490.5h1M518 486.5h1M495 483.5h1M579 493.5h1M450 478.5h1M495 483.5h1M562 491.5h1M455 480.5h1M486 482.5h1M457 479.5h1M438 478.5h1M513 485.5h1M551 490.5h1M539 488.5h1M563 491.5h1M415 479.5h1M545 488.5h1M485 481.5h1M446 479.5h1M554 490.5h1M420 478.5h1M533 487.5h1M407 478.5h1M452 479.5h1M460 480.5h1M571 493.5h1M489 482.5h1M401 478.5h1M545 489.5h1M564 491.5h1M491 482.5h1M393 480.5h1M440 478.5h1M427 478.5h1M443 479.5h1M507 484.5h1M482 502.5h1M503 505.5h1M511 505.5h1M409 498.5h1M475 502.5h1M542 511.5h1M438 499.5h1M538 510.5h1M466 501.5h1M554 512.5h1M459 500.5h1M474 502.5h1M547 511.5h1M440 499.5h1M500 504.5h1M455 499.5h1M479 503.5h1M565 515.5h1M567 514.5h1M579 516.5h1M461 500.5h1M510 505.5h1M516 506.5h1M438 498.5h1M531 508.5h1M495 503.5h1M526 508.5h1M471 502.5h1M473 502.5h1M526 508.5h1M490 502.5h1M573 516.5h1M541 510.5h1M428 499.5h1M439 499.5h1M570 515.5h1M437 497.5h1M424 498.5h1M419 498.5h1M523 508.5h1M532 509.5h1M561 514.5h1M547 511.5h1M468 500.5h1M458 500.5h1M524 507.5h1M411 498.5h1M453 500.5h1M402 498.5h1M494 504.5h1M575 516.5h1M556 513.5h1M556 511.5h1M562 512.5h1M570 514.5h1M568 517.5h1M561 513.5h1M567 513.5h1M573 521.5h1M561 518.5h1M543 513.5h1M571 519.5h1M567 518.5h1M543 513.5h1M537 512.5h1M579 519.5h1M567 519.5h1M469 536.5h1M515 541.5h1M462 531.5h1M525 543.5h1M499 536.5h1M558 546.5h1M542 545.5h1M529 541.5h1M445 488.5h1M545 581.5h1M580 582.5h1M565 591.5h1M548 527.5h1M574 557.5h1M576 562.5h1M504 510.5h1M511 511.5h1M514 498.5h1M536 547.5h1M467 506.5h1M557 509.5h1M512 567.5h1M458 509.5h1M454 515.5h1M493 580.5h1M401 486.5h1M449 517.5h1M578 524.5h1M539 581.5h1M493 521.5h1M554 537.5h1M486 561.5h1M460 558.5h1M540 499.5h1M407 580.5h1M450 499.5h1M549 544.5h1M562 583.5h1M545 512.5h1M409 529.5h1M553 523.5h1M555 532.5h1M538 538.5h1M552 511.5h1M580 590.5h1M551 597.5h1M554 605.5h1M465 555.5h1M379 487.5h1M525 601.5h1M407 516.5h1M573 540.5h1M508 567.5h1M570 504.5h1M492 499.5h1M548 517.5h1M423 508.5h1M554 552.5h1M568 516.5h1M450 511.5h1M565 599.5h1M557 525.5h1M541 529.5h1M568 512.5h1M567 551.5h1M577 519.5h1M523 505.5h1M501 538.5h1M501 522.5h1M487 498.5h1M566 518.5h1M434 489.5h1M466 564.5h1M510 525.5h1M510 503.5h1M566 543.5h1M558 511.5h1M534 521.5h1M566 549.5h1M452 511.5h1M479 538.5h1M469 490.5h1M521 512.5h1M483 539.5h1M517 565.5h1M528 526.5h1M527 527.5h1M463 514.5h1M472 490.5h1M543 589.5h1M548 519.5h1M563 551.5h1M566 506.5h1M434 510.5h1M528 617.5h1M448 497.5h1M534 508.5h1M545 510.5h1M454 539.5h1M531 566.5h1M572 518.5h1M518 517.5h1M562 512.5h1M410 531.5h1M494 555.5h1M502 497.5h1M498 513.5h1M503 538.5h1M486 514.5h1M383 545.5h1M578 580.5h1M548 518.5h1M559 530.5h1" stroke="#fbe8dd" stroke-width="1" fill="none"/>
<path d="M434 462.5h1M455 463.5h1M437 463.5h1M437 462.5h1M440 464.5h1M435 461.5h1M450 463.5h1M441 463.5h1M456 463.5h1M439 464.5h1M434 462.5h1M480 463.5h1M490 464.5h1M488 464.5h1M572 473.5h1M501 465.5h1M480 463.5h1M517 466.5h1M445 462.5h1M556 470.5h1M574 473.5h1M488 464.5h1M490 464.5h1M542 469.5h1M503 465.5h1M559 470.5h1M562 472.5h1M558 470.5h1M537 469.5h1M493 464.5h1M549 470.5h1M463 463.5h1M515 467.5h1M556 471.5h1M517 466.5h1M486 464.5h1M528 467.5h1M513 466.5h1M510 466.5h1M551 470.5h1M519 466.5h1M490 464.5h1M458 462.5h1M555 470.5h1M509 466.5h1M511 466.5h1M550 469.5h1M488 464.5h1M512 466.5h1M470 463.5h1M513 466.5h1M493 464.5h1M481 463.5h1M537 468.5h1M484 463.5h1M496 464.5h1M465 463.5h1M527 468.5h1M514 466.5h1M499 464.5h1M438 461.5h1M456 463.5h1M508 465.5h1M565 472.5h1M576 473.5h1M485 464.5h1M492 464.5h1M525 467.5h1M517 466.5h1M555 470.5h1M517 466.5h1M506 466.5h1M532 487.5h1M556 490.5h1M402 479.5h1M511 484.5h1M566 491.5h1M495 483.5h1M442 478.5h1M496 483.5h1M495 482.5h1M393 480.5h1M533 487.5h1M537 488.5h1M536 487.5h1M500 483.5h1M548 488.5h1M524 486.5h1M571 491.5h1M539 488.5h1M527 486.5h1M428 479.5h1M459 479.5h1M458 479.5h1M459 480.5h1M550 489.5h1M477 480.5h1M455 479.5h1M502 483.5h1M436 478.5h1M572 492.5h1M501 483.5h1M531 488.5h1M564 491.5h1M520 485.5h1M523 486.5h1M574 492.5h1M541 488.5h1M496 483.5h1M506 483.5h1M572 492.5h1M483 482.5h1M549 489.5h1M501 483.5h1M576 494.5h1M477 481.5h1M573 493.5h1M498 483.5h1M463 480.5h1M456 479.5h1M548 489.5h1M442 479.5h1M485 481.5h1M439 479.5h1M553 512.5h1M420 499.5h1M416 498.5h1M558 511.5h1M522 508.5h1M531 508.5h1M571 515.5h1M571 516.5h1M494 502.5h1M440 498.5h1M508 505.5h1M497 505.5h1M421 498.5h1M528 508.5h1M543 510.5h1M570 516.5h1M568 514.5h1M557 512.5h1M555 512.5h1M577 516.5h1M560 513.5h1M577 516.5h1M558 512.5h1M565 514.5h1M562 513.5h1M561 514.5h1M568 514.5h1M569 515.5h1M563 514.5h1M560 513.5h1M578 517.5h1M568 515.5h1M560 514.5h1M573 513.5h1M557 514.5h1M528 516.5h1M455 524.5h1M415 490.5h1M417 514.5h1M551 599.5h1M514 497.5h1M444 504.5h1M416 506.5h1M555 551.5h1M460 524.5h1M459 489.5h1M577 536.5h1M515 549.5h1M552 536.5h1M476 520.5h1M578 587.5h1M361 489.5h1M573 573.5h1M508 496.5h1M569 550.5h1M489 497.5h1M519 577.5h1M560 520.5h1M404 497.5h1M485 577.5h1M400 565.5h1M449 529.5h1M433 497.5h1M409 494.5h1M514 515.5h1M442 600.5h1M503 590.5h1M566 506.5h1M467 490.5h1M572 545.5h1M547 521.5h1M448 548.5h1M490 531.5h1M506 517.5h1M490 505.5h1M525 560.5h1M423 490.5h1M490 569.5h1M526 535.5h1M430 494.5h1M566 555.5h1M540 510.5h1M516 506.5h1M555 505.5h1M576 506.5h1M500 495.5h1M519 530.5h1M455 504.5h1M433 568.5h1M529 556.5h1M470 525.5h1M572 520.5h1M548 521.5h1M402 530.5h1M527 526.5h1M485 522.5h1M564 524.5h1M549 573.5h1M525 507.5h1M495 585.5h1M434 565.5h1M556 522.5h1M480 513.5h1M538 589.5h1M471 505.5h1M414 492.5h1M538 572.5h1M358 484.5h1M472 495.5h1M539 508.5h1M563 553.5h1M442 522.5h1M426 493.5h1M492 509.5h1M460 506.5h1M441 572.5h1M526 603.5h1" stroke="#fddbc7" stroke-width="1" fill="none"/>
<path d="M577 581.5h1M520 529.5h1M553 532.5h1M504 522.5h1M525 557.5h1M498 527.5h1M536 514.5h1M559 593.5h1M445 517.5h1M512 507.5h1M433 489.5h1M434 530.5h1M563 544.5h1M474 519.5h1M452 491.5h1M502 509.5h1M558 508.5h1M545 557.5h1M477 493.5h1M536 506.5h1M561 534.5h1M556 530.5h1M564 611.5h1M501 539.5h1M533 526.5h1M566 560.5h1M575 517.5h1M527 518.5h1M567 591.5h1M487 604.5h1M555 592.5h1M428 542.5h1M538 501.5h1M446 509.5h1" stroke="#f9c4a8" stroke-width="1" fill="none"/>
<path d="M90.00 620.85v7.3M114.66 620.85v4.2M139.32 620.85v4.2M163.98 620.85v4.2M188.64 620.85v4.2M213.30 620.85v7.3M237.96 620.85v4.2M262.62 620.85v4.2M287.28 620.85v4.2M311.94 620.85v4.2M336.60 620.85v7.3M361.26 620.85v4.2M385.92 620.85v4.2M410.58 620.85v4.2M435.24 620.85v4.2M459.90 620.85v7.3M484.56 620.85v4.2M509.22 620.85v4.2M533.88 620.85v4.2M558.54 620.85v4.2M583.20 620.85v7.3M90.00 599.60h-4.2M90.00 575.00h-7.3M90.00 550.40h-4.2M90.00 525.80h-4.2M90.00 501.20h-4.2M90.00 476.60h-4.2M90.00 452.00h-7.3M90.00 427.40h-4.2" stroke="#000" stroke-width="1.60" fill="none"/>
<rect x="90.00" y="423.00" width="493.20" height="197.85" fill="none" stroke="#000" stroke-width="1.75"/>
<rect x="590.40" y="423.00" width="24.70" height="197.85" fill="url(#rdbu)" stroke="#000" stroke-width="1.75"/>
<rect x="615.60" y="451.47" width="6.5" height="5.10" fill="#2e2e2e"/>
<rect x="615.60" y="458.37" width="6.5" height="2.80" fill="#2e2e2e"/>
<rect x="615.60" y="584.61" width="6.5" height="1.60" fill="#111"/>
<rect x="615.60" y="587.01" width="6.5" height="5.37" fill="#2e2e2e"/>
<path d="M615.10 494.02h7M615.10 481.43h7M615.10 474.07h7M615.10 468.85h7M615.10 464.80h7M615.10 461.49h7M615.10 439.63h7M615.10 432.27h7M615.10 427.05h7M615.10 423.00h7M615.10 549.83h7M615.10 562.42h7M615.10 569.78h7M615.10 575.00h7M615.10 579.05h7M615.10 582.36h7M615.10 604.22h7M615.10 611.58h7M615.10 616.80h7M615.10 620.85h7M615.10 521.92h7" stroke="#000" stroke-width="1.60" fill="none"/>
<text><tspan x="628.70" y="461.30" font-size="25.00">10</tspan><tspan x="651.20" y="451.70" font-size="18.20">15</tspan></text>
<text><tspan x="628.70" y="502.60" font-size="25.00">10</tspan><tspan x="651.20" y="493.00" font-size="18.20">14</tspan></text>
<text><tspan x="629.65" y="531.10" font-size="25.00">0</tspan></text>
<text><tspan x="628.49" y="561.60" font-size="25.00" textLength="18.18" lengthAdjust="spacingAndGlyphs">−</tspan><tspan x="647.90" y="561.60" font-size="25.00">10</tspan><tspan x="671.70" y="551.60" font-size="18.20">14</tspan></text>
<text><tspan x="628.49" y="602.60" font-size="25.00" textLength="18.18" lengthAdjust="spacingAndGlyphs">−</tspan><tspan x="647.90" y="602.60" font-size="25.00">10</tspan><tspan x="671.70" y="592.60" font-size="18.20">15</tspan></text>
<text transform="translate(723 615.00) rotate(-90)"><tspan x="-1.00" y="0.00" font-size="25.00" textLength="103.10" lengthAdjust="spacingAndGlyphs">Current/Jy</tspan> <tspan x="111.14" y="0.00" font-size="25.00">[</tspan><tspan x="119.46" y="0.00" font-size="25.00">A</tspan><tspan x="138.40" y="5.00" font-size="36.20" textLength="9.30" lengthAdjust="spacingAndGlyphs">/</tspan><tspan x="148.48" y="0.00" font-size="25.00">m</tspan><tspan x="167.60" y="-10.60" font-size="18.20">2</tspan><tspan x="178.00" y="0.00" font-size="25.00">]</tspan></text>
<text><tspan x="66.36" y="656.10" font-size="25.00" textLength="18.54" lengthAdjust="spacingAndGlyphs">−</tspan><tspan x="85.80" y="656.10" font-size="25.00">10</tspan></text>
<text><tspan x="195.81" y="656.10" font-size="25.00" textLength="18.06" lengthAdjust="spacingAndGlyphs">−</tspan><tspan x="214.05" y="656.10" font-size="25.00">5</tspan></text>
<text><tspan x="329.05" y="654.20" font-size="25.00">0</tspan></text>
<text><tspan x="452.45" y="654.20" font-size="25.00">5</tspan></text>
<text><tspan x="568.40" y="654.20" font-size="25.00">10</tspan></text>
<text><tspan x="49.35" y="460.80" font-size="25.00">75</tspan></text>
<text><tspan x="49.35" y="584.50" font-size="25.00">70</tspan></text>
<text><tspan x="301.39" y="686.00" font-size="25.00">y</tspan> <tspan x="320.14" y="686.00" font-size="25.00">[</tspan><tspan x="329.33" y="686.00" font-size="25.00" font-style="italic" textLength="14.43" lengthAdjust="spacingAndGlyphs">μ</tspan><tspan x="344.78" y="686.00" font-size="25.00">m</tspan><tspan x="365.10" y="686.00" font-size="25.00">]</tspan></text>
<text transform="translate(35.8 556.50) rotate(-90)"><tspan x="-0.22" y="0.00" font-size="25.00">x</tspan> <tspan x="18.54" y="0.00" font-size="25.00">[</tspan><tspan x="27.43" y="0.00" font-size="25.00" font-style="italic" textLength="14.53" lengthAdjust="spacingAndGlyphs">μ</tspan><tspan x="43.48" y="0.00" font-size="25.00">m</tspan><tspan x="63.90" y="0.00" font-size="25.00">]</tspan></text>
<text><tspan x="230.91" y="410.50" font-size="30.00">transverse</tspan> <tspan x="357.56" y="410.50" font-size="30.00">current</tspan></text>
</g>
</svg>
</body></html>
